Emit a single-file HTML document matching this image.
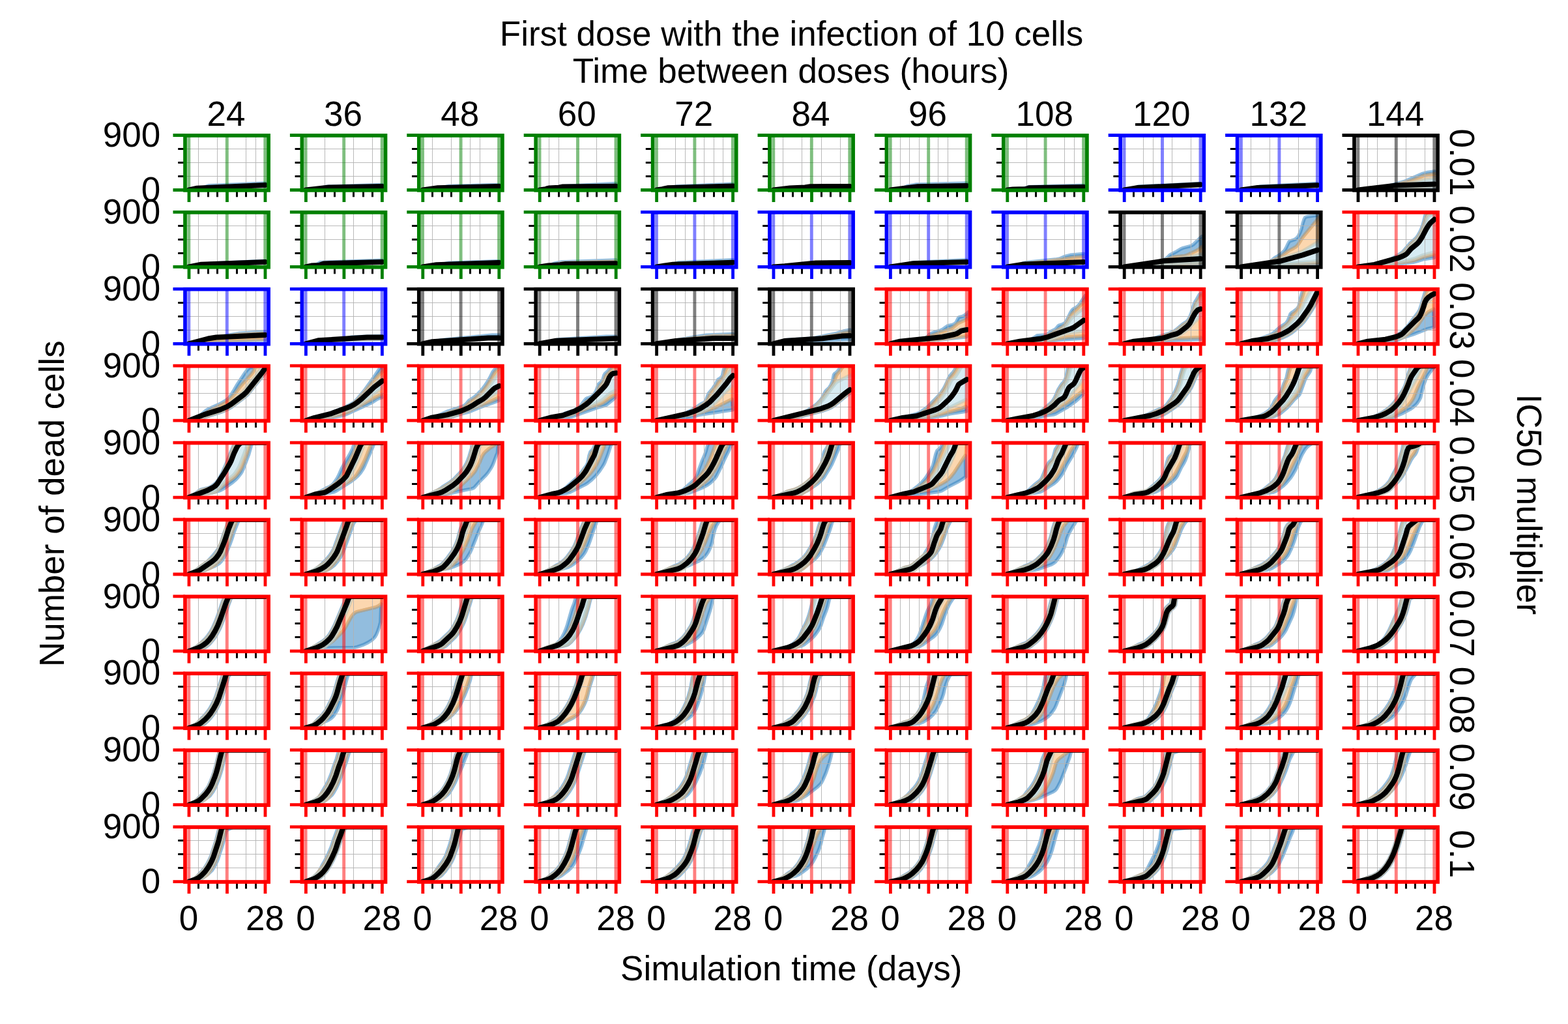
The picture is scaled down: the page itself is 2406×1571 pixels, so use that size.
<!DOCTYPE html>
<html lang="en"><head><meta charset="utf-8"><title>First dose with the infection of 10 cells</title>
<style>html,body{margin:0;padding:0;background:#fff}body{width:2406px;height:1571px;overflow:hidden}svg{display:block}text{font-family:"Liberation Sans",Arial,Helvetica,sans-serif;font-size:53px;fill:#000}.g{stroke:#b0b0b0;stroke-width:.88;fill:none}.m{stroke:#000;stroke-width:3;fill:none}.k{stroke:#000;stroke-width:8;fill:none;stroke-linejoin:round;stroke-linecap:round}.b{fill:#267cbd;stroke:#267cbd;fill-opacity:.5;stroke-opacity:.5;stroke-width:5.3;stroke-linejoin:round}.o{fill:#f9af5f;stroke:#f9af5f;fill-opacity:.5;stroke-opacity:.5;stroke-width:5.3;stroke-linejoin:round}.l{fill:#add8e6;stroke:#add8e6;fill-opacity:.5;stroke-opacity:.5;stroke-width:5.3;stroke-linejoin:round}.s{fill:none;stroke-width:5.7}.t{fill:none;stroke-width:4.8}.v{fill:none;stroke-opacity:.5;stroke-width:4.9}</style></head><body>
<svg xmlns="http://www.w3.org/2000/svg" width="2406" height="1571" viewBox="0 0 2406 1571">
<rect width="2406" height="1571" fill="#fff"/>
<defs>
<clipPath id="c0_0"><rect x="284" y="207.9" width="128.1" height="84"/></clipPath>
<clipPath id="c0_1"><rect x="463.4" y="207.9" width="128.1" height="84"/></clipPath>
<clipPath id="c0_2"><rect x="642.8" y="207.9" width="128.1" height="84"/></clipPath>
<clipPath id="c0_3"><rect x="822.2" y="207.9" width="128.1" height="84"/></clipPath>
<clipPath id="c0_4"><rect x="1001.6" y="207.9" width="128.1" height="84"/></clipPath>
<clipPath id="c0_5"><rect x="1181" y="207.9" width="128.1" height="84"/></clipPath>
<clipPath id="c0_6"><rect x="1360.4" y="207.9" width="128.1" height="84"/></clipPath>
<clipPath id="c0_7"><rect x="1539.8" y="207.9" width="128.1" height="84"/></clipPath>
<clipPath id="c0_8"><rect x="1719.2" y="207.9" width="128.1" height="84"/></clipPath>
<clipPath id="c0_9"><rect x="1898.6" y="207.9" width="128.1" height="84"/></clipPath>
<clipPath id="c0_10"><rect x="2078" y="207.9" width="128.1" height="84"/></clipPath>
<clipPath id="c1_0"><rect x="284" y="325.8" width="128.1" height="84"/></clipPath>
<clipPath id="c1_1"><rect x="463.4" y="325.8" width="128.1" height="84"/></clipPath>
<clipPath id="c1_2"><rect x="642.8" y="325.8" width="128.1" height="84"/></clipPath>
<clipPath id="c1_3"><rect x="822.2" y="325.8" width="128.1" height="84"/></clipPath>
<clipPath id="c1_4"><rect x="1001.6" y="325.8" width="128.1" height="84"/></clipPath>
<clipPath id="c1_5"><rect x="1181" y="325.8" width="128.1" height="84"/></clipPath>
<clipPath id="c1_6"><rect x="1360.4" y="325.8" width="128.1" height="84"/></clipPath>
<clipPath id="c1_7"><rect x="1539.8" y="325.8" width="128.1" height="84"/></clipPath>
<clipPath id="c1_8"><rect x="1719.2" y="325.8" width="128.1" height="84"/></clipPath>
<clipPath id="c1_9"><rect x="1898.6" y="325.8" width="128.1" height="84"/></clipPath>
<clipPath id="c1_10"><rect x="2078" y="325.8" width="128.1" height="84"/></clipPath>
<clipPath id="c2_0"><rect x="284" y="443.7" width="128.1" height="84"/></clipPath>
<clipPath id="c2_1"><rect x="463.4" y="443.7" width="128.1" height="84"/></clipPath>
<clipPath id="c2_2"><rect x="642.8" y="443.7" width="128.1" height="84"/></clipPath>
<clipPath id="c2_3"><rect x="822.2" y="443.7" width="128.1" height="84"/></clipPath>
<clipPath id="c2_4"><rect x="1001.6" y="443.7" width="128.1" height="84"/></clipPath>
<clipPath id="c2_5"><rect x="1181" y="443.7" width="128.1" height="84"/></clipPath>
<clipPath id="c2_6"><rect x="1360.4" y="443.7" width="128.1" height="84"/></clipPath>
<clipPath id="c2_7"><rect x="1539.8" y="443.7" width="128.1" height="84"/></clipPath>
<clipPath id="c2_8"><rect x="1719.2" y="443.7" width="128.1" height="84"/></clipPath>
<clipPath id="c2_9"><rect x="1898.6" y="443.7" width="128.1" height="84"/></clipPath>
<clipPath id="c2_10"><rect x="2078" y="443.7" width="128.1" height="84"/></clipPath>
<clipPath id="c3_0"><rect x="284" y="561.6" width="128.1" height="84"/></clipPath>
<clipPath id="c3_1"><rect x="463.4" y="561.6" width="128.1" height="84"/></clipPath>
<clipPath id="c3_2"><rect x="642.8" y="561.6" width="128.1" height="84"/></clipPath>
<clipPath id="c3_3"><rect x="822.2" y="561.6" width="128.1" height="84"/></clipPath>
<clipPath id="c3_4"><rect x="1001.6" y="561.6" width="128.1" height="84"/></clipPath>
<clipPath id="c3_5"><rect x="1181" y="561.6" width="128.1" height="84"/></clipPath>
<clipPath id="c3_6"><rect x="1360.4" y="561.6" width="128.1" height="84"/></clipPath>
<clipPath id="c3_7"><rect x="1539.8" y="561.6" width="128.1" height="84"/></clipPath>
<clipPath id="c3_8"><rect x="1719.2" y="561.6" width="128.1" height="84"/></clipPath>
<clipPath id="c3_9"><rect x="1898.6" y="561.6" width="128.1" height="84"/></clipPath>
<clipPath id="c3_10"><rect x="2078" y="561.6" width="128.1" height="84"/></clipPath>
<clipPath id="c4_0"><rect x="284" y="679.5" width="128.1" height="84"/></clipPath>
<clipPath id="c4_1"><rect x="463.4" y="679.5" width="128.1" height="84"/></clipPath>
<clipPath id="c4_2"><rect x="642.8" y="679.5" width="128.1" height="84"/></clipPath>
<clipPath id="c4_3"><rect x="822.2" y="679.5" width="128.1" height="84"/></clipPath>
<clipPath id="c4_4"><rect x="1001.6" y="679.5" width="128.1" height="84"/></clipPath>
<clipPath id="c4_5"><rect x="1181" y="679.5" width="128.1" height="84"/></clipPath>
<clipPath id="c4_6"><rect x="1360.4" y="679.5" width="128.1" height="84"/></clipPath>
<clipPath id="c4_7"><rect x="1539.8" y="679.5" width="128.1" height="84"/></clipPath>
<clipPath id="c4_8"><rect x="1719.2" y="679.5" width="128.1" height="84"/></clipPath>
<clipPath id="c4_9"><rect x="1898.6" y="679.5" width="128.1" height="84"/></clipPath>
<clipPath id="c4_10"><rect x="2078" y="679.5" width="128.1" height="84"/></clipPath>
<clipPath id="c5_0"><rect x="284" y="797.4" width="128.1" height="84"/></clipPath>
<clipPath id="c5_1"><rect x="463.4" y="797.4" width="128.1" height="84"/></clipPath>
<clipPath id="c5_2"><rect x="642.8" y="797.4" width="128.1" height="84"/></clipPath>
<clipPath id="c5_3"><rect x="822.2" y="797.4" width="128.1" height="84"/></clipPath>
<clipPath id="c5_4"><rect x="1001.6" y="797.4" width="128.1" height="84"/></clipPath>
<clipPath id="c5_5"><rect x="1181" y="797.4" width="128.1" height="84"/></clipPath>
<clipPath id="c5_6"><rect x="1360.4" y="797.4" width="128.1" height="84"/></clipPath>
<clipPath id="c5_7"><rect x="1539.8" y="797.4" width="128.1" height="84"/></clipPath>
<clipPath id="c5_8"><rect x="1719.2" y="797.4" width="128.1" height="84"/></clipPath>
<clipPath id="c5_9"><rect x="1898.6" y="797.4" width="128.1" height="84"/></clipPath>
<clipPath id="c5_10"><rect x="2078" y="797.4" width="128.1" height="84"/></clipPath>
<clipPath id="c6_0"><rect x="284" y="915.3" width="128.1" height="84"/></clipPath>
<clipPath id="c6_1"><rect x="463.4" y="915.3" width="128.1" height="84"/></clipPath>
<clipPath id="c6_2"><rect x="642.8" y="915.3" width="128.1" height="84"/></clipPath>
<clipPath id="c6_3"><rect x="822.2" y="915.3" width="128.1" height="84"/></clipPath>
<clipPath id="c6_4"><rect x="1001.6" y="915.3" width="128.1" height="84"/></clipPath>
<clipPath id="c6_5"><rect x="1181" y="915.3" width="128.1" height="84"/></clipPath>
<clipPath id="c6_6"><rect x="1360.4" y="915.3" width="128.1" height="84"/></clipPath>
<clipPath id="c6_7"><rect x="1539.8" y="915.3" width="128.1" height="84"/></clipPath>
<clipPath id="c6_8"><rect x="1719.2" y="915.3" width="128.1" height="84"/></clipPath>
<clipPath id="c6_9"><rect x="1898.6" y="915.3" width="128.1" height="84"/></clipPath>
<clipPath id="c6_10"><rect x="2078" y="915.3" width="128.1" height="84"/></clipPath>
<clipPath id="c7_0"><rect x="284" y="1033.2" width="128.1" height="84"/></clipPath>
<clipPath id="c7_1"><rect x="463.4" y="1033.2" width="128.1" height="84"/></clipPath>
<clipPath id="c7_2"><rect x="642.8" y="1033.2" width="128.1" height="84"/></clipPath>
<clipPath id="c7_3"><rect x="822.2" y="1033.2" width="128.1" height="84"/></clipPath>
<clipPath id="c7_4"><rect x="1001.6" y="1033.2" width="128.1" height="84"/></clipPath>
<clipPath id="c7_5"><rect x="1181" y="1033.2" width="128.1" height="84"/></clipPath>
<clipPath id="c7_6"><rect x="1360.4" y="1033.2" width="128.1" height="84"/></clipPath>
<clipPath id="c7_7"><rect x="1539.8" y="1033.2" width="128.1" height="84"/></clipPath>
<clipPath id="c7_8"><rect x="1719.2" y="1033.2" width="128.1" height="84"/></clipPath>
<clipPath id="c7_9"><rect x="1898.6" y="1033.2" width="128.1" height="84"/></clipPath>
<clipPath id="c7_10"><rect x="2078" y="1033.2" width="128.1" height="84"/></clipPath>
<clipPath id="c8_0"><rect x="284" y="1151.1" width="128.1" height="84"/></clipPath>
<clipPath id="c8_1"><rect x="463.4" y="1151.1" width="128.1" height="84"/></clipPath>
<clipPath id="c8_2"><rect x="642.8" y="1151.1" width="128.1" height="84"/></clipPath>
<clipPath id="c8_3"><rect x="822.2" y="1151.1" width="128.1" height="84"/></clipPath>
<clipPath id="c8_4"><rect x="1001.6" y="1151.1" width="128.1" height="84"/></clipPath>
<clipPath id="c8_5"><rect x="1181" y="1151.1" width="128.1" height="84"/></clipPath>
<clipPath id="c8_6"><rect x="1360.4" y="1151.1" width="128.1" height="84"/></clipPath>
<clipPath id="c8_7"><rect x="1539.8" y="1151.1" width="128.1" height="84"/></clipPath>
<clipPath id="c8_8"><rect x="1719.2" y="1151.1" width="128.1" height="84"/></clipPath>
<clipPath id="c8_9"><rect x="1898.6" y="1151.1" width="128.1" height="84"/></clipPath>
<clipPath id="c8_10"><rect x="2078" y="1151.1" width="128.1" height="84"/></clipPath>
<clipPath id="c9_0"><rect x="284" y="1269" width="128.1" height="84"/></clipPath>
<clipPath id="c9_1"><rect x="463.4" y="1269" width="128.1" height="84"/></clipPath>
<clipPath id="c9_2"><rect x="642.8" y="1269" width="128.1" height="84"/></clipPath>
<clipPath id="c9_3"><rect x="822.2" y="1269" width="128.1" height="84"/></clipPath>
<clipPath id="c9_4"><rect x="1001.6" y="1269" width="128.1" height="84"/></clipPath>
<clipPath id="c9_5"><rect x="1181" y="1269" width="128.1" height="84"/></clipPath>
<clipPath id="c9_6"><rect x="1360.4" y="1269" width="128.1" height="84"/></clipPath>
<clipPath id="c9_7"><rect x="1539.8" y="1269" width="128.1" height="84"/></clipPath>
<clipPath id="c9_8"><rect x="1719.2" y="1269" width="128.1" height="84"/></clipPath>
<clipPath id="c9_9"><rect x="1898.6" y="1269" width="128.1" height="84"/></clipPath>
<clipPath id="c9_10"><rect x="2078" y="1269" width="128.1" height="84"/></clipPath>
</defs>
<g>
<g clip-path="url(#c0_0)">
<path class="b" d="M290 291.4 303.2 290.7 309.7 288.8 320 284.7 407.1 280.8 407 284.1 302.5 288.7 290 291.5Z"/>
</g>
<path class="g" d="M304.5 207.5V291.5M333.5 207.5V291.5M377.5 207.5V291.5M392.5 207.5V291.5"/>
<path class="g" d="M284 270.5H412.1M284 249.5H412.1M284 228.5H412.1"/>
<path class="v" d="M289.8 207.5V291.5M348.3 207.5V291.5M406.8 207.5V291.5" stroke="#008000"/>
<path class="k" clip-path="url(#c0_0)" d="M290 291.5 302.5 288.7 407 284.1"/>
<path class="m" d="M304.5 291.5V302.3M319.5 291.5V302.3M333.5 291.5V302.3M363.5 291.5V302.3M377.5 291.5V302.3M392.5 291.5V302.3M284 270.5H273.2M284 249.5H273.2M284 228.5H273.2"/>
<path class="t" d="M290 291.5V310M348.5 291.5V310M407 291.5V310M284 291.5H265.5M284 207.5H265.5" stroke="#008000"/>
<rect class="s" x="284" y="207.9" width="128.1" height="84" stroke="#008000"/>
</g>
<g>
<g clip-path="url(#c0_1)">
<path class="b" d="M469.4 291.4 482.5 290.9 501.3 286.1 586.4 283.4 586.4 285.9 504.9 287.5 469.4 291.5Z"/>
</g>
<path class="g" d="M498.5 207.5V291.5M542.5 207.5V291.5M571.5 207.5V291.5"/>
<path class="g" d="M463.4 270.5H591.5M463.4 249.5H591.5M463.4 228.5H591.5"/>
<path class="v" d="M469.1 207.5V291.5M527.7 207.5V291.5M586.2 207.5V291.5" stroke="#008000"/>
<path class="k" clip-path="url(#c0_1)" d="M469.4 291.5 504.9 287.5 586.4 285.9"/>
<path class="m" d="M484.5 291.5V302.3M498.5 291.5V302.3M513.5 291.5V302.3M542.5 291.5V302.3M557.5 291.5V302.3M571.5 291.5V302.3M463.4 270.5H452.6M463.4 249.5H452.6M463.4 228.5H452.6"/>
<path class="t" d="M469.4 291.5V310M527.9 291.5V310M586.4 291.5V310M463.4 291.5H444.9M463.4 207.5H444.9" stroke="#008000"/>
<rect class="s" x="463.4" y="207.9" width="128.1" height="84" stroke="#008000"/>
</g>
<g>
<g clip-path="url(#c0_2)">
<path class="b" d="M648.8 291.4 662 291 688.9 285.3 765.8 283.4 765.8 285.9 671.8 288.2 648.8 291.5Z"/>
</g>
<path class="g" d="M663.5 207.5V291.5M692.5 207.5V291.5M721.5 207.5V291.5M736.5 207.5V291.5"/>
<path class="g" d="M642.8 270.5H770.9M642.8 249.5H770.9M642.8 228.5H770.9"/>
<path class="v" d="M648.5 207.5V291.5M707.1 207.5V291.5M765.6 207.5V291.5" stroke="#008000"/>
<path class="k" clip-path="url(#c0_2)" d="M648.8 291.5 671.8 288.2 765.8 285.9"/>
<path class="m" d="M663.5 291.5V302.3M678.5 291.5V302.3M692.5 291.5V302.3M721.5 291.5V302.3M736.5 291.5V302.3M751.5 291.5V302.3M642.8 270.5H632M642.8 249.5H632M642.8 228.5H632"/>
<path class="t" d="M648.8 291.5V310M707.3 291.5V310M765.8 291.5V310M642.8 291.5H624.3M642.8 207.5H624.3" stroke="#008000"/>
<rect class="s" x="642.8" y="207.9" width="128.1" height="84" stroke="#008000"/>
</g>
<g>
<g clip-path="url(#c0_3)">
<path class="b" d="M828.2 291.4 841.4 291 862.2 285.7 945.2 281.5 945.2 285.8 863.7 286.4 857.5 287.7 842.9 288.5 840.8 288.9 836.6 290.3 828.2 291.5Z"/>
</g>
<path class="g" d="M842.5 207.5V291.5M857.5 207.5V291.5M915.5 207.5V291.5"/>
<path class="g" d="M822.2 270.5H950.3M822.2 249.5H950.3M822.2 228.5H950.3"/>
<path class="v" d="M828 207.5V291.5M886.5 207.5V291.5M945 207.5V291.5" stroke="#008000"/>
<path class="k" clip-path="url(#c0_3)" d="M828.2 291.5 836.6 290.3 840.8 288.9 842.9 288.5 857.5 287.7 863.7 286.4 945.2 285.8"/>
<path class="m" d="M842.5 291.5V302.3M857.5 291.5V302.3M872.5 291.5V302.3M901.5 291.5V302.3M915.5 291.5V302.3M930.5 291.5V302.3M822.2 270.5H811.4M822.2 249.5H811.4M822.2 228.5H811.4"/>
<path class="t" d="M828.2 291.5V310M886.7 291.5V310M945.2 291.5V310M822.2 291.5H803.7M822.2 207.5H803.7" stroke="#008000"/>
<rect class="s" x="822.2" y="207.9" width="128.1" height="84" stroke="#008000"/>
</g>
<g>
<g clip-path="url(#c0_4)">
<path class="b" d="M1007.6 291.4 1020.8 290.7 1037.5 285.9 1124.7 282.1 1124.6 285.6 1024.3 288.3 1016 290.2 1007.6 291.5Z"/>
</g>
<path class="g" d="M1036.5 207.5V291.5M1051.5 207.5V291.5M1080.5 207.5V291.5M1095.5 207.5V291.5M1109.5 207.5V291.5"/>
<path class="g" d="M1001.6 270.5H1129.7M1001.6 249.5H1129.7M1001.6 228.5H1129.7"/>
<path class="v" d="M1007.4 207.5V291.5M1065.9 207.5V291.5M1124.4 207.5V291.5" stroke="#008000"/>
<path class="k" clip-path="url(#c0_4)" d="M1007.6 291.5 1016 290.2 1024.3 288.3 1124.6 285.6"/>
<path class="m" d="M1022.5 291.5V302.3M1036.5 291.5V302.3M1051.5 291.5V302.3M1080.5 291.5V302.3M1095.5 291.5V302.3M1109.5 291.5V302.3M1001.6 270.5H990.8M1001.6 249.5H990.8M1001.6 228.5H990.8"/>
<path class="t" d="M1007.6 291.5V310M1066.1 291.5V310M1124.6 291.5V310M1001.6 291.5H983.1M1001.6 207.5H983.1" stroke="#008000"/>
<rect class="s" x="1001.6" y="207.9" width="128.1" height="84" stroke="#008000"/>
</g>
<g>
<g clip-path="url(#c0_5)">
</g>
<path class="g" d="M1201.5 207.5V291.5M1230.5 207.5V291.5M1260.5 207.5V291.5M1289.5 207.5V291.5"/>
<path class="g" d="M1181 270.5H1309.1M1181 249.5H1309.1M1181 228.5H1309.1"/>
<path class="v" d="M1186.8 207.5V291.5M1245.3 207.5V291.5M1303.8 207.5V291.5" stroke="#008000"/>
<path class="k" clip-path="url(#c0_5)" d="M1187 291.5 1212.1 288.4 1235.1 287.4 1243.4 286.3 1304 285.9"/>
<path class="m" d="M1201.5 291.5V302.3M1216.5 291.5V302.3M1230.5 291.5V302.3M1260.5 291.5V302.3M1274.5 291.5V302.3M1289.5 291.5V302.3M1181 270.5H1170.2M1181 249.5H1170.2M1181 228.5H1170.2"/>
<path class="t" d="M1187 291.5V310M1245.5 291.5V310M1304 291.5V310M1181 291.5H1162.5M1181 207.5H1162.5" stroke="#008000"/>
<rect class="s" x="1181" y="207.9" width="128.1" height="84" stroke="#008000"/>
</g>
<g>
<g clip-path="url(#c0_6)">
<path class="b" d="M1366.4 291.4 1379.7 290.4 1386.3 288.2 1392.4 285.4 1406.4 282.9 1483.4 280.8 1483.4 285 1408.2 286.3 1366.4 291.5Z"/>
</g>
<path class="g" d="M1381.5 207.5V291.5M1395.5 207.5V291.5M1410.5 207.5V291.5M1439.5 207.5V291.5M1454.5 207.5V291.5"/>
<path class="g" d="M1360.4 270.5H1488.5M1360.4 249.5H1488.5M1360.4 228.5H1488.5"/>
<path class="v" d="M1366.2 207.5V291.5M1424.7 207.5V291.5M1483.2 207.5V291.5" stroke="#008000"/>
<path class="k" clip-path="url(#c0_6)" d="M1366.4 291.5 1408.2 286.3 1483.4 285"/>
<path class="m" d="M1381.5 291.5V302.3M1395.5 291.5V302.3M1410.5 291.5V302.3M1439.5 291.5V302.3M1454.5 291.5V302.3M1468.5 291.5V302.3M1360.4 270.5H1349.6M1360.4 249.5H1349.6M1360.4 228.5H1349.6"/>
<path class="t" d="M1366.4 291.5V310M1424.9 291.5V310M1483.4 291.5V310M1360.4 291.5H1341.9M1360.4 207.5H1341.9" stroke="#008000"/>
<rect class="s" x="1360.4" y="207.9" width="128.1" height="84" stroke="#008000"/>
</g>
<g>
<g clip-path="url(#c0_7)">
<path class="b" d="M1545.8 291.4 1558.8 292 1565.2 290.9 1577.8 286.7 1662.8 284.1 1662.8 287 1579.2 288.3 1575.1 289.8 1573 290 1554.2 290.4 1545.8 291.5Z"/>
</g>
<path class="g" d="M1575.5 207.5V291.5M1633.5 207.5V291.5M1648.5 207.5V291.5"/>
<path class="g" d="M1539.8 270.5H1667.9M1539.8 249.5H1667.9M1539.8 228.5H1667.9"/>
<path class="v" d="M1545.5 207.5V291.5M1604.1 207.5V291.5M1662.6 207.5V291.5" stroke="#008000"/>
<path class="k" clip-path="url(#c0_7)" d="M1545.8 291.5 1554.2 290.4 1573 290 1575.1 289.8 1579.2 288.3 1662.8 287"/>
<path class="m" d="M1560.5 291.5V302.3M1575.5 291.5V302.3M1589.5 291.5V302.3M1618.5 291.5V302.3M1633.5 291.5V302.3M1648.5 291.5V302.3M1539.8 270.5H1529M1539.8 249.5H1529M1539.8 228.5H1529"/>
<path class="t" d="M1545.8 291.5V310M1604.3 291.5V310M1662.8 291.5V310M1539.8 291.5H1521.3M1539.8 207.5H1521.3" stroke="#008000"/>
<rect class="s" x="1539.8" y="207.9" width="128.1" height="84" stroke="#008000"/>
</g>
<g>
<g clip-path="url(#c0_8)">
<path class="b" d="M1725.2 291.4 1738.8 289.4 1745 286.6 1746.8 286 1842.3 281.5 1842.2 283.2 1746.1 288 1725.2 291.5Z"/>
</g>
<path class="g" d="M1754.5 207.5V291.5M1769.5 207.5V291.5M1798.5 207.5V291.5M1827.5 207.5V291.5"/>
<path class="g" d="M1719.2 270.5H1847.3M1719.2 249.5H1847.3M1719.2 228.5H1847.3"/>
<path class="v" d="M1725 207.5V291.5M1783.5 207.5V291.5M1842 207.5V291.5" stroke="#0000ff"/>
<path class="k" clip-path="url(#c0_8)" d="M1725.2 291.5 1746.1 288 1842.2 283.2"/>
<path class="m" d="M1739.5 291.5V302.3M1754.5 291.5V302.3M1769.5 291.5V302.3M1798.5 291.5V302.3M1812.5 291.5V302.3M1827.5 291.5V302.3M1719.2 270.5H1708.4M1719.2 249.5H1708.4M1719.2 228.5H1708.4"/>
<path class="t" d="M1725.2 291.5V310M1783.7 291.5V310M1842.2 291.5V310M1719.2 291.5H1700.7M1719.2 207.5H1700.7" stroke="#0000ff"/>
<rect class="s" x="1719.2" y="207.9" width="128.1" height="84" stroke="#0000ff"/>
</g>
<g>
<g clip-path="url(#c0_9)">
<path class="b" d="M1904.6 291.4 1917.8 289.8 1934.3 285.9 2021.6 281.5 2021.6 284.2 1929.7 288 1904.6 291.5Z"/>
</g>
<path class="g" d="M1919.5 207.5V291.5M1948.5 207.5V291.5M1992.5 207.5V291.5"/>
<path class="g" d="M1898.6 270.5H2026.7M1898.6 249.5H2026.7M1898.6 228.5H2026.7"/>
<path class="v" d="M1904.4 207.5V291.5M1962.9 207.5V291.5M2021.4 207.5V291.5" stroke="#0000ff"/>
<path class="k" clip-path="url(#c0_9)" d="M1904.6 291.5 1929.7 288 2021.6 284.2"/>
<path class="m" d="M1919.5 291.5V302.3M1933.5 291.5V302.3M1948.5 291.5V302.3M1977.5 291.5V302.3M1992.5 291.5V302.3M2006.5 291.5V302.3M1898.6 270.5H1887.8M1898.6 249.5H1887.8M1898.6 228.5H1887.8"/>
<path class="t" d="M1904.6 291.5V310M1963.1 291.5V310M2021.6 291.5V310M1898.6 291.5H1880.1M1898.6 207.5H1880.1" stroke="#0000ff"/>
<rect class="s" x="1898.6" y="207.9" width="128.1" height="84" stroke="#0000ff"/>
</g>
<g>
<g clip-path="url(#c0_10)">
<path class="b" d="M2084 291.4 2096.9 292 2124.3 287 2155.9 278 2183.1 266.2 2188.9 264.7 2201.4 262.9 2201.4 266.7 2185.1 269.3 2170.5 275.3 2143.1 283.3 2096.9 292.2 2084 291.4Z"/>
<path class="b" d="M2084 291.4 2096.5 288.7 2200.9 285.6 2200.9 286.3 2096.5 288.7 2084 291.4Z"/>
<path class="o" d="M2084 291.4 2096.9 292.2 2143.1 283.3 2170.5 275.3 2185.1 269.3 2201.4 266.7 2201.4 273.5 2186.8 275.7 2149.3 284.4 2096.9 292.2 2084 291.4Z"/>
<path class="o" d="M2084 291.4 2096.5 288.5 2200.9 284.8 2200.9 285.6 2096.5 288.7 2084 291.4Z"/>
<path class="l" d="M2084 291.4 2096.9 292.2 2149.3 284.4 2186.8 275.7 2201.4 273.5 2200.9 284.8 2096.5 288.5 2084 291.4Z"/>
</g>
<path class="g" d="M2098.5 207.5V291.5M2113.5 207.5V291.5M2157.5 207.5V291.5M2186.5 207.5V291.5"/>
<path class="g" d="M2078 270.5H2206.1M2078 249.5H2206.1M2078 228.5H2206.1"/>
<path class="v" d="M2083.8 207.5V291.5M2142.3 207.5V291.5M2200.8 207.5V291.5" stroke="#000000"/>
<path class="k" clip-path="url(#c0_10)" d="M2084 291.4 2140.4 284.6 2201 282.5"/>
<path class="m" d="M2098.5 291.5V302.3M2113.5 291.5V302.3M2127.5 291.5V302.3M2157.5 291.5V302.3M2171.5 291.5V302.3M2186.5 291.5V302.3M2078 270.5H2067.2M2078 249.5H2067.2M2078 228.5H2067.2"/>
<path class="t" d="M2084 291.5V310M2142.5 291.5V310M2201 291.5V310M2078 291.5H2059.5M2078 207.5H2059.5" stroke="#000000"/>
<rect class="s" x="2078" y="207.9" width="128.1" height="84" stroke="#000000"/>
</g>
<g>
<g clip-path="url(#c1_0)">
<path class="b" d="M290 409.4 303.3 407.8 321.7 404.2 407.1 400.1 407 401.9 308.8 405.8 290 409.4Z"/>
</g>
<path class="g" d="M304.5 325.4V409.4M333.5 325.4V409.4M377.5 325.4V409.4M392.5 325.4V409.4"/>
<path class="g" d="M284 367.5H412.1M284 346.5H412.1"/>
<path class="v" d="M289.8 325.4V409.4M348.3 325.4V409.4M406.8 325.4V409.4" stroke="#008000"/>
<path class="k" clip-path="url(#c1_0)" d="M290 409.4 308.8 405.8 407 401.9"/>
<path class="m" d="M304.5 409.4V420.2M319.5 409.4V420.2M333.5 409.4V420.2M363.5 409.4V420.2M377.5 409.4V420.2M392.5 409.4V420.2M284 388.5H273.2M284 367.5H273.2M284 346.5H273.2"/>
<path class="t" d="M290 409.4V427.9M348.5 409.4V427.9M407 409.4V427.9M284 409.4H265.5M284 325.4H265.5" stroke="#008000"/>
<rect class="s" x="284" y="325.8" width="128.1" height="84" stroke="#008000"/>
</g>
<g>
<g clip-path="url(#c1_1)">
<path class="b" d="M469.4 409.4 480.6 408.1 483.1 407.6 489.6 403.3 491.3 402.4 586.4 399.1 586.4 401.9 496.6 404.4 490.3 406.7 488.2 407 477.8 407.6 469.4 409.4Z"/>
</g>
<path class="g" d="M498.5 325.4V409.4M542.5 325.4V409.4M571.5 325.4V409.4"/>
<path class="g" d="M463.4 367.5H591.5M463.4 346.5H591.5"/>
<path class="v" d="M469.1 325.4V409.4M527.7 325.4V409.4M586.2 325.4V409.4" stroke="#008000"/>
<path class="k" clip-path="url(#c1_1)" d="M469.4 409.4 477.8 407.6 488.2 407 490.3 406.7 496.6 404.4 586.4 401.9"/>
<path class="m" d="M484.5 409.4V420.2M498.5 409.4V420.2M513.5 409.4V420.2M542.5 409.4V420.2M557.5 409.4V420.2M571.5 409.4V420.2M463.4 388.5H452.6M463.4 367.5H452.6M463.4 346.5H452.6"/>
<path class="t" d="M469.4 409.4V427.9M527.9 409.4V427.9M586.4 409.4V427.9M463.4 409.4H444.9M463.4 325.4H444.9" stroke="#008000"/>
<rect class="s" x="463.4" y="325.8" width="128.1" height="84" stroke="#008000"/>
</g>
<g>
<g clip-path="url(#c1_2)">
<path class="b" d="M648.8 409.4 662 409 688.9 403.2 765.9 400.7 765.8 403 669.7 406.2 648.8 409.4Z"/>
</g>
<path class="g" d="M663.5 325.4V409.4M692.5 325.4V409.4M721.5 325.4V409.4M736.5 325.4V409.4"/>
<path class="g" d="M642.8 367.5H770.9M642.8 346.5H770.9"/>
<path class="v" d="M648.5 325.4V409.4M707.1 325.4V409.4M765.6 325.4V409.4" stroke="#008000"/>
<path class="k" clip-path="url(#c1_2)" d="M648.8 409.4 669.7 406.2 765.8 403"/>
<path class="m" d="M663.5 409.4V420.2M678.5 409.4V420.2M692.5 409.4V420.2M721.5 409.4V420.2M736.5 409.4V420.2M751.5 409.4V420.2M642.8 388.5H632M642.8 367.5H632M642.8 346.5H632"/>
<path class="t" d="M648.8 409.4V427.9M707.3 409.4V427.9M765.8 409.4V427.9M642.8 409.4H624.3M642.8 325.4H624.3" stroke="#008000"/>
<rect class="s" x="642.8" y="325.8" width="128.1" height="84" stroke="#008000"/>
</g>
<g>
<g clip-path="url(#c1_3)">
<path class="b" d="M828.2 409.4 839.3 408.8 841.7 408.5 844.1 407.4 850.1 404 862 401.8 945.2 398.8 945.2 401 864.2 403.3 841.4 408.6 828.2 409.4Z"/>
<path class="o" d="M828.2 409.4 841.4 408.6 864.2 403.3 945.2 401 945.2 404.2 867.9 405 859.6 406.2 840.8 407.5 828.2 409.4Z"/>
</g>
<path class="g" d="M842.5 325.4V409.4M857.5 325.4V409.4M915.5 325.4V409.4"/>
<path class="g" d="M822.2 367.5H950.3M822.2 346.5H950.3"/>
<path class="v" d="M828 325.4V409.4M886.5 325.4V409.4M945 325.4V409.4" stroke="#008000"/>
<path class="k" clip-path="url(#c1_3)" d="M828.2 409.4 840.8 407.5 859.6 406.2 867.9 405 945.2 404.2"/>
<path class="m" d="M842.5 409.4V420.2M857.5 409.4V420.2M872.5 409.4V420.2M901.5 409.4V420.2M915.5 409.4V420.2M930.5 409.4V420.2M822.2 388.5H811.4M822.2 367.5H811.4M822.2 346.5H811.4"/>
<path class="t" d="M828.2 409.4V427.9M886.7 409.4V427.9M945.2 409.4V427.9M822.2 409.4H803.7M822.2 325.4H803.7" stroke="#008000"/>
<rect class="s" x="822.2" y="325.8" width="128.1" height="84" stroke="#008000"/>
</g>
<g>
<g clip-path="url(#c1_4)">
<path class="b" d="M1007.6 409.4 1020.8 408.6 1041.6 402.6 1124.7 398.6 1124.6 402.7 1032.7 405.7 1007.6 409.4Z"/>
</g>
<path class="g" d="M1036.5 325.4V409.4M1051.5 325.4V409.4M1080.5 325.4V409.4M1095.5 325.4V409.4M1109.5 325.4V409.4"/>
<path class="g" d="M1001.6 367.5H1129.7M1001.6 346.5H1129.7"/>
<path class="v" d="M1007.4 325.4V409.4M1065.9 325.4V409.4M1124.4 325.4V409.4" stroke="#0000ff"/>
<path class="k" clip-path="url(#c1_4)" d="M1007.6 409.4 1032.7 405.7 1124.6 402.7"/>
<path class="m" d="M1022.5 409.4V420.2M1036.5 409.4V420.2M1051.5 409.4V420.2M1080.5 409.4V420.2M1095.5 409.4V420.2M1109.5 409.4V420.2M1001.6 388.5H990.8M1001.6 367.5H990.8M1001.6 346.5H990.8"/>
<path class="t" d="M1007.6 409.4V427.9M1066.1 409.4V427.9M1124.6 409.4V427.9M1001.6 409.4H983.1M1001.6 325.4H983.1" stroke="#0000ff"/>
<rect class="s" x="1001.6" y="325.8" width="128.1" height="84" stroke="#0000ff"/>
</g>
<g>
<g clip-path="url(#c1_5)">
</g>
<path class="g" d="M1201.5 325.4V409.4M1230.5 325.4V409.4M1260.5 325.4V409.4M1289.5 325.4V409.4"/>
<path class="g" d="M1181 367.5H1309.1M1181 346.5H1309.1"/>
<path class="v" d="M1186.8 325.4V409.4M1245.3 325.4V409.4M1303.8 325.4V409.4" stroke="#0000ff"/>
<path class="k" clip-path="url(#c1_5)" d="M1187 409.4 1203.7 408.2 1251.8 403.5 1304 403.1"/>
<path class="m" d="M1201.5 409.4V420.2M1216.5 409.4V420.2M1230.5 409.4V420.2M1260.5 409.4V420.2M1274.5 409.4V420.2M1289.5 409.4V420.2M1181 388.5H1170.2M1181 367.5H1170.2M1181 346.5H1170.2"/>
<path class="t" d="M1187 409.4V427.9M1245.5 409.4V427.9M1304 409.4V427.9M1181 409.4H1162.5M1181 325.4H1162.5" stroke="#0000ff"/>
<rect class="s" x="1181" y="325.8" width="128.1" height="84" stroke="#0000ff"/>
</g>
<g>
<g clip-path="url(#c1_6)">
<path class="b" d="M1366.4 409.4 1379.7 408.5 1400.4 402.6 1483.4 398.6 1483.4 401.9 1401.9 404.3 1366.4 409.4Z"/>
</g>
<path class="g" d="M1381.5 325.4V409.4M1395.5 325.4V409.4M1410.5 325.4V409.4M1439.5 325.4V409.4M1454.5 325.4V409.4"/>
<path class="g" d="M1360.4 367.5H1488.5M1360.4 346.5H1488.5"/>
<path class="v" d="M1366.2 325.4V409.4M1424.7 325.4V409.4M1483.2 325.4V409.4" stroke="#0000ff"/>
<path class="k" clip-path="url(#c1_6)" d="M1366.4 409.4 1401.9 404.3 1483.4 401.9"/>
<path class="m" d="M1381.5 409.4V420.2M1395.5 409.4V420.2M1410.5 409.4V420.2M1439.5 409.4V420.2M1454.5 409.4V420.2M1468.5 409.4V420.2M1360.4 388.5H1349.6M1360.4 367.5H1349.6M1360.4 346.5H1349.6"/>
<path class="t" d="M1366.4 409.4V427.9M1424.9 409.4V427.9M1483.4 409.4V427.9M1360.4 409.4H1341.9M1360.4 325.4H1341.9" stroke="#0000ff"/>
<rect class="s" x="1360.4" y="325.8" width="128.1" height="84" stroke="#0000ff"/>
</g>
<g>
<g clip-path="url(#c1_7)">
<path class="b" d="M1545.8 409.4 1556.9 408.6 1559.3 408.3 1569.7 403.7 1573.4 402.7 1619.3 398 1625.8 396.8 1628.2 396 1634.4 393.2 1642.4 391.2 1662.9 389.5 1663 393.8 1646.3 395.2 1629.8 398 1571.6 404.6 1559.1 408.7 1545.8 409.4Z"/>
<path class="o" d="M1545.8 409.4 1559.1 408.7 1571.6 404.6 1629.8 398 1646.3 395.2 1663 393.8 1662.8 401.9 1570.9 405.4 1545.8 409.4Z"/>
</g>
<path class="g" d="M1575.5 325.4V409.4M1633.5 325.4V409.4M1648.5 325.4V409.4"/>
<path class="g" d="M1539.8 367.5H1667.9M1539.8 346.5H1667.9"/>
<path class="v" d="M1545.5 325.4V409.4M1604.1 325.4V409.4M1662.6 325.4V409.4" stroke="#0000ff"/>
<path class="k" clip-path="url(#c1_7)" d="M1545.8 409.4 1570.9 405.4 1662.8 401.9"/>
<path class="m" d="M1560.5 409.4V420.2M1575.5 409.4V420.2M1589.5 409.4V420.2M1618.5 409.4V420.2M1633.5 409.4V420.2M1648.5 409.4V420.2M1539.8 388.5H1529M1539.8 367.5H1529M1539.8 346.5H1529"/>
<path class="t" d="M1545.8 409.4V427.9M1604.3 409.4V427.9M1662.8 409.4V427.9M1539.8 409.4H1521.3M1539.8 325.4H1521.3" stroke="#0000ff"/>
<rect class="s" x="1539.8" y="325.8" width="128.1" height="84" stroke="#0000ff"/>
</g>
<g>
<g clip-path="url(#c1_8)">
<path class="b" d="M1725.2 409.4 1738.2 409.8 1773.9 402.8 1782.5 400.1 1787 398.2 1789.5 396.6 1793.9 392.3 1795.6 390.8 1805.9 385.6 1812.1 381.8 1815.8 380.3 1826.4 377.6 1828.8 376.6 1831.3 375 1844.1 362.7 1843.8 378.8 1839.6 382.2 1835.1 384.9 1824.5 390 1819.9 391.9 1817.6 392.4 1801.1 394.2 1792.9 397 1767.6 404.1 1738.1 409.9 1725.2 409.4Z"/>
<path class="b" d="M1725.2 409.4 1737.7 406.9 1842.1 403.6 1842.1 404.5 1737.7 406.9 1725.2 409.4Z"/>
<path class="o" d="M1725.2 409.4 1738.1 409.9 1767.6 404.1 1792.9 397 1801.1 394.2 1817.6 392.4 1819.9 391.9 1824.5 390 1835.1 384.9 1839.6 382.2 1843.8 378.8 1842.9 389.9 1830.3 393.1 1738.1 410 1725.2 409.4Z"/>
<path class="o" d="M1725.2 409.4 1737.7 406.8 1842 402.1 1842.1 403.6 1737.7 406.9 1725.2 409.4Z"/>
<path class="l" d="M1725.2 409.4 1738.1 410 1830.3 393.1 1842.9 389.9 1842 402.1 1737.7 406.8 1725.2 409.4Z"/>
</g>
<path class="g" d="M1754.5 325.4V409.4M1769.5 325.4V409.4M1798.5 325.4V409.4M1827.5 325.4V409.4"/>
<path class="g" d="M1719.2 367.5H1847.3M1719.2 346.5H1847.3"/>
<path class="v" d="M1725 325.4V409.4M1783.5 325.4V409.4M1842 325.4V409.4" stroke="#000000"/>
<path class="k" clip-path="url(#c1_8)" d="M1725.2 409.4 1785.8 400.3 1842.2 397"/>
<path class="m" d="M1739.5 409.4V420.2M1754.5 409.4V420.2M1769.5 409.4V420.2M1798.5 409.4V420.2M1812.5 409.4V420.2M1827.5 409.4V420.2M1719.2 388.5H1708.4M1719.2 367.5H1708.4M1719.2 346.5H1708.4"/>
<path class="t" d="M1725.2 409.4V427.9M1783.7 409.4V427.9M1842.2 409.4V427.9M1719.2 409.4H1700.7M1719.2 325.4H1700.7" stroke="#000000"/>
<rect class="s" x="1719.2" y="325.8" width="128.1" height="84" stroke="#000000"/>
</g>
<g>
<g clip-path="url(#c1_9)">
<path class="b" d="M1904.6 409.4 1917.5 410.1 1932.4 407.6 1938.9 405.8 1945.4 403.1 1950 400.6 1956.3 395.2 1962.4 391.7 1964.7 390.2 1967 388.4 1969.2 386.2 1971.6 383.4 1973.8 379.5 1975.9 374.9 1977.8 371.3 1979.2 370 1984.9 368.1 1987.4 367 1990.1 365 1992.6 361.5 1994.8 357 1997 351 1999.1 342.3 2001.1 336.3 2002.7 333.4 2005.6 332.4 2021.9 330.2 2023.7 333.7 2019.5 339.3 1998.7 364.4 1992.4 374.3 1990.1 377.2 1987.6 379.2 1985.3 380.6 1977.1 385 1966.7 392.7 1960.1 396.5 1938.9 406.1 1932.3 407.9 1917.5 410.2 1904.6 409.4Z"/>
<path class="b" d="M1904.6 409.4 1917.1 406.9 2021.5 403.6 2021.6 405.9 1917.1 406.9 1904.6 409.4Z"/>
<path class="o" d="M1904.6 409.4 1917.5 410.2 1932.3 407.9 1938.9 406.1 1960.1 396.5 1966.7 392.7 1977.1 385 1985.3 380.6 1987.6 379.2 1990.1 377.2 1992.4 374.3 1998.7 364.4 2019.5 339.3 2023.7 333.7 2023 370.7 2006.3 381.1 1999.8 384.9 1991.2 388.5 1970.2 395.1 1947.3 403.8 1934.4 407.7 1917.5 410.3 1904.6 409.4Z"/>
<path class="o" d="M1904.6 409.4 1917.1 406.7 1960.8 405.4 2021.4 400.6 2021.5 403.6 1917.1 406.9 1904.6 409.4Z"/>
<path class="l" d="M1904.6 409.4 1917.5 410.3 1934.4 407.7 1947.3 403.8 1970.2 395.1 1991.2 388.5 1999.8 384.9 2006.3 381.1 2023 370.7 2021.4 400.6 1960.8 405.4 1917.1 406.7 1904.6 409.4Z"/>
</g>
<path class="g" d="M1919.5 325.4V409.4M1948.5 325.4V409.4M1992.5 325.4V409.4"/>
<path class="g" d="M1898.6 367.5H2026.7M1898.6 346.5H2026.7"/>
<path class="v" d="M1904.4 325.4V409.4M1962.9 325.4V409.4M2021.4 325.4V409.4" stroke="#000000"/>
<path class="k" clip-path="url(#c1_9)" d="M1904.6 409.4 1965.2 400.5 1998.6 391.4 2021.6 383.6"/>
<path class="m" d="M1919.5 409.4V420.2M1933.5 409.4V420.2M1948.5 409.4V420.2M1977.5 409.4V420.2M1992.5 409.4V420.2M2006.5 409.4V420.2M1898.6 388.5H1887.8M1898.6 367.5H1887.8M1898.6 346.5H1887.8"/>
<path class="t" d="M1904.6 409.4V427.9M1963.1 409.4V427.9M2021.6 409.4V427.9M1898.6 409.4H1880.1M1898.6 325.4H1880.1" stroke="#000000"/>
<rect class="s" x="1898.6" y="325.8" width="128.1" height="84" stroke="#000000"/>
</g>
<g>
<g clip-path="url(#c1_10)">
<path class="b" d="M2084 409.4 2096.9 410 2109.7 407.6 2122.6 403.3 2131.1 399.6 2148.2 389.5 2152.7 386 2163.2 373.8 2171.6 366.3 2173.9 363.7 2176.1 360.4 2178.3 356.6 2180.5 352 2182.6 346.4 2184.8 339.2 2186.8 330.5 2188.2 328.3 2211.6 325.4 2237.6 325.4 2191.4 328.6 2190.2 329.2 2188.8 330.8 2184.7 345.3 2182.6 351.3 2180.4 356.1 2178.2 360.2 2176 363.6 2173.7 366.4 2171.5 368.7 2165.3 374 2154.8 386.1 2152.6 388.2 2148.2 391.5 2141.7 395.5 2131 400.5 2109.7 407.9 2096.9 410.1 2084 409.4Z"/>
<path class="b" d="M2084 409.4 2096.5 406.7 2127.7 405.9 2164.9 400.6 2171 399.2 2183.5 394.4 2200.5 390.7 2200.6 395.3 2183.6 398 2175.1 400.8 2169.2 402.3 2136 406 2096.5 406.9 2084 409.4Z"/>
<path class="o" d="M2084 409.4 2096.9 410.1 2109.7 407.9 2131 400.5 2141.7 395.5 2148.2 391.5 2152.6 388.2 2154.8 386.1 2165.3 374 2171.5 368.7 2173.7 366.4 2176 363.6 2178.2 360.2 2180.4 356.1 2182.6 351.3 2184.7 345.3 2188.8 330.8 2190.2 329.2 2191.4 328.6 2237.6 325.4 2201.5 328.7 2197.3 329.4 2193.8 330.3 2192.2 331.3 2190.8 332.5 2188.9 337.7 2186.8 345 2184.7 350.7 2182.5 355.7 2180.3 359.8 2178.1 363.4 2175.9 366.4 2173.7 369 2167.4 375 2154.7 388.4 2148.2 393.7 2143.7 396.3 2137.2 399.2 2109.7 408.1 2096.9 410.2 2084 409.4Z"/>
<path class="o" d="M2084 409.4 2096.5 406.6 2125.5 405.5 2162.8 398.8 2170.9 396.6 2183.4 391.5 2200.4 387 2200.5 390.7 2183.5 394.4 2171 399.2 2164.9 400.6 2127.7 405.9 2096.5 406.7 2084 409.4Z"/>
<path class="l" d="M2084 409.4 2096.9 410.2 2109.7 408.1 2137.2 399.2 2143.7 396.3 2148.2 393.7 2154.7 388.4 2167.4 375 2173.7 369 2175.9 366.4 2178.1 363.4 2180.3 359.8 2182.5 355.7 2184.7 350.7 2186.8 345 2188.9 337.7 2190.8 332.5 2192.2 331.3 2193.8 330.3 2197.3 329.4 2201.5 328.7 2200.4 387 2183.4 391.5 2170.9 396.6 2162.8 398.8 2125.5 405.5 2096.5 406.6 2084 409.4Z"/>
</g>
<path class="g" d="M2098.5 325.4V409.4M2113.5 325.4V409.4M2157.5 325.4V409.4M2186.5 325.4V409.4"/>
<path class="g" d="M2078 367.5H2206.1M2078 346.5H2206.1"/>
<path class="v" d="M2083.8 325.4V409.4M2142.3 325.4V409.4M2200.8 325.4V409.4" stroke="#ff0000"/>
<path class="k" clip-path="url(#c1_10)" d="M2084 409.4 2109.1 405.9 2146.7 395.4 2152.9 392.8 2157.1 390.5 2159.2 388.7 2163.4 383.7 2165.5 381.4 2173.8 374.6 2175.9 372.6 2178 370.1 2182.2 363.5 2188.5 351.3 2192.6 344.9 2194.7 342.3 2201 336.6"/>
<path class="m" d="M2098.5 409.4V420.2M2113.5 409.4V420.2M2127.5 409.4V420.2M2157.5 409.4V420.2M2171.5 409.4V420.2M2186.5 409.4V420.2M2078 388.5H2067.2M2078 367.5H2067.2M2078 346.5H2067.2"/>
<path class="t" d="M2084 409.4V427.9M2142.5 409.4V427.9M2201 409.4V427.9M2078 409.4H2059.5M2078 325.4H2059.5" stroke="#ff0000"/>
<rect class="s" x="2078" y="325.8" width="128.1" height="84" stroke="#ff0000"/>
</g>
<g>
<g clip-path="url(#c2_0)">
<path class="b" d="M290 527.3 303.3 526.1 342.8 515.7 367.6 511.1 407.1 509 407.1 511.1 363.5 513.2 303.3 526.2 290 527.3Z"/>
<path class="b" d="M290 527.3 302.4 524 406.9 520.3 406.9 521.4 302.5 524.5 290 527.3Z"/>
<path class="o" d="M290 527.3 303.3 526.2 363.5 513.2 407.1 511.1 407 513.9 331.8 517.5 319.3 519.5 290 527.3Z"/>
<path class="o" d="M290 527.3 319.3 519.5 331.8 517.5 407 513.9 406.9 520.3 302.4 524 290 527.3Z"/>
</g>
<path class="g" d="M304.5 443.3V527.3M333.5 443.3V527.3M377.5 443.3V527.3M392.5 443.3V527.3"/>
<path class="g" d="M284 506.5H412.1M284 485.5H412.1M284 464.5H412.1"/>
<path class="v" d="M289.8 443.3V527.3M348.3 443.3V527.3M406.8 443.3V527.3" stroke="#0000ff"/>
<path class="k" clip-path="url(#c2_0)" d="M290 527.3 319.3 519.5 331.8 517.5 407 513.9"/>
<path class="m" d="M304.5 527.3V538.1M319.5 527.3V538.1M333.5 527.3V538.1M363.5 527.3V538.1M377.5 527.3V538.1M392.5 527.3V538.1M284 506.5H273.2M284 485.5H273.2M284 464.5H273.2"/>
<path class="t" d="M290 527.3V545.8M348.5 527.3V545.8M407 527.3V545.8M284 527.3H265.5M284 443.3H265.5" stroke="#0000ff"/>
<rect class="s" x="284" y="443.7" width="128.1" height="84" stroke="#0000ff"/>
</g>
<g>
<g clip-path="url(#c2_1)">
<path class="b" d="M469.4 527.3 482.7 525.9 490.8 523.9 528.4 519.8 538.9 517 586.5 515.3 586.4 517.5 563.4 517.5 488.2 522.3 469.4 527.3Z"/>
<path class="b" d="M469.4 527.3 481.8 524.3 521.3 522.2 531.8 520.8 586.3 519.6 586.3 520.3 534 521.4 521.4 522.7 481.9 524.4 469.4 527.3Z"/>
<path class="o" d="M469.4 527.3 488.2 522.3 563.4 517.5 586.4 517.5 586.3 519.6 531.8 520.8 521.3 522.2 481.8 524.3 469.4 527.3Z"/>
</g>
<path class="g" d="M498.5 443.3V527.3M542.5 443.3V527.3M571.5 443.3V527.3"/>
<path class="g" d="M463.4 506.5H591.5M463.4 485.5H591.5M463.4 464.5H591.5"/>
<path class="v" d="M469.1 443.3V527.3M527.7 443.3V527.3M586.2 443.3V527.3" stroke="#0000ff"/>
<path class="k" clip-path="url(#c2_1)" d="M469.4 527.3 488.2 522.3 563.4 517.5 586.4 517.5"/>
<path class="m" d="M484.5 527.3V538.1M498.5 527.3V538.1M513.5 527.3V538.1M542.5 527.3V538.1M557.5 527.3V538.1M571.5 527.3V538.1M463.4 506.5H452.6M463.4 485.5H452.6M463.4 464.5H452.6"/>
<path class="t" d="M469.4 527.3V545.8M527.9 527.3V545.8M586.4 527.3V545.8M463.4 527.3H444.9M463.4 443.3H444.9" stroke="#0000ff"/>
<rect class="s" x="463.4" y="443.7" width="128.1" height="84" stroke="#0000ff"/>
</g>
<g>
<g clip-path="url(#c2_2)">
<path class="b" d="M648.8 527.3 662.2 525.8 676.6 521.6 755.4 513.9 765.8 513.8 765.8 518.5 749.1 518.5 663.5 524.2 648.8 527.3Z"/>
</g>
<path class="g" d="M663.5 443.3V527.3M692.5 443.3V527.3M721.5 443.3V527.3M736.5 443.3V527.3"/>
<path class="g" d="M642.8 506.5H770.9M642.8 485.5H770.9M642.8 464.5H770.9"/>
<path class="v" d="M648.5 443.3V527.3M707.1 443.3V527.3M765.6 443.3V527.3" stroke="#000000"/>
<path class="k" clip-path="url(#c2_2)" d="M648.8 527.3 663.5 524.2 749.1 518.5 765.8 518.5"/>
<path class="m" d="M663.5 527.3V538.1M678.5 527.3V538.1M692.5 527.3V538.1M721.5 527.3V538.1M736.5 527.3V538.1M751.5 527.3V538.1M642.8 506.5H632M642.8 485.5H632M642.8 464.5H632"/>
<path class="t" d="M648.8 527.3V545.8M707.3 527.3V545.8M765.8 527.3V545.8M642.8 527.3H624.3M642.8 443.3H624.3" stroke="#000000"/>
<rect class="s" x="642.8" y="443.7" width="128.1" height="84" stroke="#000000"/>
</g>
<g>
<g clip-path="url(#c2_3)">
<path class="b" d="M828.2 527.3 841.7 525.2 851.9 521.8 857.8 520.7 930.6 516.1 945.2 516.1 945.2 519.3 853.3 522.8 828.2 527.3Z"/>
</g>
<path class="g" d="M842.5 443.3V527.3M857.5 443.3V527.3M915.5 443.3V527.3"/>
<path class="g" d="M822.2 506.5H950.3M822.2 485.5H950.3M822.2 464.5H950.3"/>
<path class="v" d="M828 443.3V527.3M886.5 443.3V527.3M945 443.3V527.3" stroke="#000000"/>
<path class="k" clip-path="url(#c2_3)" d="M828.2 527.3 853.3 522.8 945.2 519.3"/>
<path class="m" d="M842.5 527.3V538.1M857.5 527.3V538.1M872.5 527.3V538.1M901.5 527.3V538.1M915.5 527.3V538.1M930.5 527.3V538.1M822.2 506.5H811.4M822.2 485.5H811.4M822.2 464.5H811.4"/>
<path class="t" d="M828.2 527.3V545.8M886.7 527.3V545.8M945.2 527.3V545.8M822.2 527.3H803.7M822.2 443.3H803.7" stroke="#000000"/>
<rect class="s" x="822.2" y="443.7" width="128.1" height="84" stroke="#000000"/>
</g>
<g>
<g clip-path="url(#c2_4)">
<path class="b" d="M1007.6 527.3 1020.9 526.2 1043.6 520.5 1083.1 514.1 1124.7 512.3 1124.7 514.6 1093.4 515.4 1039.4 521.6 1020.9 526.2 1007.6 527.3Z"/>
<path class="o" d="M1007.6 527.3 1020.9 526.2 1039.4 521.6 1093.4 515.4 1124.7 514.6 1124.6 518.9 1095.4 518.9 1036.9 523 1007.6 527.3Z"/>
</g>
<path class="g" d="M1036.5 443.3V527.3M1051.5 443.3V527.3M1080.5 443.3V527.3M1095.5 443.3V527.3M1109.5 443.3V527.3"/>
<path class="g" d="M1001.6 506.5H1129.7M1001.6 485.5H1129.7M1001.6 464.5H1129.7"/>
<path class="v" d="M1007.4 443.3V527.3M1065.9 443.3V527.3M1124.4 443.3V527.3" stroke="#000000"/>
<path class="k" clip-path="url(#c2_4)" d="M1007.6 527.3 1036.9 523 1095.4 518.9 1124.6 518.9"/>
<path class="m" d="M1022.5 527.3V538.1M1036.5 527.3V538.1M1051.5 527.3V538.1M1080.5 527.3V538.1M1095.5 527.3V538.1M1109.5 527.3V538.1M1001.6 506.5H990.8M1001.6 485.5H990.8M1001.6 464.5H990.8"/>
<path class="t" d="M1007.6 527.3V545.8M1066.1 527.3V545.8M1124.6 527.3V545.8M1001.6 527.3H983.1M1001.6 443.3H983.1" stroke="#000000"/>
<rect class="s" x="1001.6" y="443.7" width="128.1" height="84" stroke="#000000"/>
</g>
<g>
<g clip-path="url(#c2_5)">
<path class="b" d="M1187 527.3 1200.7 523.1 1204.5 521.6 1247.9 518.9 1283.8 511.3 1294.2 507.9 1304.4 506.2 1304.2 510 1294 510.9 1283.7 513.6 1247.9 519.9 1204.4 522.6 1200.5 524 1187 527.3Z"/>
<path class="b" d="M1187 527.3 1203.7 523 1262.2 519.2 1291.5 515.6 1304 515 1303.9 520.9 1199.5 524.6 1187 527.3Z"/>
<path class="o" d="M1187 527.3 1200.5 524 1204.4 522.6 1247.9 519.9 1283.7 513.6 1294 510.9 1304.2 510 1304.4 513 1252.1 520.5 1204.3 523.4 1200.5 524.6 1187 527.3Z"/>
<path class="l" d="M1187 527.3 1200.5 524.6 1204.3 523.4 1252.1 520.5 1304.4 513 1304 515 1291.5 515.6 1262.2 519.2 1203.7 523 1187 527.3Z"/>
</g>
<path class="g" d="M1201.5 443.3V527.3M1230.5 443.3V527.3M1260.5 443.3V527.3M1289.5 443.3V527.3"/>
<path class="g" d="M1181 506.5H1309.1M1181 485.5H1309.1M1181 464.5H1309.1"/>
<path class="v" d="M1186.8 443.3V527.3M1245.3 443.3V527.3M1303.8 443.3V527.3" stroke="#000000"/>
<path class="k" clip-path="url(#c2_5)" d="M1187 527.3 1203.7 523 1262.2 519.2 1291.5 515.6 1304 515"/>
<path class="m" d="M1201.5 527.3V538.1M1216.5 527.3V538.1M1230.5 527.3V538.1M1260.5 527.3V538.1M1274.5 527.3V538.1M1289.5 527.3V538.1M1181 506.5H1170.2M1181 485.5H1170.2M1181 464.5H1170.2"/>
<path class="t" d="M1187 527.3V545.8M1245.5 527.3V545.8M1304 527.3V545.8M1181 527.3H1162.5M1181 443.3H1162.5" stroke="#000000"/>
<rect class="s" x="1181" y="443.7" width="128.1" height="84" stroke="#000000"/>
</g>
<g>
<g clip-path="url(#c2_6)">
<path class="b" d="M1366.4 527.3 1379.4 527.4 1415.2 520.1 1419.8 518.6 1422.5 517 1426.5 512.6 1434.1 509.4 1442.5 507 1444.8 506.1 1447.2 504.7 1453.3 500.3 1455 499.6 1461.1 498.3 1463.7 497.4 1466.7 495.1 1470.8 487.2 1471.9 486.6 1475.7 485.7 1478.3 484.8 1480.8 483.1 1485.2 479.1 1484.5 489.3 1470.2 495.8 1461.9 502.7 1459.5 504 1457.2 505 1413.3 520.8 1404.6 523.3 1379.4 527.8 1366.4 527.3Z"/>
<path class="b" d="M1366.4 527.3 1378.9 524.4 1430.9 521.9 1483.1 515.3 1483.1 516.8 1433 522.2 1378.9 524.5 1366.4 527.3Z"/>
<path class="o" d="M1366.4 527.3 1379.4 527.8 1404.6 523.3 1413.3 520.8 1457.2 505 1459.5 504 1461.9 502.7 1470.2 495.8 1484.5 489.3 1483.8 503.2 1475.5 504.6 1469.7 506.1 1459.2 510.9 1446.4 514.8 1379.4 527.8 1366.4 527.3Z"/>
<path class="o" d="M1366.4 527.3 1381.1 523.7 1445.8 517 1464.6 513 1468.7 511.6 1475 507.6 1483.4 505.9 1483.1 515.3 1430.9 521.9 1378.9 524.4 1366.4 527.3Z"/>
<path class="l" d="M1366.4 527.3 1379.4 527.8 1446.4 514.8 1459.2 510.9 1469.7 506.1 1475.5 504.6 1483.8 503.2 1483.4 505.9 1475 507.6 1468.7 511.6 1464.6 513 1445.8 517 1381.1 523.7 1366.4 527.3Z"/>
</g>
<path class="g" d="M1381.5 443.3V527.3M1395.5 443.3V527.3M1410.5 443.3V527.3M1439.5 443.3V527.3M1454.5 443.3V527.3"/>
<path class="g" d="M1360.4 506.5H1488.5M1360.4 485.5H1488.5M1360.4 464.5H1488.5"/>
<path class="v" d="M1366.2 443.3V527.3M1424.7 443.3V527.3M1483.2 443.3V527.3" stroke="#ff0000"/>
<path class="k" clip-path="url(#c2_6)" d="M1366.4 527.3 1381.1 523.7 1445.8 517 1464.6 513 1468.7 511.6 1475 507.6 1483.4 505.9"/>
<path class="m" d="M1381.5 527.3V538.1M1395.5 527.3V538.1M1410.5 527.3V538.1M1439.5 527.3V538.1M1454.5 527.3V538.1M1468.5 527.3V538.1M1360.4 506.5H1349.6M1360.4 485.5H1349.6M1360.4 464.5H1349.6"/>
<path class="t" d="M1366.4 527.3V545.8M1424.9 527.3V545.8M1483.4 527.3V545.8M1360.4 527.3H1341.9M1360.4 443.3H1341.9" stroke="#ff0000"/>
<rect class="s" x="1360.4" y="443.7" width="128.1" height="84" stroke="#ff0000"/>
</g>
<g>
<g clip-path="url(#c2_7)">
<path class="b" d="M1545.8 527.3 1558.9 527 1575.9 522.9 1580.2 521.5 1582.6 520.5 1590.8 515.1 1592.3 514.6 1602.4 514 1605.1 513.7 1608 512.3 1612 508.7 1618.3 505.7 1620.9 503.6 1623 500.7 1624.6 499.3 1630.3 497.4 1632.8 496.3 1635.7 493.9 1642.1 480.6 1644.1 477 1645.8 474.8 1647.5 473.6 1651.7 471.4 1654.2 469.4 1656.6 466.5 1665 453.7 1664.7 461.5 1643.9 482.6 1642 484.9 1638 493.1 1635.7 497 1633.2 499.4 1628.7 502.8 1609.7 513.9 1605.3 515.9 1598.8 518.1 1558.9 527.2 1545.8 527.3Z"/>
<path class="b" d="M1545.8 527.3 1558.3 524.5 1606.1 522.7 1637.4 517.2 1662.6 515.3 1662.6 519.1 1625 521.4 1606.2 523.9 1558.3 524.7 1545.8 527.3Z"/>
<path class="o" d="M1545.8 527.3 1558.9 527.2 1598.8 518.1 1605.3 515.9 1609.7 513.9 1628.7 502.8 1633.2 499.4 1635.7 497 1638 493.1 1642 484.9 1643.9 482.6 1664.7 461.5 1664.2 472.6 1654 479.4 1645.8 486.6 1641.9 491 1637.8 497.2 1635.5 500.2 1631 504.3 1624.5 508.9 1616 513.7 1607.3 517.5 1600.8 519.5 1558.8 527.5 1545.8 527.3Z"/>
<path class="o" d="M1545.8 527.3 1558.3 524.3 1604 522.2 1609.9 521.1 1636.9 511.6 1662.5 507.8 1662.6 515.3 1637.4 517.2 1606.1 522.7 1558.3 524.5 1545.8 527.3Z"/>
<path class="l" d="M1545.8 527.3 1558.8 527.5 1600.8 519.5 1607.3 517.5 1616 513.7 1624.5 508.9 1631 504.3 1635.5 500.2 1637.8 497.2 1641.9 491 1645.8 486.6 1654 479.4 1664.2 472.6 1662.5 507.8 1636.9 511.6 1609.9 521.1 1604 522.2 1558.3 524.3 1545.8 527.3Z"/>
</g>
<path class="g" d="M1575.5 443.3V527.3M1633.5 443.3V527.3M1648.5 443.3V527.3"/>
<path class="g" d="M1539.8 506.5H1667.9M1539.8 485.5H1667.9M1539.8 464.5H1667.9"/>
<path class="v" d="M1545.5 443.3V527.3M1604.1 443.3V527.3M1662.6 443.3V527.3" stroke="#ff0000"/>
<path class="k" clip-path="url(#c2_7)" d="M1545.8 527.3 1564.6 523.6 1595.9 519.8 1606.4 517.4 1644 504 1648.1 502.1 1662.8 491.5"/>
<path class="m" d="M1560.5 527.3V538.1M1575.5 527.3V538.1M1589.5 527.3V538.1M1618.5 527.3V538.1M1633.5 527.3V538.1M1648.5 527.3V538.1M1539.8 506.5H1529M1539.8 485.5H1529M1539.8 464.5H1529"/>
<path class="t" d="M1545.8 527.3V545.8M1604.3 527.3V545.8M1662.8 527.3V545.8M1539.8 527.3H1521.3M1539.8 443.3H1521.3" stroke="#ff0000"/>
<rect class="s" x="1539.8" y="443.7" width="128.1" height="84" stroke="#ff0000"/>
</g>
<g>
<g clip-path="url(#c2_8)">
<path class="b" d="M1725.2 527.3 1738.3 527.2 1763.6 521.3 1795.1 510.9 1799.5 509 1801.8 507.9 1804.1 506.3 1814.5 497.5 1818.6 494.8 1821 493 1823.5 490.4 1825.8 486 1828 480.5 1832.2 466.3 1834.1 462.5 1836.1 459.4 1840.2 452.1 1841.6 450.8 1843.3 450.1 1844.1 452.5 1842.2 454.5 1836.1 463.7 1834.2 467.2 1830.1 480.5 1827.9 485.8 1825.6 490.3 1823.2 493.2 1820.8 495.2 1814.6 499.3 1806.2 506.3 1801.7 509.4 1797.3 511.5 1771.8 520.2 1738.2 527.3 1725.2 527.3Z"/>
<path class="b" d="M1725.2 527.3 1737.6 524.3 1785.5 521.6 1802.3 519.1 1842.2 517.6 1842.2 520.6 1737.7 524.5 1725.2 527.3Z"/>
<path class="o" d="M1725.2 527.3 1738.2 527.3 1771.8 520.2 1797.3 511.5 1801.7 509.4 1806.2 506.3 1814.6 499.3 1820.8 495.2 1823.2 493.2 1825.6 490.3 1827.9 485.8 1830.1 480.5 1834.2 467.2 1836.1 463.7 1842.2 454.5 1844.1 452.5 1844.2 457.7 1842.1 460 1838.2 465.1 1836.2 468.3 1834.3 473.6 1832.2 480.5 1830 485.8 1827.7 490.1 1825.4 493.2 1823.1 495.6 1806.1 508.3 1801.6 511 1793 514.7 1780.2 518.7 1738.2 527.5 1725.2 527.3Z"/>
<path class="o" d="M1725.2 527.3 1737.6 524 1785.5 520.4 1799.7 517.6 1805.7 515.7 1811.6 512.7 1817.6 509 1821.6 505.6 1840.3 486.6 1842.2 517.6 1802.3 519.1 1785.5 521.6 1737.6 524.3 1725.2 527.3Z"/>
<path class="l" d="M1725.2 527.3 1738.2 527.5 1780.2 518.7 1793 514.7 1801.6 511 1806.1 508.3 1823.1 495.6 1825.4 493.2 1827.7 490.1 1830 485.8 1832.2 480.5 1834.3 473.6 1836.2 468.3 1838.2 465.1 1842.1 460 1844.2 457.7 1840.3 486.6 1821.6 505.6 1817.6 509 1811.6 512.7 1805.7 515.7 1799.7 517.6 1785.5 520.4 1737.6 524 1725.2 527.3Z"/>
</g>
<path class="g" d="M1754.5 443.3V527.3M1769.5 443.3V527.3M1798.5 443.3V527.3M1827.5 443.3V527.3"/>
<path class="g" d="M1719.2 506.5H1847.3M1719.2 485.5H1847.3M1719.2 464.5H1847.3"/>
<path class="v" d="M1725 443.3V527.3M1783.5 443.3V527.3M1842 443.3V527.3" stroke="#ff0000"/>
<path class="k" clip-path="url(#c2_8)" d="M1725.2 527.3 1739.8 523.7 1781.6 519.1 1785.8 518.2 1796.2 514.7 1804.6 512.4 1806.7 511.6 1810.9 509.2 1821.3 500.8 1823.4 498.7 1825.5 496.2 1827.6 492.4 1829.7 487.8 1833.8 480.5 1835.9 477.8 1838 475.6 1840.1 474.6 1842.2 474.1"/>
<path class="m" d="M1739.5 527.3V538.1M1754.5 527.3V538.1M1769.5 527.3V538.1M1798.5 527.3V538.1M1812.5 527.3V538.1M1827.5 527.3V538.1M1719.2 506.5H1708.4M1719.2 485.5H1708.4M1719.2 464.5H1708.4"/>
<path class="t" d="M1725.2 527.3V545.8M1783.7 527.3V545.8M1842.2 527.3V545.8M1719.2 527.3H1700.7M1719.2 443.3H1700.7" stroke="#ff0000"/>
<rect class="s" x="1719.2" y="443.7" width="128.1" height="84" stroke="#ff0000"/>
</g>
<g>
<g clip-path="url(#c2_9)">
<path class="b" d="M1904.6 527.3 1918 525.2 1947.4 514.4 1951.9 512.3 1954.2 510.8 1964.7 501.2 1970.8 497.6 1973.4 495.6 1975.9 492.1 1980 481.6 1981.6 480 1985.5 477.4 1990.1 473.7 1992.8 470 1994.9 460 1997 451.6 1998.9 446.1 2004.7 443.3 2021.6 443.3 2021.6 443.3 2005.2 443.3 2001 446.3 1999.1 453.6 1992.7 471.6 1990.3 475.9 1987.9 478.5 1984 481.8 1982.2 484.9 1980.1 489.6 1977.9 494 1975.4 496.8 1973.1 498.8 1968.9 501.9 1958.4 510.9 1956.1 512.4 1953.8 513.6 1947.3 516.4 1918 525.7 1904.6 527.3Z"/>
<path class="b" d="M1904.6 527.3 1922 526.4 1926.1 526.4 1942.9 524.3 1956 521 1966.8 517.2 1975.6 512.9 1980 510.3 1986.7 505.2 1995.3 497.4 1999.7 492.6 2004.1 486.7 2012.6 473.8 2016.9 466.1 2025.3 449.6 2026.6 450.3 2018.3 466.8 2013.9 474.6 2005.4 487.6 2000.9 493.6 1996.4 498.5 1987.6 506.4 1980.8 511.6 1976.3 514.3 1967.3 518.6 1956.4 522.5 1943.2 525.8 1932.3 527.1 1922 526.4 1904.6 527.3Z"/>
<path class="o" d="M1904.6 527.3 1918 525.7 1947.3 516.4 1953.8 513.6 1956.1 512.4 1958.4 510.9 1968.9 501.9 1973.1 498.8 1975.4 496.8 1977.9 494 1980.1 489.6 1982.2 484.9 1984 481.8 1987.9 478.5 1990.3 475.9 1992.7 471.6 1999.1 453.6 2001 446.3 2005.2 443.3 2021.6 443.3 2021.6 443.3 2012 443.3 2012 445.8 2011 445.8 2003.1 460.2 2001 464.3 1999 469.6 1996.8 474.1 1994.5 477.5 1986 488.4 1977.5 497.9 1971.1 504 1960.4 512.3 1955.9 514.8 1949.3 517.4 1917.9 526 1904.6 527.3Z"/>
<path class="o" d="M1904.6 527.3 1917.8 526.5 1944.8 522.4 1959.8 518.2 1968.4 514.9 1977 510.4 1981.4 507.5 1992.1 498.4 1996.4 494.1 2000.7 488.9 2011.3 473 2015.6 465.4 2023.9 448.9 2025.3 449.6 2016.9 466.1 2012.6 473.8 2004.1 486.7 1999.7 492.6 1995.3 497.4 1986.7 505.2 1980 510.3 1975.6 512.9 1966.8 517.2 1956 521 1942.9 524.3 1926.1 526.4 1922 526.4 1904.6 527.3Z"/>
<path class="l" d="M1904.6 527.3 1917.9 526 1949.3 517.4 1955.9 514.8 1960.4 512.3 1971.1 504 1977.5 497.9 1986 488.4 1994.5 477.5 1996.8 474.1 1999 469.6 2001 464.3 2003.1 460.2 2011 445.8 2012 445.8 2012 443.3 2021.6 443.3 2023.9 448.9 2015.6 465.4 2011.3 473 2000.7 488.9 1996.4 494.1 1992.1 498.4 1981.4 507.5 1977 510.4 1968.4 514.9 1959.8 518.2 1944.8 522.4 1917.8 526.5 1904.6 527.3Z"/>
</g>
<path class="g" d="M1919.5 443.3V527.3M1948.5 443.3V527.3M1992.5 443.3V527.3"/>
<path class="g" d="M1898.6 506.5H2026.7M1898.6 485.5H2026.7M1898.6 464.5H2026.7"/>
<path class="v" d="M1904.4 443.3V527.3M1962.9 443.3V527.3M2021.4 443.3V527.3" stroke="#ff0000"/>
<path class="k" clip-path="url(#c2_9)" d="M1904.6 527.3 1921.3 523 1944.3 519.8 1958.9 515.7 1967.3 512.5 1975.6 508.1 1979.8 505.4 1990.3 496.5 1996.5 489.9 2007 475 2011.2 468.1 2021.6 447.6"/>
<path class="m" d="M1919.5 527.3V538.1M1933.5 527.3V538.1M1948.5 527.3V538.1M1977.5 527.3V538.1M1992.5 527.3V538.1M2006.5 527.3V538.1M1898.6 506.5H1887.8M1898.6 485.5H1887.8M1898.6 464.5H1887.8"/>
<path class="t" d="M1904.6 527.3V545.8M1963.1 527.3V545.8M2021.6 527.3V545.8M1898.6 527.3H1880.1M1898.6 443.3H1880.1" stroke="#ff0000"/>
<rect class="s" x="1898.6" y="443.7" width="128.1" height="84" stroke="#ff0000"/>
</g>
<g>
<g clip-path="url(#c2_10)">
<path class="b" d="M2084 527.3 2097 527.6 2120.2 523.2 2128.7 520.8 2137.4 517.2 2146 512.5 2150.4 509.5 2154.8 505.7 2161.2 498.8 2176.1 479.1 2178.4 474.9 2180.5 468.6 2186.7 447.8 2189.5 443.3 2201 443.3 2201 443.3 2191.6 443.3 2188.8 447.9 2186.8 453.3 2184.7 460.7 2180.5 474.4 2178.2 479.1 2176 482.5 2163.3 499.2 2156.9 506 2152.5 509.9 2148 512.8 2139.4 517.4 2130.8 520.9 2120.1 523.9 2096.9 527.8 2084 527.3Z"/>
<path class="b" d="M2084 527.3 2096.4 523.9 2142.1 520 2150.1 518.6 2153.8 517 2161.8 511.7 2167.9 506.8 2174 500.7 2175.9 498.4 2182.1 489.3 2186.4 483.7 2188.7 481.2 2191 479.1 2199.7 474.1 2200.4 501.8 2189.7 504.8 2168.7 513 2152 518.3 2145.6 521.3 2141.9 522.7 2140.1 522.9 2096.5 524.5 2084 527.3Z"/>
<path class="o" d="M2084 527.3 2096.9 527.8 2120.1 523.9 2130.8 520.9 2139.4 517.4 2148 512.8 2152.5 509.9 2156.9 506 2163.3 499.2 2176 482.5 2178.2 479.1 2180.5 474.4 2184.7 460.7 2186.8 453.3 2188.8 447.9 2191.6 443.3 2201 443.3 2201 450.7 2196.8 452.7 2192.6 455.5 2190.6 457.4 2188.5 459.9 2186.4 463.9 2184.3 471 2182.2 477.1 2180.1 482.4 2178 486.1 2175.9 488.5 2171.8 492.2 2152.9 511.1 2150.9 512.8 2146.7 514.9 2140.4 517.2 2125.8 520.7 2098.6 523.7 2084 527.3Z"/>
<path class="o" d="M2084 527.3 2096.3 523.7 2137.9 519.8 2149.9 517.4 2151.6 516.6 2155.4 513.5 2165.7 503.9 2169.7 499.6 2173.8 494.5 2175.7 491.5 2186.1 470.4 2188.3 466.5 2190.6 463.4 2193 461.2 2199.4 456.1 2199.7 474.1 2191 479.1 2188.7 481.2 2186.4 483.7 2182.1 489.3 2175.9 498.4 2174 500.7 2167.9 506.8 2161.8 511.7 2153.8 517 2150.1 518.6 2142.1 520 2096.4 523.9 2084 527.3Z"/>
<path class="l" d="M2084 527.3 2098.6 523.7 2125.8 520.7 2140.4 517.2 2146.7 514.9 2150.9 512.8 2152.9 511.1 2171.8 492.2 2175.9 488.5 2178 486.1 2180.1 482.4 2182.2 477.1 2184.3 471 2186.4 463.9 2188.5 459.9 2190.6 457.4 2192.6 455.5 2196.8 452.7 2201 450.7 2199.4 456.1 2193 461.2 2190.6 463.4 2188.3 466.5 2186.1 470.4 2175.7 491.5 2173.8 494.5 2169.7 499.6 2165.7 503.9 2155.4 513.5 2151.6 516.6 2149.9 517.4 2137.9 519.8 2096.3 523.7 2084 527.3Z"/>
</g>
<path class="g" d="M2098.5 443.3V527.3M2113.5 443.3V527.3M2157.5 443.3V527.3M2186.5 443.3V527.3"/>
<path class="g" d="M2078 506.5H2206.1M2078 485.5H2206.1M2078 464.5H2206.1"/>
<path class="v" d="M2083.8 443.3V527.3M2142.3 443.3V527.3M2200.8 443.3V527.3" stroke="#ff0000"/>
<path class="k" clip-path="url(#c2_10)" d="M2084 527.3 2098.6 523.7 2125.8 520.7 2140.4 517.2 2146.7 514.9 2150.9 512.8 2152.9 511.1 2171.8 492.2 2175.9 488.5 2178 486.1 2180.1 482.4 2182.2 477.1 2184.3 471 2186.4 463.9 2188.5 459.9 2190.6 457.4 2192.6 455.5 2196.8 452.7 2201 450.7"/>
<path class="m" d="M2098.5 527.3V538.1M2113.5 527.3V538.1M2127.5 527.3V538.1M2157.5 527.3V538.1M2171.5 527.3V538.1M2186.5 527.3V538.1M2078 506.5H2067.2M2078 485.5H2067.2M2078 464.5H2067.2"/>
<path class="t" d="M2084 527.3V545.8M2142.5 527.3V545.8M2201 527.3V545.8M2078 527.3H2059.5M2078 443.3H2059.5" stroke="#ff0000"/>
<rect class="s" x="2078" y="443.7" width="128.1" height="84" stroke="#ff0000"/>
</g>
<g>
<g clip-path="url(#c3_0)">
<path class="b" d="M290 645.2 301.8 640.6 308.3 636.3 316.6 629.2 320.3 627.1 337.2 619.7 345.7 614.9 348 613.3 350.4 611.4 352.7 608.7 359.1 598.4 363.3 591 375.7 572.2 379.7 567.3 383.2 564 409.3 561.2 407 561.2 393.5 561.2 390.5 566 388.4 570.6 386.1 573.7 369.4 592.2 361 603.5 354.6 610.6 350.1 614.6 345.7 617.6 301.7 641.2 290 645.2Z"/>
<path class="b" d="M290 645.2 305.8 642.1 341.3 630.5 349.9 626.6 356.5 622.6 375.6 608.1 380 604 405.3 572.6 409.5 566.7 410.4 567.3 406.1 573.2 380.8 604.7 376.3 608.9 357.1 623.4 350.4 627.5 339.5 632.3 310.2 641.4 290 645.2Z"/>
<path class="o" d="M290 645.2 301.7 641.2 345.7 617.6 350.1 614.6 354.6 610.6 361 603.5 369.4 592.2 386.1 573.7 388.4 570.6 390.5 566 393.5 561.2 407 561.2 407 561.2 404.5 561.2 400.7 565 392.4 576.7 386.1 584.2 375.6 598 369.2 604.8 356.4 616.1 349.9 620.8 343.4 624.4 303.7 641.4 290 645.2Z"/>
<path class="o" d="M290 645.2 301.3 642.9 317.8 636.9 338.8 630.4 349.5 625.8 356 621.8 375 607.5 379.4 603.3 404.6 572 408.8 566.1 409.5 566.7 405.3 572.6 380 604 375.6 608.1 356.5 622.6 349.9 626.6 341.3 630.5 305.8 642.1 290 645.2Z"/>
<path class="l" d="M290 645.2 303.7 641.4 343.4 624.4 349.9 620.8 356.4 616.1 369.2 604.8 375.6 598 386.1 584.2 392.4 576.7 400.7 565 404.5 561.2 407 561.2 408.8 566.1 404.6 572 379.4 603.3 375 607.5 356 621.8 349.5 625.8 338.8 630.4 317.8 636.9 301.3 642.9 290 645.2Z"/>
</g>
<path class="g" d="M304.5 561.2V645.2M333.5 561.2V645.2M377.5 561.2V645.2M392.5 561.2V645.2"/>
<path class="g" d="M284 624.5H412.1M284 603.5H412.1M284 582.5H412.1"/>
<path class="v" d="M289.8 561.2V645.2M348.3 561.2V645.2M406.8 561.2V645.2" stroke="#ff0000"/>
<path class="k" clip-path="url(#c3_0)" d="M290 645.2 313 636.1 338.1 628.4 348.5 623.9 354.8 620 373.6 605.8 377.8 601.9 402.8 570.7 407 564.9"/>
<path class="m" d="M304.5 645.2V656M319.5 645.2V656M333.5 645.2V656M363.5 645.2V656M377.5 645.2V656M392.5 645.2V656M284 624.5H273.2M284 603.5H273.2M284 582.5H273.2"/>
<path class="t" d="M290 645.2V663.7M348.5 645.2V663.7M407 645.2V663.7M284 645.2H265.5M284 561.2H265.5" stroke="#ff0000"/>
<rect class="s" x="284" y="561.6" width="128.1" height="84" stroke="#ff0000"/>
</g>
<g>
<g clip-path="url(#c3_1)">
<path class="b" d="M469.4 645.2 482.9 642.6 524.8 626.7 537.5 620.6 542 617.9 544.3 616.2 546.6 613.9 559.3 598.7 576.1 575 582.3 565.4 585.8 561.2 586.4 561.2 588.1 569.1 584 572.7 580 576.7 548.6 613.7 544.2 617.8 539.8 621 533.3 624.8 522.6 629.8 482.7 643.6 469.4 645.2Z"/>
<path class="b" d="M469.4 645.2 481.8 641.7 510.8 638.8 527.1 634.9 535.1 631.7 585.2 604.9 585.7 610 581.4 611.2 578.9 612.2 570.5 617.9 533.1 634.9 527.2 637.2 510.9 640.5 481.9 642.2 469.4 645.2Z"/>
<path class="o" d="M469.4 645.2 482.7 643.6 522.6 629.8 533.3 624.8 539.8 621 544.2 617.8 548.6 613.7 580 576.7 584 572.7 588.1 569.1 588.1 578.2 573.6 590.5 546.4 618.3 541.9 621.7 535.4 625.5 524.7 630.3 482.7 643.9 469.4 645.2Z"/>
<path class="o" d="M469.4 645.2 481.7 641.3 508.5 637.5 535.3 629 543.4 625.4 566 610.7 584.7 595.4 585.2 604.9 535.1 631.7 527.1 634.9 510.8 638.8 481.8 641.7 469.4 645.2Z"/>
<path class="l" d="M469.4 645.2 482.7 643.9 524.7 630.3 535.4 625.5 541.9 621.7 546.4 618.3 573.6 590.5 588.1 578.2 584.7 595.4 566 610.7 543.4 625.4 535.3 629 508.5 637.5 481.7 641.3 469.4 645.2Z"/>
</g>
<path class="g" d="M498.5 561.2V645.2M542.5 561.2V645.2M571.5 561.2V645.2"/>
<path class="g" d="M463.4 624.5H591.5M463.4 603.5H591.5M463.4 582.5H591.5"/>
<path class="v" d="M469.1 561.2V645.2M527.7 561.2V645.2M586.2 561.2V645.2" stroke="#ff0000"/>
<path class="k" clip-path="url(#c3_1)" d="M469.4 645.2 481.9 641.1 507 634.9 536.3 624.3 542.5 621.2 548.8 616.9 555.1 611.8 573.9 594.1 586.4 584.5"/>
<path class="m" d="M484.5 645.2V656M498.5 645.2V656M513.5 645.2V656M542.5 645.2V656M557.5 645.2V656M571.5 645.2V656M463.4 624.5H452.6M463.4 603.5H452.6M463.4 582.5H452.6"/>
<path class="t" d="M469.4 645.2V663.7M527.9 645.2V663.7M586.4 645.2V663.7M463.4 645.2H444.9M463.4 561.2H444.9" stroke="#ff0000"/>
<rect class="s" x="463.4" y="561.6" width="128.1" height="84" stroke="#ff0000"/>
</g>
<g>
<g clip-path="url(#c3_2)">
<path class="b" d="M648.8 645.2 662.5 641.9 687.4 630.7 708.2 623.9 710.5 623 713 621.7 715.5 619.4 719.6 614.5 727.7 609.2 732.1 605.3 738.6 598.5 742.9 593.2 747.1 587 751.4 579.9 755.6 571.3 757.4 568.7 759.3 566.6 761.1 565.1 762.7 564.2 777.2 561.2 769.9 561.2 763.4 566.8 759.5 571.2 757.6 574 753.5 581.7 747.1 592.1 742.7 597.7 734.2 607 729.8 611 721.5 616.5 719.6 618.1 715.3 622.6 712.8 624.3 708.2 626.4 691.4 631.9 662.2 643.4 648.8 645.2Z"/>
<path class="b" d="M648.8 645.2 661.2 641.9 690.2 639.5 694 638.7 750.1 617 764.6 610.1 764.9 614.8 752.2 619.5 735.6 625.2 719 632.2 708.8 634.8 694.1 639.4 690.3 640.1 661.3 642.1 648.8 645.2Z"/>
<path class="o" d="M648.8 645.2 662.2 643.4 691.4 631.9 708.2 626.4 712.8 624.3 715.3 622.6 719.6 618.1 721.5 616.5 729.8 611 734.2 607 742.7 597.7 747.1 592.1 753.5 581.7 757.6 574 759.5 571.2 763.4 566.8 769.9 561.2 767.7 570.5 763.6 574.8 759.6 579.9 749.1 595.3 744.8 600.8 738.4 607.8 729.9 615.8 721.3 622.1 714.8 626.1 708.2 629 662.1 643.9 648.8 645.2Z"/>
<path class="o" d="M648.8 645.2 661.2 641.8 690.1 638.9 694 638 731.2 622.6 737.2 619.3 764.3 601.2 764.6 610.1 750.1 617 694 638.7 690.2 639.5 661.2 641.9 648.8 645.2Z"/>
<path class="l" d="M648.8 645.2 662.1 643.9 708.2 629 714.8 626.1 721.3 622.1 729.9 615.8 738.4 607.8 744.8 600.8 749.1 595.3 759.6 579.9 763.6 574.8 767.7 570.5 764.3 601.2 737.2 619.3 731.2 622.6 694 638 690.1 638.9 661.2 641.8 648.8 645.2Z"/>
</g>
<path class="g" d="M663.5 561.2V645.2M692.5 561.2V645.2M721.5 561.2V645.2M736.5 561.2V645.2"/>
<path class="g" d="M642.8 624.5H770.9M642.8 603.5H770.9M642.8 582.5H770.9"/>
<path class="v" d="M648.5 561.2V645.2M707.1 561.2V645.2M765.6 561.2V645.2" stroke="#ff0000"/>
<path class="k" clip-path="url(#c3_2)" d="M648.8 645.2 661.4 641 686.4 636.4 707.3 630.7 717.7 626.2 724 622.8 734.4 616.2 740.7 612.6 744.9 609.4 753.2 601.2 757.4 596.9 759.5 595.3 765.8 592.1"/>
<path class="m" d="M663.5 645.2V656M678.5 645.2V656M692.5 645.2V656M721.5 645.2V656M736.5 645.2V656M751.5 645.2V656M642.8 624.5H632M642.8 603.5H632M642.8 582.5H632"/>
<path class="t" d="M648.8 645.2V663.7M707.3 645.2V663.7M765.8 645.2V663.7M642.8 645.2H624.3M642.8 561.2H624.3" stroke="#ff0000"/>
<rect class="s" x="642.8" y="561.6" width="128.1" height="84" stroke="#ff0000"/>
</g>
<g>
<g clip-path="url(#c3_3)">
<path class="b" d="M828.2 645.2 841.5 643.9 856.4 639 860.8 637.1 866.8 634 879.3 630 883.7 628.1 886 626.8 888.4 625.2 890.9 622.6 897.1 614.1 898.9 612 900.4 611.1 904.4 609.8 906.9 608.7 909.4 606.9 911.7 604.4 914.2 600.9 918.3 589.6 919.8 588 922 586.3 924.7 582.9 926.8 575.9 928.5 572.9 932.5 569.5 936.6 564.5 942.4 561.2 945.2 561.2 946.6 561.2 940.8 564.4 938.8 567 930.7 575.3 928.8 578.4 926.7 584 924.4 587.9 922.2 590.4 920.4 592.8 916.2 602.9 913.9 606.2 911.5 608.8 909.2 610.7 902.7 614.4 896.8 618.8 894.9 620.6 890.7 625.4 888.3 627.5 886 629 881.6 631.3 862.5 638.9 841.4 644.7 828.2 645.2Z"/>
<path class="b" d="M828.2 645.2 840.5 641.2 873.7 636.8 879.6 635.4 906.7 624.2 921.3 619.9 925 618.2 937.5 609.4 943.8 605.7 943.4 610.6 939.2 614.3 931.3 620.8 927.6 622.4 917.3 625.2 877.6 639.3 871.7 640.7 840.7 642.3 828.2 645.2Z"/>
<path class="o" d="M828.2 645.2 841.4 644.7 862.5 638.9 881.6 631.3 886 629 888.3 627.5 890.7 625.4 894.9 620.6 896.8 618.8 902.7 614.4 909.2 610.7 911.5 608.8 913.9 606.2 916.2 602.9 920.4 592.8 922.2 590.4 924.4 587.9 926.7 584 928.8 578.4 930.7 575.3 938.8 567 940.8 564.4 946.6 561.2 946.5 566.4 942.5 568.7 940.7 570.2 932.7 578.7 930.8 581.7 928.7 586.1 926.5 590.1 922.3 596.1 918.2 603 915.9 606.4 913.7 608.9 909.3 613 890.2 627.9 885.8 630.4 873.1 636.3 858.2 641.4 841.3 645.2 828.2 645.2Z"/>
<path class="o" d="M828.2 645.2 840.5 641 871.5 636.3 877.6 634.9 881.4 633.4 891.8 627.7 921 615.7 922.9 614.7 926.7 611.7 933 605.8 935.2 604 937.6 602.5 944.1 599.5 943.8 605.7 937.5 609.4 925 618.2 921.3 619.9 906.7 624.2 879.6 635.4 873.7 636.8 840.5 641.2 828.2 645.2Z"/>
<path class="l" d="M828.2 645.2 841.3 645.2 858.2 641.4 873.1 636.3 885.8 630.4 890.2 627.9 909.3 613 913.7 608.9 915.9 606.4 918.2 603 922.3 596.1 926.5 590.1 928.7 586.1 930.8 581.7 932.7 578.7 940.7 570.2 942.5 568.7 946.5 566.4 944.1 599.5 937.6 602.5 935.2 604 933 605.8 926.7 611.7 922.9 614.7 921 615.7 891.8 627.7 881.4 633.4 877.6 634.9 871.5 636.3 840.5 641 828.2 645.2Z"/>
</g>
<path class="g" d="M842.5 561.2V645.2M857.5 561.2V645.2M915.5 561.2V645.2"/>
<path class="g" d="M822.2 624.5H950.3M822.2 603.5H950.3M822.2 582.5H950.3"/>
<path class="v" d="M828 561.2V645.2M886.5 561.2V645.2M945 561.2V645.2" stroke="#ff0000"/>
<path class="k" clip-path="url(#c3_3)" d="M828.2 645.2 844.9 640.5 863.7 637.3 882.5 630.4 890.9 626.1 899.2 620.5 903.4 617.2 922.2 598.8 928.5 592 930.5 589.2 932.6 584.8 934.7 579.4 936.8 576.1 938.9 573.9 941 573 945.2 572.4"/>
<path class="m" d="M842.5 645.2V656M857.5 645.2V656M872.5 645.2V656M901.5 645.2V656M915.5 645.2V656M930.5 645.2V656M822.2 624.5H811.4M822.2 603.5H811.4M822.2 582.5H811.4"/>
<path class="t" d="M828.2 645.2V663.7M886.7 645.2V663.7M945.2 645.2V663.7M822.2 645.2H803.7M822.2 561.2H803.7" stroke="#ff0000"/>
<rect class="s" x="822.2" y="561.6" width="128.1" height="84" stroke="#ff0000"/>
</g>
<g>
<g clip-path="url(#c3_4)">
<path class="b" d="M1007.6 645.2 1020.9 644 1048.3 635.2 1056.8 631.5 1067.5 625.3 1073.8 620.9 1075.6 619.8 1080.3 617.8 1083.1 614.6 1085.3 608.3 1087.2 603.8 1093.3 596.4 1097.6 590 1101.7 582.3 1105.4 580 1108.3 576.6 1110.4 566.9 1112 563.9 1123.3 561.2 1124.6 561.2 1124.6 561.2 1117.5 561.2 1114.4 565.8 1112.5 570.4 1110.3 577.6 1107.8 581.7 1103.6 584.9 1101.8 587.4 1099.7 591.2 1097.4 594.4 1093.2 599.2 1091.3 601.6 1089.4 605.2 1087.3 610 1085 614 1082.7 616.9 1078.2 620.8 1071.6 625.3 1058.9 631.9 1041.9 638.7 1020.8 644.5 1007.6 645.2Z"/>
<path class="b" d="M1007.6 645.2 1019.9 641.4 1065.6 635.9 1096.5 625.9 1123.3 612.4 1124.3 628.8 1074 636.3 1069.4 637.4 1059.1 641.3 1055.5 641.9 1020.1 642.6 1007.6 645.2Z"/>
<path class="o" d="M1007.6 645.2 1020.8 644.5 1041.9 638.7 1058.9 631.9 1071.6 625.3 1078.2 620.8 1082.7 616.9 1085 614 1087.3 610 1089.4 605.2 1091.3 601.6 1093.2 599.2 1097.4 594.4 1099.7 591.2 1101.8 587.4 1103.6 584.9 1107.8 581.7 1110.3 577.6 1112.5 570.4 1114.4 565.8 1117.5 561.2 1124.6 561.2 1124.6 565.2 1123.1 565.2 1122.3 565.5 1112.2 581.7 1095.4 603.7 1087 616.5 1084.7 619 1080.2 622.6 1073.7 626.7 1060.9 632.9 1043.9 639.2 1020.7 644.9 1007.6 645.2Z"/>
<path class="o" d="M1007.6 645.2 1019.8 641.1 1063.5 634.9 1073.6 632.2 1083.7 628 1087.7 625.8 1093.7 621.4 1099.8 616.1 1114.4 599.9 1122.9 592.4 1123.3 612.4 1096.5 625.9 1065.6 635.9 1019.9 641.4 1007.6 645.2Z"/>
<path class="l" d="M1007.6 645.2 1020.7 644.9 1043.9 639.2 1060.9 632.9 1073.7 626.7 1080.2 622.6 1084.7 619 1087 616.5 1095.4 603.7 1112.2 581.7 1122.3 565.5 1123.1 565.2 1124.6 565.2 1122.9 592.4 1114.4 599.9 1099.8 616.1 1093.7 621.4 1087.7 625.8 1083.7 628 1073.6 632.2 1063.5 634.9 1019.8 641.1 1007.6 645.2Z"/>
</g>
<path class="g" d="M1036.5 561.2V645.2M1051.5 561.2V645.2M1080.5 561.2V645.2M1095.5 561.2V645.2M1109.5 561.2V645.2"/>
<path class="g" d="M1001.6 624.5H1129.7M1001.6 603.5H1129.7M1001.6 582.5H1129.7"/>
<path class="v" d="M1007.4 561.2V645.2M1065.9 561.2V645.2M1124.4 561.2V645.2" stroke="#ff0000"/>
<path class="k" clip-path="url(#c3_4)" d="M1007.6 645.2 1053.6 634.9 1066.1 630.7 1074.5 626.8 1082.8 621.7 1089.1 616.9 1099.5 606.3 1114.2 588.9 1120.4 580.3 1124.6 576.2"/>
<path class="m" d="M1022.5 645.2V656M1036.5 645.2V656M1051.5 645.2V656M1080.5 645.2V656M1095.5 645.2V656M1109.5 645.2V656M1001.6 624.5H990.8M1001.6 603.5H990.8M1001.6 582.5H990.8"/>
<path class="t" d="M1007.6 645.2V663.7M1066.1 645.2V663.7M1124.6 645.2V663.7M1001.6 645.2H983.1M1001.6 561.2H983.1" stroke="#ff0000"/>
<rect class="s" x="1001.6" y="561.6" width="128.1" height="84" stroke="#ff0000"/>
</g>
<g>
<g clip-path="url(#c3_5)">
<path class="b" d="M1187 645.2 1200.3 643.7 1231.9 633 1238.4 629.9 1249.1 623 1253.5 619.5 1258 614.9 1260.2 612.1 1262.4 608.8 1266.5 600.5 1268.2 598.6 1270.3 596.8 1272.7 594.2 1275 590.4 1277.3 585.1 1279.4 575 1280.8 573 1282.6 572 1285.1 569.7 1289.1 564.3 1295.5 561.2 1304 561.2 1304 561.2 1295.2 561.2 1291.5 565 1289.5 568.4 1285.2 573.3 1283.4 575.9 1279.3 587.1 1277 591.1 1274.7 594.1 1270.6 599.1 1260.1 614.2 1253.6 621.3 1249.2 625.3 1246.9 626.8 1242.5 629.3 1233.9 633 1200.3 644 1187 645.2Z"/>
<path class="b" d="M1187 645.2 1202.3 644.7 1261.1 629.7 1271.8 625.8 1276.3 623.6 1278.6 622.2 1299.6 605.1 1305.8 600.7 1306.4 601.5 1300.2 606 1279.2 623.1 1276.8 624.6 1272.2 626.8 1261.4 630.7 1209 644.2 1206.8 644.5 1187 645.2Z"/>
<path class="o" d="M1187 645.2 1200.3 644 1233.9 633 1242.5 629.3 1246.9 626.8 1249.2 625.3 1253.6 621.3 1260.1 614.2 1270.6 599.1 1274.7 594.1 1277 591.1 1279.3 587.1 1283.4 575.9 1285.2 573.3 1289.5 568.4 1291.5 565 1295.2 561.2 1304 561.2 1305.1 575.6 1284.6 585.6 1282.9 587 1281 589.2 1264.3 611.4 1253.6 623 1249.2 626.9 1244.6 629.6 1236 633.4 1200.2 644.3 1187 645.2Z"/>
<path class="o" d="M1187 645.2 1195.7 644.9 1260.7 628.6 1271.3 624.7 1275.7 622.6 1277.9 621.2 1298.8 604.2 1305.1 599.7 1305.8 600.7 1299.6 605.1 1278.6 622.2 1276.3 623.6 1271.8 625.8 1261.1 629.7 1202.3 644.7 1187 645.2Z"/>
<path class="l" d="M1187 645.2 1200.2 644.3 1236 633.4 1244.6 629.6 1249.2 626.9 1253.6 623 1264.3 611.4 1281 589.2 1282.9 587 1284.6 585.6 1305.1 575.6 1305.1 599.7 1298.8 604.2 1277.9 621.2 1275.7 622.6 1271.3 624.7 1260.7 628.6 1195.7 644.9 1187 645.2Z"/>
</g>
<path class="g" d="M1201.5 561.2V645.2M1230.5 561.2V645.2M1260.5 561.2V645.2M1289.5 561.2V645.2"/>
<path class="g" d="M1181 624.5H1309.1M1181 603.5H1309.1M1181 582.5H1309.1"/>
<path class="v" d="M1186.8 561.2V645.2M1245.3 561.2V645.2M1303.8 561.2V645.2" stroke="#ff0000"/>
<path class="k" clip-path="url(#c3_5)" d="M1187 645.2 1260.1 626.8 1270.6 623 1274.8 620.9 1278.9 618.1 1295.6 604.2 1304 598.1"/>
<path class="m" d="M1201.5 645.2V656M1216.5 645.2V656M1230.5 645.2V656M1260.5 645.2V656M1274.5 645.2V656M1289.5 645.2V656M1181 624.5H1170.2M1181 603.5H1170.2M1181 582.5H1170.2"/>
<path class="t" d="M1187 645.2V663.7M1245.5 645.2V663.7M1304 645.2V663.7M1181 645.2H1162.5M1181 561.2H1162.5" stroke="#ff0000"/>
<rect class="s" x="1181" y="561.6" width="128.1" height="84" stroke="#ff0000"/>
</g>
<g>
<g clip-path="url(#c3_6)">
<path class="b" d="M1366.4 645.2 1379.9 642.6 1390.1 639.2 1404.9 635.4 1409.3 633.7 1413.8 631.2 1420.3 626.7 1424.7 622.9 1439.4 607.8 1443.8 602.5 1448.1 595.9 1450.2 592 1452.4 587.5 1454.5 582.3 1456.5 578 1458.3 575.5 1462.5 571 1464.9 567.5 1467.6 561.2 1483.4 561.2 1483.4 561.2 1469.5 561.2 1469.5 563.8 1468.8 563.5 1466.9 567.6 1464.7 571.2 1460.4 577.2 1456.3 582 1454.4 585 1450.3 595.1 1448.1 599.1 1445.8 602.2 1431.1 620 1426.7 624.4 1420.2 629.5 1413.7 633.9 1409.2 636.1 1404.7 637.6 1390 640.4 1379.8 643.3 1366.4 645.2Z"/>
<path class="b" d="M1366.4 645.2 1378.9 642.1 1426.7 639.2 1445.1 635.2 1474.1 627.1 1482.3 623.7 1482.8 631.1 1457.8 635 1445.2 638 1428.8 640.6 1378.9 642.4 1366.4 645.2Z"/>
<path class="o" d="M1366.4 645.2 1379.8 643.3 1390 640.4 1404.7 637.6 1409.2 636.1 1413.7 633.9 1420.2 629.5 1426.7 624.4 1431.1 620 1445.8 602.2 1448.1 599.1 1450.3 595.1 1454.4 585 1456.3 582 1460.4 577.2 1464.7 571.2 1466.9 567.6 1468.8 563.5 1469.5 563.8 1469.5 561.2 1483.4 561.2 1483.4 561.2 1476.2 561.2 1473.2 565.5 1471.1 569.8 1466.7 576.5 1464.4 579.2 1460.4 582.9 1458.6 585.6 1454.4 594.4 1448 605.4 1443.7 611.7 1437.3 619 1430.8 625.1 1426.4 628.3 1415.7 634.9 1409.1 637.8 1404.6 639 1389.9 641.5 1379.7 643.9 1366.4 645.2Z"/>
<path class="o" d="M1366.4 645.2 1378.8 641.8 1424.5 637.9 1430.4 636.6 1448.9 629.5 1482.2 613.2 1482.3 623.7 1474.1 627.1 1445.1 635.2 1426.7 639.2 1378.9 642.1 1366.4 645.2Z"/>
<path class="l" d="M1366.4 645.2 1379.7 643.9 1389.9 641.5 1404.6 639 1409.1 637.8 1415.7 634.9 1426.4 628.3 1430.8 625.1 1437.3 619 1443.7 611.7 1448 605.4 1454.4 594.4 1458.6 585.6 1460.4 582.9 1464.4 579.2 1466.7 576.5 1471.1 569.8 1473.2 565.5 1476.2 561.2 1483.4 561.2 1482.2 613.2 1448.9 629.5 1430.4 636.6 1424.5 637.9 1378.8 641.8 1366.4 645.2Z"/>
</g>
<path class="g" d="M1381.5 561.2V645.2M1395.5 561.2V645.2M1410.5 561.2V645.2M1439.5 561.2V645.2M1454.5 561.2V645.2"/>
<path class="g" d="M1360.4 624.5H1488.5M1360.4 603.5H1488.5M1360.4 582.5H1488.5"/>
<path class="v" d="M1366.2 561.2V645.2M1424.7 561.2V645.2M1483.2 561.2V645.2" stroke="#ff0000"/>
<path class="k" clip-path="url(#c3_6)" d="M1366.4 645.2 1383.1 641.3 1406.1 638.2 1435.3 628.6 1439.5 626.8 1441.6 625.7 1445.8 622.4 1456.2 612.6 1460.4 607.8 1464.6 602.1 1466.7 598.7 1470.8 590.1 1472.9 588.4 1483.4 582.3"/>
<path class="m" d="M1381.5 645.2V656M1395.5 645.2V656M1410.5 645.2V656M1439.5 645.2V656M1454.5 645.2V656M1468.5 645.2V656M1360.4 624.5H1349.6M1360.4 603.5H1349.6M1360.4 582.5H1349.6"/>
<path class="t" d="M1366.4 645.2V663.7M1424.9 645.2V663.7M1483.4 645.2V663.7M1360.4 645.2H1341.9M1360.4 561.2H1341.9" stroke="#ff0000"/>
<rect class="s" x="1360.4" y="561.6" width="128.1" height="84" stroke="#ff0000"/>
</g>
<g>
<g clip-path="url(#c3_7)">
<path class="b" d="M1545.8 645.2 1559 644.5 1584.3 637.7 1588.7 636.1 1593.2 633.7 1599.7 629 1610.3 620 1614.7 615.5 1617 612.4 1619.3 608 1623.4 598.2 1627.4 591.6 1629.3 589.1 1631.4 586.9 1633.8 583.5 1636.1 577.5 1638.2 565.7 1640.8 561.2 1662.8 561.2 1662.8 561.2 1642.9 561.2 1640.3 565.7 1638.2 575.7 1636 583 1633.6 586.9 1629.4 592 1625.4 598.1 1623.5 602 1621.4 607.3 1619.2 612.2 1616.8 615.5 1614.6 618 1612.4 620.2 1595.3 634 1590.8 636.6 1586.3 638.2 1558.9 644.8 1545.8 645.2Z"/>
<path class="b" d="M1545.8 645.2 1558.1 641.2 1601.7 635.3 1609.7 633.3 1617.8 630.1 1638.3 617.6 1661.2 599.8 1660.9 606.1 1656.7 610.2 1650.7 615.5 1638.4 624.4 1620 635 1616.3 636.1 1603.8 637.9 1595.5 640 1558.3 642.2 1545.8 645.2Z"/>
<path class="o" d="M1545.8 645.2 1558.9 644.8 1586.3 638.2 1590.8 636.6 1595.3 634 1612.4 620.2 1614.6 618 1616.8 615.5 1619.2 612.2 1621.4 607.3 1623.5 602 1625.4 598.1 1629.4 592 1633.6 586.9 1636 583 1638.2 575.7 1640.3 565.7 1642.9 561.2 1662.8 561.2 1662.8 561.2 1644.9 561.2 1642.4 566 1640.3 575.3 1638.1 583.1 1635.8 587.2 1631.5 592.6 1627.5 598.6 1625.5 602.2 1621.3 611.9 1619 615.4 1616.7 618.1 1612.3 622.4 1597.5 634.3 1592.9 637.1 1590.6 638 1586.2 639.4 1558.9 645.2 1545.8 645.2Z"/>
<path class="o" d="M1545.8 645.2 1558.1 640.9 1595.4 635.4 1603.6 633.4 1607.4 632 1619.6 625 1636 612.9 1640 609.3 1660.7 583.7 1661.2 599.8 1638.3 617.6 1617.8 630.1 1609.7 633.3 1601.7 635.3 1558.1 641.2 1545.8 645.2Z"/>
<path class="l" d="M1545.8 645.2 1558.9 645.2 1586.2 639.4 1590.6 638 1592.9 637.1 1597.5 634.3 1612.3 622.4 1616.7 618.1 1619 615.4 1621.3 611.9 1625.5 602.2 1627.5 598.6 1631.5 592.6 1635.8 587.2 1638.1 583.1 1640.3 575.3 1642.4 566 1644.9 561.2 1662.8 561.2 1660.7 583.7 1640 609.3 1636 612.9 1619.6 625 1607.4 632 1603.6 633.4 1595.4 635.4 1558.1 640.9 1545.8 645.2Z"/>
</g>
<path class="g" d="M1575.5 561.2V645.2M1633.5 561.2V645.2M1648.5 561.2V645.2"/>
<path class="g" d="M1539.8 624.5H1667.9M1539.8 603.5H1667.9M1539.8 582.5H1667.9"/>
<path class="v" d="M1545.5 561.2V645.2M1604.1 561.2V645.2M1662.6 561.2V645.2" stroke="#ff0000"/>
<path class="k" clip-path="url(#c3_7)" d="M1545.8 645.2 1585.5 637.6 1595.9 634.3 1604.3 630.7 1610.6 627.1 1616.8 622.4 1618.9 620.6 1623.1 616.1 1625.2 614.2 1627.3 612.9 1631.4 610.7 1633.5 608.8 1635.6 604.9 1637.7 599.8 1639.8 595.4 1641.9 593 1646.1 590.2 1648.1 588.3 1650.2 584.8 1656.5 570.9 1658.6 567.2 1660.7 565.5 1662.8 564.1"/>
<path class="m" d="M1560.5 645.2V656M1575.5 645.2V656M1589.5 645.2V656M1618.5 645.2V656M1633.5 645.2V656M1648.5 645.2V656M1539.8 624.5H1529M1539.8 603.5H1529M1539.8 582.5H1529"/>
<path class="t" d="M1545.8 645.2V663.7M1604.3 645.2V663.7M1662.8 645.2V663.7M1539.8 645.2H1521.3M1539.8 561.2H1521.3" stroke="#ff0000"/>
<rect class="s" x="1539.8" y="561.6" width="128.1" height="84" stroke="#ff0000"/>
</g>
<g>
<g clip-path="url(#c3_8)">
<path class="b" d="M1725.2 645.2 1738.5 643.7 1759.6 636.4 1776.3 628.7 1782.6 626.5 1785.1 625.3 1787.6 623.4 1789.9 621 1796.4 612 1800.7 604.8 1805 595.8 1807.1 590.1 1809.2 583.1 1811.3 574.5 1813.4 567.8 1815.1 563.3 1815.6 563.8 1815.6 561.2 1842.2 561.2 1842.2 561.2 1818 561.2 1818 563.7 1817.2 563.5 1815.4 567.9 1813.4 574.2 1811.3 582.7 1809.2 590.1 1807 595.9 1802.8 605 1798.5 612.3 1792 621.3 1789.7 623.9 1787.3 625.9 1784.8 627.2 1778.4 629.5 1759.5 637.8 1738.4 644.2 1725.2 645.2Z"/>
<path class="b" d="M1725.2 645.2 1746.8 645 1765.9 641.6 1776.8 638.1 1785.6 634.4 1790.1 631.7 1805 621.7 1807.3 619.8 1809.7 617.6 1812.1 614.8 1824.8 597.1 1827.1 593.1 1835.4 574.4 1837.2 571.7 1838.9 569.7 1840.6 568.2 1842.1 567.2 1844 566.4 1844.6 567.7 1842.9 568.5 1841.5 569.4 1840 570.8 1838.4 572.6 1836.7 575.2 1828.5 593.8 1826.1 597.9 1813.2 615.7 1810.8 618.6 1808.3 621 1805.9 622.9 1790.9 633 1786.2 635.7 1777.4 639.5 1766.2 643 1753.2 645.3 1725.2 645.2Z"/>
<path class="o" d="M1725.2 645.2 1738.4 644.2 1759.5 637.8 1778.4 629.5 1784.8 627.2 1787.3 625.9 1789.7 623.9 1792 621.3 1798.5 612.3 1802.8 605 1807 595.9 1809.2 590.1 1811.3 582.7 1813.4 574.2 1815.4 567.9 1817.2 563.5 1818 563.7 1818 561.2 1842.2 561.2 1842.2 561.2 1820.2 561.2 1820.2 563.7 1819.3 563.7 1817.5 567.9 1815.5 574.1 1811.3 590 1809.1 595.9 1807 600.9 1804.9 605.3 1800.6 612.6 1794.1 621.9 1791.9 624.5 1789.4 626.7 1787 628.1 1761.6 638.4 1738.3 644.6 1725.2 645.2Z"/>
<path class="o" d="M1725.2 645.2 1738.3 645 1765.5 640.1 1776.3 636.7 1784.9 633 1789.3 630.5 1804.1 620.5 1806.3 618.7 1808.6 616.6 1810.9 613.9 1823.5 596.3 1825.8 592.4 1834.1 573.7 1836 570.8 1837.8 568.7 1839.6 567 1841.4 565.9 1843.3 565 1844 566.4 1842.1 567.2 1840.6 568.2 1838.9 569.7 1837.2 571.7 1835.4 574.4 1827.1 593.1 1824.8 597.1 1812.1 614.8 1809.7 617.6 1807.3 619.8 1805 621.7 1790.1 631.7 1785.6 634.4 1776.8 638.1 1765.9 641.6 1746.8 645 1725.2 645.2Z"/>
<path class="l" d="M1725.2 645.2 1738.3 644.6 1761.6 638.4 1787 628.1 1789.4 626.7 1791.9 624.5 1794.1 621.9 1800.6 612.6 1804.9 605.3 1807 600.9 1809.1 595.9 1811.3 590 1815.5 574.1 1817.5 567.9 1819.3 563.7 1820.2 563.7 1820.2 561.2 1842.2 561.2 1843.3 565 1841.4 565.9 1839.6 567 1837.8 568.7 1836 570.8 1834.1 573.7 1825.8 592.4 1823.5 596.3 1810.9 613.9 1808.6 616.6 1806.3 618.7 1804.1 620.5 1789.3 630.5 1784.9 633 1776.3 636.7 1765.5 640.1 1738.3 645 1725.2 645.2Z"/>
</g>
<path class="g" d="M1754.5 561.2V645.2M1769.5 561.2V645.2M1798.5 561.2V645.2M1827.5 561.2V645.2"/>
<path class="g" d="M1719.2 624.5H1847.3M1719.2 603.5H1847.3M1719.2 582.5H1847.3"/>
<path class="v" d="M1725 561.2V645.2M1783.5 561.2V645.2M1842 561.2V645.2" stroke="#ff0000"/>
<path class="k" clip-path="url(#c3_8)" d="M1725.2 645.2 1764.9 637.5 1775.3 634.2 1783.7 630.6 1790 626.8 1802.5 618.3 1806.7 614.7 1808.8 612.3 1821.3 594.9 1823.4 591.3 1831.8 572.4 1833.8 569.2 1835.9 566.8 1838 564.9 1840.1 563.6 1842.2 562.6"/>
<path class="m" d="M1739.5 645.2V656M1754.5 645.2V656M1769.5 645.2V656M1798.5 645.2V656M1812.5 645.2V656M1827.5 645.2V656M1719.2 624.5H1708.4M1719.2 603.5H1708.4M1719.2 582.5H1708.4"/>
<path class="t" d="M1725.2 645.2V663.7M1783.7 645.2V663.7M1842.2 645.2V663.7M1719.2 645.2H1700.7M1719.2 561.2H1700.7" stroke="#ff0000"/>
<rect class="s" x="1719.2" y="561.6" width="128.1" height="84" stroke="#ff0000"/>
</g>
<g>
<g clip-path="url(#c3_9)">
<path class="b" d="M1904.6 645.2 1917.9 643.7 1930.7 639.1 1939.3 634.9 1943.8 632.1 1946 630.3 1948.4 628.1 1950.7 624.9 1955 616.4 1956.9 613.1 1963.2 605.3 1965.5 601.4 1967.7 595.5 1969.8 589 1974 579.6 1976.1 568.9 1977.9 563.7 1992.6 561.2 2021.6 561.2 2021.6 561.2 1984.4 561.2 1980.1 564.3 1978.2 570.4 1976.1 579.4 1971.8 589 1967.6 601.9 1965.4 606.2 1963.1 609.4 1959 614.6 1957 617.6 1952.8 625.6 1950.5 629 1948.1 631.2 1943.6 634.3 1939.2 636.6 1930.6 640.2 1917.8 644.1 1904.6 645.2Z"/>
<path class="b" d="M1904.6 645.2 1917 641.9 1948.1 639.3 1951.9 638.6 1955.5 636.9 1967.8 628.8 1973.9 623.7 1977.9 619.8 1988.2 607.3 1992.1 601.6 1994.1 597.7 1998.2 587.3 2000.3 581.2 2002.6 576.4 2006.8 570.3 2008.7 566.9 2011 560.5 2014.6 558.7 2021.6 561.2 2021.6 561.2 2016 559 2012.9 561.4 2010.8 568.9 2008.9 572.3 2004.7 578.3 2002.5 582.7 1996.1 600.6 1994.2 605.1 1992.4 607.4 1986.3 612.9 1984.1 615.3 1977.8 622.8 1973.8 626.8 1965.8 633.5 1961.9 635.9 1953.9 639.4 1950.2 640.2 1917 642.2 1904.6 645.2Z"/>
<path class="o" d="M1904.6 645.2 1917.8 644.1 1930.6 640.2 1939.2 636.6 1943.6 634.3 1948.1 631.2 1950.5 629 1952.8 625.6 1957 617.6 1959 614.6 1963.1 609.4 1965.4 606.2 1967.6 601.9 1971.8 589 1976.1 579.4 1978.2 570.4 1980.1 564.3 1984.4 561.2 2021.6 561.2 2021.6 561.2 1993 561.2 1990.7 570.3 1988.5 576.6 1986.3 581.3 1983.9 584.4 1979.8 588.9 1977.8 591.5 1957 626.2 1954.7 629.4 1952.2 631.6 1949.9 633.2 1945.4 635.6 1938.9 638.2 1917.8 644.5 1904.6 645.2Z"/>
<path class="o" d="M1904.6 645.2 1917 641.7 1946 638.7 1951.7 637.6 1953.5 636.7 1963.5 629.2 1971.7 621.7 1977.8 615 1983.9 606.9 1988 600.7 1990 597.1 1992 592.5 1998.3 574.4 2000.5 570.2 2002.6 567 2004.7 562.4 2007 559.5 2021.6 561.2 2021.6 561.2 2014.6 558.7 2011 560.5 2008.7 566.9 2006.8 570.3 2002.6 576.4 2000.3 581.2 1998.2 587.3 1994.1 597.7 1992.1 601.6 1988.2 607.3 1977.9 619.8 1973.9 623.7 1967.8 628.8 1955.5 636.9 1951.9 638.6 1948.1 639.3 1917 641.9 1904.6 645.2Z"/>
<path class="l" d="M1904.6 645.2 1917.8 644.5 1938.9 638.2 1945.4 635.6 1949.9 633.2 1952.2 631.6 1954.7 629.4 1957 626.2 1977.8 591.5 1979.8 588.9 1983.9 584.4 1986.3 581.3 1988.5 576.6 1990.7 570.3 1993 561.2 2021.6 561.2 2021.6 561.2 2007 559.5 2004.7 562.4 2002.6 567 2000.5 570.2 1998.3 574.4 1992 592.5 1990 597.1 1988 600.7 1983.9 606.9 1977.8 615 1971.7 621.7 1963.5 629.2 1953.5 636.7 1951.7 637.6 1946 638.7 1917 641.7 1904.6 645.2Z"/>
</g>
<path class="g" d="M1919.5 561.2V645.2M1948.5 561.2V645.2M1992.5 561.2V645.2"/>
<path class="g" d="M1898.6 624.5H2026.7M1898.6 603.5H2026.7M1898.6 582.5H2026.7"/>
<path class="v" d="M1904.4 561.2V645.2M1962.9 561.2V645.2M2021.4 561.2V645.2" stroke="#ff0000"/>
<path class="k" clip-path="url(#c3_9)" d="M1904.6 645.2 1935.9 639.8 1940.1 638.6 1944.3 636.7 1950.6 632.6 1954.7 629.1 1969.4 613.2 1973.5 607.7 1979.8 597.5 1984 589.5 1986.1 584.9 1990.3 573.7 1992.4 567 1994.4 562.4 1996.5 561.2 2021.6 561.2"/>
<path class="m" d="M1919.5 645.2V656M1933.5 645.2V656M1948.5 645.2V656M1977.5 645.2V656M1992.5 645.2V656M2006.5 645.2V656M1898.6 624.5H1887.8M1898.6 603.5H1887.8M1898.6 582.5H1887.8"/>
<path class="t" d="M1904.6 645.2V663.7M1963.1 645.2V663.7M2021.6 645.2V663.7M1898.6 645.2H1880.1M1898.6 561.2H1880.1" stroke="#ff0000"/>
<rect class="s" x="1898.6" y="561.6" width="128.1" height="84" stroke="#ff0000"/>
</g>
<g>
<g clip-path="url(#c3_10)">
<path class="b" d="M2084 645.1 2097.4 643.6 2110.2 638.5 2120.9 632.9 2127.4 628.5 2133.9 623 2138.3 618.3 2146.7 607.4 2151 600.8 2153.2 597.1 2155.4 592.6 2157.6 586.5 2159.7 577.6 2161.7 571 2163.7 565.7 2166.5 561.2 2201 561.2 2201 561.2 2169.6 561.2 2165.7 564.5 2163.8 569.4 2161.8 575.4 2157.5 591.1 2155.3 596.2 2153.2 600.1 2148.9 606.9 2138.2 620.5 2133.8 624.9 2127.3 630.2 2120.8 634.4 2110.1 639.5 2097.3 644 2084 645.1Z"/>
<path class="b" d="M2084 645.1 2096.4 642 2133.7 639.4 2135.5 639.1 2139.1 637.5 2155.5 626.5 2159.5 623.2 2163.4 618.9 2167.4 613.2 2169.3 609.7 2173.5 598.9 2177.7 589.6 2188.1 569.1 2190.2 563.9 2192.4 560 2201 561.2 2199 565.4 2196.9 567.8 2192.5 573.5 2190.3 576.9 2188.1 581.1 2186 586.4 2183.8 593.1 2181.7 602.2 2179.7 610 2177.8 613.9 2175.8 616.9 2173.9 619.5 2172 621.5 2168 625 2164.1 627.7 2151.8 634.3 2137.6 640.3 2133.9 640.9 2096.5 642.3 2084 645.1Z"/>
<path class="o" d="M2084 645.1 2097.3 644 2110.1 639.5 2120.8 634.4 2127.3 630.2 2133.8 624.9 2138.2 620.5 2148.9 606.9 2153.2 600.1 2155.3 596.2 2157.5 591.1 2161.8 575.4 2163.8 569.4 2165.7 564.5 2169.6 561.2 2201 561.2 2201 561.2 2168.5 561.2 2168.5 563.7 2167.6 563.5 2163.8 573.5 2161.8 580.4 2159.7 589.2 2157.5 595 2155.3 599.3 2153.1 602.9 2148.8 609.4 2138.2 622.6 2133.8 626.8 2127.3 631.9 2120.7 635.8 2110 640.5 2097.2 644.5 2084 645.1Z"/>
<path class="o" d="M2084 645.1 2096.4 641.7 2127.5 639 2133.5 638 2135.2 637.5 2136.8 636.5 2140.6 633.2 2146.7 626.6 2150.7 620.8 2159 606.9 2173.6 580.1 2179.8 567.6 2182 562.1 2184.5 559.4 2201 561.2 2201 561.2 2192.4 560 2190.2 563.9 2188.1 569.1 2177.7 589.6 2173.5 598.9 2169.3 609.7 2167.4 613.2 2163.4 618.9 2159.5 623.2 2155.5 626.5 2139.1 637.5 2135.5 639.1 2133.7 639.4 2096.4 642 2084 645.1Z"/>
<path class="l" d="M2084 645.1 2097.2 644.5 2110 640.5 2120.7 635.8 2127.3 631.9 2133.8 626.8 2138.2 622.6 2148.8 609.4 2153.1 602.9 2155.3 599.3 2157.5 595 2159.7 589.2 2161.8 580.4 2163.8 573.5 2167.6 563.5 2168.5 563.7 2168.5 561.2 2201 561.2 2201 561.2 2184.5 559.4 2182 562.1 2179.8 567.6 2173.6 580.1 2159 606.9 2150.7 620.8 2146.7 626.6 2140.6 633.2 2136.8 636.5 2135.2 637.5 2133.5 638 2127.5 639 2096.4 641.7 2084 645.1Z"/>
</g>
<path class="g" d="M2098.5 561.2V645.2M2113.5 561.2V645.2M2157.5 561.2V645.2M2186.5 561.2V645.2"/>
<path class="g" d="M2078 624.5H2206.1M2078 603.5H2206.1M2078 582.5H2206.1"/>
<path class="v" d="M2083.8 561.2V645.2M2142.3 561.2V645.2M2200.8 561.2V645.2" stroke="#ff0000"/>
<path class="k" clip-path="url(#c3_10)" d="M2084 645.1 2109.1 640.4 2119.5 637.2 2125.8 634.5 2132.1 630.9 2136.2 627.9 2140.4 624.1 2146.7 617.1 2150.9 611 2155 603.4 2159.2 594 2161.3 588.8 2163.4 582.8 2165.5 578.1 2167.6 574.7 2173.8 565.8 2175.9 563.3 2178 562.1 2180.1 561.4 2201 561.2"/>
<path class="m" d="M2098.5 645.2V656M2113.5 645.2V656M2127.5 645.2V656M2157.5 645.2V656M2171.5 645.2V656M2186.5 645.2V656M2078 624.5H2067.2M2078 603.5H2067.2M2078 582.5H2067.2"/>
<path class="t" d="M2084 645.2V663.7M2142.5 645.2V663.7M2201 645.2V663.7M2078 645.2H2059.5M2078 561.2H2059.5" stroke="#ff0000"/>
<rect class="s" x="2078" y="561.6" width="128.1" height="84" stroke="#ff0000"/>
</g>
<g>
<g clip-path="url(#c4_0)">
<path class="b" d="M290 763.1 299.9 756.9 306 752.3 307.8 751.4 311.5 750.3 317.8 748.9 320.2 748.2 322.5 747.2 324.9 745.9 329.4 742.4 331.6 740.3 333.9 737.6 336.1 734.2 340.4 726.4 346.8 711.9 353 696.2 357.2 686.2 359.8 679.1 407 679.1 407 679.1 361.9 679.1 359.3 684.2 357.2 690.1 348.9 710.4 342.5 725.3 340.4 729.5 336.1 737 333.8 740 329.3 744.3 324.7 747.4 322.4 748.6 320 749.4 309.7 751.9 306 753.7 302.1 756.5 290 763.1Z"/>
<path class="b" d="M290 763.1 302.3 759.1 322.9 756.4 328.9 755 330.7 754.4 332.4 753.4 336.3 750.2 342.6 744.1 347 740.7 357.3 733.9 361.3 730.4 365.2 726 369.2 720.2 371.2 716.5 379.4 695.1 381.5 688 383.7 678.9 387.2 676.6 407 679.1 407 679.1 387.8 678.1 385.7 683.2 381.5 697.9 373.2 719.8 371.2 723.9 369.3 727 365.3 732.2 361.3 736.3 357.3 739.8 345 748.6 339 752 335.1 753.5 325 756.1 302.3 759.2 290 763.1Z"/>
<path class="o" d="M290 763.1 302.1 756.5 306 753.7 309.7 751.9 320 749.4 322.4 748.6 324.7 747.4 329.3 744.3 333.8 740 336.1 737 340.4 729.5 342.5 725.3 348.9 710.4 357.2 690.1 359.3 684.2 361.9 679.1 407 679.1 407 679.1 365 679.1 361.3 682.4 359.3 688.7 355.1 698.5 348.9 714.2 342.5 728.5 338.2 736.3 336 739.6 333.7 742.2 331.4 744.2 326.9 747.6 324.6 748.9 322.2 749.9 319.9 750.5 311.7 752.4 307.9 753.9 301.9 757.6 290 763.1Z"/>
<path class="o" d="M290 763.1 302.2 758.8 322.8 755.5 328.8 753.9 330.5 753.2 332.2 752 336.1 748.3 342.5 741.5 346.9 737.6 355.2 731.6 359.1 728 361 725.6 365 719.4 367 715.7 369 711.3 377.3 689.3 379.5 680.5 382.1 677.3 407 679.1 407 679.1 387.2 676.6 383.7 678.9 381.5 688 379.4 695.1 371.2 716.5 369.2 720.2 365.2 726 361.3 730.4 357.3 733.9 347 740.7 342.6 744.1 336.3 750.2 332.4 753.4 330.7 754.4 328.9 755 322.9 756.4 302.3 759.1 290 763.1Z"/>
<path class="l" d="M290 763.1 301.9 757.6 307.9 753.9 311.7 752.4 319.9 750.5 322.2 749.9 324.6 748.9 326.9 747.6 331.4 744.2 333.7 742.2 336 739.6 338.2 736.3 342.5 728.5 348.9 714.2 355.1 698.5 359.3 688.7 361.3 682.4 365 679.1 407 679.1 407 679.1 382.1 677.3 379.5 680.5 377.3 689.3 369 711.3 367 715.7 365 719.4 361 725.6 359.1 728 355.2 731.6 346.9 737.6 342.5 741.5 336.1 748.3 332.2 752 330.5 753.2 328.8 753.9 322.8 755.5 302.2 758.8 290 763.1Z"/>
</g>
<path class="g" d="M304.5 679.1V763.1M333.5 679.1V763.1M377.5 679.1V763.1M392.5 679.1V763.1"/>
<path class="v" d="M289.8 679.1V763.1M348.3 679.1V763.1M406.8 679.1V763.1" stroke="#ff0000"/>
<path class="k" clip-path="url(#c4_0)" d="M290 763.1 317.2 752.8 325.5 748.7 329.7 746 331.8 744 333.9 741.4 344.3 725.4 352.7 711 354.8 706.7 358.9 695.9 363.1 687 365.2 683.5 367.3 681.2 369.4 679.6 371.5 679.1 407 679.1"/>
<path class="m" d="M304.5 763.1V773.9M319.5 763.1V773.9M333.5 763.1V773.9M363.5 763.1V773.9M377.5 763.1V773.9M392.5 763.1V773.9M284 742.5H273.2M284 721.5H273.2M284 700.5H273.2"/>
<path class="t" d="M290 763.1V781.6M348.5 763.1V781.6M407 763.1V781.6M284 763.1H265.5M284 679.1H265.5" stroke="#ff0000"/>
<rect class="s" x="284" y="679.5" width="128.1" height="84" stroke="#ff0000"/>
</g>
<g>
<g clip-path="url(#c4_1)">
<path class="b" d="M469.4 763.1 481 759.3 483.2 758.3 499.8 749.2 506.2 746.3 508.6 744.8 511 742.6 513.3 739.8 517.7 733.1 519.8 729.1 524 719.2 530.2 707.7 536.5 697.2 540.8 688.7 542.8 682.8 546 679.1 586.4 679.1 586.4 679.1 550.2 679.1 547 682.8 545 688.8 542.9 693.9 536.5 707.8 523.9 731.4 521.6 734.6 519.4 737.2 515 741.4 510.7 744.8 504.2 749.1 483 759.7 469.4 763.1Z"/>
<path class="b" d="M469.4 763.1 481.4 757.5 512.5 749.6 520.6 746.8 530.7 741.6 538.9 736.5 542.8 733.3 544.7 731.4 546.7 729.1 552.8 719.3 556.9 711.6 561 702.8 569.4 681.7 571.6 677.9 586.4 679.1 586.4 679.1 579.7 676.5 576.2 677.5 573.6 681.8 571.4 687.3 558.9 716.2 557 719.8 553 725.7 549 730.2 545 733.8 538.9 738.5 516.2 753 512.4 754.8 506.5 756.1 481.7 759.2 469.4 763.1Z"/>
<path class="o" d="M469.4 763.1 483 759.7 504.2 749.1 510.7 744.8 515 741.4 519.4 737.2 521.6 734.6 523.9 731.4 536.5 707.8 542.9 693.9 545 688.8 547 682.8 550.2 679.1 586.4 679.1 586.4 679.1 557.2 679.1 555.1 680.6 553 683.8 544.6 703.6 532.1 729.3 530 732.1 525.8 736.5 519.5 741.7 504.9 751.9 500.7 754.4 498.7 755.3 496.6 755.9 484 758.2 469.4 763.1Z"/>
<path class="o" d="M469.4 763.1 481.4 757.4 508.3 750.5 520.5 745.9 524.5 743.9 528.4 741.3 530.3 739.7 532.2 737.9 534.1 735.3 540.2 725 548.5 707.8 552.6 698 556.7 686.5 559 679 562.2 676.8 586.4 679.1 586.4 679.1 571.6 677.9 569.4 681.7 561 702.8 556.9 711.6 552.8 719.3 546.7 729.1 544.7 731.4 542.8 733.3 538.9 736.5 530.7 741.6 520.6 746.8 512.5 749.6 481.4 757.5 469.4 763.1Z"/>
<path class="l" d="M469.4 763.1 484 758.2 496.6 755.9 498.7 755.3 500.7 754.4 504.9 751.9 519.5 741.7 525.8 736.5 530 732.1 532.1 729.3 544.6 703.6 553 683.8 555.1 680.6 557.2 679.1 586.4 679.1 586.4 679.1 562.2 676.8 559 679 556.7 686.5 552.6 698 548.5 707.8 540.2 725 534.1 735.3 532.2 737.9 530.3 739.7 528.4 741.3 524.5 743.9 520.5 745.9 508.3 750.5 481.4 757.4 469.4 763.1Z"/>
</g>
<path class="g" d="M498.5 679.1V763.1M542.5 679.1V763.1M571.5 679.1V763.1"/>
<path class="v" d="M469.1 679.1V763.1M527.7 679.1V763.1M586.2 679.1V763.1" stroke="#ff0000"/>
<path class="k" clip-path="url(#c4_1)" d="M469.4 763.1 484 758.2 496.6 755.9 498.7 755.3 500.7 754.4 504.9 751.9 519.5 741.7 525.8 736.5 530 732.1 532.1 729.3 544.6 703.6 553 683.8 555.1 680.6 557.2 679.1 586.4 679.1"/>
<path class="m" d="M484.5 763.1V773.9M498.5 763.1V773.9M513.5 763.1V773.9M542.5 763.1V773.9M557.5 763.1V773.9M571.5 763.1V773.9M463.4 742.5H452.6M463.4 721.5H452.6M463.4 700.5H452.6"/>
<path class="t" d="M469.4 763.1V781.6M527.9 763.1V781.6M586.4 763.1V781.6M463.4 763.1H444.9M463.4 679.1H444.9" stroke="#ff0000"/>
<rect class="s" x="463.4" y="679.5" width="128.1" height="84" stroke="#ff0000"/>
</g>
<g>
<g clip-path="url(#c4_2)">
<path class="b" d="M648.8 763.1 672.4 751.6 675.7 749.5 678.9 747.1 690.9 739.4 696.5 734.9 706.4 724.6 710.2 719.9 713.9 714 715.8 710.4 717.7 706 719.7 700.6 723.9 686.5 726.4 680.7 729.5 676 732.9 673.6 765.8 679.1 765.8 679.1 733.7 674.9 730.6 677.1 727.7 681.4 725.3 687 721.1 701.1 719.2 706.6 717.2 711 715.3 714.8 711.4 720.8 707.6 725.6 697.5 736 691.7 740.6 677.8 749.4 672.4 751.6 648.8 763.1Z"/>
<path class="b" d="M648.8 763.1 661.2 759.4 685.9 756.4 689.8 755.6 693.6 754 705.7 746.2 722.1 730.9 726.1 726.5 728.1 724 730.1 720.8 734.1 713.1 736.2 708.8 738.3 703.6 740.5 698.7 742.8 695.3 745.1 692.9 751.7 687.4 760.3 682 764.5 679.8 763.3 694.7 761.2 699.6 757 710.9 755 715.3 753 718.9 749 724.9 745 729.7 734.6 740.2 728.4 747.3 726.7 748.8 723.3 750 713.1 751.8 681.9 758.8 661.3 760.1 648.8 763.1Z"/>
<path class="o" d="M648.8 763.1 672.4 751.6 677.8 749.4 691.7 740.6 697.5 736 707.6 725.6 711.4 720.8 715.3 714.8 717.2 711 719.2 706.6 721.1 701.1 725.3 687 727.7 681.4 730.6 677.1 733.7 674.9 765.8 679.1 765.8 679.1 734.5 676.2 731.7 678.1 729.1 682.1 726.8 687.5 722.6 701.6 720.6 707.1 718.6 711.7 716.6 715.5 712.7 721.7 708.7 726.6 698.6 737.2 692.6 741.9 678.5 750.8 674.7 752.3 666.7 754.6 664.7 755.4 648.8 763.1Z"/>
<path class="o" d="M648.8 763.1 661.1 759 683.8 755.6 689.7 754 693.4 752.1 705.5 742.3 711.6 736 717.7 728.3 721.8 722.2 725.8 714.8 727.8 710.5 729.9 704.7 734.1 691.7 736.2 685.7 738.4 680.2 740.8 677.4 765.8 679.1 764.5 679.8 760.3 682 751.7 687.4 745.1 692.9 742.8 695.3 740.5 698.7 738.3 703.6 736.2 708.8 734.1 713.1 730.1 720.8 728.1 724 726.1 726.5 722.1 730.9 705.7 746.2 693.6 754 689.8 755.6 685.9 756.4 661.2 759.4 648.8 763.1Z"/>
<path class="l" d="M648.8 763.1 664.7 755.4 666.7 754.6 674.7 752.3 678.5 750.8 692.6 741.9 698.6 737.2 708.7 726.6 712.7 721.7 716.6 715.5 718.6 711.7 720.6 707.1 722.6 701.6 726.8 687.5 729.1 682.1 731.7 678.1 734.5 676.2 765.8 679.1 765.8 679.1 740.8 677.4 738.4 680.2 736.2 685.7 734.1 691.7 729.9 704.7 727.8 710.5 725.8 714.8 721.8 722.2 717.7 728.3 711.6 736 705.5 742.3 693.4 752.1 689.7 754 683.8 755.6 661.1 759 648.8 763.1Z"/>
</g>
<path class="g" d="M663.5 679.1V763.1M692.5 679.1V763.1M721.5 679.1V763.1M736.5 679.1V763.1"/>
<path class="v" d="M648.5 679.1V763.1M707.1 679.1V763.1M765.6 679.1V763.1" stroke="#ff0000"/>
<path class="k" clip-path="url(#c4_2)" d="M648.8 763.1 673.9 756.5 678.1 755 684.3 751.7 694.8 744.9 701 739.9 711.5 729 715.7 723.9 719.8 717.3 721.9 713.3 724 708.5 726.1 702.7 730.3 688.8 732.4 683.8 734.4 680.6 736.5 679.3 765.8 679.1"/>
<path class="m" d="M663.5 763.1V773.9M678.5 763.1V773.9M692.5 763.1V773.9M721.5 763.1V773.9M736.5 763.1V773.9M751.5 763.1V773.9M642.8 742.5H632M642.8 721.5H632M642.8 700.5H632"/>
<path class="t" d="M648.8 763.1V781.6M707.3 763.1V781.6M765.8 763.1V781.6M642.8 763.1H624.3M642.8 679.1H624.3" stroke="#ff0000"/>
<rect class="s" x="642.8" y="679.5" width="128.1" height="84" stroke="#ff0000"/>
</g>
<g>
<g clip-path="url(#c4_3)">
<path class="b" d="M828.2 763.1 841.8 760.1 860.6 752.8 865.2 750.5 867.5 748.8 886.5 731.6 888.7 729.3 890.9 726.5 895.1 720.4 899.4 714.9 901.8 710.2 903.9 699.1 905.8 693.4 909.9 689.2 912.1 684.1 914.8 679.1 945.2 679.1 945.2 679.1 916.9 679.1 914.2 683.9 912.1 689.7 909.6 692.8 907.8 694.7 906 699 903.9 709.8 901.6 715.2 890.8 729.7 886.5 734.4 869.6 749.7 867.2 751.4 862.6 753.6 841.7 760.6 828.2 763.1Z"/>
<path class="b" d="M828.2 763.1 840.4 758.3 867.3 753.4 877.4 750.4 879.2 749.5 883 747 897.5 734.7 905.6 726.3 909.7 721.3 913.7 715.5 915.7 712 919.8 703.4 926 687.7 928.2 681.2 930.5 677.6 945.2 679.1 945.2 679.1 941.2 677.3 938.7 680.1 936.4 686.1 932.3 698.8 928.2 709.2 926.2 713.2 924.1 716.6 920.1 722.6 914 730.2 907.9 736.1 901.9 741 898 743.5 873.2 755.8 869.5 756.8 840.6 759.6 828.2 763.1Z"/>
<path class="o" d="M828.2 763.1 841.7 760.6 862.6 753.6 867.2 751.4 869.6 749.7 886.5 734.4 890.8 729.7 901.6 715.2 903.9 709.8 906 699 907.8 694.7 909.6 692.8 912.1 689.7 914.2 683.9 916.9 679.1 945.2 679.1 945.2 679.1 920.1 679.2 918 681.3 915.9 685.2 913.8 692.7 911.8 698.5 905.5 710.7 899.2 722.3 897.1 725.4 893 730.7 888.8 734.9 874.2 746.9 870 749.8 861.6 754.3 857.5 755.8 847 758 828.2 763.1Z"/>
<path class="o" d="M828.2 763.1 840.3 758.1 865.2 753.2 877.2 749.2 879 748.2 882.8 745.1 899.3 727.8 903.4 722.7 907.4 716.5 915.7 701.5 917.7 697.1 919.7 691.6 923.9 678.4 945.2 679.1 945.2 679.1 930.5 677.6 928.2 681.2 926 687.7 919.8 703.4 915.7 712 913.7 715.5 909.7 721.3 905.6 726.3 897.5 734.7 883 747 879.2 749.5 877.4 750.4 867.3 753.4 840.4 758.3 828.2 763.1Z"/>
<path class="l" d="M828.2 763.1 847 758 857.5 755.8 861.6 754.3 870 749.8 874.2 746.9 888.8 734.9 893 730.7 897.1 725.4 899.2 722.3 905.5 710.7 911.8 698.5 913.8 692.7 915.9 685.2 918 681.3 920.1 679.2 945.2 679.1 945.2 679.1 923.9 678.4 919.7 691.6 917.7 697.1 915.7 701.5 907.4 716.5 903.4 722.7 899.3 727.8 882.8 745.1 879 748.2 877.2 749.2 865.2 753.2 840.3 758.1 828.2 763.1Z"/>
</g>
<path class="g" d="M842.5 679.1V763.1M857.5 679.1V763.1M915.5 679.1V763.1"/>
<path class="v" d="M828 679.1V763.1M886.5 679.1V763.1M945 679.1V763.1" stroke="#ff0000"/>
<path class="k" clip-path="url(#c4_3)" d="M828.2 763.1 847 758 857.5 755.8 861.6 754.3 870 749.8 874.2 746.9 888.8 734.9 893 730.7 897.1 725.4 899.2 722.3 905.5 710.7 911.8 698.5 913.8 692.7 915.9 685.2 918 681.3 920.1 679.2 945.2 679.1"/>
<path class="m" d="M842.5 763.1V773.9M857.5 763.1V773.9M872.5 763.1V773.9M901.5 763.1V773.9M915.5 763.1V773.9M930.5 763.1V773.9M822.2 742.5H811.4M822.2 721.5H811.4M822.2 700.5H811.4"/>
<path class="t" d="M828.2 763.1V781.6M886.7 763.1V781.6M945.2 763.1V781.6M822.2 763.1H803.7M822.2 679.1H803.7" stroke="#ff0000"/>
<rect class="s" x="822.2" y="679.5" width="128.1" height="84" stroke="#ff0000"/>
</g>
<g>
<g clip-path="url(#c4_4)">
<path class="b" d="M1007.6 763.1 1020.8 762.3 1033.5 758.8 1042.2 755.3 1046.8 752.4 1063.8 737.6 1066.1 735.1 1068.5 731.6 1070.7 725.9 1072.8 719.1 1076.9 707.9 1081.1 698.3 1083.3 692.2 1085.3 684.6 1087.8 679.1 1124.6 679.1 1124.6 679.1 1102.6 679.1 1097.7 682 1095.8 688 1089.4 704.5 1085.2 713.7 1080.9 721 1076.6 727.2 1072.3 732.4 1061.6 743.7 1057.2 747.1 1048.6 752.9 1042.1 756.2 1035.6 758.5 1020.7 762.5 1007.6 763.1Z"/>
<path class="b" d="M1007.6 763.1 1019.8 758.7 1055.1 753.3 1065.3 750.7 1069.1 749.1 1073 746.8 1081.1 740.3 1085.1 736.7 1089.1 732.2 1095.2 723.8 1099.3 717.1 1103.4 709.2 1109.7 695.2 1118 678 1124.6 679.1 1122.2 682.6 1118 692.1 1111.7 704.7 1107.6 714.3 1099.4 730.6 1097.4 733.4 1093.5 737.8 1089.5 741.4 1085.6 744.2 1079.6 747.5 1059.1 755.8 1055.2 756.7 1020 759.7 1007.6 763.1Z"/>
<path class="o" d="M1007.6 763.1 1020.7 762.5 1035.6 758.5 1042.1 756.2 1048.6 752.9 1057.2 747.1 1061.6 743.7 1072.3 732.4 1076.6 727.2 1080.9 721 1085.2 713.7 1089.4 704.5 1095.8 688 1097.7 682 1102.6 679.1 1124.6 679.1 1124.6 679.1 1106.9 679.1 1104.1 683.4 1102 690.4 1097.8 700.4 1091.4 712.9 1087.1 719.8 1082.8 725.8 1076.4 733.4 1069.9 739.9 1065.6 743.3 1052.8 751.8 1044.1 756.1 1037.7 758.5 1020.7 762.7 1007.6 763.1Z"/>
<path class="o" d="M1007.6 763.1 1025 762 1041.8 759.4 1050.6 756.7 1059.3 753 1065.9 749.1 1070.4 745.9 1085.2 731.8 1087.5 729.3 1089.7 726.5 1094.1 719.6 1098.4 711.9 1102.6 703.1 1108.9 688.7 1110.8 684.8 1112.3 682.7 1120.4 679.1 1124.6 679.1 1124.6 679.1 1118 678 1109.7 695.2 1103.4 709.2 1099.3 717.1 1095.2 723.8 1089.1 732.2 1085.1 736.7 1081.1 740.3 1073 746.8 1069.1 749.1 1065.3 750.7 1055.1 753.3 1019.8 758.7 1007.6 763.1Z"/>
<path class="l" d="M1007.6 763.1 1020.7 762.7 1037.7 758.5 1044.1 756.1 1052.8 751.8 1065.6 743.3 1069.9 739.9 1076.4 733.4 1082.8 725.8 1087.1 719.8 1091.4 712.9 1097.8 700.4 1102 690.4 1104.1 683.4 1106.9 679.1 1124.6 679.1 1124.6 679.1 1120.4 679.1 1112.3 682.7 1110.8 684.8 1108.9 688.7 1102.6 703.1 1098.4 711.9 1094.1 719.6 1089.7 726.5 1087.5 729.3 1085.2 731.8 1070.4 745.9 1065.9 749.1 1059.3 753 1050.6 756.7 1041.8 759.4 1025 762 1007.6 763.1Z"/>
</g>
<path class="g" d="M1036.5 679.1V763.1M1051.5 679.1V763.1M1080.5 679.1V763.1M1095.5 679.1V763.1M1109.5 679.1V763.1"/>
<path class="v" d="M1007.4 679.1V763.1M1065.9 679.1V763.1M1124.4 679.1V763.1" stroke="#ff0000"/>
<path class="k" clip-path="url(#c4_4)" d="M1007.6 763.1 1024.3 758.7 1041 756.1 1049.4 753.5 1057.7 749.9 1064 746.3 1068.2 743.2 1082.8 729.4 1084.9 727.1 1087 724.5 1091.2 717.9 1095.4 710.3 1099.5 701.7 1105.8 687.3 1107.9 683.1 1110 680.2 1112.1 679.1 1124.6 679.1"/>
<path class="m" d="M1022.5 763.1V773.9M1036.5 763.1V773.9M1051.5 763.1V773.9M1080.5 763.1V773.9M1095.5 763.1V773.9M1109.5 763.1V773.9M1001.6 742.5H990.8M1001.6 721.5H990.8M1001.6 700.5H990.8"/>
<path class="t" d="M1007.6 763.1V781.6M1066.1 763.1V781.6M1124.6 763.1V781.6M1001.6 763.1H983.1M1001.6 679.1H983.1" stroke="#ff0000"/>
<rect class="s" x="1001.6" y="679.5" width="128.1" height="84" stroke="#ff0000"/>
</g>
<g>
<g clip-path="url(#c4_5)">
<path class="b" d="M1187 763.1 1200.4 761.2 1219.2 755.7 1223.9 753.7 1226.3 751.9 1234.8 742.6 1238.7 739.4 1245.2 734.5 1247.5 732.2 1249.8 729.2 1258.3 715.7 1260.6 710.9 1262.7 700.5 1264.7 693.2 1268.7 687 1270.7 682.7 1274.3 679.1 1304 679.1 1304 679.1 1275.3 675.8 1272.4 679.3 1270.1 686.4 1268 693.6 1266 699 1264 703.8 1260 711.9 1253.9 722.4 1250 727.7 1246.1 732.1 1238.1 739.6 1232.3 744 1224.4 748.7 1218.8 751.1 1209.2 753.5 1187 763.1Z"/>
<path class="b" d="M1187 763.1 1215.3 762.8 1219.8 761.9 1224.7 760.2 1231.6 756.8 1238.2 752.8 1245 747.6 1253.8 739.4 1258.3 734.4 1260.5 731.5 1265 724.6 1271.5 712.7 1275.9 702.8 1278.1 696.8 1282 683.8 1287.9 679.1 1304 679.1 1304 679.1 1291.5 677.5 1289 680.7 1286.9 688 1284.8 693.3 1276.6 712.3 1274.5 716 1264.3 732.5 1260.3 737 1254.3 742.3 1240.1 752.2 1236.4 753.7 1228.3 755.4 1199.3 759.1 1187 763.1Z"/>
<path class="o" d="M1187 763.1 1209.2 753.5 1218.8 751.1 1224.4 748.7 1232.3 744 1238.1 739.6 1246.1 732.1 1250 727.7 1253.9 722.4 1260 711.9 1264 703.8 1266 699 1268 693.6 1270.1 686.4 1272.4 679.3 1275.3 675.8 1304 679.1 1304 679.1 1276.4 676.8 1273.8 679.9 1271.5 686.8 1269.4 694 1267.4 699.5 1263.3 708.7 1257.2 719.9 1253.2 726.1 1249.2 731 1243.2 737.1 1235.1 743.9 1229.1 747.7 1221.2 751.9 1217.4 753.1 1203 756 1187 763.1Z"/>
<path class="o" d="M1187 763.1 1206.5 762.5 1219.3 760 1223.9 758.4 1230.6 755.1 1237.1 751.2 1243.7 746.1 1252.3 738.1 1256.7 733.1 1261.1 727.1 1267.6 716 1271.9 707.3 1274 702.1 1276.2 696.2 1280.2 683 1284.3 679.1 1304 679.1 1304 679.1 1287.9 679.1 1282 683.8 1278.1 696.8 1275.9 702.8 1271.5 712.7 1265 724.6 1260.5 731.5 1258.3 734.4 1253.8 739.4 1245 747.6 1238.2 752.8 1231.6 756.8 1224.7 760.2 1219.8 761.9 1215.3 762.8 1187 763.1Z"/>
<path class="l" d="M1187 763.1 1203 756 1217.4 753.1 1221.2 751.9 1229.1 747.7 1235.1 743.9 1243.2 737.1 1249.2 731 1253.2 726.1 1257.2 719.9 1263.3 708.7 1267.4 699.5 1269.4 694 1271.5 686.8 1273.8 679.9 1276.4 676.8 1304 679.1 1304 679.1 1284.3 679.1 1280.2 683 1276.2 696.2 1274 702.1 1271.9 707.3 1267.6 716 1261.1 727.1 1256.7 733.1 1252.3 738.1 1243.7 746.1 1237.1 751.2 1230.6 755.1 1223.9 758.4 1219.3 760 1206.5 762.5 1187 763.1Z"/>
</g>
<path class="g" d="M1201.5 679.1V763.1M1230.5 679.1V763.1M1260.5 679.1V763.1M1289.5 679.1V763.1"/>
<path class="v" d="M1186.8 679.1V763.1M1245.3 679.1V763.1M1303.8 679.1V763.1" stroke="#ff0000"/>
<path class="k" clip-path="url(#c4_5)" d="M1187 763.1 1218.3 756.4 1222.5 755 1230.9 750.7 1237.1 746.6 1245.5 739.6 1251.8 733.2 1255.9 728.1 1260.1 721.7 1266.4 710.2 1270.6 700.8 1272.7 695.1 1276.8 681.4 1278.9 679.1 1304 679.1"/>
<path class="m" d="M1201.5 763.1V773.9M1216.5 763.1V773.9M1230.5 763.1V773.9M1260.5 763.1V773.9M1274.5 763.1V773.9M1289.5 763.1V773.9M1181 742.5H1170.2M1181 721.5H1170.2M1181 700.5H1170.2"/>
<path class="t" d="M1187 763.1V781.6M1245.5 763.1V781.6M1304 763.1V781.6M1181 763.1H1162.5M1181 679.1H1162.5" stroke="#ff0000"/>
<rect class="s" x="1181" y="679.5" width="128.1" height="84" stroke="#ff0000"/>
</g>
<g>
<g clip-path="url(#c4_6)">
<path class="b" d="M1366.4 763.1 1379.8 761.1 1392.6 756.1 1399.2 752.6 1407.8 746.1 1414.3 740.2 1418.6 735.3 1420.8 732.4 1429.4 718.9 1431.6 713.7 1435.8 696.6 1437.7 691.6 1439.3 690 1441.4 688.4 1443.8 685.6 1445.7 682.2 1451 679.1 1483.4 679.1 1483.4 679.1 1450.9 679.1 1448.3 685.1 1446.2 691 1433.6 720.6 1431.4 725.1 1427.1 731.9 1422.7 737.3 1418.3 741.5 1414 744.9 1401.2 753.3 1394.6 756.5 1379.7 761.6 1366.4 763.1Z"/>
<path class="b" d="M1366.4 763.1 1378.6 758.8 1418.1 752.8 1426.2 750.9 1444.5 742.3 1450.6 738.8 1454.5 735.9 1458.4 732 1464.5 724.3 1479.1 701.7 1481.2 698.8 1481.8 731.4 1477.6 734.5 1471.6 738.4 1455 747 1444.7 753.1 1442.9 753.7 1439 754.6 1412.1 758.3 1378.9 760.1 1366.4 763.1Z"/>
<path class="o" d="M1366.4 763.1 1379.7 761.6 1394.6 756.5 1401.2 753.3 1414 744.9 1418.3 741.5 1422.7 737.3 1427.1 731.9 1431.4 725.1 1433.6 720.6 1446.2 691 1448.3 685.1 1450.9 679.1 1483.4 679.1 1483.4 679.1 1461.8 679.1 1456.4 682 1450.3 696.5 1439.8 717.5 1435.6 725.1 1431.2 731.7 1426.9 736.8 1422.5 741.2 1418.2 744.8 1411.7 749.3 1403.1 754.2 1394.5 757.9 1379.6 762.3 1366.4 763.1Z"/>
<path class="o" d="M1366.4 763.1 1378.6 758.4 1411.8 752.7 1424 749.2 1427.8 747.5 1431.7 745.1 1439.8 738.5 1443.8 734.2 1449.9 725.8 1454 719.3 1458 711.6 1462.2 702.5 1464.2 697.2 1466.2 691.1 1468.3 683.6 1470.5 678.1 1483.4 679.1 1481.2 698.8 1479.1 701.7 1464.5 724.3 1458.4 732 1454.5 735.9 1450.6 738.8 1444.5 742.3 1426.2 750.9 1418.1 752.8 1378.6 758.8 1366.4 763.1Z"/>
<path class="l" d="M1366.4 763.1 1379.6 762.3 1394.5 757.9 1403.1 754.2 1411.7 749.3 1418.2 744.8 1422.5 741.2 1426.9 736.8 1431.2 731.7 1435.6 725.1 1439.8 717.5 1450.3 696.5 1456.4 682 1461.8 679.1 1483.4 679.1 1483.4 679.1 1470.5 678.1 1468.3 683.6 1466.2 691.1 1464.2 697.2 1462.2 702.5 1458 711.6 1454 719.3 1449.9 725.8 1443.8 734.2 1439.8 738.5 1431.7 745.1 1427.8 747.5 1424 749.2 1411.8 752.7 1378.6 758.4 1366.4 763.1Z"/>
</g>
<path class="g" d="M1381.5 679.1V763.1M1395.5 679.1V763.1M1410.5 679.1V763.1M1439.5 679.1V763.1M1454.5 679.1V763.1"/>
<path class="v" d="M1366.2 679.1V763.1M1424.7 679.1V763.1M1483.2 679.1V763.1" stroke="#ff0000"/>
<path class="k" clip-path="url(#c4_6)" d="M1366.4 763.1 1387.3 757.7 1401.9 754.6 1424.9 745.4 1429.1 743.2 1431.2 741.4 1443.7 726.8 1445.8 723.8 1456.2 702.7 1458.3 698.8 1462.5 691.9 1464.6 686.6 1466.7 680.5 1468.7 679.1 1483.4 679.1"/>
<path class="m" d="M1381.5 763.1V773.9M1395.5 763.1V773.9M1410.5 763.1V773.9M1439.5 763.1V773.9M1454.5 763.1V773.9M1468.5 763.1V773.9M1360.4 742.5H1349.6M1360.4 721.5H1349.6M1360.4 700.5H1349.6"/>
<path class="t" d="M1366.4 763.1V781.6M1424.9 763.1V781.6M1483.4 763.1V781.6M1360.4 763.1H1341.9M1360.4 679.1H1341.9" stroke="#ff0000"/>
<rect class="s" x="1360.4" y="679.5" width="128.1" height="84" stroke="#ff0000"/>
</g>
<g>
<g clip-path="url(#c4_7)">
<path class="b" d="M1545.8 763.1 1559.3 761 1569.9 756.8 1574.3 754.6 1576.6 753.2 1581.1 749.5 1587.3 743.6 1593.5 738.9 1595.8 736.8 1598.3 733.6 1600.5 728.7 1602.6 723.4 1606.7 714.2 1608.7 710.5 1610.4 708.3 1612.3 706.8 1615.1 703.9 1617.3 697 1619.3 689.5 1623.2 683.3 1626.5 679.1 1662.8 679.1 1662.8 679.1 1628.3 679.1 1623.3 687.7 1621.4 690.6 1619.4 696.5 1617.2 704.3 1614.7 707.9 1612.5 709.9 1610.7 712 1608.7 715.3 1604.7 723.5 1600.4 733.9 1598 737.5 1595.6 739.9 1589.3 744.7 1583.1 750.4 1578.7 754.1 1576.3 755.5 1569.8 758.4 1559.1 761.8 1545.8 763.1Z"/>
<path class="b" d="M1545.8 763.1 1558 758.7 1587 754.1 1595.1 752 1598.9 750.3 1609 743.3 1613 739.9 1617 735.8 1621 731 1625 724.5 1637.5 702.1 1641.7 693.3 1643.9 689.6 1650.2 680.9 1652.2 677.8 1662.8 679.1 1662.8 679.1 1656.4 677.6 1654.2 681 1652 686.5 1645.9 698.8 1637.5 712.5 1631.3 725.2 1629.3 728.4 1625.2 734 1621.3 738.5 1617.4 741.8 1598.9 753.5 1595.3 755 1589.3 756.1 1558.2 759.4 1545.8 763.1Z"/>
<path class="o" d="M1545.8 763.1 1559.1 761.8 1569.8 758.4 1576.3 755.5 1578.7 754.1 1583.1 750.4 1589.3 744.7 1595.6 739.9 1598 737.5 1600.4 733.9 1604.7 723.5 1608.7 715.3 1610.7 712 1612.5 709.9 1614.7 707.9 1617.2 704.3 1619.4 696.5 1621.4 690.6 1623.3 687.7 1628.3 679.1 1662.8 679.1 1662.8 679.1 1630.3 679.1 1625.4 688.8 1623.4 691.7 1621.5 697 1619.3 705.3 1616.8 709.1 1612.7 713.2 1610.8 716.3 1606.7 724.5 1602.5 734.3 1600.2 738.3 1597.8 740.8 1595.5 742.7 1591.3 745.7 1580.7 754.8 1578.4 756.2 1576.1 757.2 1569.6 759.6 1559 762.4 1545.8 763.1Z"/>
<path class="o" d="M1545.8 763.1 1561.2 762.5 1575.9 759 1584.6 755.9 1591.2 752.8 1595.6 750.1 1600.1 746.5 1608.7 738.1 1613 733.1 1617.4 727 1619.5 723.3 1621.7 719.1 1623.9 713.8 1626 707.9 1627.9 703.8 1632.1 696.7 1638.2 682.4 1643.7 679.1 1662.8 679.1 1662.8 679.1 1652.2 677.8 1650.2 680.9 1643.9 689.6 1641.7 693.3 1637.5 702.1 1625 724.5 1621 731 1617 735.8 1613 739.9 1609 743.3 1598.9 750.3 1595.1 752 1587 754.1 1558 758.7 1545.8 763.1Z"/>
<path class="l" d="M1545.8 763.1 1559 762.4 1569.6 759.6 1576.1 757.2 1578.4 756.2 1580.7 754.8 1591.3 745.7 1595.5 742.7 1597.8 740.8 1600.2 738.3 1602.5 734.3 1606.7 724.5 1610.8 716.3 1612.7 713.2 1616.8 709.1 1619.3 705.3 1621.5 697 1623.4 691.7 1625.4 688.8 1630.3 679.1 1662.8 679.1 1662.8 679.1 1643.7 679.1 1638.2 682.4 1632.1 696.7 1627.9 703.8 1626 707.9 1623.9 713.8 1621.7 719.1 1619.5 723.3 1617.4 727 1613 733.1 1608.7 738.1 1600.1 746.5 1595.6 750.1 1591.2 752.8 1584.6 755.9 1575.9 759 1561.2 762.5 1545.8 763.1Z"/>
</g>
<path class="g" d="M1575.5 679.1V763.1M1633.5 679.1V763.1M1648.5 679.1V763.1"/>
<path class="v" d="M1545.5 679.1V763.1M1604.1 679.1V763.1M1662.6 679.1V763.1" stroke="#ff0000"/>
<path class="k" clip-path="url(#c4_7)" d="M1545.8 763.1 1575.1 756.1 1583.4 753.1 1591.8 748.9 1595.9 746 1604.3 738.2 1608.5 733.7 1612.7 728.4 1616.8 721.8 1618.9 717.8 1621 712.7 1623.1 706.7 1625.2 702.3 1629.4 695.3 1635.6 680.7 1637.7 679.1 1662.8 679.1"/>
<path class="m" d="M1560.5 763.1V773.9M1575.5 763.1V773.9M1589.5 763.1V773.9M1618.5 763.1V773.9M1633.5 763.1V773.9M1648.5 763.1V773.9M1539.8 742.5H1529M1539.8 721.5H1529M1539.8 700.5H1529"/>
<path class="t" d="M1545.8 763.1V781.6M1604.3 763.1V781.6M1662.8 763.1V781.6M1539.8 763.1H1521.3M1539.8 679.1H1521.3" stroke="#ff0000"/>
<rect class="s" x="1539.8" y="679.5" width="128.1" height="84" stroke="#ff0000"/>
</g>
<g>
<g clip-path="url(#c4_8)">
<path class="b" d="M1725.2 763.1 1738.5 761.8 1749.1 758.4 1755.7 755.6 1760.2 752.8 1775.1 739.8 1779.5 735.3 1781.7 732.5 1783.9 729.2 1786.1 724.9 1788.3 718.5 1790.4 709.6 1792.4 703 1794.1 700.3 1795.9 698.9 1798.4 696.5 1800.8 691.9 1802.9 685.5 1805.5 679.1 1842.2 679.1 1842.2 679.1 1807.4 679.1 1802.9 691.8 1800.6 697.1 1798.1 700 1796.1 701.6 1794.4 703.9 1792.5 709.3 1788.3 725 1786 729.7 1783.8 733.2 1781.6 736.1 1777.2 740.8 1764.5 752.1 1760 755.3 1757.7 756.6 1751.1 759.1 1738.3 762.5 1725.2 763.1Z"/>
<path class="b" d="M1725.2 763.1 1737.4 758.9 1762.3 755.2 1770.3 753.3 1774.1 751.5 1784.3 745.1 1792.4 738.6 1798.5 732.7 1802.4 727.8 1804.4 724.9 1816.9 699.8 1819 696.1 1820.9 692.1 1822.9 683.8 1825.1 678.2 1842.2 679.1 1842.2 679.1 1827.1 678.4 1825 685.5 1822.9 693.8 1820.9 700.6 1818.9 706.1 1816.9 710.1 1812.7 717.1 1806.5 730.1 1804.6 733 1802.6 735.3 1798.7 739.2 1792.6 744 1786.5 747.9 1774.3 754.2 1770.5 755.6 1766.6 756.4 1737.5 759.5 1725.2 763.1Z"/>
<path class="o" d="M1725.2 763.1 1738.3 762.5 1751.1 759.1 1757.7 756.6 1760 755.3 1764.5 752.1 1777.2 740.8 1781.6 736.1 1783.8 733.2 1786 729.7 1788.3 725 1792.5 709.3 1794.4 703.9 1796.1 701.6 1798.1 700 1800.6 697.1 1802.9 691.8 1807.4 679.1 1842.2 679.1 1842.2 679.1 1811.7 676.3 1808.3 678.3 1805.9 684.2 1803.7 690.9 1801.7 696.5 1799.7 701.2 1797.7 704.9 1789.3 719 1787.1 723.5 1785 728.8 1783.1 732.7 1781.3 735.3 1779.3 737.6 1771.3 745.1 1767.4 747.9 1759.5 752.3 1755.9 753.4 1739.1 756.1 1725.2 763.1Z"/>
<path class="o" d="M1725.2 763.1 1742.6 761.9 1757.3 759.8 1759.6 759.2 1764.3 757.2 1773.1 751.9 1777.6 748.3 1784.1 741.9 1786.4 739.3 1788.7 736 1791 731.4 1793.1 726.1 1795.1 722.1 1803.4 708.1 1805.6 704 1807.8 698.9 1809.9 692.9 1812 686.3 1813.7 681.9 1814.3 682.2 1814.3 679.1 1842.2 679.1 1842.2 679.1 1825.1 678.2 1822.9 683.8 1820.9 692.1 1819 696.1 1816.9 699.8 1804.4 724.9 1802.4 727.8 1798.5 732.7 1792.4 738.6 1784.3 745.1 1774.1 751.5 1770.3 753.3 1762.3 755.2 1737.4 758.9 1725.2 763.1Z"/>
<path class="l" d="M1725.2 763.1 1739.1 756.1 1755.9 753.4 1759.5 752.3 1767.4 747.9 1771.3 745.1 1779.3 737.6 1781.3 735.3 1783.1 732.7 1785 728.8 1787.1 723.5 1789.3 719 1797.7 704.9 1799.7 701.2 1801.7 696.5 1803.7 690.9 1805.9 684.2 1808.3 678.3 1811.7 676.3 1842.2 679.1 1842.2 679.1 1814.3 679.1 1814.3 682.2 1813.7 681.9 1812 686.3 1809.9 692.9 1807.8 698.9 1805.6 704 1803.4 708.1 1795.1 722.1 1793.1 726.1 1791 731.4 1788.7 736 1786.4 739.3 1784.1 741.9 1777.6 748.3 1773.1 751.9 1764.3 757.2 1759.6 759.2 1757.3 759.8 1742.6 761.9 1725.2 763.1Z"/>
</g>
<path class="g" d="M1754.5 679.1V763.1M1769.5 679.1V763.1M1798.5 679.1V763.1M1827.5 679.1V763.1"/>
<path class="v" d="M1725 679.1V763.1M1783.5 679.1V763.1M1842 679.1V763.1" stroke="#ff0000"/>
<path class="k" clip-path="url(#c4_8)" d="M1725.2 763.1 1741.9 758.6 1756.5 756.5 1760.7 755.2 1767 751.8 1771.2 749.2 1775.3 745.8 1781.6 739.7 1783.7 737.2 1785.8 734.3 1787.9 730.1 1790 724.7 1792.1 720.5 1800.4 706.4 1802.5 702.6 1804.6 697.7 1806.7 691.8 1808.8 685.2 1810.9 680 1813 679.1 1842.2 679.1"/>
<path class="m" d="M1739.5 763.1V773.9M1754.5 763.1V773.9M1769.5 763.1V773.9M1798.5 763.1V773.9M1812.5 763.1V773.9M1827.5 763.1V773.9M1719.2 742.5H1708.4M1719.2 721.5H1708.4M1719.2 700.5H1708.4"/>
<path class="t" d="M1725.2 763.1V781.6M1783.7 763.1V781.6M1842.2 763.1V781.6M1719.2 763.1H1700.7M1719.2 679.1H1700.7" stroke="#ff0000"/>
<rect class="s" x="1719.2" y="679.5" width="128.1" height="84" stroke="#ff0000"/>
</g>
<g>
<g clip-path="url(#c4_9)">
<path class="b" d="M1904.6 763.1 1918 761 1930.8 755.8 1935.2 753.5 1939.6 750.5 1950.2 741.7 1954.7 737.2 1957 734.1 1959.2 730.1 1963.5 720.4 1971.9 697.8 1976 683.6 1978.7 679.1 2021.6 679.1 2021.6 679.1 1983 679.1 1978 682 1974 695.5 1971.9 702.1 1965.6 718.8 1961.3 728.9 1959.1 733.3 1956.9 736.7 1954.6 739.4 1952.4 741.6 1941.7 750.6 1937.3 753.7 1930.7 757 1917.9 761.5 1904.6 763.1Z"/>
<path class="b" d="M1904.6 763.1 1916.9 758.9 1943.8 755.2 1953.9 752.8 1955.6 752 1959.4 749.6 1965.4 744.3 1967.3 742.2 1971.3 736.3 1975.4 729.2 1987.9 704.3 1992 694.8 1998.2 678.3 2021.6 679.1 2021.6 679.1 2015.5 677.3 2011.6 681.3 2007.4 684.3 2005 686.5 2002.7 689.4 1998.4 696.7 1996.2 701.2 1987.9 720.7 1983.8 728 1979.8 733.9 1973.7 741.1 1969.7 744.9 1963.6 749.7 1957.7 753.6 1954.1 755.1 1948 756.2 1916.9 759.4 1904.6 763.1Z"/>
<path class="o" d="M1904.6 763.1 1917.9 761.5 1930.7 757 1937.3 753.7 1941.7 750.6 1952.4 741.6 1954.6 739.4 1956.9 736.7 1959.1 733.3 1961.3 728.9 1965.6 718.8 1971.9 702.1 1974 695.5 1978 682 1983 679.1 2021.6 679.1 2021.6 679.1 1980.4 679.1 1980.4 681.7 1979.9 681 1978.2 686.1 1974 700.3 1965.6 722.8 1961.3 732.3 1959 736.2 1956.8 739.1 1954.5 741.5 1941.7 752.4 1937.2 755.3 1930.6 758.1 1917.8 762 1904.6 763.1Z"/>
<path class="o" d="M1904.6 763.1 1919.9 762.6 1934.7 759.1 1941.3 756.9 1950 752.7 1954.4 750 1958.8 746.6 1963.4 742.2 1965.7 739.1 1967.9 735.4 1970.1 731.3 1972.3 726.2 1978.5 708.7 1980.4 704.8 1984.6 699 1986.8 694.7 1991 684.6 1993.7 679.1 2021.6 679.1 2021.6 679.1 1998.2 678.3 1992 694.8 1987.9 704.3 1975.4 729.2 1971.3 736.3 1967.3 742.2 1965.4 744.3 1959.4 749.6 1955.6 752 1953.9 752.8 1943.8 755.2 1916.9 758.9 1904.6 763.1Z"/>
<path class="l" d="M1904.6 763.1 1917.8 762 1930.6 758.1 1937.2 755.3 1941.7 752.4 1954.5 741.5 1956.8 739.1 1959 736.2 1961.3 732.3 1965.6 722.8 1974 700.3 1978.2 686.1 1979.9 681 1980.4 681.7 1980.4 679.1 2021.6 679.1 2021.6 679.1 1993.7 679.1 1991 684.6 1986.8 694.7 1984.6 699 1980.4 704.8 1978.5 708.7 1972.3 726.2 1970.1 731.3 1967.9 735.4 1965.7 739.1 1963.4 742.2 1958.8 746.6 1954.4 750 1950 752.7 1941.3 756.9 1934.7 759.1 1919.9 762.6 1904.6 763.1Z"/>
</g>
<path class="g" d="M1919.5 679.1V763.1M1948.5 679.1V763.1M1992.5 679.1V763.1"/>
<path class="v" d="M1904.4 679.1V763.1M1962.9 679.1V763.1M2021.4 679.1V763.1" stroke="#ff0000"/>
<path class="k" clip-path="url(#c4_9)" d="M1904.6 763.1 1933.9 756.1 1942.2 753.1 1950.6 748.8 1954.7 746 1958.9 742.4 1961 740.2 1963.1 737.3 1965.2 733.9 1967.3 729.9 1969.4 725.1 1975.6 707.6 1977.7 703.2 1981.9 697.4 1984 693.4 1988.2 683.3 1990.3 679.1 2021.6 679.1"/>
<path class="m" d="M1919.5 763.1V773.9M1933.5 763.1V773.9M1948.5 763.1V773.9M1977.5 763.1V773.9M1992.5 763.1V773.9M2006.5 763.1V773.9M1898.6 742.5H1887.8M1898.6 721.5H1887.8M1898.6 700.5H1887.8"/>
<path class="t" d="M1904.6 763.1V781.6M1963.1 763.1V781.6M2021.6 763.1V781.6M1898.6 763.1H1880.1M1898.6 679.1H1880.1" stroke="#ff0000"/>
<rect class="s" x="1898.6" y="679.5" width="128.1" height="84" stroke="#ff0000"/>
</g>
<g>
<g clip-path="url(#c4_10)">
<path class="b" d="M2084 763 2097.5 760.5 2110.2 755.1 2118.9 750.3 2123.3 747.1 2127.7 743.1 2129.9 740.6 2132.2 737.6 2142.8 717.6 2145 712.5 2151.3 691.1 2153.3 681.1 2154.2 681.5 2154.2 679.1 2201 679.1 2201 679.1 2155.7 679.1 2153.4 688.6 2147.1 710.6 2144.9 716.4 2142.8 720.8 2134.3 736.8 2132.1 740.2 2127.6 745.1 2123.2 748.9 2118.8 751.8 2110.1 756.2 2097.4 761 2084 763Z"/>
<path class="b" d="M2084 763 2096.2 758.8 2119 755.3 2127 753.2 2128.8 752.5 2130.6 751.5 2134.4 748.4 2142.7 740.2 2146.7 735.5 2150.7 729.9 2152.7 726.7 2158.9 714.4 2163.1 705.3 2165.4 701.5 2169.5 695.9 2171.5 692.6 2173.4 688.6 2175.6 680.5 2178.1 677.4 2201 679.1 2201 679.1 2177.5 678.5 2175.5 687.7 2173.5 693.7 2171.6 697.1 2167.5 702.2 2165.3 705.5 2161 714.1 2152.8 729.5 2148.8 735 2144.7 739.7 2134.5 749.4 2130.7 752.4 2128.9 753.3 2127.1 753.9 2119 755.8 2096.3 758.9 2084 763Z"/>
<path class="o" d="M2084 763 2097.4 761 2110.1 756.2 2118.8 751.8 2123.2 748.9 2127.6 745.1 2132.1 740.2 2134.3 736.8 2142.8 720.8 2144.9 716.4 2147.1 710.6 2153.4 688.6 2155.7 679.1 2201 679.1 2201 679.1 2157.9 679.1 2155.5 685.1 2153.4 693.7 2149.2 708.3 2147.1 714.9 2144.9 719.8 2136.5 735.9 2134.2 739.7 2132 742.5 2127.6 747.1 2123.1 750.7 2118.7 753.3 2112.2 756.3 2097.3 761.5 2084 763Z"/>
<path class="o" d="M2084 763 2101.5 762.7 2116.3 759.1 2122.9 756.8 2127.3 754.8 2129.7 753.5 2132.1 751.9 2134.4 749.8 2141 742.5 2145.3 736.7 2149.7 729.6 2151.8 725.5 2154 720.7 2156.2 715 2158.3 708.3 2162.4 692.8 2164.1 689.2 2170.7 687.6 2175.1 686 2177.6 684.9 2186.2 679.1 2201 679.1 2201 679.1 2178.1 677.4 2175.6 680.5 2173.4 688.6 2171.5 692.6 2169.5 695.9 2165.4 701.5 2163.1 705.3 2158.9 714.4 2152.7 726.7 2150.7 729.9 2146.7 735.5 2142.7 740.2 2134.4 748.4 2130.6 751.5 2128.8 752.5 2127 753.2 2119 755.3 2096.2 758.8 2084 763Z"/>
<path class="l" d="M2084 763 2097.3 761.5 2112.2 756.3 2118.7 753.3 2123.1 750.7 2127.6 747.1 2132 742.5 2134.2 739.7 2136.5 735.9 2144.9 719.8 2147.1 714.9 2149.2 708.3 2153.4 693.7 2155.5 685.1 2157.9 679.1 2201 679.1 2201 679.1 2186.2 679.1 2177.6 684.9 2175.1 686 2170.7 687.6 2164.1 689.2 2162.4 692.8 2158.3 708.3 2156.2 715 2154 720.7 2151.8 725.5 2149.7 729.6 2145.3 736.7 2141 742.5 2134.4 749.8 2132.1 751.9 2129.7 753.5 2127.3 754.8 2122.9 756.8 2116.3 759.1 2101.5 762.7 2084 763Z"/>
</g>
<path class="g" d="M2098.5 679.1V763.1M2113.5 679.1V763.1M2157.5 679.1V763.1M2186.5 679.1V763.1"/>
<path class="v" d="M2083.8 679.1V763.1M2142.3 679.1V763.1M2200.8 679.1V763.1" stroke="#ff0000"/>
<path class="k" clip-path="url(#c4_10)" d="M2084 763 2115.3 755.8 2123.7 752.8 2127.9 750.6 2130 749.2 2132.1 747.3 2138.3 740.3 2142.5 734.7 2146.7 728 2148.8 724 2150.9 719.4 2152.9 713.9 2155 707.4 2159.2 691.7 2161.3 687.2 2163.4 685.9 2169.7 684.3 2175.9 681.9 2180.1 679.1 2201 679.1"/>
<path class="m" d="M2098.5 763.1V773.9M2113.5 763.1V773.9M2127.5 763.1V773.9M2157.5 763.1V773.9M2171.5 763.1V773.9M2186.5 763.1V773.9M2078 742.5H2067.2M2078 721.5H2067.2M2078 700.5H2067.2"/>
<path class="t" d="M2084 763.1V781.6M2142.5 763.1V781.6M2201 763.1V781.6M2078 763.1H2059.5M2078 679.1H2059.5" stroke="#ff0000"/>
<rect class="s" x="2078" y="679.5" width="128.1" height="84" stroke="#ff0000"/>
</g>
<g>
<g clip-path="url(#c5_0)">
<path class="b" d="M290 881 302 875.7 308.4 870.8 317 862.8 327.5 851.5 331.8 846.1 336.2 839.4 338.5 834.7 342.6 820.8 346.8 809.7 348.9 803.3 351.5 797 407 797 407 797 353.1 795.3 350.9 800 346.7 810.6 342.5 823.8 340.4 829.4 334.3 844.4 330.5 850.6 328.6 853 324.9 856.7 306.6 869.8 304.9 871.4 301.5 874.1 290 881Z"/>
<path class="b" d="M290 881 303.6 879 308.5 877.6 323 871.3 329.6 866.9 334.4 862.8 336.9 860.1 339.4 856.9 341.7 853.4 344.1 849.2 350.6 833.3 352.8 827.3 356.9 814.3 361 804.2 364.3 797 407 797 407 797 367.2 797 363.5 805.2 359.5 815.2 355.4 828.2 353.2 834.2 346.5 850.4 344 854.8 341.6 858.5 339 861.8 336.2 864.6 333.2 866.5 330.4 868 308.5 877.6 303.6 879 290 881Z"/>
<path class="o" d="M290 881 301.5 874.1 304.9 871.4 306.6 869.8 324.9 856.7 328.6 853 330.5 850.6 334.3 844.4 340.4 829.4 342.5 823.8 346.7 810.6 350.9 800 353.1 795.3 407 797 407 797 354 795.7 351.9 800.4 347.7 810.9 343.5 824.2 341.4 829.8 335.3 844.8 331.4 851.2 329.4 853.7 325.6 857.5 309.1 869.2 303.3 872.8 301.5 874.1 290 881Z"/>
<path class="o" d="M290 881 303.6 879 308.5 877.6 311 876.6 328 864.8 332.6 860.9 335 858.4 337.3 855.4 339.5 852 341.8 848.1 348.2 832.3 350.3 826.5 354.5 813.4 358.6 803.2 361.4 797 407 797 407 797 364.3 797 361 804.2 356.9 814.3 352.8 827.3 350.6 833.3 344.1 849.2 341.7 853.4 339.4 856.9 336.9 860.1 334.4 862.8 329.6 866.9 323 871.3 308.5 877.6 303.6 879 290 881Z"/>
<path class="l" d="M290 881 301.5 874.1 303.3 872.8 309.1 869.2 325.6 857.5 329.4 853.7 331.4 851.2 335.3 844.8 341.4 829.8 343.5 824.2 347.7 810.9 351.9 800.4 354 795.7 407 797 407 797 361.4 797 358.6 803.2 354.5 813.4 350.3 826.5 348.2 832.3 341.8 848.1 339.5 852 337.3 855.4 335 858.4 332.6 860.9 328 864.8 311 876.6 308.5 877.6 303.6 879 290 881Z"/>
</g>
<path class="g" d="M304.5 797V881M333.5 797V881M377.5 797V881M392.5 797V881"/>
<path class="g" d="M284 860.5H412.1M284 839.5H412.1M284 818.5H412.1"/>
<path class="v" d="M289.8 797V881M348.3 797V881M406.8 797V881" stroke="#ff0000"/>
<path class="k" clip-path="url(#c5_0)" d="M290 881 302.5 876.5 306.7 874.5 325.5 861.5 329.7 858 331.8 855.7 333.9 853 336 849.9 338.1 846.2 344.3 830.9 346.4 825.2 350.6 812 354.8 801.6 356.9 797 407 797"/>
<path class="m" d="M304.5 881V891.8M319.5 881V891.8M333.5 881V891.8M363.5 881V891.8M377.5 881V891.8M392.5 881V891.8M284 860.5H273.2M284 839.5H273.2M284 818.5H273.2"/>
<path class="t" d="M290 881V899.5M348.5 881V899.5M407 881V899.5M284 881H265.5M284 797H265.5" stroke="#ff0000"/>
<rect class="s" x="284" y="797.4" width="128.1" height="84" stroke="#ff0000"/>
</g>
<g>
<g clip-path="url(#c5_1)">
<path class="b" d="M469.4 881 483 873.8 490.1 868.6 493.4 865.7 496.4 862.4 500 859 505.8 852.1 509.5 846.4 511.4 843 513.3 838.4 525.7 804.5 528 797.6 530.6 793.4 586.4 797 586.4 797 531.8 794.2 529.4 798.2 527.1 805 514.7 838.9 512.7 843.6 508.9 850.3 505.1 855.5 499.2 861.9 495.6 865 491.9 867.3 483 873.8 469.4 881Z"/>
<path class="b" d="M469.4 881 485.1 879.5 492.2 878 499.7 875.6 502.4 874.4 504.9 872.5 509.6 868 516.3 860 518.7 856.7 520.9 852.9 523.3 848.5 525.5 843.1 538.2 808.7 540.1 802.9 544 797 586.4 797 586.4 797 546.8 797 542.1 803.8 540.3 809.4 527.7 843.9 525.3 849.5 522.9 854.1 520.5 857.9 518.2 861.3 513.5 866.9 508 871.1 502.4 874.4 499.7 875.6 492.2 878 485.1 879.5 469.4 881Z"/>
<path class="o" d="M469.4 881 483 873.8 491.9 867.3 495.6 865 499.2 861.9 505.1 855.5 508.9 850.3 512.7 843.6 514.7 838.9 527.1 805 529.4 798.2 531.8 794.2 586.4 797 586.4 797 533.1 795 530.8 798.8 528.6 805.4 516.1 839.5 514.1 844.3 510.2 851.1 506.2 856.4 500.3 863 496.5 866.2 492.6 868.6 486.7 871.5 483 873.8 469.4 881Z"/>
<path class="o" d="M469.4 881 485.1 879.5 487.4 879.1 489.7 878.3 496.3 875.1 500.8 872.2 505.4 868.4 509.8 863.7 514.2 858.3 516.4 855.2 518.6 851.6 520.8 847.4 523 842.1 535.6 807.8 537.6 801.8 540.7 797 586.4 797 586.4 797 544 797 540.1 802.9 538.2 808.7 525.5 843.1 523.3 848.5 520.9 852.9 518.7 856.7 516.3 860 509.6 868 504.9 872.5 502.4 874.4 499.7 875.6 492.2 878 485.1 879.5 469.4 881Z"/>
<path class="l" d="M469.4 881 483 873.8 486.7 871.5 492.6 868.6 496.5 866.2 500.3 863 506.2 856.4 510.2 851.1 514.1 844.3 516.1 839.5 528.6 805.4 530.8 798.8 533.1 795 586.4 797 586.4 797 540.7 797 537.6 801.8 535.6 807.8 523 842.1 520.8 847.4 518.6 851.6 516.4 855.2 514.2 858.3 509.8 863.7 505.4 868.4 500.8 872.2 496.3 875.1 489.7 878.3 487.4 879.1 485.1 879.5 469.4 881Z"/>
</g>
<path class="g" d="M498.5 797V881M542.5 797V881M571.5 797V881"/>
<path class="g" d="M463.4 860.5H591.5M463.4 839.5H591.5M463.4 818.5H591.5"/>
<path class="v" d="M469.1 797V881M527.7 797V881M586.2 797V881" stroke="#ff0000"/>
<path class="k" clip-path="url(#c5_1)" d="M469.4 881 484 876.6 492.4 873 498.7 869.2 502.8 865.7 507 861.3 511.2 856.1 515.4 849.7 517.5 845.8 519.5 840.8 532.1 806.6 534.2 800.3 536.3 797 586.4 797"/>
<path class="m" d="M484.5 881V891.8M498.5 881V891.8M513.5 881V891.8M542.5 881V891.8M557.5 881V891.8M571.5 881V891.8M463.4 860.5H452.6M463.4 839.5H452.6M463.4 818.5H452.6"/>
<path class="t" d="M469.4 881V899.5M527.9 881V899.5M586.4 881V899.5M463.4 881H444.9M463.4 797H444.9" stroke="#ff0000"/>
<rect class="s" x="463.4" y="797.4" width="128.1" height="84" stroke="#ff0000"/>
</g>
<g>
<g clip-path="url(#c5_2)">
<path class="b" d="M648.8 881 664.5 873.5 671.8 869.2 675.4 867.3 677.1 866.2 680.7 862.5 686.7 855.4 692.7 847 696.7 840.4 698.6 836.4 700.6 831.6 702.6 825.7 704.7 817 706.9 810.2 709 805.4 711.1 799.4 713.3 794.8 765.8 797 765.8 797 714.4 795.4 712.2 799.8 710.1 805.9 708 810.6 705.8 817.3 703.7 826.1 701.7 832 699.7 836.9 697.8 841 693.8 847.7 687.7 856.2 681.6 863.3 677.8 867.1 676.1 868.3 672.3 870.3 666.4 872.6 648.8 881Z"/>
<path class="b" d="M648.8 881 661 876.6 679.6 873.4 687.6 871.2 689.4 870.4 691.2 869.4 695.1 866.2 701.1 859.9 705.1 854.4 711.2 843.7 715.3 835.1 719.5 825 723.7 813 725.8 808.4 732.4 797 734.9 794.9 765.8 797 765.8 797 742.4 796.2 740.3 802.5 734.1 816.4 723.7 842.6 721.7 847 719.6 850.7 715.6 857.1 713.7 859.4 711.9 861.1 708 863.9 704.1 866.1 695.9 869.6 687.9 872.2 661 876.7 648.8 881Z"/>
<path class="o" d="M648.8 881 666.4 872.6 672.3 870.3 676.1 868.3 677.8 867.1 681.6 863.3 687.7 856.2 693.8 847.7 697.8 841 699.7 836.9 701.7 832 703.7 826.1 705.8 817.3 708 810.6 710.1 805.9 712.2 799.8 714.4 795.4 765.8 797 765.8 797 715.4 795.8 713.2 800.2 711.1 806.3 709 811 706.8 817.6 704.8 826.3 702.7 832.4 700.7 837.4 698.7 841.5 694.6 848.3 688.5 856.8 682.4 864 678.5 867.9 676.7 869.2 670.8 872.1 660.7 875.5 648.8 881Z"/>
<path class="o" d="M648.8 881 660.9 876 677.4 872.6 685.4 869.9 689.1 868.1 690.8 866.6 692.7 864.4 700.9 852.4 705 845.1 709 836.1 711.1 830.6 721.7 796.3 725.3 794.5 765.8 797 765.8 797 734.9 794.9 732.4 797 725.8 808.4 723.7 813 719.5 825 715.3 835.1 711.2 843.7 705.1 854.4 701.1 859.9 695.1 866.2 691.2 869.4 689.4 870.4 687.6 871.2 679.6 873.4 661 876.6 648.8 881Z"/>
<path class="l" d="M648.8 881 660.7 875.5 670.8 872.1 676.7 869.2 678.5 867.9 682.4 864 688.5 856.8 694.6 848.3 698.7 841.5 700.7 837.4 702.7 832.4 704.8 826.3 706.8 817.6 709 811 711.1 806.3 713.2 800.2 715.4 795.8 765.8 797 765.8 797 725.3 794.5 721.7 796.3 711.1 830.6 709 836.1 705 845.1 700.9 852.4 692.7 864.4 690.8 866.6 689.1 868.1 685.4 869.9 677.4 872.6 660.9 876 648.8 881Z"/>
</g>
<path class="g" d="M663.5 797V881M692.5 797V881M721.5 797V881M736.5 797V881"/>
<path class="g" d="M642.8 860.5H770.9M642.8 839.5H770.9M642.8 818.5H770.9"/>
<path class="v" d="M648.5 797V881M707.1 797V881M765.6 797V881" stroke="#ff0000"/>
<path class="k" clip-path="url(#c5_2)" d="M648.8 881 665.5 876.8 673.9 873.6 678.1 871.4 680.2 870 684.3 865.8 690.6 858.4 696.9 849.7 701 842.7 703.1 838.4 705.2 833.3 707.3 827.1 709.4 818.3 711.5 811.9 713.6 807.2 715.7 801.2 717.7 797 765.8 797"/>
<path class="m" d="M663.5 881V891.8M678.5 881V891.8M692.5 881V891.8M721.5 881V891.8M736.5 881V891.8M751.5 881V891.8M642.8 860.5H632M642.8 839.5H632M642.8 818.5H632"/>
<path class="t" d="M648.8 881V899.5M707.3 881V899.5M765.8 881V899.5M642.8 881H624.3M642.8 797H624.3" stroke="#ff0000"/>
<rect class="s" x="642.8" y="797.4" width="128.1" height="84" stroke="#ff0000"/>
</g>
<g>
<g clip-path="url(#c5_3)">
<path class="b" d="M828.2 881 847.7 871 853.1 867.5 856.8 865.7 860.4 863.3 866.1 858.6 869.8 854.6 875.7 846.5 879.7 840.2 881.6 836.6 883.5 832 891.9 809.5 898.2 795 945.2 797 945.2 797 899.3 795.5 893 810 884.6 832.4 882.7 837.1 878.7 844.1 872.7 852.9 868.8 857.5 865 861.2 859.2 865.6 855.5 867.7 847.7 871 828.2 881Z"/>
<path class="b" d="M828.2 881 840.3 876 860.9 871.6 869 869 872.8 867.1 876.6 864.1 882.7 858.2 886.7 853.5 890.7 847.2 894.8 839.6 907.2 808.7 911.6 796.9 914.6 794.8 945.2 797 945.2 797 917.8 795.8 915.6 800.2 911.4 811.8 905.1 830.6 903.1 835.9 899 845.3 897 848.7 895 851.5 891.1 856.2 887.1 860 881 864.7 875 868.7 871.2 870.5 863.2 872.7 840.4 876.6 828.2 881Z"/>
<path class="o" d="M828.2 881 847.7 871 855.5 867.7 859.2 865.6 865 861.2 868.8 857.5 872.7 852.9 878.7 844.1 882.7 837.1 884.6 832.4 893 810 899.3 795.5 945.2 797 945.2 797 900.6 796 894.3 810.5 885.9 832.9 883.9 837.7 881.9 841.4 877.9 847.9 871.8 856.2 867.9 860.4 861.9 865.4 858 867.9 854.1 869.8 842 874.2 828.2 881Z"/>
<path class="o" d="M828.2 881 843.7 880 846 879.7 856.8 875.8 861.2 873.6 865.7 870.7 872.3 865.1 876.8 860.4 883.3 851.5 887.6 844.6 889.8 840.4 892 835.3 900.3 813 907.2 797 945.2 797 945.2 797 914.6 794.8 911.6 796.9 907.2 808.7 894.8 839.6 890.7 847.2 886.7 853.5 882.7 858.2 876.6 864.1 872.8 867.1 869 869 860.9 871.6 840.3 876 828.2 881Z"/>
<path class="l" d="M828.2 881 842 874.2 854.1 869.8 858 867.9 861.9 865.4 867.9 860.4 871.8 856.2 877.9 847.9 881.9 841.4 883.9 837.7 885.9 832.9 894.3 810.5 900.6 796 945.2 797 945.2 797 907.2 797 900.3 813 892 835.3 889.8 840.4 887.6 844.6 883.3 851.5 876.8 860.4 872.3 865.1 865.7 870.7 861.2 873.6 856.8 875.8 846 879.7 843.7 880 828.2 881Z"/>
</g>
<path class="g" d="M842.5 797V881M857.5 797V881M915.5 797V881"/>
<path class="g" d="M822.2 860.5H950.3M822.2 839.5H950.3M822.2 818.5H950.3"/>
<path class="v" d="M828 797V881M886.5 797V881M945 797V881" stroke="#ff0000"/>
<path class="k" clip-path="url(#c5_3)" d="M828.2 881 849.1 875.1 857.5 871.7 861.6 869.4 865.8 866.3 870 862.7 874.2 858.2 880.4 849.6 884.6 843 886.7 839 888.8 834.1 897.1 811.7 903.4 797.3 905.5 797 945.2 797"/>
<path class="m" d="M842.5 881V891.8M857.5 881V891.8M872.5 881V891.8M901.5 881V891.8M915.5 881V891.8M930.5 881V891.8M822.2 860.5H811.4M822.2 839.5H811.4M822.2 818.5H811.4"/>
<path class="t" d="M828.2 881V899.5M886.7 881V899.5M945.2 881V899.5M822.2 881H803.7M822.2 797H803.7" stroke="#ff0000"/>
<rect class="s" x="822.2" y="797.4" width="128.1" height="84" stroke="#ff0000"/>
</g>
<g>
<g clip-path="url(#c5_4)">
<path class="b" d="M1007.6 881 1035.3 868 1040.4 866.1 1045.8 862.6 1051.5 858.1 1055.2 854.2 1059 849.5 1062.7 843.2 1064.6 839.3 1072.8 816.9 1077 802.5 1079.6 795.7 1083.2 792.2 1124.6 797 1124.6 797 1084.1 793.4 1080.9 796.4 1078.4 803 1074.2 817.3 1066 839.8 1064.1 843.9 1060.2 850.3 1056.4 855.2 1052.5 859.2 1046.7 863.9 1041 867.4 1037.5 868.9 1029.6 870.8 1027.6 871.6 1007.6 881Z"/>
<path class="b" d="M1007.6 881 1019.6 875.6 1044.4 869.6 1054.6 866 1060.5 862.8 1064.4 860.1 1066.3 858.3 1070.2 853.5 1074.3 847.5 1076.3 844.1 1082.5 831.1 1086.6 820.4 1090.9 810.9 1093 806.7 1097.4 800.1 1099.8 797.4 1102.4 795.4 1104.9 794.5 1124.6 797 1124.6 797 1111.3 794.5 1108.8 795.2 1106.1 797.1 1103.7 799.6 1101.5 802.8 1099.2 806.8 1097 812.4 1094.9 820 1092.8 831.3 1090.8 838 1088.7 843.1 1086.8 846.9 1084.8 849.9 1082.9 852.5 1080.9 854.6 1077.1 857.8 1073.2 860.3 1058.8 866.9 1050.8 869.7 1019.7 876.2 1007.6 881Z"/>
<path class="o" d="M1007.6 881 1027.6 871.6 1029.6 870.8 1037.5 868.9 1041 867.4 1046.7 863.9 1052.5 859.2 1056.4 855.2 1060.2 850.3 1064.1 843.9 1066 839.8 1074.2 817.3 1078.4 803 1080.9 796.4 1084.1 793.4 1124.6 797 1124.6 797 1085.1 794.6 1082.2 797.1 1079.9 803.5 1075.7 817.8 1067.4 840.4 1065.4 844.6 1061.5 851.2 1057.5 856.2 1053.6 860.3 1047.6 865.1 1041.7 868.8 1038 870.3 1021.5 874.4 1007.6 881Z"/>
<path class="o" d="M1007.6 881 1025.1 880.1 1040 876.5 1044.6 874.6 1049.2 871.9 1055.7 867 1060.2 862.9 1064.6 857.9 1066.8 854.9 1069 851.5 1071.2 847.6 1073.4 842.9 1081.9 819.7 1086 805.5 1087.9 800.3 1094.2 797 1124.6 797 1124.6 797 1104.9 794.5 1102.4 795.4 1099.8 797.4 1097.4 800.1 1093 806.7 1090.9 810.9 1086.6 820.4 1082.5 831.1 1076.3 844.1 1074.3 847.5 1070.2 853.5 1066.3 858.3 1064.4 860.1 1060.5 862.8 1054.6 866 1044.4 869.6 1019.6 875.6 1007.6 881Z"/>
<path class="l" d="M1007.6 881 1021.5 874.4 1038 870.3 1041.7 868.8 1047.6 865.1 1053.6 860.3 1057.5 856.2 1061.5 851.2 1065.4 844.6 1067.4 840.4 1075.7 817.8 1079.9 803.5 1082.2 797.1 1085.1 794.6 1124.6 797 1124.6 797 1094.2 797 1087.9 800.3 1086 805.5 1081.9 819.7 1073.4 842.9 1071.2 847.6 1069 851.5 1066.8 854.9 1064.6 857.9 1060.2 862.9 1055.7 867 1049.2 871.9 1044.6 874.6 1040 876.5 1025.1 880.1 1007.6 881Z"/>
</g>
<path class="g" d="M1036.5 797V881M1051.5 797V881M1080.5 797V881M1095.5 797V881M1109.5 797V881"/>
<path class="g" d="M1001.6 860.5H1129.7M1001.6 839.5H1129.7M1001.6 818.5H1129.7"/>
<path class="v" d="M1007.4 797V881M1065.9 797V881M1124.4 797V881" stroke="#ff0000"/>
<path class="k" clip-path="url(#c5_4)" d="M1007.6 881 1038.9 873.2 1043.1 871.6 1047.3 869.1 1053.6 864.4 1057.7 860.5 1061.9 855.8 1066.1 849.7 1068.2 846 1070.3 841.6 1078.6 818.7 1082.8 804.5 1084.9 798.7 1087 797 1124.6 797"/>
<path class="m" d="M1022.5 881V891.8M1036.5 881V891.8M1051.5 881V891.8M1080.5 881V891.8M1095.5 881V891.8M1109.5 881V891.8M1001.6 860.5H990.8M1001.6 839.5H990.8M1001.6 818.5H990.8"/>
<path class="t" d="M1007.6 881V899.5M1066.1 881V899.5M1124.6 881V899.5M1001.6 881H983.1M1001.6 797H983.1" stroke="#ff0000"/>
<rect class="s" x="1001.6" y="797.4" width="128.1" height="84" stroke="#ff0000"/>
</g>
<g>
<g clip-path="url(#c5_5)">
<path class="b" d="M1187 881 1210.6 870.1 1215.9 867 1219.4 865.4 1226.9 860.2 1230.7 857.1 1234.4 853.2 1238.1 848.6 1244 838.6 1248 830.8 1252 821.2 1254 815.5 1256.1 807.8 1258.3 801.1 1261 795.9 1263.7 792.7 1304 797 1304 797 1264.9 793.8 1262.3 796.7 1259.8 801.7 1257.5 808.3 1255.4 815.9 1253.4 821.8 1249.4 831.4 1245.4 839.4 1239.4 849.4 1235.6 854.2 1231.7 858.2 1227.9 861.4 1220.1 866.7 1216.5 868.4 1210.7 870.4 1187 881Z"/>
<path class="b" d="M1187 881 1213.5 880 1218.3 879.4 1220.7 878.9 1225.6 876.6 1232.6 872.1 1237.1 868.5 1241.7 864.2 1246.3 859 1248.7 855.9 1255.3 844.8 1259.7 836.2 1261.9 831.3 1264.1 825.6 1266.3 819.2 1268.4 811.5 1270.3 805.9 1271.8 802.9 1277.6 797 1304 797 1304 797 1281.9 794.7 1278.7 796.7 1276.4 803.2 1274.3 810.3 1272.3 816.1 1264 837.3 1261.9 841.6 1257.9 849 1255.9 851.8 1252 856.2 1248 859.8 1233.7 870.3 1230 872.1 1224.1 873.5 1199.3 877 1187 881Z"/>
<path class="o" d="M1187 881 1210.7 870.4 1216.5 868.4 1220.1 866.7 1227.9 861.4 1231.7 858.2 1235.6 854.2 1239.4 849.4 1245.4 839.4 1249.4 831.4 1253.4 821.8 1255.4 815.9 1257.5 808.3 1259.8 801.7 1262.3 796.7 1264.9 793.8 1304 797 1304 797 1266 794.8 1263.5 797.5 1261.2 802.2 1259 808.7 1256.9 816.3 1254.8 822.3 1250.8 832.1 1246.7 840.1 1240.6 850.3 1238.7 852.9 1234.7 857.4 1230.8 861 1224.8 865.6 1219 869 1215.1 870.6 1202.9 874 1187 881Z"/>
<path class="o" d="M1187 881 1204.5 880.6 1206.7 880.3 1217.5 877.3 1222 875.4 1226.6 872.9 1233.2 868.2 1237.6 864.5 1242 859.9 1246.5 854.3 1252.9 843.5 1257.2 835.1 1259.4 830.2 1261.5 824.7 1263.7 818.4 1265.8 810.8 1267.7 804.9 1269.5 801.4 1273.7 797 1304 797 1304 797 1277.6 797 1271.8 802.9 1270.3 805.9 1268.4 811.5 1266.3 819.2 1264.1 825.6 1261.9 831.3 1259.7 836.2 1255.3 844.8 1248.7 855.9 1246.3 859 1241.7 864.2 1237.1 868.5 1232.6 872.1 1225.6 876.6 1220.7 878.9 1218.3 879.4 1213.5 880 1187 881Z"/>
<path class="l" d="M1187 881 1202.9 874 1215.1 870.6 1219 869 1224.8 865.6 1230.8 861 1234.7 857.4 1238.7 852.9 1240.6 850.3 1246.7 840.1 1250.8 832.1 1254.8 822.3 1256.9 816.3 1259 808.7 1261.2 802.2 1263.5 797.5 1266 794.8 1304 797 1304 797 1273.7 797 1269.5 801.4 1267.7 804.9 1265.8 810.8 1263.7 818.4 1261.5 824.7 1259.4 830.2 1257.2 835.1 1252.9 843.5 1246.5 854.3 1242 859.9 1237.6 864.5 1233.2 868.2 1226.6 872.9 1222 875.4 1217.5 877.3 1206.7 880.3 1204.5 880.6 1187 881Z"/>
</g>
<path class="g" d="M1201.5 797V881M1230.5 797V881M1260.5 797V881M1289.5 797V881"/>
<path class="g" d="M1181 860.5H1309.1M1181 839.5H1309.1M1181 818.5H1309.1"/>
<path class="v" d="M1186.8 797V881M1245.3 797V881M1303.8 797V881" stroke="#ff0000"/>
<path class="k" clip-path="url(#c5_5)" d="M1187 881 1212.1 875.1 1218.3 873 1222.5 871 1228.8 866.9 1235.1 861.8 1239.2 857.5 1243.4 852.2 1249.7 841.7 1253.9 833.5 1258 823.4 1260.1 817.3 1262.2 809.7 1264.3 803.5 1266.4 799.4 1268.5 797.1 1304 797"/>
<path class="m" d="M1201.5 881V891.8M1216.5 881V891.8M1230.5 881V891.8M1260.5 881V891.8M1274.5 881V891.8M1289.5 881V891.8M1181 860.5H1170.2M1181 839.5H1170.2M1181 818.5H1170.2"/>
<path class="t" d="M1187 881V899.5M1245.5 881V899.5M1304 881V899.5M1181 881H1162.5M1181 797H1162.5" stroke="#ff0000"/>
<rect class="s" x="1181" y="797.4" width="128.1" height="84" stroke="#ff0000"/>
</g>
<g>
<g clip-path="url(#c5_6)">
<path class="b" d="M1366.4 881 1379.8 879 1392.6 874.2 1399.1 870.9 1403.5 868 1407.9 864.3 1412.3 859.6 1414.6 856.7 1423 842.1 1425.1 838.8 1427.4 834.6 1429.5 828.3 1431.7 820.5 1433.8 810.6 1435.8 804.5 1437.6 800.1 1442.3 797 1483.4 797 1483.4 797 1448.6 792.6 1443.9 795.3 1441.4 802.6 1439.4 809.5 1437.6 812.7 1435.5 815.9 1433.2 820.3 1428.9 832.1 1426.8 839 1424.9 844.5 1423.4 846.6 1421.7 848.3 1401.2 865.6 1397.7 868 1396.1 868.7 1388.5 870.6 1386.4 871.4 1366.4 881Z"/>
<path class="b" d="M1366.4 881 1378.5 875.8 1403.3 870.1 1411.4 867.3 1417.3 864.2 1423.3 860.1 1427.3 856.7 1431.3 852.5 1435.3 847.5 1439.3 840.9 1441.3 837.1 1443.4 832.6 1447.5 821.8 1451.7 809 1453.9 804.4 1458.4 796.2 1461.5 794.6 1483.4 797 1483.4 797 1463.6 794.5 1460.5 796.1 1456 804.4 1453.8 809.1 1451.6 815 1449.6 821.6 1445.4 832.8 1443.4 837.4 1441.4 841.1 1437.4 847.4 1433.4 852.4 1427.4 858.4 1423.4 861.5 1417.4 865.3 1411.4 868.1 1403.3 870.6 1378.5 876 1366.4 881Z"/>
<path class="o" d="M1366.4 881 1386.4 871.4 1388.5 870.6 1396.1 868.7 1397.7 868 1401.2 865.6 1421.7 848.3 1423.4 846.6 1424.9 844.5 1426.8 839 1428.9 832.1 1433.2 820.3 1435.5 815.9 1437.6 812.7 1439.4 809.5 1441.4 802.6 1443.9 795.3 1448.6 792.6 1483.4 797 1483.4 797 1449 793.7 1445 795.9 1442.5 802.9 1440.5 809.9 1438.7 813.3 1436.6 816.5 1434.3 820.8 1430 832.5 1427.9 839.4 1426 845 1424.3 847.3 1422.5 849.2 1401.9 866.6 1398.3 869.1 1394.7 870.4 1382.3 873.3 1366.4 881Z"/>
<path class="o" d="M1366.4 881 1388.2 879.7 1396.9 877.6 1401.8 875.8 1404.3 874.3 1419.3 862 1427.8 854.7 1430.2 852 1432.8 848.1 1435.1 841.7 1437.2 834.8 1441.2 823.8 1443.1 820.3 1445.2 817.2 1447.6 812.6 1452.3 797 1483.4 797 1483.4 797 1461.5 794.6 1458.4 796.2 1453.9 804.4 1451.7 809 1447.5 821.8 1443.4 832.6 1441.3 837.1 1439.3 840.9 1435.3 847.5 1431.3 852.5 1427.3 856.7 1423.3 860.1 1417.3 864.2 1411.4 867.3 1403.3 870.1 1378.5 875.8 1366.4 881Z"/>
<path class="l" d="M1366.4 881 1382.3 873.3 1394.7 870.4 1398.3 869.1 1401.9 866.6 1422.5 849.2 1424.3 847.3 1426 845 1427.9 839.4 1430 832.5 1434.3 820.8 1436.6 816.5 1438.7 813.3 1440.5 809.9 1442.5 802.9 1445 795.9 1449 793.7 1483.4 797 1483.4 797 1452.3 797 1447.6 812.6 1445.2 817.2 1443.1 820.3 1441.2 823.8 1437.2 834.8 1435.1 841.7 1432.8 848.1 1430.2 852 1427.8 854.7 1419.3 862 1404.3 874.3 1401.8 875.8 1396.9 877.6 1388.2 879.7 1366.4 881Z"/>
</g>
<path class="g" d="M1381.5 797V881M1395.5 797V881M1410.5 797V881M1439.5 797V881M1454.5 797V881"/>
<path class="g" d="M1360.4 860.5H1488.5M1360.4 839.5H1488.5M1360.4 818.5H1488.5"/>
<path class="v" d="M1366.2 797V881M1424.7 797V881M1483.2 797V881" stroke="#ff0000"/>
<path class="k" clip-path="url(#c5_6)" d="M1366.4 881 1395.7 873.7 1399.8 872.1 1404 869.3 1424.9 851.7 1427 849.4 1429.1 846.4 1431.2 840.4 1433.3 833.5 1437.4 822.1 1439.5 818.2 1441.6 815 1443.7 811.1 1445.8 803.9 1447.9 797.6 1450 797 1483.4 797"/>
<path class="m" d="M1381.5 881V891.8M1395.5 881V891.8M1410.5 881V891.8M1439.5 881V891.8M1454.5 881V891.8M1468.5 881V891.8M1360.4 860.5H1349.6M1360.4 839.5H1349.6M1360.4 818.5H1349.6"/>
<path class="t" d="M1366.4 881V899.5M1424.9 881V899.5M1483.4 881V899.5M1360.4 881H1341.9M1360.4 797H1341.9" stroke="#ff0000"/>
<rect class="s" x="1360.4" y="797.4" width="128.1" height="84" stroke="#ff0000"/>
</g>
<g>
<g clip-path="url(#c5_7)">
<path class="b" d="M1545.8 881 1569.4 869.8 1571.3 868.8 1579 865.7 1586.5 861.6 1590.2 858.8 1598 851.2 1601.7 846.5 1603.6 843.7 1607.5 835.6 1611.4 825.7 1613.4 818.7 1615.5 810.2 1617.7 803.4 1620.1 797.2 1622.8 793.6 1662.8 797 1662.8 797 1623.7 794.3 1621.2 797.7 1618.9 803.8 1616.7 810.5 1614.6 819 1612.6 826 1608.6 836.1 1604.6 844.3 1602.7 847.2 1600.8 849.7 1596.9 854 1589.1 861.2 1585.3 863.8 1577.5 867.7 1565.6 871.8 1545.8 881Z"/>
<path class="b" d="M1545.8 881 1558 876.4 1582.8 872 1593 869.1 1596.8 867.5 1600.6 864.9 1604.5 861.3 1608.5 857.1 1610.5 854.5 1614.5 847.7 1618.6 839.5 1624.8 823.9 1626.9 817.9 1629.1 812.6 1631.3 808.6 1633.5 805.4 1637.9 800.1 1640.2 797.9 1642.5 796.1 1644.8 794.8 1662.8 797 1662.8 797 1654.4 795.6 1652.2 798.5 1650.1 802 1645.9 808.2 1641.7 815.6 1639.5 820 1637.3 825.5 1635.2 833 1633.2 839.3 1631.2 844.1 1629.1 848.2 1627.1 851.7 1623.1 857.5 1619.2 862.2 1617.3 863.8 1613.7 865.9 1593.1 873.2 1587.2 874.6 1558.2 877.5 1545.8 881Z"/>
<path class="o" d="M1545.8 881 1565.6 871.8 1577.5 867.7 1585.3 863.8 1589.1 861.2 1596.9 854 1600.8 849.7 1602.7 847.2 1604.6 844.3 1608.6 836.1 1612.6 826 1614.6 819 1616.7 810.5 1618.9 803.8 1621.2 797.7 1623.7 794.3 1662.8 797 1662.8 797 1624.8 795.1 1622.4 798.3 1620.2 804.2 1618 810.9 1615.9 819.4 1613.9 826.5 1611.9 831.8 1609.8 836.6 1605.8 844.9 1603.8 848 1601.9 850.6 1597.9 855 1591.8 860.7 1588 863.7 1584 866.1 1576.1 869.7 1559.7 874.7 1545.8 881Z"/>
<path class="o" d="M1545.8 881 1561.2 880.5 1576.1 876.3 1582.6 873.7 1589.2 870.2 1593.7 867.2 1600.2 861.4 1604.5 857 1608.9 851.5 1611.2 848 1613.4 843.8 1617.6 834.1 1619.8 828.4 1621.9 821 1624 812.5 1626 806.2 1627.9 801.1 1631.2 797 1662.8 797 1662.8 797 1644.8 794.8 1642.5 796.1 1640.2 797.9 1637.9 800.1 1633.5 805.4 1631.3 808.6 1629.1 812.6 1626.9 817.9 1624.8 823.9 1618.6 839.5 1614.5 847.7 1610.5 854.5 1608.5 857.1 1604.5 861.3 1600.6 864.9 1596.8 867.5 1593 869.1 1582.8 872 1558 876.4 1545.8 881Z"/>
<path class="l" d="M1545.8 881 1559.7 874.7 1576.1 869.7 1584 866.1 1588 863.7 1591.8 860.7 1597.9 855 1601.9 850.6 1603.8 848 1605.8 844.9 1609.8 836.6 1611.9 831.8 1613.9 826.5 1615.9 819.4 1618 810.9 1620.2 804.2 1622.4 798.3 1624.8 795.1 1662.8 797 1662.8 797 1631.2 797 1627.9 801.1 1626 806.2 1624 812.5 1621.9 821 1619.8 828.4 1617.6 834.1 1613.4 843.8 1611.2 848 1608.9 851.5 1604.5 857 1600.2 861.4 1593.7 867.2 1589.2 870.2 1582.6 873.7 1576.1 876.3 1561.2 880.5 1545.8 881Z"/>
</g>
<path class="g" d="M1575.5 797V881M1633.5 797V881M1648.5 797V881"/>
<path class="g" d="M1539.8 860.5H1667.9M1539.8 839.5H1667.9M1539.8 818.5H1667.9"/>
<path class="v" d="M1545.5 797V881M1604.1 797V881M1662.6 797V881" stroke="#ff0000"/>
<path class="k" clip-path="url(#c5_7)" d="M1545.8 881 1573 874.1 1581.3 870.9 1587.6 867.6 1591.8 864.8 1598 859.2 1602.2 854.9 1606.4 849.7 1608.5 846.5 1612.7 837.9 1614.7 833 1616.8 827.4 1618.9 820.2 1621 811.7 1623.1 805.2 1625.2 799.7 1627.3 797 1662.8 797"/>
<path class="m" d="M1560.5 881V891.8M1575.5 881V891.8M1589.5 881V891.8M1618.5 881V891.8M1633.5 881V891.8M1648.5 881V891.8M1539.8 860.5H1529M1539.8 839.5H1529M1539.8 818.5H1529"/>
<path class="t" d="M1545.8 881V899.5M1604.3 881V899.5M1662.8 881V899.5M1539.8 881H1521.3M1539.8 797H1521.3" stroke="#ff0000"/>
<rect class="s" x="1539.8" y="797.4" width="128.1" height="84" stroke="#ff0000"/>
</g>
<g>
<g clip-path="url(#c5_8)">
<path class="b" d="M1725.2 881 1738.8 877.9 1757.8 868.5 1764.3 864.5 1768.8 860.9 1773.2 856.2 1777.5 850.4 1779.7 847 1781.9 842.8 1784.1 837.5 1786.3 829.6 1790.4 809.5 1792.4 804.3 1794.3 800.5 1798.1 797 1842.2 797 1842.2 797 1808.3 797 1796.2 799.6 1792.5 807.8 1790.5 815.4 1788.4 826.4 1786.2 835.3 1784.1 841.5 1781.9 846.1 1779.7 849.8 1775.3 855.9 1770.9 860.8 1766.5 864.6 1762.1 867.5 1755.7 871.2 1738.7 878.6 1725.2 881Z"/>
<path class="b" d="M1725.2 881 1737.3 876.3 1760.1 872 1768.2 869.6 1771.9 867.9 1784.1 858.6 1790.1 852.9 1794.1 848.2 1798.2 842.4 1800.2 838.9 1802.2 834.7 1806.3 823.9 1810.5 811.7 1812.7 807.2 1819.3 796.2 1822.3 794.6 1842.2 797 1842.2 797 1825.9 794.9 1823.7 796.7 1819.3 801.1 1817 804.3 1814.8 808.2 1812.6 812.6 1804.2 834.9 1802.2 839.4 1800.3 842.6 1796.3 848 1790.2 854.5 1784.1 859.9 1772 868.8 1768.2 870.4 1760.1 872.6 1737.4 876.5 1725.2 881Z"/>
<path class="o" d="M1725.2 881 1738.7 878.6 1755.7 871.2 1762.1 867.5 1766.5 864.6 1770.9 860.8 1775.3 855.9 1779.7 849.8 1781.9 846.1 1784.1 841.5 1786.2 835.3 1788.4 826.4 1790.5 815.4 1792.5 807.8 1796.2 799.6 1808.3 797 1842.2 797 1842.2 797 1799.4 797 1796.5 802.2 1794.5 806.5 1792.5 812.1 1790.5 822.8 1788.4 832.5 1786.2 839.9 1784 845 1781.8 849.1 1779.6 852.4 1775.3 858.1 1770.9 862.7 1766.4 866.2 1759.9 870.4 1751.3 874.6 1738.6 879.3 1725.2 881Z"/>
<path class="o" d="M1725.2 881 1742.7 880.7 1744.8 880.5 1755.5 878 1760 876.5 1764.6 874.2 1773.3 868.6 1777.8 865.2 1780.1 863 1782.4 860.4 1784.7 857.2 1789.1 849.5 1791.3 844.9 1797.5 829.9 1799.5 825.6 1803.8 817.5 1806 811.3 1808.1 803.3 1810.7 797 1842.2 797 1842.2 797 1822.3 794.6 1819.3 796.2 1812.7 807.2 1810.5 811.7 1806.3 823.9 1802.2 834.7 1800.2 838.9 1798.2 842.4 1794.1 848.2 1790.1 852.9 1784.1 858.6 1771.9 867.9 1768.2 869.6 1760.1 872 1737.3 876.3 1725.2 881Z"/>
<path class="l" d="M1725.2 881 1738.6 879.3 1751.3 874.6 1759.9 870.4 1766.4 866.2 1770.9 862.7 1775.3 858.1 1779.6 852.4 1781.8 849.1 1784 845 1786.2 839.9 1788.4 832.5 1790.5 822.8 1792.5 812.1 1794.5 806.5 1796.5 802.2 1799.4 797 1842.2 797 1842.2 797 1810.7 797 1808.1 803.3 1806 811.3 1803.8 817.5 1799.5 825.6 1797.5 829.9 1791.3 844.9 1789.1 849.5 1784.7 857.2 1782.4 860.4 1780.1 863 1777.8 865.2 1773.3 868.6 1764.6 874.2 1760 876.5 1755.5 878 1744.8 880.5 1742.7 880.7 1725.2 881Z"/>
</g>
<path class="g" d="M1754.5 797V881M1769.5 797V881M1798.5 797V881M1827.5 797V881"/>
<path class="g" d="M1719.2 860.5H1847.3M1719.2 839.5H1847.3M1719.2 818.5H1847.3"/>
<path class="v" d="M1725 797V881M1783.5 797V881M1842 797V881" stroke="#ff0000"/>
<path class="k" clip-path="url(#c5_8)" d="M1725.2 881 1754.5 874.4 1758.6 873 1762.8 871 1773.3 864.1 1777.4 860.4 1779.5 858.1 1781.6 855.2 1785.8 847.9 1787.9 843.4 1794.1 828.4 1796.2 824 1800.4 816.1 1802.5 810.2 1804.6 802.2 1806.7 797 1842.2 797"/>
<path class="m" d="M1739.5 881V891.8M1754.5 881V891.8M1769.5 881V891.8M1798.5 881V891.8M1812.5 881V891.8M1827.5 881V891.8M1719.2 860.5H1708.4M1719.2 839.5H1708.4M1719.2 818.5H1708.4"/>
<path class="t" d="M1725.2 881V899.5M1783.7 881V899.5M1842.2 881V899.5M1719.2 881H1700.7M1719.2 797H1700.7" stroke="#ff0000"/>
<rect class="s" x="1719.2" y="797.4" width="128.1" height="84" stroke="#ff0000"/>
</g>
<g>
<g clip-path="url(#c5_9)">
<path class="b" d="M1904.6 881 1928.2 870 1930 868.9 1935.5 866.7 1941 863.3 1946.7 858.9 1954.6 850.4 1958.5 845.6 1960.3 842.8 1962.2 839.5 1968.2 824.4 1970.2 818.6 1972.4 810.3 1975.4 805.2 1979.5 801.7 1984 793.5 1989.1 791.4 2021.6 797 2021.6 797 1989.4 792.6 1984.9 794.4 1980.4 802.5 1976.3 806 1973.5 810.7 1971.4 818.9 1969.4 824.8 1963.3 840 1961.4 843.4 1957.5 848.8 1949.5 857.9 1945.7 861.4 1937.9 866.8 1934.2 868.6 1924.4 871.9 1904.6 881Z"/>
<path class="b" d="M1904.6 881 1916.8 876.6 1939.5 872.6 1947.5 870.3 1951.4 868.5 1957.4 864.6 1963.4 859.9 1967.4 856 1971.4 851 1973.4 848.1 1975.4 844.5 1979.4 835 1981.5 829.2 1985.7 815.2 1992.1 798.6 1994.4 795.4 2021.6 797 2021.6 797 1998.3 796.2 1996.2 800.7 1994.1 804.6 1991.9 810 1989.8 817.8 1985.7 830.9 1983.6 836.6 1981.6 841.5 1977.5 850.2 1975.5 853.4 1971.6 858 1967.7 861.6 1963.7 864.6 1951.5 872 1947.7 873.5 1943.8 874.3 1916.9 877.4 1904.6 881Z"/>
<path class="o" d="M1904.6 881 1924.4 871.9 1934.2 868.6 1937.9 866.8 1945.7 861.4 1949.5 857.9 1957.5 848.8 1961.4 843.4 1963.3 840 1969.4 824.8 1971.4 818.9 1973.5 810.7 1976.3 806 1980.4 802.5 1984.9 794.4 1989.4 792.6 2021.6 797 2021.6 797 1989.6 794 1985.9 795.3 1981.5 803.3 1977.4 806.8 1974.8 811.1 1972.7 819.3 1970.6 825.3 1964.5 840.6 1962.5 844.1 1958.6 849.6 1950.4 858.8 1946.5 862.5 1942.5 865.4 1936.7 869 1932.8 870.6 1918.5 874.8 1904.6 881Z"/>
<path class="o" d="M1904.6 881 1917.7 880.7 1919.9 880.4 1932.6 876.9 1937 875.3 1941.5 873.1 1948.1 868.7 1952.5 865.1 1961 855.9 1965.4 850.5 1967.6 847.2 1969.8 843.1 1976.2 827.3 1978.3 821 1980.4 813.2 1982 810.5 1986.2 806.8 1988.5 802.8 1990.2 799.4 1990.8 799.7 1990.8 797 2021.6 797 2021.6 797 1994.4 795.4 1992.1 798.6 1985.7 815.2 1981.5 829.2 1979.4 835 1975.4 844.5 1973.4 848.1 1971.4 851 1967.4 856 1963.4 859.9 1957.4 864.6 1951.4 868.5 1947.5 870.3 1939.5 872.6 1916.8 876.6 1904.6 881Z"/>
<path class="l" d="M1904.6 881 1918.5 874.8 1932.8 870.6 1936.7 869 1942.5 865.4 1946.5 862.5 1950.4 858.8 1958.6 849.6 1962.5 844.1 1964.5 840.6 1970.6 825.3 1972.7 819.3 1974.8 811.1 1977.4 806.8 1981.5 803.3 1985.9 795.3 1989.6 794 2021.6 797 2021.6 797 1990.8 797 1990.8 799.7 1990.2 799.4 1988.5 802.8 1986.2 806.8 1982 810.5 1980.4 813.2 1978.3 821 1976.2 827.3 1969.8 843.1 1967.6 847.2 1965.4 850.5 1961 855.9 1952.5 865.1 1948.1 868.7 1941.5 873.1 1937 875.3 1932.6 876.9 1919.9 880.4 1917.7 880.7 1904.6 881Z"/>
</g>
<path class="g" d="M1919.5 797V881M1948.5 797V881M1992.5 797V881"/>
<path class="g" d="M1898.6 860.5H2026.7M1898.6 839.5H2026.7M1898.6 818.5H2026.7"/>
<path class="v" d="M1904.4 797V881M1962.9 797V881M2021.4 797V881" stroke="#ff0000"/>
<path class="k" clip-path="url(#c5_9)" d="M1904.6 881 1929.7 874.9 1935.9 872.7 1940.1 870.7 1946.4 866.5 1950.6 863 1958.9 854.1 1963.1 848.8 1965.2 845.7 1967.3 841.9 1973.5 826.3 1975.6 820.2 1977.7 812.2 1979.8 808.8 1984 805.1 1988.2 797.4 1990.3 797 2021.6 797"/>
<path class="m" d="M1919.5 881V891.8M1933.5 881V891.8M1948.5 881V891.8M1977.5 881V891.8M1992.5 881V891.8M2006.5 881V891.8M1898.6 860.5H1887.8M1898.6 839.5H1887.8M1898.6 818.5H1887.8"/>
<path class="t" d="M1904.6 881V899.5M1963.1 881V899.5M2021.6 881V899.5M1898.6 881H1880.1M1898.6 797H1880.1" stroke="#ff0000"/>
<rect class="s" x="1898.6" y="797.4" width="128.1" height="84" stroke="#ff0000"/>
</g>
<g>
<g clip-path="url(#c5_10)">
<path class="b" d="M2084 881 2097.5 878.5 2110.2 873.3 2118.8 868.7 2123.2 865.7 2127.7 861.9 2132.1 856.8 2134.3 853.7 2136.5 849.5 2138.7 844.3 2140.9 837.8 2143 829 2147.1 817.9 2151.3 802.5 2153.9 797 2201 797 2201 797 2156.2 797 2153.3 801 2151.3 806.8 2149.2 815.8 2147.1 821.9 2145 827 2140.8 842.5 2138.7 848.2 2136.5 852.8 2134.2 856.3 2129.8 861.7 2125.3 865.8 2120.9 868.9 2112.2 873.4 2097.4 878.9 2084 881Z"/>
<path class="b" d="M2084 881 2096.4 877.4 2123.3 874.7 2129.2 873.6 2132.8 871.9 2142.9 864.4 2146.9 860.6 2150.9 856 2154.9 850.6 2159 843.6 2161 839.7 2169.3 819.3 2177.7 801.7 2180 796.2 2183.3 794.5 2201 797 2201 797 2186.5 795.2 2184.2 797.8 2179.8 805.1 2177.6 810 2169.3 833.3 2165.1 843.5 2163.1 847.7 2161.1 851.1 2157.2 856.8 2155.2 859 2151.4 862.2 2131 874.5 2129.3 875.1 2127.5 875.4 2096.4 877.8 2084 881Z"/>
<path class="o" d="M2084 881 2097.4 878.9 2112.2 873.4 2120.9 868.9 2125.3 865.8 2129.8 861.7 2134.2 856.3 2136.5 852.8 2138.7 848.2 2140.8 842.5 2145 827 2147.1 821.9 2149.2 815.8 2151.3 806.8 2153.3 801 2156.2 797 2201 797 2201 797 2161 797 2155.2 799.8 2153.4 804.8 2149.2 820.4 2147.1 825.5 2145.1 831.7 2143 840.5 2140.8 846.7 2138.6 851.8 2136.4 855.7 2132 861.5 2127.5 865.9 2125.2 867.6 2120.8 870.3 2112.1 874.4 2097.3 879.4 2084 881Z"/>
<path class="o" d="M2084 881 2097 881.4 2099.1 881.2 2114 877.9 2118.5 876.4 2123.1 873.9 2137.9 863.6 2142.4 859.8 2144.6 857.4 2146.9 854.6 2149.1 851.2 2151.4 846.8 2159.8 821.2 2161.9 813.2 2163.7 809.3 2175.2 800.1 2187.3 797 2201 797 2201 797 2183.3 794.5 2180 796.2 2177.7 801.7 2169.3 819.3 2161 839.7 2159 843.6 2154.9 850.6 2150.9 856 2146.9 860.6 2142.9 864.4 2132.8 871.9 2129.2 873.6 2123.3 874.7 2096.4 877.4 2084 881Z"/>
<path class="l" d="M2084 881 2097.3 879.4 2112.1 874.4 2120.8 870.3 2125.2 867.6 2127.5 865.9 2132 861.5 2136.4 855.7 2138.6 851.8 2140.8 846.7 2143 840.5 2145.1 831.7 2147.1 825.5 2149.2 820.4 2153.4 804.8 2155.2 799.8 2161 797 2201 797 2201 797 2187.3 797 2175.2 800.1 2163.7 809.3 2161.9 813.2 2159.8 821.2 2151.4 846.8 2149.1 851.2 2146.9 854.6 2144.6 857.4 2142.4 859.8 2137.9 863.6 2123.1 873.9 2118.5 876.4 2114 877.9 2099.1 881.2 2097 881.4 2084 881Z"/>
</g>
<path class="g" d="M2098.5 797V881M2113.5 797V881M2157.5 797V881M2186.5 797V881"/>
<path class="g" d="M2078 860.5H2206.1M2078 839.5H2206.1M2078 818.5H2206.1"/>
<path class="v" d="M2083.8 797V881M2142.3 797V881M2200.8 797V881" stroke="#ff0000"/>
<path class="k" clip-path="url(#c5_10)" d="M2084 881 2111.2 875.8 2117.4 873.8 2121.6 871.5 2136.2 861.4 2140.4 857.8 2142.5 855.6 2144.6 853 2146.7 849.8 2148.8 845.8 2157.1 820.4 2159.2 812.4 2161.3 807.8 2167.6 802.5 2171.8 799.4 2173.8 797.6 2175.9 797 2201 797"/>
<path class="m" d="M2098.5 881V891.8M2113.5 881V891.8M2127.5 881V891.8M2157.5 881V891.8M2171.5 881V891.8M2186.5 881V891.8M2078 860.5H2067.2M2078 839.5H2067.2M2078 818.5H2067.2"/>
<path class="t" d="M2084 881V899.5M2142.5 881V899.5M2201 881V899.5M2078 881H2059.5M2078 797H2059.5" stroke="#ff0000"/>
<rect class="s" x="2078" y="797.4" width="128.1" height="84" stroke="#ff0000"/>
</g>
<g>
<g clip-path="url(#c6_0)">
<path class="b" d="M290 998.9 301.5 992.1 306.8 988 311.7 982.9 315.1 979.7 318.9 975.1 322.8 969.4 326.7 962.2 330.7 953.2 334.8 942.2 341.1 923.6 343.3 918.3 346.1 912 351.4 909.4 407 914.9 407 914.9 351.6 910.6 347 912.7 342.2 924.1 333.9 948.3 329.8 958.5 325.8 966.6 321.8 973.1 317.9 978.3 314.2 982.3 308.5 986.4 301.5 992.1 290 998.9Z"/>
<path class="b" d="M290 998.9 303.6 997 308.4 995.8 310.6 994.7 315.1 991.9 319.6 988.3 321.9 986.1 326.4 980.7 330.8 974.3 335.1 966.3 337.3 961.8 341.5 951.1 349.9 927 353.5 917.7 353.5 914.9 407 914.9 407 914.9 355.8 914.9 351 927.4 342.7 951.5 338.4 962.3 336.2 966.8 331.8 974.9 327.4 981.4 322.8 986.9 320.4 989.2 315.8 992.9 313.3 994.1 310.8 995 303.6 997 290 998.9Z"/>
<path class="o" d="M290 998.9 301.5 992.1 308.5 986.4 314.2 982.3 317.9 978.3 321.8 973.1 325.8 966.6 329.8 958.5 333.9 948.3 342.2 924.1 347 912.7 351.6 910.6 407 914.9 407 914.9 352 911.9 348.1 913.6 343.5 924.6 337.2 943 333.1 954.1 329 963.3 325 970.8 321 976.6 317 981.4 313.2 984.9 309.2 987.6 303.3 990.8 301.5 992.1 290 998.9Z"/>
<path class="o" d="M290 998.9 301.2 997.4 303.5 996.8 310 993.6 314.4 990.9 318.8 987.4 321.1 985.2 325.4 980 329.7 973.7 334 965.8 336.2 961.3 340.4 950.7 348.7 926.5 352.6 917 353.3 917.4 353.3 914.9 407 914.9 407 914.9 353.5 914.9 353.5 917.7 349.9 927 341.5 951.1 337.3 961.8 335.1 966.3 330.8 974.3 326.4 980.7 321.9 986.1 319.6 988.3 315.1 991.9 310.6 994.7 308.4 995.8 303.6 997 290 998.9Z"/>
<path class="l" d="M290 998.9 301.5 992.1 303.3 990.8 309.2 987.6 313.2 984.9 317 981.4 321 976.6 325 970.8 329 963.3 333.1 954.1 337.2 943 343.5 924.6 348.1 913.6 352 911.9 407 914.9 407 914.9 353.3 914.9 353.3 917.4 352.6 917 348.7 926.5 340.4 950.7 336.2 961.3 334 965.8 329.7 973.7 325.4 980 321.1 985.2 318.8 987.4 314.4 990.9 310 993.6 303.5 996.8 301.2 997.4 290 998.9Z"/>
</g>
<path class="g" d="M304.5 914.9V998.9M333.5 914.9V998.9M377.5 914.9V998.9M392.5 914.9V998.9"/>
<path class="v" d="M289.8 914.9V998.9M348.3 914.9V998.9M406.8 914.9V998.9" stroke="#ff0000"/>
<path class="k" clip-path="url(#c6_0)" d="M290 998.9 302.5 994.5 308.8 991.5 313 988.8 317.2 985.6 321.3 981.2 325.5 975.6 329.7 968.7 333.9 960.3 338.1 949.8 346.4 925.7 350.6 915.4 352.7 914.9 407 914.9"/>
<path class="m" d="M304.5 998.9V1009.7M319.5 998.9V1009.7M333.5 998.9V1009.7M363.5 998.9V1009.7M377.5 998.9V1009.7M392.5 998.9V1009.7M284 977.5H273.2M284 956.5H273.2M284 935.5H273.2"/>
<path class="t" d="M290 998.9V1017.4M348.5 998.9V1017.4M407 998.9V1017.4M284 998.9H265.5M284 914.9H265.5" stroke="#ff0000"/>
<rect class="s" x="284" y="915.3" width="128.1" height="84" stroke="#ff0000"/>
</g>
<g>
<g clip-path="url(#c6_1)">
<path class="b" d="M469.4 998.9 482.9 991.4 490.3 986.5 494 984.4 497.7 981.5 501.6 977.8 503.4 975.7 505.3 973.3 509.2 966.7 513.3 958.8 527.8 924.2 529.9 918.2 532 913.2 586.4 914.9 586.4 914.9 533.1 913.7 531 918.7 528.9 924.6 514.4 959.3 510.3 967.3 506.3 974 504.4 976.5 502.4 978.7 498.5 982.4 494.7 985.4 490.8 987.6 484.9 990.3 469.4 998.9Z"/>
<path class="b" d="M469.4 998.9 481.6 994.8 495.9 992.3 499.6 991.1 503.4 988.9 511.6 982.8 521.8 972.9 525.9 968.4 529.8 963.1 538.1 947.8 540.4 944.3 542.8 941.5 545.4 939.6 547.9 938.5 575.2 931.9 579.1 930.5 580.8 929.7 584.8 926.6 583.8 954.5 581.8 962.2 579.7 968.2 577.7 973.1 575.8 976.5 574 978.7 572.1 980.6 570.2 982.2 564.2 986 558.2 988.9 548.1 992.5 544.3 993.3 492.3 994.2 481.7 995.1 469.4 998.9Z"/>
<path class="o" d="M469.4 998.9 484.9 990.3 490.8 987.6 494.7 985.4 498.5 982.4 502.4 978.7 504.4 976.5 506.3 974 510.3 967.3 514.4 959.3 528.9 924.6 531 918.7 533.1 913.7 586.4 914.9 586.4 914.9 534.1 914.1 532 919.1 529.9 925 515.3 959.8 511.2 967.8 507.2 974.6 505.2 977.2 503.2 979.4 499.2 983.2 495.3 986.2 489.3 989.5 479.2 993.7 469.4 998.9Z"/>
<path class="o" d="M469.4 998.9 485.1 997.1 492.2 995.7 494.5 994.7 499.1 992 503.7 988.5 508.3 984.2 510.6 981.6 512.9 978.5 517.3 971.1 521.6 962.7 536.4 927.4 538.5 921.6 541.3 914.9 586.4 914.9 584.8 926.6 580.8 929.7 579.1 930.5 575.2 931.9 547.9 938.5 545.4 939.6 542.8 941.5 540.4 944.3 538.1 947.8 529.8 963.1 525.9 968.4 521.8 972.9 511.6 982.8 503.4 988.9 499.6 991.1 495.9 992.3 481.6 994.8 469.4 998.9Z"/>
<path class="l" d="M469.4 998.9 479.2 993.7 489.3 989.5 495.3 986.2 499.2 983.2 503.2 979.4 505.2 977.2 507.2 974.6 511.2 967.8 515.3 959.8 529.9 925 532 919.1 534.1 914.1 586.4 914.9 586.4 914.9 541.3 914.9 538.5 921.6 536.4 927.4 521.6 962.7 517.3 971.1 512.9 978.5 510.6 981.6 508.3 984.2 503.7 988.5 499.1 992 494.5 994.7 492.2 995.7 485.1 997.1 469.4 998.9Z"/>
</g>
<path class="g" d="M498.5 914.9V998.9M542.5 914.9V998.9M571.5 914.9V998.9"/>
<path class="v" d="M469.1 914.9V998.9M527.7 914.9V998.9M586.2 914.9V998.9" stroke="#ff0000"/>
<path class="k" clip-path="url(#c6_1)" d="M469.4 998.9 484 994.3 492.4 990.6 496.6 988.2 500.7 985 504.9 981 507 978.7 509.1 975.9 513.3 968.9 517.5 960.8 532.1 925.8 534.2 919.9 536.3 915.1 586.4 914.9"/>
<path class="m" d="M484.5 998.9V1009.7M498.5 998.9V1009.7M513.5 998.9V1009.7M542.5 998.9V1009.7M557.5 998.9V1009.7M571.5 998.9V1009.7M463.4 977.5H452.6M463.4 956.5H452.6M463.4 935.5H452.6"/>
<path class="t" d="M469.4 998.9V1017.4M527.9 998.9V1017.4M586.4 998.9V1017.4M463.4 998.9H444.9M463.4 914.9H444.9" stroke="#ff0000"/>
<rect class="s" x="463.4" y="915.3" width="128.1" height="84" stroke="#ff0000"/>
</g>
<g>
<g clip-path="url(#c6_2)">
<path class="b" d="M648.8 998.9 671.7 985.3 673.3 984.4 676.7 981.8 688.9 970.3 692.6 965.7 696.5 959.4 700.4 951.6 702.4 946.8 704.4 941 712.7 913.5 765.8 914.9 765.8 914.9 713.9 913.9 705.6 941.4 703.6 947.2 701.5 952 697.5 960 693.6 966.4 689.8 971.1 677.5 982.8 673.9 985.5 672.2 986.4 666.4 988.5 648.8 998.9Z"/>
<path class="b" d="M648.8 998.9 673.6 995.4 676.1 994.7 678.7 993.4 681.2 991.7 696.5 977.4 698.8 974.8 701.1 971.7 705.6 964.5 707.8 960.4 710 955.8 712.2 950.5 714.4 944.2 723.2 914.9 765.8 914.9 765.8 914.9 724.8 914.9 715.8 944.7 713.6 951 711.4 956.4 709.1 961.1 706.9 965.2 702.4 972.6 700 975.7 697.6 978.4 684.6 990.8 681.9 992.5 678.9 993.9 676.1 994.8 673.6 995.4 648.8 998.9Z"/>
<path class="o" d="M648.8 998.9 666.4 988.5 672.2 986.4 673.9 985.5 677.5 982.8 689.8 971.1 693.6 966.4 697.5 960 701.5 952 703.6 947.2 705.6 941.4 713.9 913.9 765.8 914.9 765.8 914.9 715.1 914.2 706.7 941.8 704.7 947.6 702.7 952.5 698.6 960.6 694.6 967.1 690.6 971.9 678.3 983.7 674.6 986.5 672.7 987.5 660.5 992 648.8 998.9Z"/>
<path class="o" d="M648.8 998.9 666.7 996.4 673.2 994.3 677.9 992.1 680.3 990.4 695.4 976.4 697.6 973.8 699.9 970.8 704.3 963.8 708.6 955.2 710.8 949.9 712.9 943.8 721.6 914.9 765.8 914.9 765.8 914.9 723.2 914.9 714.4 944.2 712.2 950.5 710 955.8 707.8 960.4 705.6 964.5 701.1 971.7 698.8 974.8 696.5 977.4 681.2 991.7 678.7 993.4 676.1 994.7 673.6 995.4 648.8 998.9Z"/>
<path class="l" d="M648.8 998.9 660.5 992 672.7 987.5 674.6 986.5 678.3 983.7 690.6 971.9 694.6 967.1 698.6 960.6 702.7 952.5 704.7 947.6 706.7 941.8 715.1 914.2 765.8 914.9 765.8 914.9 721.6 914.9 712.9 943.8 710.8 949.9 708.6 955.2 704.3 963.8 699.9 970.8 697.6 973.8 695.4 976.4 680.3 990.4 677.9 992.1 673.2 994.3 666.7 996.4 648.8 998.9Z"/>
</g>
<path class="g" d="M663.5 914.9V998.9M692.5 914.9V998.9M721.5 914.9V998.9M736.5 914.9V998.9"/>
<path class="v" d="M648.5 914.9V998.9M707.1 914.9V998.9M765.6 914.9V998.9" stroke="#ff0000"/>
<path class="k" clip-path="url(#c6_2)" d="M648.8 998.9 671.8 990.9 676 988.9 678.1 987.5 692.7 973.8 694.8 971.5 696.9 968.7 701 962 705.2 953.7 707.3 948.6 709.4 942.6 717.7 915 765.8 914.9"/>
<path class="m" d="M663.5 998.9V1009.7M678.5 998.9V1009.7M692.5 998.9V1009.7M721.5 998.9V1009.7M736.5 998.9V1009.7M751.5 998.9V1009.7M642.8 977.5H632M642.8 956.5H632M642.8 935.5H632"/>
<path class="t" d="M648.8 998.9V1017.4M707.3 998.9V1017.4M765.8 998.9V1017.4M642.8 998.9H624.3M642.8 914.9H624.3" stroke="#ff0000"/>
<rect class="s" x="642.8" y="915.3" width="128.1" height="84" stroke="#ff0000"/>
</g>
<g>
<g clip-path="url(#c6_3)">
<path class="b" d="M828.2 998.9 839.6 996.3 841.9 995.7 848.5 992 853 988.6 857.4 984.2 859.6 981.6 861.8 978.5 864 974.6 866.2 970.1 868.3 965 870.5 958.5 876.7 937 878.8 931 880.9 925.7 882.9 918.2 886.5 914.9 945.2 914.9 945.2 914.9 891.7 914.9 889.2 920.8 880.9 948.5 876.6 959.9 872.4 968.8 868 976.3 865.8 979.4 863.6 981.9 859.2 986.1 854.8 989.5 848.3 993.5 841.8 996.5 828.2 998.9Z"/>
<path class="b" d="M828.2 998.9 840.5 994.6 861.1 991.3 869.1 989.2 870.9 988.5 872.6 987.4 876.4 983.9 884.5 973.9 888.6 967.2 892.6 958.8 896.8 948.2 898.8 942 900.9 934.9 905.1 918.7 907.3 913.9 945.2 914.9 945.2 914.9 909.7 913.3 907.3 916.4 905.1 923.1 903 932.1 898.8 946 894.7 957.1 890.6 965.8 886.6 972.8 884.6 975.6 876.5 985 872.7 988.2 871 989.3 869.2 989.9 861.1 991.8 840.5 994.8 828.2 998.9Z"/>
<path class="o" d="M828.2 998.9 841.8 996.5 848.3 993.5 854.8 989.5 859.2 986.1 863.6 981.9 865.8 979.4 868 976.3 872.4 968.8 876.6 959.9 880.9 948.5 889.2 920.8 891.7 914.9 945.2 914.9 945.2 914.9 898.1 912.4 894.7 914.5 892.4 921.4 890.3 928.7 886.2 939.8 882 952.4 877.9 962.4 875.9 966.3 871.9 972.5 868 977.3 862 982.7 858.1 985.4 854.3 987.4 839.9 992.4 828.2 998.9Z"/>
<path class="o" d="M828.2 998.9 840.4 994.4 861 990.8 869 988.5 870.8 987.7 872.5 986.5 876.4 982.6 882.5 974.8 884.5 971.8 888.5 964.6 892.6 955.7 896.7 944.4 900.9 930.1 903 921.3 905.3 914.5 908.7 912.5 945.2 914.9 945.2 914.9 907.3 913.9 905.1 918.7 900.9 934.9 898.8 942 896.8 948.2 892.6 958.8 888.6 967.2 884.5 973.9 876.4 983.9 872.6 987.4 870.9 988.5 869.1 989.2 861.1 991.3 840.5 994.6 828.2 998.9Z"/>
<path class="l" d="M828.2 998.9 839.9 992.4 854.3 987.4 858.1 985.4 862 982.7 868 977.3 871.9 972.5 875.9 966.3 877.9 962.4 882 952.4 886.2 939.8 890.3 928.7 892.4 921.4 894.7 914.5 898.1 912.4 945.2 914.9 945.2 914.9 908.7 912.5 905.3 914.5 903 921.3 900.9 930.1 896.7 944.4 892.6 955.7 888.5 964.6 884.5 971.8 882.5 974.8 876.4 982.6 872.5 986.5 870.8 987.7 869 988.5 861 990.8 840.4 994.4 828.2 998.9Z"/>
</g>
<path class="g" d="M842.5 914.9V998.9M857.5 914.9V998.9M915.5 914.9V998.9"/>
<path class="v" d="M828 914.9V998.9M886.5 914.9V998.9M945 914.9V998.9" stroke="#ff0000"/>
<path class="k" clip-path="url(#c6_3)" d="M828.2 998.9 853.3 990.8 857.5 989 861.6 986.4 865.8 983.1 870 979.2 874.2 974.1 878.3 967.7 880.4 963.5 884.6 953.3 888.8 940.7 893 929.6 895.1 922.2 897.1 915.9 899.2 914.9 945.2 914.9"/>
<path class="m" d="M842.5 998.9V1009.7M857.5 998.9V1009.7M872.5 998.9V1009.7M901.5 998.9V1009.7M915.5 998.9V1009.7M930.5 998.9V1009.7M822.2 977.5H811.4M822.2 956.5H811.4M822.2 935.5H811.4"/>
<path class="t" d="M828.2 998.9V1017.4M886.7 998.9V1017.4M945.2 998.9V1017.4M822.2 998.9H803.7M822.2 914.9H803.7" stroke="#ff0000"/>
<rect class="s" x="822.2" y="915.3" width="128.1" height="84" stroke="#ff0000"/>
</g>
<g>
<g clip-path="url(#c6_4)">
<path class="b" d="M1007.6 998.9 1031.3 987.7 1037 985.8 1040.3 984.1 1043.8 981.3 1047.7 977.7 1051.4 973.1 1059.5 960.9 1061.3 957.3 1063.2 952.4 1069.5 931.9 1071.6 925.4 1073.8 919.9 1076.2 914.6 1078.9 911.5 1124.6 914.9 1124.6 914.9 1079.8 912.3 1077.3 915.2 1074.9 920.4 1072.8 925.8 1070.6 932.3 1064.4 952.8 1062.4 957.8 1060.5 961.5 1058.5 964.7 1052.4 973.8 1048.6 978.5 1042.7 983.9 1039.2 986.1 1035.6 987.6 1025.4 990.5 1007.6 998.9Z"/>
<path class="b" d="M1007.6 998.9 1019.8 994.7 1042.5 990.9 1048.5 989.3 1052.3 987.6 1056.2 985 1060 981.8 1061.9 979.7 1063.8 976.7 1067.9 969.3 1069.9 965 1074 954.3 1078.2 940.5 1082.5 928.3 1084.7 923.9 1088.9 918.1 1090.9 913.9 1124.6 914.9 1124.6 914.9 1098.8 912.4 1095 914.4 1092.8 923.3 1090.7 933.1 1080.3 965.1 1078.4 969.4 1076.5 972.1 1074.6 974.3 1068.6 979.8 1062.6 984.1 1052.5 989.5 1048.7 990.9 1044.7 991.7 1019.9 995 1007.6 998.9Z"/>
<path class="o" d="M1007.6 998.9 1025.4 990.5 1035.6 987.6 1039.2 986.1 1042.7 983.9 1048.6 978.5 1052.4 973.8 1058.5 964.7 1060.5 961.5 1062.4 957.8 1064.4 952.8 1070.6 932.3 1072.8 925.8 1074.9 920.4 1077.3 915.2 1079.8 912.3 1124.6 914.9 1124.6 914.9 1080.7 913.1 1078.3 915.9 1076.1 920.8 1073.9 926.2 1071.8 932.6 1065.5 953.1 1063.5 958.3 1061.6 962.1 1059.6 965.4 1053.4 974.5 1049.4 979.4 1043.5 984.8 1039.8 987.2 1035.9 988.7 1019.5 993.4 1007.6 998.9Z"/>
<path class="o" d="M1007.6 998.9 1020.8 998.4 1035.6 994.7 1040 993.2 1042.3 992.2 1044.6 990.9 1049.1 987.4 1053.5 983.2 1057.9 977.8 1064.3 968.4 1066.4 964.8 1068.7 960.6 1070.8 954.9 1079.2 928.1 1083.1 918.7 1086.7 914.9 1124.6 914.9 1124.6 914.9 1090.9 913.9 1088.9 918.1 1084.7 923.9 1082.5 928.3 1078.2 940.5 1074 954.3 1069.9 965 1067.9 969.3 1063.8 976.7 1061.9 979.7 1060 981.8 1056.2 985 1052.3 987.6 1048.5 989.3 1042.5 990.9 1019.8 994.7 1007.6 998.9Z"/>
<path class="l" d="M1007.6 998.9 1019.5 993.4 1035.9 988.7 1039.8 987.2 1043.5 984.8 1049.4 979.4 1053.4 974.5 1059.6 965.4 1061.6 962.1 1063.5 958.3 1065.5 953.1 1071.8 932.6 1073.9 926.2 1076.1 920.8 1078.3 915.9 1080.7 913.1 1124.6 914.9 1124.6 914.9 1086.7 914.9 1083.1 918.7 1079.2 928.1 1070.8 954.9 1068.7 960.6 1066.4 964.8 1064.3 968.4 1057.9 977.8 1053.5 983.2 1049.1 987.4 1044.6 990.9 1042.3 992.2 1040 993.2 1035.6 994.7 1020.8 998.4 1007.6 998.9Z"/>
</g>
<path class="g" d="M1036.5 914.9V998.9M1051.5 914.9V998.9M1080.5 914.9V998.9M1095.5 914.9V998.9M1109.5 914.9V998.9"/>
<path class="v" d="M1007.4 914.9V998.9M1065.9 914.9V998.9M1124.4 914.9V998.9" stroke="#ff0000"/>
<path class="k" clip-path="url(#c6_4)" d="M1007.6 998.9 1034.8 992.1 1041 989.7 1043.1 988.5 1047.3 985.3 1051.5 981.3 1055.7 976.2 1061.9 966.9 1064 963.4 1066.1 959.4 1068.2 954 1076.5 927.2 1078.6 921.9 1080.7 917.3 1082.8 914.9 1124.6 914.9"/>
<path class="m" d="M1022.5 998.9V1009.7M1036.5 998.9V1009.7M1051.5 998.9V1009.7M1080.5 998.9V1009.7M1095.5 998.9V1009.7M1109.5 998.9V1009.7M1001.6 977.5H990.8M1001.6 956.5H990.8M1001.6 935.5H990.8"/>
<path class="t" d="M1007.6 998.9V1017.4M1066.1 998.9V1017.4M1124.6 998.9V1017.4M1001.6 998.9H983.1M1001.6 914.9H983.1" stroke="#ff0000"/>
<rect class="s" x="1001.6" y="915.3" width="128.1" height="84" stroke="#ff0000"/>
</g>
<g>
<g clip-path="url(#c6_5)">
<path class="b" d="M1187 998.9 1200.5 996.6 1209.1 992.7 1213.5 990.1 1218 986.7 1222.4 982.3 1224.7 979.4 1227 975.5 1231.2 966.3 1237.5 953.8 1239.6 948.3 1241.8 941.7 1246 925.5 1247.9 917 1248.8 917.3 1248.8 914.9 1304 914.9 1304 914.9 1250.2 914.9 1250.2 917.6 1249.9 916.5 1243.9 940.6 1241.7 947.4 1239.6 953.2 1237.4 957.9 1233.3 965.8 1229.1 975.1 1226.8 979.3 1224.5 982.3 1220 986.5 1215.6 989.7 1209.1 993.4 1200.4 997 1187 998.9Z"/>
<path class="b" d="M1187 998.9 1209.2 997.8 1211.5 997.5 1216 996 1220.6 994 1225.2 991.4 1229.7 988.1 1232.1 986.2 1234.5 983.7 1245.3 969.9 1247.6 966.5 1249.8 962.7 1252.1 958.1 1256.4 947.6 1262.7 929.8 1267.4 914.9 1304 914.9 1304 914.9 1274.3 914.4 1272.2 921.2 1270.1 929.9 1268.1 936.3 1263.9 946.7 1259.8 959.2 1257.8 963.4 1255.8 967.1 1251.8 972.8 1247.8 977.4 1243.8 981.1 1233.7 989.1 1230 990.9 1224.1 992.2 1199.3 995.2 1187 998.9Z"/>
<path class="o" d="M1187 998.9 1200.4 997 1209.1 993.4 1215.6 989.7 1220 986.5 1224.5 982.3 1226.8 979.3 1229.1 975.1 1233.3 965.8 1237.4 957.9 1239.6 953.2 1241.7 947.4 1243.9 940.6 1249.9 916.5 1250.2 917.6 1250.2 914.9 1304 914.9 1304 914.9 1252.5 914.9 1250.1 922 1246 939.3 1243.8 946.3 1241.7 952.4 1239.5 957.4 1235.3 965.5 1229 979.1 1226.6 982.3 1224.3 984.6 1219.9 988.2 1215.4 990.9 1209 994.1 1200.4 997.3 1187 998.9Z"/>
<path class="o" d="M1187 998.9 1202.4 998.4 1213.1 995.2 1219.7 992.4 1224.2 989.8 1228.6 986.7 1230.9 984.8 1233.2 982.5 1243.9 968.8 1248.2 961.9 1250.4 957.3 1256.8 941.3 1261 929.2 1265.5 914.9 1304 914.9 1304 914.9 1267.4 914.9 1262.7 929.8 1256.4 947.6 1252.1 958.1 1249.8 962.7 1247.6 966.5 1245.3 969.9 1234.5 983.7 1232.1 986.2 1229.7 988.1 1225.2 991.4 1220.6 994 1216 996 1211.5 997.5 1209.2 997.8 1187 998.9Z"/>
<path class="l" d="M1187 998.9 1200.4 997.3 1209 994.1 1215.4 990.9 1219.9 988.2 1224.3 984.6 1226.6 982.3 1229 979.1 1235.3 965.5 1239.5 957.4 1241.7 952.4 1243.8 946.3 1246 939.3 1250.1 922 1252.5 914.9 1304 914.9 1304 914.9 1265.5 914.9 1261 929.2 1256.8 941.3 1250.4 957.3 1248.2 961.9 1243.9 968.8 1233.2 982.5 1230.9 984.8 1228.6 986.7 1224.2 989.8 1219.7 992.4 1213.1 995.2 1202.4 998.4 1187 998.9Z"/>
</g>
<path class="g" d="M1201.5 914.9V998.9M1230.5 914.9V998.9M1260.5 914.9V998.9M1289.5 914.9V998.9"/>
<path class="v" d="M1186.8 914.9V998.9M1245.3 914.9V998.9M1303.8 914.9V998.9" stroke="#ff0000"/>
<path class="k" clip-path="url(#c6_5)" d="M1187 998.9 1207.9 993.7 1216.3 990.6 1222.5 987.2 1226.7 984.3 1228.8 982.5 1233 978 1241.3 967 1245.5 960.4 1247.6 956.1 1253.9 940.2 1258 928.3 1262.2 914.9 1304 914.9"/>
<path class="m" d="M1201.5 998.9V1009.7M1216.5 998.9V1009.7M1230.5 998.9V1009.7M1260.5 998.9V1009.7M1274.5 998.9V1009.7M1289.5 998.9V1009.7M1181 977.5H1170.2M1181 956.5H1170.2M1181 935.5H1170.2"/>
<path class="t" d="M1187 998.9V1017.4M1245.5 998.9V1017.4M1304 998.9V1017.4M1181 998.9H1162.5M1181 914.9H1162.5" stroke="#ff0000"/>
<rect class="s" x="1181" y="915.3" width="128.1" height="84" stroke="#ff0000"/>
</g>
<g>
<g clip-path="url(#c6_6)">
<path class="b" d="M1366.4 998.9 1379.7 997.3 1390.5 993.6 1397 990.3 1399.3 988.9 1401.6 987.1 1404 984.6 1406.2 981.6 1408.4 978 1410.7 973.6 1421.1 942.2 1423.2 936.8 1425.2 932.8 1427.3 928.9 1429.5 922.9 1431.9 914.9 1483.4 914.9 1483.4 914.9 1436.2 914.9 1433.7 920.7 1431.6 928.2 1429.4 932.9 1425.3 943.2 1421.2 955.4 1414.8 973.2 1412.6 977.4 1410.3 980.6 1408.1 983.2 1405.9 985.5 1403.6 987.5 1401.3 989.1 1396.8 991.6 1390.3 994.3 1379.7 997.7 1366.4 998.9Z"/>
<path class="b" d="M1366.4 998.9 1378.7 994.9 1401.4 991.7 1409.5 989.8 1411.2 989.2 1412.9 988.1 1416.8 984.6 1429.3 972.3 1433.3 967.7 1435.2 964.9 1439.3 957.8 1441.3 953.6 1447.6 938.1 1451.8 929.3 1456.1 921.9 1460.5 915.9 1462.6 913.4 1483.4 914.9 1483.4 914.9 1466.9 913.1 1464.6 915.5 1460.4 921.2 1458.2 924.4 1456 928.5 1453.8 933.1 1449.6 944.2 1445.4 957.1 1443.4 961.8 1441.4 965.7 1439.4 969.1 1437.4 971.9 1435.5 974.2 1431.6 977.7 1415.1 989.5 1411.5 991.5 1405.7 992.7 1378.8 995.4 1366.4 998.9Z"/>
<path class="o" d="M1366.4 998.9 1379.7 997.7 1390.3 994.3 1396.8 991.6 1401.3 989.1 1403.6 987.5 1405.9 985.5 1408.1 983.2 1410.3 980.6 1412.6 977.4 1414.8 973.2 1421.2 955.4 1425.3 943.2 1429.4 932.9 1431.6 928.2 1433.7 920.7 1436.2 914.9 1483.4 914.9 1483.4 914.9 1440.2 914.9 1437.9 922.7 1435.7 928.8 1433.5 932.5 1431.6 936.7 1425.3 956.8 1423.2 962.5 1418.9 972 1416.7 975.8 1412.3 981.4 1407.9 985.9 1403.4 989.4 1398.9 992 1392.4 994.6 1379.6 998.2 1366.4 998.9Z"/>
<path class="o" d="M1366.4 998.9 1384 997.9 1396.6 994.9 1401.1 993.4 1405.7 991.1 1410.2 988.1 1412.6 986.2 1414.9 983.8 1421.4 975.4 1425.7 968.9 1430.1 961 1432.2 956.2 1434.4 950.7 1438.5 937.5 1440.5 932.6 1442.5 928.5 1446.6 921.6 1448.4 918.2 1464.7 914.9 1483.4 914.9 1483.4 914.9 1462.6 913.4 1460.5 915.9 1456.1 921.9 1451.8 929.3 1447.6 938.1 1441.3 953.6 1439.3 957.8 1435.2 964.9 1433.3 967.7 1429.3 972.3 1416.8 984.6 1412.9 988.1 1411.2 989.2 1409.5 989.8 1401.4 991.7 1378.7 994.9 1366.4 998.9Z"/>
<path class="l" d="M1366.4 998.9 1379.6 998.2 1392.4 994.6 1398.9 992 1403.4 989.4 1407.9 985.9 1412.3 981.4 1416.7 975.8 1418.9 972 1423.2 962.5 1425.3 956.8 1431.6 936.7 1433.5 932.5 1435.7 928.8 1437.9 922.7 1440.2 914.9 1483.4 914.9 1483.4 914.9 1464.7 914.9 1448.4 918.2 1446.6 921.6 1442.5 928.5 1440.5 932.6 1438.5 937.5 1434.4 950.7 1432.2 956.2 1430.1 961 1425.7 968.9 1421.4 975.4 1414.9 983.8 1412.6 986.2 1410.2 988.1 1405.7 991.1 1401.1 993.4 1396.6 994.9 1384 997.9 1366.4 998.9Z"/>
</g>
<path class="g" d="M1381.5 914.9V998.9M1395.5 914.9V998.9M1410.5 914.9V998.9M1439.5 914.9V998.9M1454.5 914.9V998.9"/>
<path class="v" d="M1366.2 914.9V998.9M1424.7 914.9V998.9M1483.2 914.9V998.9" stroke="#ff0000"/>
<path class="k" clip-path="url(#c6_6)" d="M1366.4 998.9 1397.8 991 1401.9 989.3 1406.1 986.8 1410.3 983.7 1412.4 981.5 1418.6 973.5 1422.8 967.2 1427 959.5 1429.1 954.9 1431.2 949.6 1435.3 936.4 1437.4 931.3 1439.5 926.9 1443.7 919.9 1445.8 916 1447.9 914.9 1483.4 914.9"/>
<path class="m" d="M1381.5 998.9V1009.7M1395.5 998.9V1009.7M1410.5 998.9V1009.7M1439.5 998.9V1009.7M1454.5 998.9V1009.7M1468.5 998.9V1009.7M1360.4 977.5H1349.6M1360.4 956.5H1349.6M1360.4 935.5H1349.6"/>
<path class="t" d="M1366.4 998.9V1017.4M1424.9 998.9V1017.4M1483.4 998.9V1017.4M1360.4 998.9H1341.9M1360.4 914.9H1341.9" stroke="#ff0000"/>
<rect class="s" x="1360.4" y="915.3" width="128.1" height="84" stroke="#ff0000"/>
</g>
<g>
<g clip-path="url(#c6_7)">
<path class="b" d="M1545.8 998.9 1567.6 988.6 1573 986.6 1576.5 984.5 1584.3 978.2 1590.2 972.3 1594.1 967.5 1598 961.8 1602 954.5 1606 945.3 1608 939.8 1610 932.6 1612.1 923.9 1614.4 915.3 1617.4 911.6 1662.8 914.9 1662.8 914.9 1618.3 912.4 1615.5 915.8 1611.2 932.9 1609.1 940.2 1607.1 945.7 1603.1 955 1599.1 962.4 1595.1 968.3 1591.1 973.1 1585.1 979.1 1575.3 986.7 1571.7 988.4 1563.8 990.6 1561.7 991.4 1545.8 998.9Z"/>
<path class="b" d="M1545.8 998.9 1561.2 998.2 1571.8 995.5 1576.4 993.8 1581 991.1 1589.7 984.2 1594 980 1598.3 975.1 1602.7 969.3 1607 962.2 1611.3 953.3 1613.5 948.2 1615.6 942.2 1617.7 934.6 1621.8 918.4 1625.7 914.9 1662.8 914.9 1662.8 914.9 1627.7 914.9 1622.8 918.8 1618.8 934.9 1616.6 942.5 1614.4 948.6 1612.3 953.7 1608 962.7 1603.6 969.9 1599.2 975.8 1594.8 980.7 1590.4 985 1581.6 991.9 1576.9 994.8 1574.4 995.8 1567.7 997.8 1565.5 998 1545.8 998.9Z"/>
<path class="o" d="M1545.8 998.9 1561.7 991.4 1563.8 990.6 1571.7 988.4 1575.3 986.7 1585.1 979.1 1591.1 973.1 1595.1 968.3 1599.1 962.4 1603.1 955 1607.1 945.7 1609.1 940.2 1611.2 932.9 1615.5 915.8 1618.3 912.4 1662.8 914.9 1662.8 914.9 1619.2 913.3 1616.6 916.3 1612.3 933.2 1610.3 940.5 1608.2 946.2 1604.1 955.5 1600.1 963 1596 969 1592 973.9 1585.9 980 1577.8 986.5 1574 988.8 1570.1 990.2 1557.7 993.4 1545.8 998.9Z"/>
<path class="o" d="M1545.8 998.9 1556.8 998.4 1571.6 994.7 1576 993 1580.5 990.3 1589 983.5 1593.4 979.4 1597.6 974.5 1601.9 968.8 1606.2 961.8 1610.5 953 1612.6 947.9 1614.7 942 1616.9 934.4 1620.9 918 1624.2 914.9 1662.8 914.9 1662.8 914.9 1625.7 914.9 1621.8 918.4 1617.7 934.6 1615.6 942.2 1613.5 948.2 1611.3 953.3 1607 962.2 1602.7 969.3 1598.3 975.1 1594 980 1589.7 984.2 1581 991.1 1576.4 993.8 1571.8 995.5 1561.2 998.2 1545.8 998.9Z"/>
<path class="l" d="M1545.8 998.9 1557.7 993.4 1570.1 990.2 1574 988.8 1577.8 986.5 1585.9 980 1592 973.9 1596 969 1600.1 963 1604.1 955.5 1608.2 946.2 1610.3 940.5 1612.3 933.2 1616.6 916.3 1619.2 913.3 1662.8 914.9 1662.8 914.9 1624.2 914.9 1620.9 918 1616.9 934.4 1614.7 942 1612.6 947.9 1610.5 953 1606.2 961.8 1601.9 968.8 1597.6 974.5 1593.4 979.4 1589 983.5 1580.5 990.3 1576 993 1571.6 994.7 1556.8 998.4 1545.8 998.9Z"/>
</g>
<path class="g" d="M1575.5 914.9V998.9M1633.5 914.9V998.9M1648.5 914.9V998.9"/>
<path class="v" d="M1545.5 914.9V998.9M1604.1 914.9V998.9M1662.6 914.9V998.9" stroke="#ff0000"/>
<path class="k" clip-path="url(#c6_7)" d="M1545.8 998.9 1570.9 992.6 1575.1 991 1579.2 988.5 1587.6 981.9 1593.9 975.6 1598 970.5 1602.2 964.3 1606.4 956.6 1610.6 947.1 1612.7 941.3 1614.7 933.8 1618.9 917.2 1621 914.9 1662.8 914.9"/>
<path class="m" d="M1560.5 998.9V1009.7M1575.5 998.9V1009.7M1589.5 998.9V1009.7M1618.5 998.9V1009.7M1633.5 998.9V1009.7M1648.5 998.9V1009.7M1539.8 977.5H1529M1539.8 956.5H1529M1539.8 935.5H1529"/>
<path class="t" d="M1545.8 998.9V1017.4M1604.3 998.9V1017.4M1662.8 998.9V1017.4M1539.8 998.9H1521.3M1539.8 914.9H1521.3" stroke="#ff0000"/>
<rect class="s" x="1539.8" y="915.3" width="128.1" height="84" stroke="#ff0000"/>
</g>
<g>
<g clip-path="url(#c6_8)">
<path class="b" d="M1725.2 998.9 1741 991.8 1746.7 988.8 1754.5 985.6 1758 983.5 1765.9 976.6 1771.8 970.4 1775.8 965.3 1777.7 962.6 1779.5 959.3 1781.4 953.9 1785.6 938.4 1788.2 933.3 1790.9 930.4 1793.3 928.1 1796 926.4 1798.1 914.2 1803.2 910.6 1842.2 914.9 1842.2 914.9 1803.6 911.7 1799.3 914.5 1797.1 926.7 1796 927.8 1794.1 929 1789.2 933.9 1786.8 938.8 1782.5 954.2 1780.6 959.7 1778.7 963.2 1776.8 966 1772.7 971.2 1768.7 975.5 1760.7 982.9 1756.9 985.7 1751.1 988.5 1741 991.8 1725.2 998.9Z"/>
<path class="b" d="M1725.2 998.9 1738.3 998.7 1749 995.7 1755.5 993.1 1760 990.8 1764.5 987.6 1773 979.8 1777.4 975 1781.7 969.6 1783.9 966.3 1786.1 962.1 1788.3 956.1 1792.5 940.7 1794.3 937.3 1797.9 933.7 1800.2 932.2 1803 928.3 1805 916.4 1805.4 917.5 1805.4 914.9 1842.2 914.9 1842.2 914.9 1806 914.9 1803.7 928.6 1800.7 932.7 1798.4 934.3 1794.9 937.7 1793.2 941 1789 956.3 1786.8 962.4 1784.5 966.7 1782.3 970 1777.9 975.5 1773.6 980.3 1765 988.2 1760.4 991.5 1758.1 992.7 1753.7 994.7 1742.8 998.4 1725.2 998.9Z"/>
<path class="o" d="M1725.2 998.9 1741 991.8 1751.1 988.5 1756.9 985.7 1760.7 982.9 1768.7 975.5 1772.7 971.2 1776.8 966 1778.7 963.2 1780.6 959.7 1782.5 954.2 1786.8 938.8 1789.2 933.9 1794.1 929 1796 927.8 1797.1 926.7 1799.3 914.5 1803.6 911.7 1842.2 914.9 1842.2 914.9 1803.9 912.7 1800.3 914.9 1798.2 927 1796.7 928.6 1794.8 929.9 1790.1 934.5 1787.8 939.1 1783.6 954.6 1781.6 960.2 1779.6 963.7 1777.6 966.7 1773.5 971.8 1767.5 978.3 1759.3 985.3 1755.5 987.6 1749.5 990.2 1735.2 994.6 1725.2 998.9Z"/>
<path class="o" d="M1725.2 998.9 1733.9 998.8 1744.5 996.3 1753.1 993.3 1759.6 990.2 1764 987 1772.5 979.3 1776.8 974.6 1781.1 969.1 1783.2 965.9 1785.4 961.8 1787.6 955.8 1791.8 940.5 1793.6 936.9 1797.4 933.1 1799.6 931.6 1802.2 928.1 1804.3 916.2 1805.2 916.7 1805.2 914.9 1842.2 914.9 1842.2 914.9 1805.4 914.9 1805.4 917.5 1805 916.4 1803 928.3 1800.2 932.2 1797.9 933.7 1794.3 937.3 1792.5 940.7 1788.3 956.1 1786.1 962.1 1783.9 966.3 1781.7 969.6 1777.4 975 1773 979.8 1764.5 987.6 1760 990.8 1755.5 993.1 1749 995.7 1738.3 998.7 1725.2 998.9Z"/>
<path class="l" d="M1725.2 998.9 1735.2 994.6 1749.5 990.2 1755.5 987.6 1759.3 985.3 1767.5 978.3 1773.5 971.8 1777.6 966.7 1779.6 963.7 1781.6 960.2 1783.6 954.6 1787.8 939.1 1790.1 934.5 1794.8 929.9 1796.7 928.6 1798.2 927 1800.3 914.9 1803.9 912.7 1842.2 914.9 1842.2 914.9 1805.2 914.9 1805.2 916.7 1804.3 916.2 1802.2 928.1 1799.6 931.6 1797.4 933.1 1793.6 936.9 1791.8 940.5 1787.6 955.8 1785.4 961.8 1783.2 965.9 1781.1 969.1 1776.8 974.6 1772.5 979.3 1764 987 1759.6 990.2 1753.1 993.3 1744.5 996.3 1733.9 998.8 1725.2 998.9Z"/>
</g>
<path class="g" d="M1754.5 914.9V998.9M1769.5 914.9V998.9M1798.5 914.9V998.9M1827.5 914.9V998.9"/>
<path class="v" d="M1725 914.9V998.9M1783.5 914.9V998.9M1842 914.9V998.9" stroke="#ff0000"/>
<path class="k" clip-path="url(#c6_8)" d="M1725.2 998.9 1744 994.5 1752.4 991.6 1758.6 988.6 1762.8 985.6 1771.2 977.9 1775.3 973.3 1779.5 968 1781.6 964.9 1783.7 961.1 1785.8 955.3 1790 939.9 1792.1 935.8 1796.2 931.7 1798.3 930.3 1800.4 927.6 1802.5 915.6 1804.6 914.9 1842.2 914.9"/>
<path class="m" d="M1739.5 998.9V1009.7M1754.5 998.9V1009.7M1769.5 998.9V1009.7M1798.5 998.9V1009.7M1812.5 998.9V1009.7M1827.5 998.9V1009.7M1719.2 977.5H1708.4M1719.2 956.5H1708.4M1719.2 935.5H1708.4"/>
<path class="t" d="M1725.2 998.9V1017.4M1783.7 998.9V1017.4M1842.2 998.9V1017.4M1719.2 998.9H1700.7M1719.2 914.9H1700.7" stroke="#ff0000"/>
<rect class="s" x="1719.2" y="915.3" width="128.1" height="84" stroke="#ff0000"/>
</g>
<g>
<g clip-path="url(#c6_9)">
<path class="b" d="M1904.6 998.9 1926.3 988.7 1931.8 986.6 1935.3 984.7 1941.1 980.1 1944.8 976.4 1954.9 963.7 1956.7 960.9 1958.5 957 1962.7 945.5 1964.7 940.3 1966.7 934 1968.8 925.2 1971.1 918.6 1973.8 913.9 1976.5 911.3 2021.6 914.9 2021.6 914.9 1977.3 912.2 1974.8 914.6 1972.2 919.1 1970 925.5 1967.9 934.3 1965.9 940.7 1963.8 945.9 1959.7 957.4 1957.8 961.5 1955.9 964.4 1943.8 979.3 1937.9 984.3 1934.1 986.8 1930.5 988.5 1922.5 990.7 1920.5 991.4 1904.6 998.9Z"/>
<path class="b" d="M1904.6 998.9 1916.9 994.8 1939.5 991.3 1945.6 989.8 1947.4 989.1 1951.1 986.8 1955 983.4 1961.1 976.9 1963 974.4 1967 967.8 1971.1 959.7 1985.7 922.3 1987.9 915.5 1990.7 912.9 2021.6 914.9 2021.6 914.9 1993.2 912.6 1989.8 915.3 1987.7 929.1 1985.6 937.6 1983.6 943.9 1981.5 949 1973.3 966.7 1971.3 970 1967.4 975.1 1963.4 979.3 1951.2 989.6 1947.6 991.5 1941.8 992.7 1917 995.3 1904.6 998.9Z"/>
<path class="o" d="M1904.6 998.9 1920.5 991.4 1922.5 990.7 1930.5 988.5 1934.1 986.8 1937.9 984.3 1943.8 979.3 1955.9 964.4 1957.8 961.5 1959.7 957.4 1963.8 945.9 1965.9 940.7 1967.9 934.3 1970 925.5 1972.2 919.1 1974.8 914.6 1977.3 912.2 2021.6 914.9 2021.6 914.9 1978.1 913.1 1975.7 915.3 1973.3 919.5 1971.1 925.8 1969.1 934.6 1967 941.1 1965 946.3 1960.8 957.9 1958.8 962.1 1956.9 965.1 1946.6 978 1942.7 981.9 1936.6 986.7 1932.8 988.8 1928.9 990.3 1916.5 993.4 1904.6 998.9Z"/>
<path class="o" d="M1904.6 998.9 1917.8 998.3 1930.5 995.3 1935 993.7 1939.6 991 1946.1 985.9 1948.4 983.9 1959 971 1961.2 968.1 1963.5 964.6 1965.7 959.9 1969.9 948.2 1972 942.9 1974.2 936 1976.2 927.3 1978.2 921.6 1980 918.5 1984.2 914.9 2021.6 914.9 2021.6 914.9 1990.7 912.9 1987.9 915.5 1985.7 922.3 1971.1 959.7 1967 967.8 1963 974.4 1961.1 976.9 1955 983.4 1951.1 986.8 1947.4 989.1 1945.6 989.8 1939.5 991.3 1916.9 994.8 1904.6 998.9Z"/>
<path class="l" d="M1904.6 998.9 1916.5 993.4 1928.9 990.3 1932.8 988.8 1936.6 986.7 1942.7 981.9 1946.6 978 1956.9 965.1 1958.8 962.1 1960.8 957.9 1965 946.3 1967 941.1 1969.1 934.6 1971.1 925.8 1973.3 919.5 1975.7 915.3 1978.1 913.1 2021.6 914.9 2021.6 914.9 1984.2 914.9 1980 918.5 1978.2 921.6 1976.2 927.3 1974.2 936 1972 942.9 1969.9 948.2 1965.7 959.9 1963.5 964.6 1961.2 968.1 1959 971 1948.4 983.9 1946.1 985.9 1939.6 991 1935 993.7 1930.5 995.3 1917.8 998.3 1904.6 998.9Z"/>
</g>
<path class="g" d="M1919.5 914.9V998.9M1948.5 914.9V998.9M1992.5 914.9V998.9"/>
<path class="v" d="M1904.4 914.9V998.9M1962.9 914.9V998.9M2021.4 914.9V998.9" stroke="#ff0000"/>
<path class="k" clip-path="url(#c6_9)" d="M1904.6 998.9 1929.7 992.6 1933.9 991.1 1938 988.7 1944.3 983.8 1946.4 981.9 1958.9 966.5 1961 963.3 1963.1 958.8 1967.3 947.2 1969.4 942 1971.5 935.3 1973.5 926.5 1975.6 920.5 1977.7 916.8 1979.8 914.9 2021.6 914.9"/>
<path class="m" d="M1919.5 998.9V1009.7M1933.5 998.9V1009.7M1948.5 998.9V1009.7M1977.5 998.9V1009.7M1992.5 998.9V1009.7M2006.5 998.9V1009.7M1898.6 977.5H1887.8M1898.6 956.5H1887.8M1898.6 935.5H1887.8"/>
<path class="t" d="M1904.6 998.9V1017.4M1963.1 998.9V1017.4M2021.6 998.9V1017.4M1898.6 998.9H1880.1M1898.6 914.9H1880.1" stroke="#ff0000"/>
<rect class="s" x="1898.6" y="915.3" width="128.1" height="84" stroke="#ff0000"/>
</g>
<g>
<g clip-path="url(#c6_10)">
<path class="b" d="M2084 998.9 2097.4 997.1 2106 993.7 2110.4 991.4 2114.9 988.3 2119.3 984.4 2123.7 979.5 2125.9 976.5 2130.2 969.1 2132.4 964.8 2142.8 941.1 2147.1 932 2151.5 914.9 2201 914.9 2201 914.9 2154 914.9 2151.3 919.2 2149.2 930.2 2147 935.6 2144.9 939.8 2132.3 968.1 2130.2 972.1 2125.8 979.1 2121.4 984.2 2117.1 988.4 2112.5 991.7 2105.9 994.8 2097.3 997.7 2084 998.9Z"/>
<path class="b" d="M2084 998.9 2099.4 998.2 2101.7 997.9 2112.5 994.1 2117 992 2123.6 987.7 2128 984.3 2132.4 980.1 2136.7 975.3 2141.1 969.6 2149.6 956 2151.8 952 2154 947.2 2156.2 941.5 2158.3 934.4 2162.3 918.3 2167.4 914.9 2201 914.9 2201 914.9 2172.1 914.9 2163.5 918.7 2159.5 934.7 2157.3 941.8 2155.1 947.7 2152.9 952.5 2150.7 956.6 2142.1 970.3 2137.7 976.1 2131 983.2 2126.5 987 2119.8 991.7 2115.2 994.2 2108.6 997 2104 997.7 2084 998.9Z"/>
<path class="o" d="M2084 998.9 2097.3 997.7 2105.9 994.8 2112.5 991.7 2117.1 988.4 2121.4 984.2 2125.8 979.1 2130.2 972.1 2132.3 968.1 2144.9 939.8 2147 935.6 2149.2 930.2 2151.3 919.2 2154 914.9 2201 914.9 2201 914.9 2153.7 914.9 2153.7 917.5 2153.4 916.4 2151.3 927.8 2149.1 934.3 2147 938.8 2134.4 967.1 2132.3 971.2 2128 978.5 2125.8 981.5 2121.4 986.3 2117 990.3 2114.7 991.9 2112.3 993.2 2105.7 995.8 2097.2 998.2 2084 998.9Z"/>
<path class="o" d="M2084 998.9 2095 998.5 2105.6 995.6 2114.3 992.2 2118.6 989.8 2125.1 985.2 2129.5 981.5 2135.9 974.7 2140.2 969 2148.7 955.5 2150.9 951.5 2153 946.8 2155.2 941.1 2157.3 934.1 2161.4 917.9 2165.1 914.9 2201 914.9 2201 914.9 2167.4 914.9 2162.3 918.3 2158.3 934.4 2156.2 941.5 2154 947.2 2151.8 952 2149.6 956 2141.1 969.6 2136.7 975.3 2132.4 980.1 2128 984.3 2123.6 987.7 2117 992 2112.5 994.1 2101.7 997.9 2099.4 998.2 2084 998.9Z"/>
<path class="l" d="M2084 998.9 2097.2 998.2 2105.7 995.8 2112.3 993.2 2114.7 991.9 2117 990.3 2121.4 986.3 2125.8 981.5 2128 978.5 2132.3 971.2 2134.4 967.1 2147 938.8 2149.1 934.3 2151.3 927.8 2153.4 916.4 2153.7 917.5 2153.7 914.9 2201 914.9 2201 914.9 2165.1 914.9 2161.4 917.9 2157.3 934.1 2155.2 941.1 2153 946.8 2150.9 951.5 2148.7 955.5 2140.2 969 2135.9 974.7 2129.5 981.5 2125.1 985.2 2118.6 989.8 2114.3 992.2 2105.6 995.6 2095 998.5 2084 998.9Z"/>
</g>
<path class="g" d="M2098.5 914.9V998.9M2113.5 914.9V998.9M2157.5 914.9V998.9M2186.5 914.9V998.9"/>
<path class="v" d="M2083.8 914.9V998.9M2142.3 914.9V998.9M2200.8 914.9V998.9" stroke="#ff0000"/>
<path class="k" clip-path="url(#c6_10)" d="M2084 998.9 2102.8 994 2111.2 991 2115.3 989 2121.6 985 2125.8 981.7 2130 977.8 2134.1 973.2 2138.3 967.6 2146.7 954.4 2148.8 950.5 2150.9 945.9 2152.9 940.4 2155 933.5 2159.2 917 2161.3 914.9 2201 914.9"/>
<path class="m" d="M2098.5 998.9V1009.7M2113.5 998.9V1009.7M2127.5 998.9V1009.7M2157.5 998.9V1009.7M2171.5 998.9V1009.7M2186.5 998.9V1009.7M2078 977.5H2067.2M2078 956.5H2067.2M2078 935.5H2067.2"/>
<path class="t" d="M2084 998.9V1017.4M2142.5 998.9V1017.4M2201 998.9V1017.4M2078 998.9H2059.5M2078 914.9H2059.5" stroke="#ff0000"/>
<rect class="s" x="2078" y="915.3" width="128.1" height="84" stroke="#ff0000"/>
</g>
<g>
<g clip-path="url(#c7_0)">
<path class="b" d="M290 1116.7 299.7 1111.4 303.1 1108.9 307.9 1103.5 309.6 1101.4 313.4 1097.8 317.3 1093.3 321.1 1088 325.1 1081.2 329.1 1072.9 331.1 1068 339.3 1042.6 341.5 1034.7 344 1030.2 407 1032.8 407 1032.8 345 1030.8 342.7 1035.1 340.5 1042.9 332.2 1068.4 328.2 1077.9 324.2 1085.4 320.2 1091.5 316.2 1096.5 312.3 1100.6 306.4 1105.6 303.1 1108.9 299.7 1111.4 290 1116.7Z"/>
<path class="b" d="M290 1116.7 301.2 1115.5 306.2 1114.3 308.6 1113.1 315.2 1107.9 319.6 1103.7 324 1098.7 328.4 1092.7 332.7 1085.3 337 1076.3 339.1 1071 347.6 1045 349.6 1037.7 352.4 1032.8 407 1032.8 407 1032.8 353.8 1032.8 350.7 1038.1 348.7 1045.4 340.3 1071.4 335.9 1081.6 331.6 1089.8 327.2 1096.6 322.7 1102.1 318.2 1106.8 313.8 1110.7 311.3 1112 306.2 1114.3 301.2 1115.5 290 1116.7Z"/>
<path class="o" d="M290 1116.7 299.7 1111.4 303.1 1108.9 306.4 1105.6 312.3 1100.6 316.2 1096.5 320.2 1091.5 324.2 1085.4 328.2 1077.9 332.2 1068.4 340.5 1042.9 342.7 1035.1 345 1030.8 407 1032.8 407 1032.8 346.1 1031.4 343.8 1035.5 341.6 1043.3 333.3 1068.8 329.3 1078.4 325.2 1086 321.2 1092.2 317.1 1097.3 313.2 1101.4 307.1 1106.5 299.7 1111.4 290 1116.7Z"/>
<path class="o" d="M290 1116.7 301.2 1115.5 303.5 1114.8 308 1112.2 314.5 1107.1 318.9 1103 323.2 1098.1 327.5 1092.1 331.8 1084.8 336 1075.9 338.2 1070.6 346.6 1044.7 348.6 1037.3 351.2 1032.8 407 1032.8 407 1032.8 352.4 1032.8 349.6 1037.7 347.6 1045 339.1 1071 337 1076.3 332.7 1085.3 328.4 1092.7 324 1098.7 319.6 1103.7 315.2 1107.9 308.6 1113.1 306.2 1114.3 301.2 1115.5 290 1116.7Z"/>
<path class="l" d="M290 1116.7 299.7 1111.4 307.1 1106.5 313.2 1101.4 317.1 1097.3 321.2 1092.2 325.2 1086 329.3 1078.4 333.3 1068.8 341.6 1043.3 343.8 1035.5 346.1 1031.4 407 1032.8 407 1032.8 351.2 1032.8 348.6 1037.3 346.6 1044.7 338.2 1070.6 336 1075.9 331.8 1084.8 327.5 1092.1 323.2 1098.1 318.9 1103 314.5 1107.1 308 1112.2 303.5 1114.8 301.2 1115.5 290 1116.7Z"/>
</g>
<path class="g" d="M304.5 1032.8V1116.8M333.5 1032.8V1116.8M377.5 1032.8V1116.8M392.5 1032.8V1116.8"/>
<path class="g" d="M284 1095.5H412.1M284 1074.5H412.1M284 1053.5H412.1"/>
<path class="v" d="M289.8 1032.8V1116.8M348.3 1032.8V1116.8M406.8 1032.8V1116.8" stroke="#ff0000"/>
<path class="k" clip-path="url(#c7_0)" d="M290 1116.7 300.4 1113.5 304.6 1111.6 308.8 1108.8 315.1 1103.5 319.3 1099.1 323.4 1093.9 327.6 1087.4 331.8 1079.6 336 1069.8 344.3 1044.1 346.4 1036.5 348.5 1032.8 407 1032.8"/>
<path class="m" d="M304.5 1116.8V1127.6M319.5 1116.8V1127.6M333.5 1116.8V1127.6M363.5 1116.8V1127.6M377.5 1116.8V1127.6M392.5 1116.8V1127.6M284 1095.5H273.2M284 1074.5H273.2M284 1053.5H273.2"/>
<path class="t" d="M290 1116.8V1135.3M348.5 1116.8V1135.3M407 1116.8V1135.3M284 1116.8H265.5M284 1032.8H265.5" stroke="#ff0000"/>
<rect class="s" x="284" y="1033.2" width="128.1" height="84" stroke="#ff0000"/>
</g>
<g>
<g clip-path="url(#c7_1)">
<path class="b" d="M469.4 1116.7 479.1 1111.8 480.8 1110.6 484 1107.5 487.3 1103.6 491.2 1100 495.1 1095.7 499 1090.5 502.9 1083.8 509.1 1071.5 511 1066.8 513 1060.7 517.2 1045.6 521.8 1031.7 525.8 1028.7 586.4 1032.8 586.4 1032.8 526.3 1029.8 522.8 1032.3 518.4 1046 514.2 1061 512.2 1067.2 510.2 1072 504 1084.4 500 1091.2 498 1093.9 494 1098.8 490.1 1102.8 480.8 1110.6 479.1 1111.8 469.4 1116.7Z"/>
<path class="b" d="M469.4 1116.7 478.3 1116.2 483.1 1115.3 485.6 1114.5 490.8 1112.1 493.3 1110.6 497.7 1106.5 502.2 1101.6 506.7 1095.7 508.9 1092.1 517.5 1075.3 519.7 1070 521.9 1063.2 526 1048.4 529.9 1036.1 530 1036.9 530 1032.8 586.4 1032.8 586.4 1032.8 535.9 1031.7 533.8 1036.7 531.6 1043.8 527.4 1060.2 523.3 1074.3 519.2 1085.6 517.2 1090.1 513.2 1096.7 511.3 1099.2 509.5 1101 505.6 1103.7 501.7 1105.9 495.8 1108.2 481.4 1111.7 469.4 1116.7Z"/>
<path class="o" d="M469.4 1116.7 479.1 1111.8 480.8 1110.6 490.1 1102.8 494 1098.8 498 1093.9 500 1091.2 504 1084.4 510.2 1072 512.2 1067.2 514.2 1061 518.4 1046 522.8 1032.3 526.3 1029.8 586.4 1032.8 586.4 1032.8 526.8 1030.7 523.8 1032.8 519.4 1046.3 515.2 1061.3 513.2 1067.6 511.1 1072.4 504.9 1084.9 500.9 1091.8 496.8 1097.2 492.8 1101.6 486.7 1107 482.8 1109.8 469.4 1116.7Z"/>
<path class="o" d="M469.4 1116.7 478.3 1116.2 483.1 1115.3 485.6 1114.5 490.1 1111.3 496.7 1105.5 501 1100.6 505.4 1094.8 509.7 1087.4 516.1 1074.6 518.3 1069.5 520.4 1062.8 524.6 1047.9 528.5 1035.4 529.3 1035.5 529.3 1032.8 586.4 1032.8 586.4 1032.8 530 1032.8 530 1036.9 529.9 1036.1 526 1048.4 521.9 1063.2 519.7 1070 517.5 1075.3 508.9 1092.1 506.7 1095.7 502.2 1101.6 497.7 1106.5 493.3 1110.6 490.8 1112.1 485.6 1114.5 483.1 1115.3 478.3 1116.2 469.4 1116.7Z"/>
<path class="l" d="M469.4 1116.7 482.8 1109.8 486.7 1107 492.8 1101.6 496.8 1097.2 500.9 1091.8 504.9 1084.9 511.1 1072.4 513.2 1067.6 515.2 1061.3 519.4 1046.3 523.8 1032.8 526.8 1030.7 586.4 1032.8 586.4 1032.8 529.3 1032.8 529.3 1035.5 528.5 1035.4 524.6 1047.9 520.4 1062.8 518.3 1069.5 516.1 1074.6 509.7 1087.4 505.4 1094.8 501 1100.6 496.7 1105.5 490.1 1111.3 485.6 1114.5 483.1 1115.3 478.3 1116.2 469.4 1116.7Z"/>
</g>
<path class="g" d="M498.5 1032.8V1116.8M542.5 1032.8V1116.8M571.5 1032.8V1116.8"/>
<path class="g" d="M463.4 1095.5H591.5M463.4 1074.5H591.5M463.4 1053.5H591.5"/>
<path class="v" d="M469.1 1032.8V1116.8M527.7 1032.8V1116.8M586.2 1032.8V1116.8" stroke="#ff0000"/>
<path class="k" clip-path="url(#c7_1)" d="M469.4 1116.7 479.8 1113.8 481.9 1113 486.1 1110.5 492.4 1105.3 496.6 1101.1 500.7 1096 502.8 1093.1 507 1086 513.3 1073.4 515.4 1068.4 517.5 1061.9 521.6 1047 525.8 1033.9 527.9 1032.8 586.4 1032.8"/>
<path class="m" d="M484.5 1116.8V1127.6M498.5 1116.8V1127.6M513.5 1116.8V1127.6M542.5 1116.8V1127.6M557.5 1116.8V1127.6M571.5 1116.8V1127.6M463.4 1095.5H452.6M463.4 1074.5H452.6M463.4 1053.5H452.6"/>
<path class="t" d="M469.4 1116.8V1135.3M527.9 1116.8V1135.3M586.4 1116.8V1135.3M463.4 1116.8H444.9M463.4 1032.8H444.9" stroke="#ff0000"/>
<rect class="s" x="463.4" y="1033.2" width="128.1" height="84" stroke="#ff0000"/>
</g>
<g>
<g clip-path="url(#c7_2)">
<path class="b" d="M648.8 1116.7 660.5 1110.8 665.8 1107 669.2 1104 673 1101.4 676.7 1098.1 680.5 1093.8 684.3 1088.3 688.3 1081.2 692.3 1072.3 694.3 1067.1 698.4 1054.3 700.5 1046.9 704.9 1032.9 707.9 1029.4 765.8 1032.8 765.8 1032.8 708.8 1030.2 706 1033.4 701.7 1047.3 699.6 1054.7 695.5 1067.5 691.4 1077.5 687.4 1085.5 683.4 1091.9 679.5 1096.9 675.6 1100.8 671.8 1103.8 665.9 1107.3 660.5 1110.8 648.8 1116.7Z"/>
<path class="b" d="M648.8 1116.7 660.8 1111.3 675.2 1107.5 681.1 1105.2 685 1103.1 690.9 1098.4 694.9 1094.6 698.9 1089.6 702.9 1083.3 704.9 1079.5 713.2 1060.1 717.3 1049.1 719.4 1042.9 721.6 1034.4 724.1 1031.1 765.8 1032.8 765.8 1032.8 726.4 1030.8 723.6 1033.8 721.5 1043.5 719.4 1050.2 717.4 1056.1 713.2 1066.3 707.1 1079.7 705.1 1083.2 703 1086.3 699 1091.7 695 1096 691 1099.6 685 1104 681.2 1106 675.2 1108.1 660.9 1111.6 648.8 1116.7Z"/>
<path class="o" d="M648.8 1116.7 660.5 1110.8 665.9 1107.3 671.8 1103.8 675.6 1100.8 679.5 1096.9 683.4 1091.9 687.4 1085.5 691.4 1077.5 695.5 1067.5 699.6 1054.7 701.7 1047.3 706 1033.4 708.8 1030.2 765.8 1032.8 765.8 1032.8 709.7 1031.1 707.1 1033.9 702.8 1047.6 700.7 1055 696.6 1067.9 692.5 1078 688.4 1086 684.4 1092.6 680.4 1097.7 676.4 1101.7 672.5 1104.7 666.5 1108.3 660.6 1110.9 648.8 1116.7Z"/>
<path class="o" d="M648.8 1116.7 662.2 1115.7 664.5 1115.1 671.1 1111.9 677.7 1107.5 682.2 1103.5 686.5 1098.6 688.7 1095.7 693 1088.6 697.3 1080.2 701.6 1069.7 705.8 1056.5 707.9 1049.2 711.9 1036.1 715.6 1032.8 765.8 1032.8 765.8 1032.8 724.1 1031.1 721.6 1034.4 719.4 1042.9 717.3 1049.1 713.2 1060.1 704.9 1079.5 702.9 1083.3 698.9 1089.6 694.9 1094.6 690.9 1098.4 685 1103.1 681.1 1105.2 675.2 1107.5 660.8 1111.3 648.8 1116.7Z"/>
<path class="l" d="M648.8 1116.7 660.6 1110.9 666.5 1108.3 672.5 1104.7 676.4 1101.7 680.4 1097.7 684.4 1092.6 688.4 1086 692.5 1078 696.6 1067.9 700.7 1055 702.8 1047.6 707.1 1033.9 709.7 1031.1 765.8 1032.8 765.8 1032.8 715.6 1032.8 711.9 1036.1 707.9 1049.2 705.8 1056.5 701.6 1069.7 697.3 1080.2 693 1088.6 688.7 1095.7 686.5 1098.6 682.2 1103.5 677.7 1107.5 671.1 1111.9 664.5 1115.1 662.2 1115.7 648.8 1116.7Z"/>
</g>
<path class="g" d="M663.5 1032.8V1116.8M692.5 1032.8V1116.8M721.5 1032.8V1116.8M736.5 1032.8V1116.8"/>
<path class="g" d="M642.8 1095.5H770.9M642.8 1074.5H770.9M642.8 1053.5H770.9"/>
<path class="v" d="M648.5 1032.8V1116.8M707.1 1032.8V1116.8M765.6 1032.8V1116.8" stroke="#ff0000"/>
<path class="k" clip-path="url(#c7_2)" d="M648.8 1116.7 661.4 1113.2 667.6 1110.6 673.9 1106.8 678.1 1103.6 682.2 1099.3 686.4 1094.1 690.6 1087.3 694.8 1079 698.9 1068.7 703.1 1055.7 705.2 1048.4 709.4 1035 711.5 1032.8 765.8 1032.8"/>
<path class="m" d="M663.5 1116.8V1127.6M678.5 1116.8V1127.6M692.5 1116.8V1127.6M721.5 1116.8V1127.6M736.5 1116.8V1127.6M751.5 1116.8V1127.6M642.8 1095.5H632M642.8 1074.5H632M642.8 1053.5H632"/>
<path class="t" d="M648.8 1116.8V1135.3M707.3 1116.8V1135.3M765.8 1116.8V1135.3M642.8 1116.8H624.3M642.8 1032.8H624.3" stroke="#ff0000"/>
<rect class="s" x="642.8" y="1033.2" width="128.1" height="84" stroke="#ff0000"/>
</g>
<g>
<g clip-path="url(#c7_3)">
<path class="b" d="M828.2 1116.7 840 1111.1 847.4 1106.5 849.1 1105.2 852.7 1103.1 854.4 1101.9 858 1098.4 864 1091.3 867.9 1085.5 872 1078.6 875.9 1070.6 877.9 1065.8 884.2 1049.2 886.2 1043.2 888.3 1035.3 890.7 1030.6 945.2 1032.8 945.2 1032.8 891.7 1031.1 889.5 1035.7 887.3 1043.5 885.3 1049.6 879.1 1066.2 877.1 1071.1 873 1079.2 868.9 1086.1 864.9 1092 858.9 1099.2 855.1 1102.9 851.5 1105.2 845.7 1108 840 1111.1 828.2 1116.7Z"/>
<path class="b" d="M828.2 1116.7 840.6 1113.3 856.9 1111.3 860.5 1110 879.1 1100.2 883 1097.6 884.9 1096.1 886.8 1094 890.7 1088.5 894.8 1081.4 896.8 1076.8 898.8 1071.3 900.9 1064.4 903 1055.6 907.1 1041.8 909.4 1033.3 912.3 1030.7 945.2 1032.8 945.2 1032.8 915.2 1030.3 911.5 1032.2 909.2 1040.2 905 1053.7 900.9 1070 898.9 1075.7 896.8 1080.5 892.8 1087.9 888.8 1093.7 886.9 1095.9 885 1097.7 883.1 1099.1 879.2 1101.6 860.6 1110.9 857 1112.1 840.6 1113.6 828.2 1116.7Z"/>
<path class="o" d="M828.2 1116.7 840 1111.1 845.7 1108 851.5 1105.2 855.1 1102.9 858.9 1099.2 864.9 1092 868.9 1086.1 873 1079.2 877.1 1071.1 879.1 1066.2 885.3 1049.6 887.3 1043.5 889.5 1035.7 891.7 1031.1 945.2 1032.8 945.2 1032.8 892.8 1031.7 890.6 1036.1 888.5 1043.9 886.4 1050 880.2 1066.7 878.2 1071.6 874.1 1079.8 870 1086.8 865.9 1092.8 859.8 1100 855.9 1103.8 854 1105.2 848.1 1108.2 840 1111.2 828.2 1116.7Z"/>
<path class="o" d="M828.2 1116.7 841.5 1116.1 843.7 1115.6 850.2 1113.1 854.7 1110.9 856.9 1109.6 859.2 1107.9 863.7 1103.6 870.2 1095.9 874.5 1089.6 878.7 1082.3 883 1073.7 885.1 1068.6 891.4 1051.8 893.6 1045.4 895.6 1037.9 898.2 1032.8 945.2 1032.8 945.2 1032.8 912.3 1030.7 909.4 1033.3 907.1 1041.8 903 1055.6 900.9 1064.4 898.8 1071.3 896.8 1076.8 894.8 1081.4 890.7 1088.5 886.8 1094 884.9 1096.1 883 1097.6 879.1 1100.2 860.5 1110 856.9 1111.3 840.6 1113.3 828.2 1116.7Z"/>
<path class="l" d="M828.2 1116.7 840 1111.2 848.1 1108.2 854 1105.2 855.9 1103.8 859.8 1100 865.9 1092.8 870 1086.8 874.1 1079.8 878.2 1071.6 880.2 1066.7 886.4 1050 888.5 1043.9 890.6 1036.1 892.8 1031.7 945.2 1032.8 945.2 1032.8 898.2 1032.8 895.6 1037.9 893.6 1045.4 891.4 1051.8 885.1 1068.6 883 1073.7 878.7 1082.3 874.5 1089.6 870.2 1095.9 863.7 1103.6 859.2 1107.9 856.9 1109.6 854.7 1110.9 850.2 1113.1 843.7 1115.6 841.5 1116.1 828.2 1116.7Z"/>
</g>
<path class="g" d="M842.5 1032.8V1116.8M857.5 1032.8V1116.8M915.5 1032.8V1116.8"/>
<path class="g" d="M822.2 1095.5H950.3M822.2 1074.5H950.3M822.2 1053.5H950.3"/>
<path class="v" d="M828 1032.8V1116.8M886.5 1032.8V1116.8M945 1032.8V1116.8" stroke="#ff0000"/>
<path class="k" clip-path="url(#c7_3)" d="M828.2 1116.7 840.8 1113.6 849.1 1110.5 855.4 1107.2 857.5 1105.7 861.6 1101.7 867.9 1094.2 872.1 1088.1 876.3 1081 880.4 1072.6 882.5 1067.6 888.8 1050.9 890.9 1044.6 893 1037 895.1 1032.8 945.2 1032.8"/>
<path class="m" d="M842.5 1116.8V1127.6M857.5 1116.8V1127.6M872.5 1116.8V1127.6M901.5 1116.8V1127.6M915.5 1116.8V1127.6M930.5 1116.8V1127.6M822.2 1095.5H811.4M822.2 1074.5H811.4M822.2 1053.5H811.4"/>
<path class="t" d="M828.2 1116.8V1135.3M886.7 1116.8V1135.3M945.2 1116.8V1135.3M822.2 1116.8H803.7M822.2 1032.8H803.7" stroke="#ff0000"/>
<rect class="s" x="822.2" y="1033.2" width="128.1" height="84" stroke="#ff0000"/>
</g>
<g>
<g clip-path="url(#c7_4)">
<path class="b" d="M1007.6 1116.7 1021.2 1113.5 1027.7 1110.2 1032.2 1107.4 1036.6 1103.5 1041 1098.7 1043.2 1095.9 1045.4 1092.5 1049.7 1084.2 1051.8 1079.5 1054 1074.2 1056.1 1068.1 1058.2 1061 1060.3 1052 1062.4 1039.7 1064.7 1032.8 1124.6 1032.8 1124.6 1032.8 1065.5 1032.8 1065.5 1035 1064.5 1034.9 1062.4 1047.9 1060.3 1058.3 1058.2 1066 1056.1 1072.4 1053.9 1078.1 1051.8 1083.1 1047.5 1091.6 1045.3 1095.3 1043.1 1098.3 1038.8 1103.4 1034.3 1107.5 1032 1109 1027.6 1111.5 1021.1 1114.4 1007.6 1116.7Z"/>
<path class="b" d="M1007.6 1116.7 1023.1 1116.2 1032.4 1114.9 1037.3 1113.7 1042.2 1110.8 1046.9 1107.1 1051.4 1102.7 1056.1 1097.1 1060.5 1090.4 1062.8 1086.4 1067.1 1077.1 1069.3 1071.8 1071.5 1065.3 1075.7 1048.9 1080.5 1032.8 1124.6 1032.8 1124.6 1032.8 1082.3 1032.6 1080.2 1046.5 1078.1 1056.2 1076.1 1064.1 1074 1070.9 1069.9 1082.6 1067.9 1087.4 1063.9 1094.4 1062 1097 1060.1 1099 1056.3 1101.9 1052.4 1104.1 1048.5 1105.8 1042.4 1107.6 1019.7 1112.1 1007.6 1116.7Z"/>
<path class="o" d="M1007.6 1116.7 1021.1 1114.4 1027.6 1111.5 1032 1109 1034.3 1107.5 1038.8 1103.4 1043.1 1098.3 1045.3 1095.3 1047.5 1091.6 1051.8 1083.1 1053.9 1078.1 1056.1 1072.4 1058.2 1066 1060.3 1058.3 1062.4 1047.9 1064.5 1034.9 1065.5 1035 1065.5 1032.8 1124.6 1032.8 1124.6 1032.8 1066.7 1032.8 1062.4 1055.2 1060.3 1063.7 1058.2 1070.6 1056 1076.6 1053.9 1081.8 1051.8 1086.4 1047.5 1094.6 1045.3 1097.9 1043.1 1100.7 1038.7 1105.5 1036.4 1107.6 1034.1 1109.2 1029.6 1111.6 1021 1115.1 1007.6 1116.7Z"/>
<path class="o" d="M1007.6 1116.7 1023.1 1116.2 1025.3 1115.9 1034.1 1112.7 1038.6 1110.4 1043.1 1107.3 1047.6 1103.4 1052 1098.6 1056.4 1092.6 1060.8 1085.3 1065 1076.2 1067.2 1071 1069.4 1064.7 1073.6 1048.3 1077.4 1035.4 1078 1035.9 1078 1032.8 1124.6 1032.8 1124.6 1032.8 1080.5 1032.8 1075.7 1048.9 1071.5 1065.3 1069.3 1071.8 1067.1 1077.1 1062.8 1086.4 1060.5 1090.4 1056.1 1097.1 1051.4 1102.7 1046.9 1107.1 1042.2 1110.8 1037.3 1113.7 1032.4 1114.9 1023.1 1116.2 1007.6 1116.7Z"/>
<path class="l" d="M1007.6 1116.7 1021 1115.1 1029.6 1111.6 1034.1 1109.2 1036.4 1107.6 1038.7 1105.5 1043.1 1100.7 1045.3 1097.9 1047.5 1094.6 1051.8 1086.4 1053.9 1081.8 1056 1076.6 1058.2 1070.6 1060.3 1063.7 1062.4 1055.2 1066.7 1032.8 1124.6 1032.8 1124.6 1032.8 1078 1032.8 1078 1035.9 1077.4 1035.4 1073.6 1048.3 1069.4 1064.7 1067.2 1071 1065 1076.2 1060.8 1085.3 1056.4 1092.6 1052 1098.6 1047.6 1103.4 1043.1 1107.3 1038.6 1110.4 1034.1 1112.7 1025.3 1115.9 1023.1 1116.2 1007.6 1116.7Z"/>
</g>
<path class="g" d="M1036.5 1032.8V1116.8M1051.5 1032.8V1116.8M1080.5 1032.8V1116.8M1095.5 1032.8V1116.8M1109.5 1032.8V1116.8"/>
<path class="g" d="M1001.6 1095.5H1129.7M1001.6 1074.5H1129.7M1001.6 1053.5H1129.7"/>
<path class="v" d="M1007.4 1032.8V1116.8M1065.9 1032.8V1116.8M1124.4 1032.8V1116.8" stroke="#ff0000"/>
<path class="k" clip-path="url(#c7_4)" d="M1007.6 1116.7 1024.3 1112.7 1032.7 1109.6 1036.9 1107.5 1041 1104.6 1045.2 1100.9 1049.4 1096.5 1053.6 1090.7 1057.7 1083.8 1061.9 1074.9 1064 1069.8 1066.1 1063.7 1070.3 1047.4 1074.5 1033.8 1076.5 1032.8 1124.6 1032.8"/>
<path class="m" d="M1022.5 1116.8V1127.6M1036.5 1116.8V1127.6M1051.5 1116.8V1127.6M1080.5 1116.8V1127.6M1095.5 1116.8V1127.6M1109.5 1116.8V1127.6M1001.6 1095.5H990.8M1001.6 1074.5H990.8M1001.6 1053.5H990.8"/>
<path class="t" d="M1007.6 1116.8V1135.3M1066.1 1116.8V1135.3M1124.6 1116.8V1135.3M1001.6 1116.8H983.1M1001.6 1032.8H983.1" stroke="#ff0000"/>
<rect class="s" x="1001.6" y="1033.2" width="128.1" height="84" stroke="#ff0000"/>
</g>
<g>
<g clip-path="url(#c7_5)">
<path class="b" d="M1187 1116.7 1200.8 1110.6 1206.3 1107.3 1209.7 1104.8 1213.3 1102.7 1214.9 1101.5 1222.7 1092.8 1226.7 1087.8 1230.5 1081.9 1234.5 1073.9 1238.5 1064.2 1240.4 1057.4 1242.5 1047.5 1244.7 1039.1 1247.2 1033 1249.8 1029.5 1304 1032.8 1304 1032.8 1250.7 1030.3 1248.2 1033.5 1245.9 1039.5 1243.7 1047.8 1241.6 1057.7 1239.6 1064.6 1235.6 1074.4 1231.6 1082.5 1227.6 1088.5 1223.6 1093.6 1215.7 1102.4 1214 1103.7 1212.2 1104.8 1204.5 1108.5 1200.8 1110.6 1187 1116.7Z"/>
<path class="b" d="M1187 1116.7 1202.5 1116.3 1209.5 1115.3 1212 1114.8 1214.3 1113.8 1219.1 1111 1221.6 1109 1230.5 1099.4 1234.9 1093.8 1239.3 1086.9 1243.7 1078 1248.1 1067.4 1250.3 1059.8 1252.4 1049.8 1254.4 1042.2 1256.1 1037.7 1260.4 1032.8 1304 1032.8 1304 1032.8 1262.9 1032.8 1257.7 1038.5 1256.1 1042.7 1254.1 1050.2 1252 1060.2 1249.8 1068 1245.4 1078.8 1240.9 1087.8 1236.3 1094.8 1231.8 1100.5 1222.8 1110.4 1219.8 1112.1 1214.5 1114.1 1209.5 1115.3 1202.5 1116.3 1187 1116.7Z"/>
<path class="o" d="M1187 1116.7 1200.8 1110.6 1204.5 1108.5 1212.2 1104.8 1214 1103.7 1215.7 1102.4 1223.6 1093.6 1227.6 1088.5 1231.6 1082.5 1235.6 1074.4 1239.6 1064.6 1241.6 1057.7 1243.7 1047.8 1245.9 1039.5 1248.2 1033.5 1250.7 1030.3 1304 1032.8 1304 1032.8 1251.7 1031 1249.3 1034.1 1247 1039.9 1244.9 1048.1 1242.8 1058 1240.8 1065 1236.7 1074.9 1232.6 1083.1 1228.6 1089.3 1224.6 1094.4 1216.5 1103.3 1214.6 1104.7 1208.8 1107.9 1200.8 1110.8 1187 1116.7Z"/>
<path class="o" d="M1187 1116.7 1202.5 1116.3 1209.1 1114.2 1215.7 1111 1218 1109.6 1220.4 1107.7 1229.1 1098.2 1233.4 1092.7 1237.7 1086 1242.1 1077.3 1246.4 1066.8 1248.5 1059.4 1250.6 1049.4 1252.6 1041.6 1254.5 1036.8 1257.9 1032.8 1304 1032.8 1304 1032.8 1260.4 1032.8 1256.1 1037.7 1254.4 1042.2 1252.4 1049.8 1250.3 1059.8 1248.1 1067.4 1243.7 1078 1239.3 1086.9 1234.9 1093.8 1230.5 1099.4 1221.6 1109 1219.1 1111 1214.3 1113.8 1212 1114.8 1209.5 1115.3 1202.5 1116.3 1187 1116.7Z"/>
<path class="l" d="M1187 1116.7 1200.8 1110.8 1208.8 1107.9 1214.6 1104.7 1216.5 1103.3 1224.6 1094.4 1228.6 1089.3 1232.6 1083.1 1236.7 1074.9 1240.8 1065 1242.8 1058 1244.9 1048.1 1247 1039.9 1249.3 1034.1 1251.7 1031 1304 1032.8 1304 1032.8 1257.9 1032.8 1254.5 1036.8 1252.6 1041.6 1250.6 1049.4 1248.5 1059.4 1246.4 1066.8 1242.1 1077.3 1237.7 1086 1233.4 1092.7 1229.1 1098.2 1220.4 1107.7 1218 1109.6 1215.7 1111 1209.1 1114.2 1202.5 1116.3 1187 1116.7Z"/>
</g>
<path class="g" d="M1201.5 1032.8V1116.8M1230.5 1032.8V1116.8M1260.5 1032.8V1116.8M1289.5 1032.8V1116.8"/>
<path class="g" d="M1181 1095.5H1309.1M1181 1074.5H1309.1M1181 1053.5H1309.1"/>
<path class="v" d="M1186.8 1032.8V1116.8M1245.3 1032.8V1116.8M1303.8 1032.8V1116.8" stroke="#ff0000"/>
<path class="k" clip-path="url(#c7_5)" d="M1187 1116.7 1201.6 1113.5 1207.9 1111.3 1214.2 1108.3 1216.3 1107 1218.3 1105.4 1226.7 1096.2 1230.9 1090.9 1235.1 1084.5 1239.2 1076 1243.4 1065.9 1245.5 1058.6 1247.6 1048.7 1249.7 1040.7 1251.8 1035.4 1253.9 1032.8 1304 1032.8"/>
<path class="m" d="M1201.5 1116.8V1127.6M1216.5 1116.8V1127.6M1230.5 1116.8V1127.6M1260.5 1116.8V1127.6M1274.5 1116.8V1127.6M1289.5 1116.8V1127.6M1181 1095.5H1170.2M1181 1074.5H1170.2M1181 1053.5H1170.2"/>
<path class="t" d="M1187 1116.8V1135.3M1245.5 1116.8V1135.3M1304 1116.8V1135.3M1181 1116.8H1162.5M1181 1032.8H1162.5" stroke="#ff0000"/>
<rect class="s" x="1181" y="1033.2" width="128.1" height="84" stroke="#ff0000"/>
</g>
<g>
<g clip-path="url(#c7_6)">
<path class="b" d="M1366.4 1116.7 1379.9 1114.6 1388.4 1111.1 1395 1107.6 1397.2 1106.2 1399.6 1104.3 1401.8 1102 1406.2 1096.5 1408.4 1093.4 1410.5 1089.8 1412.7 1085.4 1414.9 1080.1 1417 1072.9 1421.2 1053.2 1425.4 1042.5 1427.3 1035.1 1663.9 1032.8 1483.4 1032.8 1431.3 1031.9 1423 1064.5 1421 1070.1 1419 1075 1415 1083.6 1411 1090.3 1407.1 1095.6 1401.2 1101.7 1397.7 1104.4 1394.2 1106 1386.3 1108.3 1366.4 1116.7Z"/>
<path class="b" d="M1366.4 1116.7 1378.7 1112.7 1401.4 1109.7 1409.5 1107.8 1411.3 1107.2 1413 1106.1 1416.8 1103 1422.9 1096.5 1424.8 1094 1428.9 1087.3 1432.9 1079 1437 1068 1441.2 1053.9 1443.3 1047.7 1445.5 1042.2 1447.7 1037.9 1449.9 1034.3 1452 1031.4 1483.4 1032.8 1483.4 1032.8 1463.4 1030.4 1460.7 1032 1458.2 1035.5 1456 1039.3 1453.8 1043.9 1451.6 1049.6 1449.5 1056.9 1447.4 1065.5 1445.4 1071.3 1443.4 1076.2 1437.2 1088.8 1435.3 1092 1431.3 1096.8 1427.4 1100.6 1423.5 1103.5 1415.5 1108.1 1411.7 1109.5 1407.8 1110.3 1378.8 1113.2 1366.4 1116.7Z"/>
<path class="o" d="M1366.4 1116.7 1386.3 1108.3 1394.2 1106 1397.7 1104.4 1401.2 1101.7 1407.1 1095.6 1411 1090.3 1415 1083.6 1419 1075 1421 1070.1 1423 1064.5 1431.3 1031.9 1483.4 1032.8 1483.4 1032.8 1432.3 1032.1 1424 1064.8 1422 1070.5 1420 1075.4 1415.9 1084.1 1411.9 1090.9 1407.9 1096.3 1401.9 1102.5 1398.3 1105.3 1396.5 1106.2 1392.6 1107.7 1380.4 1110.9 1366.4 1116.7Z"/>
<path class="o" d="M1366.4 1116.7 1381.7 1116.7 1394.5 1113.5 1399 1111.9 1401.4 1110.7 1403.8 1109 1408.3 1105 1412.7 1100.3 1417.1 1094.3 1421.4 1087 1425.7 1077.9 1427.8 1072.7 1430 1066.5 1438.6 1032.8 1483.4 1032.8 1483.4 1032.8 1452 1031.4 1449.9 1034.3 1447.7 1037.9 1445.5 1042.2 1443.3 1047.7 1441.2 1053.9 1437 1068 1432.9 1079 1428.9 1087.3 1424.8 1094 1422.9 1096.5 1416.8 1103 1413 1106.1 1411.3 1107.2 1409.5 1107.8 1401.4 1109.7 1378.7 1112.7 1366.4 1116.7Z"/>
<path class="l" d="M1366.4 1116.7 1380.4 1110.9 1392.6 1107.7 1396.5 1106.2 1398.3 1105.3 1401.9 1102.5 1407.9 1096.3 1411.9 1090.9 1415.9 1084.1 1420 1075.4 1422 1070.5 1424 1064.8 1432.3 1032.1 1483.4 1032.8 1483.4 1032.8 1438.6 1032.8 1430 1066.5 1427.8 1072.7 1425.7 1077.9 1421.4 1087 1417.1 1094.3 1412.7 1100.3 1408.3 1105 1403.8 1109 1401.4 1110.7 1399 1111.9 1394.5 1113.5 1381.7 1116.7 1366.4 1116.7Z"/>
</g>
<path class="g" d="M1381.5 1032.8V1116.8M1395.5 1032.8V1116.8M1410.5 1032.8V1116.8M1439.5 1032.8V1116.8M1454.5 1032.8V1116.8"/>
<path class="g" d="M1360.4 1095.5H1488.5M1360.4 1074.5H1488.5M1360.4 1053.5H1488.5"/>
<path class="v" d="M1366.2 1032.8V1116.8M1424.7 1032.8V1116.8M1483.2 1032.8V1116.8" stroke="#ff0000"/>
<path class="k" clip-path="url(#c7_6)" d="M1366.4 1116.7 1391.5 1111.2 1397.8 1109 1399.8 1108 1401.9 1106.6 1406.1 1102.8 1410.3 1098.3 1414.5 1092.6 1418.6 1085.5 1422.8 1076.7 1424.9 1071.6 1427 1065.7 1435.3 1032.9 1483.4 1032.8"/>
<path class="m" d="M1381.5 1116.8V1127.6M1395.5 1116.8V1127.6M1410.5 1116.8V1127.6M1439.5 1116.8V1127.6M1454.5 1116.8V1127.6M1468.5 1116.8V1127.6M1360.4 1095.5H1349.6M1360.4 1074.5H1349.6M1360.4 1053.5H1349.6"/>
<path class="t" d="M1366.4 1116.8V1135.3M1424.9 1116.8V1135.3M1483.4 1116.8V1135.3M1360.4 1116.8H1341.9M1360.4 1032.8H1341.9" stroke="#ff0000"/>
<rect class="s" x="1360.4" y="1033.2" width="128.1" height="84" stroke="#ff0000"/>
</g>
<g>
<g clip-path="url(#c7_7)">
<path class="b" d="M1545.8 1116.7 1559.3 1114.5 1565.8 1111.7 1570.2 1109.3 1572.5 1107.9 1574.8 1105.9 1577.1 1103.4 1581.4 1097.7 1583.6 1094.5 1587.9 1086.8 1592.1 1078.2 1596.4 1068.2 1598.5 1062.5 1600.6 1055.3 1604.9 1032.8 1662.8 1032.8 1662.8 1032.8 1615.8 1029.4 1612.7 1032.6 1608.4 1044.8 1604.2 1053.1 1595.9 1075.6 1591.9 1084.4 1590 1087.8 1586.2 1092.9 1582.3 1096.9 1576.5 1101.8 1572.9 1104.1 1567.3 1106.4 1545.8 1116.7Z"/>
<path class="b" d="M1545.8 1116.7 1558.1 1112.7 1578.7 1109.8 1586.6 1107.8 1588.3 1107 1590 1105.6 1593.9 1101.3 1598 1096 1600 1092.9 1604 1085.1 1606.1 1080.6 1614.4 1059.1 1616.5 1054 1620.8 1045.7 1623.1 1042.4 1625.3 1039.7 1634.2 1031 1637.2 1030.2 1662.8 1032.8 1662.8 1032.8 1637.2 1032.2 1635.2 1041.7 1633.1 1049.4 1620.7 1081.5 1618.7 1086 1616.7 1089.3 1612.7 1094.9 1608.8 1098.9 1602.9 1103.3 1596.9 1106.6 1586.8 1110.5 1580.9 1112 1558.3 1113.6 1545.8 1116.7Z"/>
<path class="o" d="M1545.8 1116.7 1567.3 1106.4 1572.9 1104.1 1576.5 1101.8 1582.3 1096.9 1586.2 1092.9 1590 1087.8 1591.9 1084.4 1595.9 1075.6 1604.2 1053.1 1608.4 1044.8 1612.7 1032.6 1615.8 1029.4 1662.8 1032.8 1662.8 1032.8 1616.8 1030.5 1614.1 1033.3 1609.8 1045.4 1605.6 1053.7 1597.3 1076.2 1593.2 1085.1 1591.2 1088.6 1587.3 1093.9 1583.4 1098 1577.4 1103 1573.6 1105.4 1569.8 1107.1 1559.7 1110.3 1545.8 1116.7Z"/>
<path class="o" d="M1545.8 1116.7 1559 1116.3 1569.7 1113.4 1574.1 1111.7 1578.7 1109.3 1583.1 1106.1 1587.4 1102.3 1591.8 1097.7 1596.2 1091.7 1598.4 1087.8 1602.7 1078.4 1611 1056 1615.2 1047.7 1619.3 1036 1623.5 1032.8 1662.8 1032.8 1662.8 1032.8 1637.2 1030.2 1634.2 1031 1625.3 1039.7 1623.1 1042.4 1620.8 1045.7 1616.5 1054 1614.4 1059.1 1606.1 1080.6 1604 1085.1 1600 1092.9 1598 1096 1593.9 1101.3 1590 1105.6 1588.3 1107 1586.6 1107.8 1578.7 1109.8 1558.1 1112.7 1545.8 1116.7Z"/>
<path class="l" d="M1545.8 1116.7 1559.7 1110.3 1569.8 1107.1 1573.6 1105.4 1577.4 1103 1583.4 1098 1587.3 1093.9 1591.2 1088.6 1593.2 1085.1 1597.3 1076.2 1605.6 1053.7 1609.8 1045.4 1614.1 1033.3 1616.8 1030.5 1662.8 1032.8 1662.8 1032.8 1623.5 1032.8 1619.3 1036 1615.2 1047.7 1611 1056 1602.7 1078.4 1598.4 1087.8 1596.2 1091.7 1591.8 1097.7 1587.4 1102.3 1583.1 1106.1 1578.7 1109.3 1574.1 1111.7 1569.7 1113.4 1559 1116.3 1545.8 1116.7Z"/>
</g>
<path class="g" d="M1575.5 1032.8V1116.8M1633.5 1032.8V1116.8M1648.5 1032.8V1116.8"/>
<path class="g" d="M1539.8 1095.5H1667.9M1539.8 1074.5H1667.9M1539.8 1053.5H1667.9"/>
<path class="v" d="M1545.5 1032.8V1116.8M1604.1 1032.8V1116.8M1662.6 1032.8V1116.8" stroke="#ff0000"/>
<path class="k" clip-path="url(#c7_7)" d="M1545.8 1116.7 1566.7 1111.4 1573 1109.2 1577.2 1106.9 1581.3 1103.9 1585.5 1100.3 1589.7 1095.9 1593.9 1090.2 1595.9 1086.5 1600.1 1077.4 1608.5 1054.9 1612.7 1046.6 1616.8 1034.7 1618.9 1032.8 1662.8 1032.8"/>
<path class="m" d="M1560.5 1116.8V1127.6M1575.5 1116.8V1127.6M1589.5 1116.8V1127.6M1618.5 1116.8V1127.6M1633.5 1116.8V1127.6M1648.5 1116.8V1127.6M1539.8 1095.5H1529M1539.8 1074.5H1529M1539.8 1053.5H1529"/>
<path class="t" d="M1545.8 1116.8V1135.3M1604.3 1116.8V1135.3M1662.8 1116.8V1135.3M1539.8 1116.8H1521.3M1539.8 1032.8H1521.3" stroke="#ff0000"/>
<rect class="s" x="1539.8" y="1033.2" width="128.1" height="84" stroke="#ff0000"/>
</g>
<g>
<g clip-path="url(#c7_8)">
<path class="b" d="M1725.2 1116.7 1738.8 1113.2 1744.9 1110.5 1753.3 1107.7 1758 1105.5 1760.5 1103.6 1762.9 1100.7 1769.3 1089.9 1773.6 1080.9 1780 1063.8 1782.1 1055.8 1784.2 1038.1 1786.6 1032.8 1842.2 1032.8 1842.2 1032.8 1788.6 1032.8 1786.3 1039.1 1784.2 1054.2 1782.1 1063.3 1775.7 1081 1771.4 1090.3 1769.3 1094.3 1767.1 1097.6 1762.7 1103.8 1760.3 1106.2 1757.8 1107.8 1755.5 1108.9 1738.7 1114.4 1725.2 1116.7Z"/>
<path class="b" d="M1725.2 1116.7 1742.7 1116.7 1744.9 1116.5 1755.7 1113.4 1760.2 1111.6 1764.7 1109.1 1771.3 1104.5 1775.8 1100.8 1780.3 1096 1782.6 1093 1784.8 1089.5 1787 1085.3 1789.2 1080.4 1797.6 1057.9 1801.8 1047.9 1806.4 1032.8 1842.2 1032.8 1842.2 1032.8 1807.6 1032.8 1803 1048.3 1798.7 1058.4 1790.4 1080.9 1788.1 1085.8 1785.9 1090.1 1783.6 1093.7 1781.2 1096.8 1778.9 1099.4 1774.3 1103.7 1769.9 1107.1 1763.1 1111.5 1758.3 1113.7 1751.6 1115.9 1749.4 1116.3 1725.2 1116.7Z"/>
<path class="o" d="M1725.2 1116.7 1738.7 1114.4 1755.5 1108.9 1757.8 1107.8 1760.3 1106.2 1762.7 1103.8 1767.1 1097.6 1769.3 1094.3 1771.4 1090.3 1775.7 1081 1782.1 1063.3 1784.2 1054.2 1786.3 1039.1 1788.6 1032.8 1842.2 1032.8 1842.2 1032.8 1800.1 1032.1 1796 1045.9 1791.8 1055.5 1783.5 1078.1 1781.5 1082.6 1779.4 1086.4 1777.5 1089.5 1773.5 1094.3 1769.6 1098 1761.5 1103.8 1757.6 1106 1751.6 1108.2 1737.2 1111.9 1725.2 1116.7Z"/>
<path class="o" d="M1725.2 1116.7 1738.2 1116.7 1753.1 1112.9 1759.7 1110.5 1764.1 1108.1 1770.6 1103.5 1775 1099.9 1779.4 1095.2 1781.6 1092.4 1783.8 1088.8 1785.9 1084.8 1788.1 1080 1796.4 1057.4 1800.7 1047.5 1805.1 1032.8 1842.2 1032.8 1842.2 1032.8 1806.4 1032.8 1801.8 1047.9 1797.6 1057.9 1789.2 1080.4 1787 1085.3 1784.8 1089.5 1782.6 1093 1780.3 1096 1775.8 1100.8 1771.3 1104.5 1764.7 1109.1 1760.2 1111.6 1755.7 1113.4 1744.9 1116.5 1742.7 1116.7 1725.2 1116.7Z"/>
<path class="l" d="M1725.2 1116.7 1737.2 1111.9 1751.6 1108.2 1757.6 1106 1761.5 1103.8 1769.6 1098 1773.5 1094.3 1777.5 1089.5 1779.4 1086.4 1781.5 1082.6 1783.5 1078.1 1791.8 1055.5 1796 1045.9 1800.1 1032.1 1842.2 1032.8 1842.2 1032.8 1805.1 1032.8 1800.7 1047.5 1796.4 1057.4 1788.1 1080 1785.9 1084.8 1783.8 1088.8 1781.6 1092.4 1779.4 1095.2 1775 1099.9 1770.6 1103.5 1764.1 1108.1 1759.7 1110.5 1753.1 1112.9 1738.2 1116.7 1725.2 1116.7Z"/>
</g>
<path class="g" d="M1754.5 1032.8V1116.8M1769.5 1032.8V1116.8M1798.5 1032.8V1116.8M1827.5 1032.8V1116.8"/>
<path class="g" d="M1719.2 1095.5H1847.3M1719.2 1074.5H1847.3M1719.2 1053.5H1847.3"/>
<path class="v" d="M1725 1032.8V1116.8M1783.5 1032.8V1116.8M1842 1032.8V1116.8" stroke="#ff0000"/>
<path class="k" clip-path="url(#c7_8)" d="M1725.2 1116.7 1750.3 1111.2 1756.5 1109.1 1760.7 1107.2 1767 1103.1 1773.3 1098.1 1777.4 1093.6 1779.5 1090.9 1781.6 1087.6 1783.7 1083.7 1785.8 1079 1794.1 1056.5 1798.3 1046.7 1802.5 1032.8 1842.2 1032.8"/>
<path class="m" d="M1739.5 1116.8V1127.6M1754.5 1116.8V1127.6M1769.5 1116.8V1127.6M1798.5 1116.8V1127.6M1812.5 1116.8V1127.6M1827.5 1116.8V1127.6M1719.2 1095.5H1708.4M1719.2 1074.5H1708.4M1719.2 1053.5H1708.4"/>
<path class="t" d="M1725.2 1116.8V1135.3M1783.7 1116.8V1135.3M1842.2 1116.8V1135.3M1719.2 1116.8H1700.7M1719.2 1032.8H1700.7" stroke="#ff0000"/>
<rect class="s" x="1719.2" y="1033.2" width="128.1" height="84" stroke="#ff0000"/>
</g>
<g>
<g clip-path="url(#c7_9)">
<path class="b" d="M1904.6 1116.7 1924.2 1107.4 1929.5 1104.1 1931.1 1102.9 1934.5 1100.7 1939.9 1096.1 1943.5 1091.7 1947.4 1085.8 1951.3 1078.4 1953.3 1074 1961.5 1052.2 1967.7 1031.1 2021.6 1032.8 2021.6 1032.8 1969.4 1031.6 1963.2 1052.8 1954.9 1074.7 1952.9 1079.2 1949 1086.8 1945 1092.8 1941.2 1097.4 1937.4 1100.8 1933.7 1103.4 1930.1 1105.3 1924.2 1107.4 1904.6 1116.7Z"/>
<path class="b" d="M1904.6 1116.7 1916.9 1112.6 1939.6 1109.2 1945.6 1107.8 1947.4 1107.1 1951.1 1105 1957.1 1100.1 1963.3 1094.2 1967.3 1089.6 1971.2 1083.7 1973.2 1079.7 1977.3 1068.7 1981.5 1054.7 1985.7 1043.4 1987.8 1036.2 1990 1031.6 2021.6 1032.8 2021.6 1032.8 1994 1032 1989.8 1046.2 1985.7 1058.7 1981.5 1072.8 1979.4 1078.4 1977.4 1083 1975.4 1086.9 1973.4 1090.1 1971.5 1092.7 1967.5 1097.1 1963.6 1100.5 1959.5 1103.3 1951.5 1108.1 1947.7 1109.5 1943.9 1110.3 1917 1113.2 1904.6 1116.7Z"/>
<path class="o" d="M1904.6 1116.7 1924.2 1107.4 1930.1 1105.3 1933.7 1103.4 1937.4 1100.8 1941.2 1097.4 1945 1092.8 1949 1086.8 1952.9 1079.2 1954.9 1074.7 1963.2 1052.8 1969.4 1031.6 2021.6 1032.8 2021.6 1032.8 1970.9 1032.1 1964.6 1053.2 1956.3 1075.3 1952.3 1084 1950.3 1087.6 1946.2 1093.7 1942.3 1098.5 1940.3 1100.3 1936.4 1103.5 1932.6 1105.8 1928.7 1107.5 1918.5 1110.6 1904.6 1116.7Z"/>
<path class="o" d="M1904.6 1116.7 1916.7 1111.9 1935.3 1108.2 1945.3 1104.9 1947.1 1104 1948.9 1102.7 1952.8 1098.9 1956.8 1093.8 1960.8 1087.7 1962.8 1083.6 1973.2 1057 1977.4 1047.8 1979.4 1042.8 1981.5 1035.4 1983.8 1031.5 2021.6 1032.8 2021.6 1032.8 1990 1031.6 1987.8 1036.2 1985.7 1043.4 1981.5 1054.7 1977.3 1068.7 1973.2 1079.7 1971.2 1083.7 1967.3 1089.6 1963.3 1094.2 1957.1 1100.1 1951.1 1105 1947.4 1107.1 1945.6 1107.8 1939.6 1109.2 1916.9 1112.6 1904.6 1116.7Z"/>
<path class="l" d="M1904.6 1116.7 1918.5 1110.6 1928.7 1107.5 1932.6 1105.8 1936.4 1103.5 1940.3 1100.3 1942.3 1098.5 1946.2 1093.7 1950.3 1087.6 1952.3 1084 1956.3 1075.3 1964.6 1053.2 1970.9 1032.1 2021.6 1032.8 2021.6 1032.8 1983.8 1031.5 1981.5 1035.4 1979.4 1042.8 1977.4 1047.8 1973.2 1057 1962.8 1083.6 1960.8 1087.7 1956.8 1093.8 1952.8 1098.9 1948.9 1102.7 1947.1 1104 1945.3 1104.9 1935.3 1108.2 1916.7 1111.9 1904.6 1116.7Z"/>
</g>
<path class="g" d="M1919.5 1032.8V1116.8M1948.5 1032.8V1116.8M1992.5 1032.8V1116.8"/>
<path class="g" d="M1898.6 1095.5H2026.7M1898.6 1074.5H2026.7M1898.6 1053.5H2026.7"/>
<path class="v" d="M1904.4 1032.8V1116.8M1962.9 1032.8V1116.8M2021.4 1032.8V1116.8" stroke="#ff0000"/>
<path class="k" clip-path="url(#c7_9)" d="M1904.6 1116.7 1925.5 1111.5 1931.8 1109.3 1935.9 1107.1 1940.1 1104.1 1944.3 1100.4 1946.4 1098.1 1950.6 1092.3 1954.7 1085.3 1958.9 1076.4 1967.3 1054.1 1973.5 1032.9 2021.6 1032.8"/>
<path class="m" d="M1919.5 1116.8V1127.6M1933.5 1116.8V1127.6M1948.5 1116.8V1127.6M1977.5 1116.8V1127.6M1992.5 1116.8V1127.6M2006.5 1116.8V1127.6M1898.6 1095.5H1887.8M1898.6 1074.5H1887.8M1898.6 1053.5H1887.8"/>
<path class="t" d="M1904.6 1116.8V1135.3M1963.1 1116.8V1135.3M2021.6 1116.8V1135.3M1898.6 1116.8H1880.1M1898.6 1032.8H1880.1" stroke="#ff0000"/>
<rect class="s" x="1898.6" y="1033.2" width="128.1" height="84" stroke="#ff0000"/>
</g>
<g>
<g clip-path="url(#c7_10)">
<path class="b" d="M2084 1116.7 2097.9 1111 2101.6 1109.1 2108.5 1104.1 2111.8 1101.3 2117.4 1097.1 2121 1093.5 2126.8 1086.1 2130.7 1080.3 2134.6 1073.1 2136.6 1068.8 2138.5 1063.8 2140.5 1057.7 2142.6 1050.5 2147 1033.2 2149.9 1028.9 2201 1032.8 2201 1032.8 2151.4 1030 2148.6 1033.9 2144.3 1051 2142.3 1058.2 2140.2 1064.4 2138.3 1069.5 2136.3 1073.9 2134.3 1077.8 2130.3 1084.3 2124.3 1092.4 2120.5 1096.7 2116.7 1100 2110.9 1104 2105.1 1106.9 2101.6 1109.1 2097.9 1111 2084 1116.7Z"/>
<path class="b" d="M2084 1116.7 2099.3 1116.8 2104 1116.4 2108.9 1115.5 2111.2 1114.6 2118 1110.8 2122.6 1107.5 2127.1 1103.5 2131.7 1098.5 2138.2 1089.6 2142.6 1082.3 2144.8 1078.1 2147 1073.2 2149.2 1067.6 2151.4 1061 2153.5 1053.4 2157.5 1037.3 2161.7 1032.8 2201 1032.8 2201 1032.8 2173.7 1031.4 2171.6 1034.8 2169.7 1037.3 2167.6 1039.5 2165.2 1043.1 2163 1048.5 2156.7 1067.9 2154.7 1072.9 2152.7 1077.3 2148.6 1084.5 2144.5 1090.5 2138.5 1098.2 2136.6 1100.1 2134.7 1101.6 2128.7 1105.4 2124.9 1107.1 2118.9 1108.7 2096.2 1112.4 2084 1116.7Z"/>
<path class="o" d="M2084 1116.7 2097.9 1111 2101.6 1109.1 2105.1 1106.9 2110.9 1104 2116.7 1100 2120.5 1096.7 2124.3 1092.4 2130.3 1084.3 2134.3 1077.8 2136.3 1073.9 2138.3 1069.5 2140.2 1064.4 2142.3 1058.2 2144.3 1051 2148.6 1033.9 2151.4 1030 2201 1032.8 2201 1032.8 2152.8 1031.1 2150.3 1034.5 2146.1 1051.5 2144 1058.8 2142 1065 2139.9 1070.2 2137.9 1074.7 2135.9 1078.6 2131.8 1085.3 2125.7 1093.6 2121.7 1098 2117.8 1101.4 2111.8 1105.5 2103.9 1109.4 2098 1111.2 2084 1116.7Z"/>
<path class="o" d="M2084 1116.7 2099.3 1116.8 2103.8 1115.7 2110.4 1112.9 2117 1109.2 2121.4 1106.1 2125.9 1102.2 2130.3 1097.3 2136.7 1088.6 2141 1081.5 2143.2 1077.3 2145.4 1072.5 2147.5 1067 2149.6 1060.5 2151.8 1053 2155.8 1036.7 2159.1 1032.8 2201 1032.8 2201 1032.8 2161.7 1032.8 2157.5 1037.3 2153.5 1053.4 2151.4 1061 2149.2 1067.6 2147 1073.2 2144.8 1078.1 2142.6 1082.3 2138.2 1089.6 2131.7 1098.5 2127.1 1103.5 2122.6 1107.5 2118 1110.8 2111.2 1114.6 2108.9 1115.5 2104 1116.4 2099.3 1116.8 2084 1116.7Z"/>
<path class="l" d="M2084 1116.7 2098 1111.2 2103.9 1109.4 2111.8 1105.5 2117.8 1101.4 2121.7 1098 2125.7 1093.6 2131.8 1085.3 2135.9 1078.6 2137.9 1074.7 2139.9 1070.2 2142 1065 2144 1058.8 2146.1 1051.5 2150.3 1034.5 2152.8 1031.1 2201 1032.8 2201 1032.8 2159.1 1032.8 2155.8 1036.7 2151.8 1053 2149.6 1060.5 2147.5 1067 2145.4 1072.5 2143.2 1077.3 2141 1081.5 2136.7 1088.6 2130.3 1097.3 2125.9 1102.2 2121.4 1106.1 2117 1109.2 2110.4 1112.9 2103.8 1115.7 2099.3 1116.8 2084 1116.7Z"/>
</g>
<path class="g" d="M2098.5 1032.8V1116.8M2113.5 1032.8V1116.8M2157.5 1032.8V1116.8M2186.5 1032.8V1116.8"/>
<path class="g" d="M2078 1095.5H2206.1M2078 1074.5H2206.1M2078 1053.5H2206.1"/>
<path class="v" d="M2083.8 1032.8V1116.8M2142.3 1032.8V1116.8M2200.8 1032.8V1116.8" stroke="#ff0000"/>
<path class="k" clip-path="url(#c7_10)" d="M2084 1116.7 2100.7 1113.4 2107 1111.1 2113.3 1107.9 2117.4 1105.2 2121.6 1101.9 2125.8 1097.8 2132.1 1089.9 2136.2 1083.6 2140.4 1075.9 2142.5 1071.3 2144.6 1066 2146.7 1059.6 2148.8 1052.2 2152.9 1035.5 2155 1032.8 2201 1032.8"/>
<path class="m" d="M2098.5 1116.8V1127.6M2113.5 1116.8V1127.6M2127.5 1116.8V1127.6M2157.5 1116.8V1127.6M2171.5 1116.8V1127.6M2186.5 1116.8V1127.6M2078 1095.5H2067.2M2078 1074.5H2067.2M2078 1053.5H2067.2"/>
<path class="t" d="M2084 1116.8V1135.3M2142.5 1116.8V1135.3M2201 1116.8V1135.3M2078 1116.8H2059.5M2078 1032.8H2059.5" stroke="#ff0000"/>
<rect class="s" x="2078" y="1033.2" width="128.1" height="84" stroke="#ff0000"/>
</g>
<g>
<g clip-path="url(#c8_0)">
<path class="b" d="M290 1234.7 299.5 1228.9 302.9 1226 304.4 1224.2 310.3 1218.6 314.3 1214.1 318.2 1208.5 320.1 1205.2 322.1 1201 326.2 1190.7 328.2 1184.6 330.3 1177.5 334.5 1160.3 336.7 1152.1 339.3 1148.5 407 1150.7 407 1150.7 340 1149 337.5 1152.4 335.3 1160.5 331.2 1177.7 329.1 1184.8 327.1 1191 323 1201.4 321 1205.6 319 1209 315 1214.7 311 1219.2 305 1224.9 299.5 1228.9 290 1234.7Z"/>
<path class="b" d="M290 1234.7 301.3 1232.9 303.8 1232.3 306.4 1231.3 311.7 1228.4 314.3 1226.7 316.8 1224.8 321.2 1219.7 325.8 1213.3 328.1 1209.3 330.3 1204.6 334.6 1193.7 336.8 1187.2 338.9 1179.8 345 1155.4 349.3 1150.7 407 1150.7 407 1150.7 351.8 1150.7 346.4 1155.9 340.4 1180.2 338.2 1187.7 336 1194.2 331.7 1205.2 329.4 1210 327.1 1214.1 324.7 1217.5 322.4 1220.6 319.6 1222.9 311.7 1228.4 306.4 1231.3 303.8 1232.3 301.3 1232.9 290 1234.7Z"/>
<path class="o" d="M290 1234.7 299.5 1228.9 305 1224.9 311 1219.2 315 1214.7 319 1209 321 1205.6 323 1201.4 327.1 1191 329.1 1184.8 331.2 1177.7 335.3 1160.5 337.5 1152.4 340 1149 407 1150.7 407 1150.7 340.6 1149.5 338.2 1152.7 336.1 1160.7 331.9 1177.9 329.8 1185.1 327.8 1191.2 323.7 1201.7 321.6 1206 317.6 1212.5 313.5 1217.6 307.4 1223.8 303.5 1227 299.6 1229 290 1234.7Z"/>
<path class="o" d="M290 1234.7 301.3 1232.9 303.8 1232.3 306.4 1231.3 309 1230 315.7 1223.7 320.1 1218.7 324.5 1212.5 326.7 1208.6 328.9 1204 333.2 1193.2 335.3 1186.8 337.5 1179.4 343.6 1154.8 347.1 1150.7 407 1150.7 407 1150.7 349.3 1150.7 345 1155.4 338.9 1179.8 336.8 1187.2 334.6 1193.7 330.3 1204.6 328.1 1209.3 325.8 1213.3 321.2 1219.7 316.8 1224.8 314.3 1226.7 311.7 1228.4 306.4 1231.3 303.8 1232.3 301.3 1232.9 290 1234.7Z"/>
<path class="l" d="M290 1234.7 299.6 1229 303.5 1227 307.4 1223.8 313.5 1217.6 317.6 1212.5 321.6 1206 323.7 1201.7 327.8 1191.2 329.8 1185.1 331.9 1177.9 336.1 1160.7 338.2 1152.7 340.6 1149.5 407 1150.7 407 1150.7 347.1 1150.7 343.6 1154.8 337.5 1179.4 335.3 1186.8 333.2 1193.2 328.9 1204 326.7 1208.6 324.5 1212.5 320.1 1218.7 315.7 1223.7 309 1230 306.4 1231.3 303.8 1232.3 301.3 1232.9 290 1234.7Z"/>
</g>
<path class="g" d="M304.5 1150.7V1234.7M333.5 1150.7V1234.7M377.5 1150.7V1234.7M392.5 1150.7V1234.7"/>
<path class="g" d="M284 1171.5H412.1"/>
<path class="v" d="M289.8 1150.7V1234.7M348.3 1150.7V1234.7M406.8 1150.7V1234.7" stroke="#ff0000"/>
<path class="k" clip-path="url(#c8_0)" d="M290 1234.7 300.4 1230.9 304.6 1228.7 308.8 1225.3 315.1 1218.9 319.3 1213.6 321.3 1210.5 323.4 1206.9 325.5 1202.5 329.7 1191.9 331.8 1185.7 333.9 1178.4 338.1 1161.2 340.1 1153.4 342.2 1150.7 407 1150.7"/>
<path class="m" d="M304.5 1234.7V1245.5M319.5 1234.7V1245.5M333.5 1234.7V1245.5M363.5 1234.7V1245.5M377.5 1234.7V1245.5M392.5 1234.7V1245.5M284 1213.5H273.2M284 1192.5H273.2M284 1171.5H273.2"/>
<path class="t" d="M290 1234.7V1253.2M348.5 1234.7V1253.2M407 1234.7V1253.2M284 1234.7H265.5M284 1150.7H265.5" stroke="#ff0000"/>
<rect class="s" x="284" y="1151.1" width="128.1" height="84" stroke="#ff0000"/>
</g>
<g>
<g clip-path="url(#c8_1)">
<path class="b" d="M469.4 1234.7 483 1227.4 486.6 1225.1 489.6 1222.4 492.2 1218.6 496.6 1210.8 500.3 1204.7 504.2 1197 508.2 1187.3 512.4 1174.6 516.4 1163.8 518.5 1156.2 521.2 1148.6 525.4 1144.6 586.4 1150.7 586.4 1150.7 526.5 1146 522.8 1149.5 520.2 1156.7 518.2 1164.4 514.1 1175.2 509.9 1187.9 507.9 1193.1 503.9 1201.9 500 1208.9 496.2 1214.4 492.4 1218.8 489.6 1222.4 486.6 1225.1 483 1227.4 469.4 1234.7Z"/>
<path class="b" d="M469.4 1234.7 485.1 1233.2 489.8 1232.3 492.4 1231.5 495.1 1230.5 498 1228.9 500.9 1227 503.3 1224.5 507.9 1218.7 512.3 1211.4 516.8 1202.7 521.1 1191.9 525.3 1179.3 529.6 1167.9 531.7 1160.2 533.3 1155.2 533.6 1155.6 533.6 1150.7 586.4 1150.7 586.4 1150.7 536.9 1150.7 531.6 1168.6 527.3 1180 523.1 1192.6 520.9 1198.4 516.4 1208.2 511.9 1216.3 509.4 1219.8 503.7 1224.8 498 1228.9 495.1 1230.5 492.4 1231.5 489.8 1232.3 485.1 1233.2 469.4 1234.7Z"/>
<path class="o" d="M469.4 1234.7 483 1227.4 486.6 1225.1 489.6 1222.4 492.4 1218.8 496.2 1214.4 500 1208.9 503.9 1201.9 507.9 1193.1 509.9 1187.9 514.1 1175.2 518.2 1164.4 520.2 1156.7 522.8 1149.5 526.5 1146 586.4 1150.7 586.4 1150.7 527.8 1147.7 524.6 1150.5 522.3 1157.4 520.2 1165 516.1 1175.9 511.9 1188.6 507.8 1198.6 503.8 1206.6 499.8 1213.1 495.8 1218.1 492 1222 490.3 1223.4 483 1227.4 469.4 1234.7Z"/>
<path class="o" d="M469.4 1234.7 485.1 1233.2 487.4 1232.8 489.7 1232 494.5 1229.5 496.9 1227.6 501.5 1222.9 505.9 1217.3 510.2 1210.2 514.6 1201.7 518.9 1191.1 523 1178.4 527.3 1167.2 529.4 1159.5 531.2 1154 541.3 1150.7 586.4 1150.7 586.4 1150.7 533.6 1150.7 533.6 1155.6 533.3 1155.2 531.7 1160.2 529.6 1167.9 525.3 1179.3 521.1 1191.9 516.8 1202.7 512.3 1211.4 507.9 1218.7 503.3 1224.5 500.9 1227 498 1228.9 495.1 1230.5 492.4 1231.5 489.8 1232.3 485.1 1233.2 469.4 1234.7Z"/>
<path class="l" d="M469.4 1234.7 483 1227.4 490.3 1223.4 492 1222 495.8 1218.1 499.8 1213.1 503.8 1206.6 507.8 1198.6 511.9 1188.6 516.1 1175.9 520.2 1165 522.3 1157.4 524.6 1150.5 527.8 1147.7 586.4 1150.7 586.4 1150.7 541.3 1150.7 531.2 1154 529.4 1159.5 527.3 1167.2 523 1178.4 518.9 1191.1 514.6 1201.7 510.2 1210.2 505.9 1217.3 501.5 1222.9 496.9 1227.6 494.5 1229.5 489.7 1232 487.4 1232.8 485.1 1233.2 469.4 1234.7Z"/>
</g>
<path class="g" d="M498.5 1150.7V1234.7M542.5 1150.7V1234.7M571.5 1150.7V1234.7"/>
<path class="g" d="M463.4 1171.5H591.5"/>
<path class="v" d="M469.1 1150.7V1234.7M527.7 1150.7V1234.7M586.2 1150.7V1234.7" stroke="#ff0000"/>
<path class="k" clip-path="url(#c8_1)" d="M469.4 1234.7 484 1230.3 490.3 1227.7 492.4 1226.4 494.5 1224.8 498.7 1220.5 502.8 1215.2 507 1208.4 511.2 1200.2 515.4 1189.9 519.5 1177.2 523.7 1166.1 525.8 1158.4 527.9 1152.3 530 1150.7 586.4 1150.7"/>
<path class="m" d="M484.5 1234.7V1245.5M498.5 1234.7V1245.5M513.5 1234.7V1245.5M542.5 1234.7V1245.5M557.5 1234.7V1245.5M571.5 1234.7V1245.5M463.4 1213.5H452.6M463.4 1192.5H452.6M463.4 1171.5H452.6"/>
<path class="t" d="M469.4 1234.7V1253.2M527.9 1234.7V1253.2M586.4 1234.7V1253.2M463.4 1234.7H444.9M463.4 1150.7H444.9" stroke="#ff0000"/>
<rect class="s" x="463.4" y="1151.1" width="128.1" height="84" stroke="#ff0000"/>
</g>
<g>
<g clip-path="url(#c8_2)">
<path class="b" d="M648.8 1234.7 658.5 1229.5 662 1227 665.4 1223.9 671.2 1219.3 675.1 1215.7 678.9 1211.2 682.8 1205.2 686.8 1197.7 688.8 1193.1 690.9 1187.9 692.9 1181.6 694.9 1174.2 697 1165.6 699.2 1158.4 701.5 1153.2 704.3 1148.8 707.7 1146.9 765.8 1150.7 765.8 1150.7 708.2 1147.9 705 1149.5 702.5 1153.7 700.2 1158.8 698 1165.8 696 1174.4 693.9 1181.9 691.9 1188.2 689.8 1193.5 687.8 1198.2 685.8 1202.2 681.7 1209 677.8 1214.2 673.9 1218.4 667.9 1223.3 662 1227 658.5 1229.5 648.8 1234.7Z"/>
<path class="b" d="M648.8 1234.7 660 1233.6 664.9 1232.5 669.9 1230.6 674.9 1228.2 677.3 1226.5 681.8 1222.2 686.4 1216.8 688.7 1213.6 693.1 1206 695.3 1201.7 697.5 1196.7 699.7 1191 701.9 1184.3 704 1176.5 706.1 1168 708 1161.6 711.1 1155.2 711.5 1155.5 711.5 1150.7 765.8 1150.7 765.8 1150.7 719.5 1149.8 717.4 1155.3 713.2 1165.3 709 1176.5 698.7 1200 694.5 1208.1 690.5 1215 688.6 1217.4 686.7 1219.4 682.7 1222.8 679 1225.1 673.2 1227.2 660.9 1229.9 648.8 1234.7Z"/>
<path class="o" d="M648.8 1234.7 658.5 1229.5 662 1227 667.9 1223.3 673.9 1218.4 677.8 1214.2 681.7 1209 685.8 1202.2 687.8 1198.2 689.8 1193.5 691.9 1188.2 693.9 1181.9 696 1174.4 698 1165.8 700.2 1158.8 702.5 1153.7 705 1149.5 708.2 1147.9 765.8 1150.7 765.8 1150.7 708.5 1148.7 705.7 1150.1 703.3 1154.1 701.1 1159.1 698.9 1166.1 696.8 1174.7 694.8 1182.2 692.7 1188.5 690.7 1193.9 688.6 1198.5 684.5 1206.2 680.5 1212.4 678.5 1214.8 674.5 1219 668.4 1224 662.5 1227.8 658.5 1229.5 648.8 1234.7Z"/>
<path class="o" d="M648.8 1234.7 660 1233.6 664.9 1232.5 669.4 1229.8 675.9 1224.9 680.3 1220.7 684.7 1215.6 689.1 1208.9 693.4 1200.8 695.6 1195.9 697.7 1190.3 699.8 1183.7 701.9 1176 704 1167.5 706 1160.9 708 1156.5 709.6 1153.7 726.3 1150.7 765.8 1150.7 765.8 1150.7 711.5 1150.7 711.5 1155.5 711.1 1155.2 708 1161.6 706.1 1168 704 1176.5 701.9 1184.3 699.7 1191 697.5 1196.7 695.3 1201.7 693.1 1206 688.7 1213.6 686.4 1216.8 681.8 1222.2 677.3 1226.5 674.9 1228.2 669.9 1230.6 664.9 1232.5 660 1233.6 648.8 1234.7Z"/>
<path class="l" d="M648.8 1234.7 658.5 1229.5 662.5 1227.8 668.4 1224 674.5 1219 678.5 1214.8 680.5 1212.4 684.5 1206.2 688.6 1198.5 690.7 1193.9 692.7 1188.5 694.8 1182.2 696.8 1174.7 698.9 1166.1 701.1 1159.1 703.3 1154.1 705.7 1150.1 708.5 1148.7 765.8 1150.7 765.8 1150.7 726.3 1150.7 709.6 1153.7 708 1156.5 706 1160.9 704 1167.5 701.9 1176 699.8 1183.7 697.7 1190.3 695.6 1195.9 693.4 1200.8 689.1 1208.9 684.7 1215.6 680.3 1220.7 675.9 1224.9 669.4 1229.8 664.9 1232.5 660 1233.6 648.8 1234.7Z"/>
</g>
<path class="g" d="M663.5 1150.7V1234.7M692.5 1150.7V1234.7M721.5 1150.7V1234.7M736.5 1150.7V1234.7"/>
<path class="g" d="M642.8 1171.5H770.9"/>
<path class="v" d="M648.5 1150.7V1234.7M707.1 1150.7V1234.7M765.6 1150.7V1234.7" stroke="#ff0000"/>
<path class="k" clip-path="url(#c8_2)" d="M648.8 1234.7 659.3 1231.5 663.5 1229.7 667.6 1227.2 673.9 1222.5 678.1 1218.6 682.2 1213.7 686.4 1207.3 690.6 1199.5 692.7 1194.7 694.8 1189.3 696.9 1182.8 698.9 1175.2 701 1166.7 703.1 1159.8 705.2 1155.1 707.3 1151.6 709.4 1150.7 765.8 1150.7"/>
<path class="m" d="M663.5 1234.7V1245.5M678.5 1234.7V1245.5M692.5 1234.7V1245.5M721.5 1234.7V1245.5M736.5 1234.7V1245.5M751.5 1234.7V1245.5M642.8 1213.5H632M642.8 1192.5H632M642.8 1171.5H632"/>
<path class="t" d="M648.8 1234.7V1253.2M707.3 1234.7V1253.2M765.8 1234.7V1253.2M642.8 1234.7H624.3M642.8 1150.7H624.3" stroke="#ff0000"/>
<rect class="s" x="642.8" y="1151.1" width="128.1" height="84" stroke="#ff0000"/>
</g>
<g>
<g clip-path="url(#c8_3)">
<path class="b" d="M828.2 1234.7 840 1229.1 847.3 1224.5 850.6 1221.8 854.8 1216.6 858.6 1212.5 862.3 1207.5 866.2 1201.2 870 1193.3 872 1188.1 882.4 1154.8 885.3 1147.9 890.4 1144.5 945.2 1150.7 945.2 1150.7 891.1 1146.2 886.8 1148.9 884.2 1155.4 873.7 1188.7 871.7 1194 867.8 1202.1 863.8 1208.5 860 1213.7 856.1 1217.9 852.5 1221 849 1223.2 847.3 1224.5 840 1229.1 828.2 1234.7Z"/>
<path class="b" d="M828.2 1234.7 841.5 1234.1 848.5 1233 853.4 1231.8 855.8 1230.6 858.3 1229 860.7 1227 865.3 1222.5 869.8 1217.1 874.2 1210.6 878.6 1202.6 880.8 1197.7 883 1191.9 893.4 1158.7 896.2 1150.7 945.2 1150.7 945.2 1150.7 898 1150.7 884.7 1192.4 882.5 1198.4 880.2 1203.4 878 1207.7 873.5 1215 868.9 1221.2 864.3 1226.1 861.7 1228.1 858.8 1229.7 856 1230.9 853.4 1231.8 848.5 1233 841.5 1234.1 828.2 1234.7Z"/>
<path class="o" d="M828.2 1234.7 840 1229.1 847.3 1224.5 849 1223.2 852.5 1221 856.1 1217.9 860 1213.7 863.8 1208.5 867.8 1202.1 871.7 1194 873.7 1188.7 884.2 1155.4 886.8 1148.9 891.1 1146.2 945.2 1150.7 945.2 1150.7 891.8 1147.8 888.3 1149.9 885.9 1156 875.4 1189.2 873.4 1194.7 871.4 1199.1 869.4 1203 865.3 1209.5 861.4 1214.8 857.4 1219.1 853.6 1222.5 849.8 1224.7 841.9 1228.1 840 1229.1 828.2 1234.7Z"/>
<path class="o" d="M828.2 1234.7 841.5 1234.1 843.8 1233.8 850.4 1231.3 854.9 1229 857.2 1227.5 861.7 1223.5 866.1 1218.8 870.5 1213 874.8 1205.9 877 1201.8 879.1 1197 881.3 1191.3 891.7 1158.1 893.5 1153.3 894.2 1153.6 894.2 1150.7 945.2 1150.7 945.2 1150.7 896.2 1150.7 893.4 1158.7 883 1191.9 880.8 1197.7 878.6 1202.6 874.2 1210.6 869.8 1217.1 865.3 1222.5 860.7 1227 858.3 1229 855.8 1230.6 853.4 1231.8 848.5 1233 841.5 1234.1 828.2 1234.7Z"/>
<path class="l" d="M828.2 1234.7 840 1229.1 841.9 1228.1 849.8 1224.7 853.6 1222.5 857.4 1219.1 861.4 1214.8 865.3 1209.5 869.4 1203 871.4 1199.1 873.4 1194.7 875.4 1189.2 885.9 1156 888.3 1149.9 891.8 1147.8 945.2 1150.7 945.2 1150.7 894.2 1150.7 894.2 1153.6 893.5 1153.3 891.7 1158.1 881.3 1191.3 879.1 1197 877 1201.8 874.8 1205.9 870.5 1213 866.1 1218.8 861.7 1223.5 857.2 1227.5 854.9 1229 850.4 1231.3 843.8 1233.8 841.5 1234.1 828.2 1234.7Z"/>
</g>
<path class="g" d="M842.5 1150.7V1234.7M857.5 1150.7V1234.7M915.5 1150.7V1234.7"/>
<path class="g" d="M822.2 1171.5H950.3"/>
<path class="v" d="M828 1150.7V1234.7M886.5 1150.7V1234.7M945 1150.7V1234.7" stroke="#ff0000"/>
<path class="k" clip-path="url(#c8_3)" d="M828.2 1234.7 840.8 1231.6 849.1 1228.5 853.3 1226.4 855.4 1225 859.6 1221.3 863.7 1216.8 867.9 1211.3 872.1 1204.4 874.2 1200.4 876.3 1195.8 878.3 1190.3 888.8 1157 890.9 1151.6 893 1150.7 945.2 1150.7"/>
<path class="m" d="M842.5 1234.7V1245.5M857.5 1234.7V1245.5M872.5 1234.7V1245.5M901.5 1234.7V1245.5M915.5 1234.7V1245.5M930.5 1234.7V1245.5M822.2 1213.5H811.4M822.2 1192.5H811.4M822.2 1171.5H811.4"/>
<path class="t" d="M828.2 1234.7V1253.2M886.7 1234.7V1253.2M945.2 1234.7V1253.2M822.2 1234.7H803.7M822.2 1150.7H803.7" stroke="#ff0000"/>
<rect class="s" x="822.2" y="1151.1" width="128.1" height="84" stroke="#ff0000"/>
</g>
<g>
<g clip-path="url(#c8_4)">
<path class="b" d="M1007.6 1234.7 1021.2 1227.7 1028.5 1222.8 1033.6 1218.5 1038.2 1213.5 1041.5 1210.3 1045.1 1205.4 1049 1199.2 1050.9 1195.6 1052.7 1191.5 1054.6 1185.9 1060.8 1165.5 1063 1157.7 1065.4 1151 1067.9 1146.7 1124.6 1150.7 1124.6 1150.7 1069.6 1147.7 1067.2 1151.8 1064.9 1158.3 1062.7 1166.1 1056.5 1186.5 1054.5 1192.2 1052.6 1196.5 1048.7 1203.4 1044.8 1209.2 1041.2 1213.5 1037.6 1216.5 1032 1220.1 1028.5 1222.8 1021.2 1227.7 1007.6 1234.7Z"/>
<path class="b" d="M1007.6 1234.7 1023.2 1233.4 1032.6 1231.6 1037.5 1230 1042.1 1227.2 1046.8 1223.7 1049.2 1221.5 1051.6 1219 1056.2 1212.8 1060.6 1205.7 1062.8 1201.4 1065.1 1196.3 1067.3 1190 1073.6 1169.2 1075.7 1161.7 1077.5 1156.4 1081.2 1150.7 1124.6 1150.7 1124.6 1150.7 1088.5 1148.1 1084.5 1150.1 1082.3 1160.2 1080.3 1168.1 1078.2 1174.9 1074.1 1186.1 1067.9 1199.7 1063.8 1207.1 1059.7 1213.4 1055.8 1218.4 1054 1220.1 1052.1 1221.5 1046.2 1224.9 1042.3 1226.5 1038.3 1227.5 1019.8 1230.6 1007.6 1234.7Z"/>
<path class="o" d="M1007.6 1234.7 1021.2 1227.7 1028.5 1222.8 1032 1220.1 1037.6 1216.5 1041.2 1213.5 1044.8 1209.2 1048.7 1203.4 1052.6 1196.5 1054.5 1192.2 1056.5 1186.5 1062.7 1166.1 1064.9 1158.3 1067.2 1151.8 1069.6 1147.7 1124.6 1150.7 1124.6 1150.7 1071.6 1148.9 1069.3 1152.7 1067 1159 1064.9 1166.7 1058.7 1187.2 1056.7 1193 1054.7 1197.5 1052.7 1201.3 1048.7 1207.8 1044.7 1213.1 1040.9 1216.8 1037 1219.7 1031.1 1223.1 1023.1 1226.6 1007.6 1234.7Z"/>
<path class="o" d="M1007.6 1234.7 1023.2 1233.4 1025.5 1233 1034.2 1229.2 1040.8 1225.3 1045.3 1222 1047.6 1219.9 1049.9 1217.5 1054.3 1211.6 1058.6 1204.6 1060.8 1200.4 1063 1195.5 1065.2 1189.3 1071.5 1168.6 1073.5 1161 1075.5 1155.5 1078.5 1150.7 1124.6 1150.7 1124.6 1150.7 1081.2 1150.7 1077.5 1156.4 1075.7 1161.7 1073.6 1169.2 1067.3 1190 1065.1 1196.3 1062.8 1201.4 1060.6 1205.7 1056.2 1212.8 1051.6 1219 1049.2 1221.5 1046.8 1223.7 1042.1 1227.2 1037.5 1230 1032.6 1231.6 1023.2 1233.4 1007.6 1234.7Z"/>
<path class="l" d="M1007.6 1234.7 1023.1 1226.6 1031.1 1223.1 1037 1219.7 1040.9 1216.8 1044.7 1213.1 1048.7 1207.8 1052.7 1201.3 1054.7 1197.5 1056.7 1193 1058.7 1187.2 1064.9 1166.7 1067 1159 1069.3 1152.7 1071.6 1148.9 1124.6 1150.7 1124.6 1150.7 1078.5 1150.7 1075.5 1155.5 1073.5 1161 1071.5 1168.6 1065.2 1189.3 1063 1195.5 1060.8 1200.4 1058.6 1204.6 1054.3 1211.6 1049.9 1217.5 1047.6 1219.9 1045.3 1222 1040.8 1225.3 1034.2 1229.2 1025.5 1233 1023.2 1233.4 1007.6 1234.7Z"/>
</g>
<path class="g" d="M1036.5 1150.7V1234.7M1051.5 1150.7V1234.7M1080.5 1150.7V1234.7M1095.5 1150.7V1234.7M1109.5 1150.7V1234.7"/>
<path class="g" d="M1001.6 1171.5H1129.7"/>
<path class="v" d="M1007.4 1150.7V1234.7M1065.9 1150.7V1234.7M1124.4 1150.7V1234.7" stroke="#ff0000"/>
<path class="k" clip-path="url(#c8_4)" d="M1007.6 1234.7 1022.2 1230.6 1030.6 1227.2 1036.9 1223.8 1041 1221 1045.2 1217.5 1047.3 1215.3 1051.5 1209.7 1055.7 1202.9 1057.7 1198.9 1059.8 1194.3 1061.9 1188.2 1068.2 1167.6 1070.3 1160 1072.4 1154.1 1074.5 1150.7 1124.6 1150.7"/>
<path class="m" d="M1022.5 1234.7V1245.5M1036.5 1234.7V1245.5M1051.5 1234.7V1245.5M1080.5 1234.7V1245.5M1095.5 1234.7V1245.5M1109.5 1234.7V1245.5M1001.6 1213.5H990.8M1001.6 1192.5H990.8M1001.6 1171.5H990.8"/>
<path class="t" d="M1007.6 1234.7V1253.2M1066.1 1234.7V1253.2M1124.6 1234.7V1253.2M1001.6 1234.7H983.1M1001.6 1150.7H983.1" stroke="#ff0000"/>
<rect class="s" x="1001.6" y="1151.1" width="128.1" height="84" stroke="#ff0000"/>
</g>
<g>
<g clip-path="url(#c8_5)">
<path class="b" d="M1187 1234.7 1202.7 1227.1 1208.1 1223.7 1211.4 1221.1 1214.6 1218.2 1220.2 1213.5 1223.8 1209.6 1227.5 1204.6 1229.3 1201.3 1233.3 1192.7 1237.3 1181.7 1239.3 1175.4 1241.4 1168.2 1243.5 1159.6 1245.8 1152 1248.3 1147.5 1304 1150.7 1304 1150.7 1249.9 1148.4 1247.5 1152.7 1245.2 1160.1 1243.1 1168.7 1241.1 1175.9 1239 1182.3 1235 1193.4 1231 1202.2 1229 1205.6 1225.2 1210.8 1221.4 1214.8 1215.6 1219.7 1211.9 1222.1 1208.2 1223.8 1202.7 1227.1 1187 1234.7Z"/>
<path class="b" d="M1187 1234.7 1199.2 1230.3 1219.8 1226.9 1227.8 1224.5 1229.6 1223.8 1231.3 1222.6 1233.1 1220.8 1237.1 1215.8 1241.2 1209.9 1243.2 1206.6 1245.2 1202.7 1247.2 1198.2 1249.2 1192.7 1251.3 1185.2 1253.5 1178.7 1255.6 1173.2 1257.8 1168.5 1260.1 1165 1262.4 1162.3 1271 1154.7 1275.1 1151.5 1277.4 1149.4 1279.9 1148.3 1304 1150.7 1304 1150.7 1278.6 1149.6 1276.4 1154.6 1274.3 1163.9 1272.2 1171.3 1268.1 1183.7 1266 1188.9 1262 1198 1260 1201.4 1258.1 1203.7 1254.2 1207.5 1237.8 1220.2 1225.6 1227.3 1221.9 1228.6 1199.4 1231.2 1187 1234.7Z"/>
<path class="o" d="M1187 1234.7 1202.7 1227.1 1208.2 1223.8 1211.9 1222.1 1215.6 1219.7 1221.4 1214.8 1225.2 1210.8 1229 1205.6 1231 1202.2 1235 1193.4 1239 1182.3 1241.1 1175.9 1243.1 1168.7 1245.2 1160.1 1247.5 1152.7 1249.9 1148.4 1304 1150.7 1304 1150.7 1251.3 1149.2 1249 1153.3 1246.8 1160.5 1244.7 1169.1 1242.7 1176.4 1240.6 1182.8 1236.5 1194 1232.4 1202.9 1230.5 1206.4 1226.5 1211.8 1222.6 1216 1216.6 1221 1212.7 1223.5 1208.8 1225.4 1200.8 1228.2 1187 1234.7Z"/>
<path class="o" d="M1187 1234.7 1200.2 1234.1 1202.4 1233.7 1211.1 1230.7 1215.5 1228.5 1220 1225.7 1226.5 1220.2 1230.9 1215.5 1235.3 1209.5 1237.5 1205.5 1241.8 1196.2 1246.1 1184.7 1248.2 1178.1 1250.3 1170.6 1252.4 1162 1254.4 1155.4 1257.1 1150.7 1304 1150.7 1304 1150.7 1279.9 1148.3 1277.4 1149.4 1275.1 1151.5 1271 1154.7 1262.4 1162.3 1260.1 1165 1257.8 1168.5 1255.6 1173.2 1253.5 1178.7 1251.3 1185.2 1249.2 1192.7 1247.2 1198.2 1245.2 1202.7 1243.2 1206.6 1241.2 1209.9 1237.1 1215.8 1233.1 1220.8 1231.3 1222.6 1229.6 1223.8 1227.8 1224.5 1219.8 1226.9 1199.2 1230.3 1187 1234.7Z"/>
<path class="l" d="M1187 1234.7 1200.8 1228.2 1208.8 1225.4 1212.7 1223.5 1216.6 1221 1222.6 1216 1226.5 1211.8 1230.5 1206.4 1232.4 1202.9 1236.5 1194 1240.6 1182.8 1242.7 1176.4 1244.7 1169.1 1246.8 1160.5 1249 1153.3 1251.3 1149.2 1304 1150.7 1304 1150.7 1257.1 1150.7 1254.4 1155.4 1252.4 1162 1250.3 1170.6 1248.2 1178.1 1246.1 1184.7 1241.8 1196.2 1237.5 1205.5 1235.3 1209.5 1230.9 1215.5 1226.5 1220.2 1220 1225.7 1215.5 1228.5 1211.1 1230.7 1202.4 1233.7 1200.2 1234.1 1187 1234.7Z"/>
</g>
<path class="g" d="M1201.5 1150.7V1234.7M1230.5 1150.7V1234.7M1260.5 1150.7V1234.7M1289.5 1150.7V1234.7"/>
<path class="g" d="M1181 1171.5H1309.1"/>
<path class="v" d="M1186.8 1150.7V1234.7M1245.3 1150.7V1234.7M1303.8 1150.7V1234.7" stroke="#ff0000"/>
<path class="k" clip-path="url(#c8_5)" d="M1187 1234.7 1203.7 1230.4 1212.1 1227.2 1216.3 1224.8 1222.5 1220.1 1226.7 1216.1 1230.9 1211 1233 1208 1235.1 1204.3 1239.2 1195.1 1243.4 1183.8 1245.5 1177.3 1247.6 1169.9 1249.7 1161.3 1251.8 1154.4 1253.9 1150.7 1304 1150.7"/>
<path class="m" d="M1201.5 1234.7V1245.5M1216.5 1234.7V1245.5M1230.5 1234.7V1245.5M1260.5 1234.7V1245.5M1274.5 1234.7V1245.5M1289.5 1234.7V1245.5M1181 1213.5H1170.2M1181 1192.5H1170.2M1181 1171.5H1170.2"/>
<path class="t" d="M1187 1234.7V1253.2M1245.5 1234.7V1253.2M1304 1234.7V1253.2M1181 1234.7H1162.5M1181 1150.7H1162.5" stroke="#ff0000"/>
<rect class="s" x="1181" y="1151.1" width="128.1" height="84" stroke="#ff0000"/>
</g>
<g>
<g clip-path="url(#c8_6)">
<path class="b" d="M1366.4 1234.7 1382.1 1227.3 1387.5 1223.9 1392.4 1219.8 1396.8 1214.6 1402.4 1208.8 1406.1 1204 1409.7 1198 1413.6 1189 1421.7 1163 1423.9 1155.3 1426.7 1147.6 1432.2 1143.7 1483.4 1150.7 1483.4 1150.7 1433.1 1145.7 1428.5 1148.8 1425.9 1155.9 1423.8 1163.6 1415.5 1189.7 1411.6 1198.9 1409.7 1202.3 1407.8 1205.2 1404 1210.2 1398.2 1216.2 1394.5 1219.3 1391 1221.4 1387.5 1223.9 1382.1 1227.3 1366.4 1234.7Z"/>
<path class="b" d="M1366.4 1234.7 1381.9 1234.1 1386.5 1233.5 1393.2 1230.8 1397.7 1228.4 1402.3 1225.1 1408.9 1218.7 1413.3 1213.6 1417.8 1207.1 1420 1203.1 1422.2 1198.4 1424.3 1193 1426.5 1186.7 1432.8 1166.2 1434.8 1158.7 1436.5 1153.6 1436.9 1154.2 1436.9 1150.7 1483.4 1150.7 1483.4 1150.7 1438.9 1150.7 1436.1 1159.1 1434.1 1166.5 1427.8 1187.1 1425.6 1193.4 1423.4 1198.9 1421.2 1203.7 1418.9 1207.8 1414.4 1214.4 1409.9 1219.7 1403.2 1226.1 1398.4 1229.6 1393.7 1232 1388.9 1233.2 1381.9 1234.1 1366.4 1234.7Z"/>
<path class="o" d="M1366.4 1234.7 1382.1 1227.3 1387.5 1223.9 1391 1221.4 1394.5 1219.3 1398.2 1216.2 1404 1210.2 1407.8 1205.2 1409.7 1202.3 1411.6 1198.9 1415.5 1189.7 1423.8 1163.6 1425.9 1155.9 1428.5 1148.8 1433.1 1145.7 1483.4 1150.7 1483.4 1150.7 1433.9 1147.6 1430.4 1149.9 1427.9 1156.5 1425.8 1164.1 1419.6 1184.5 1417.5 1190.5 1415.5 1195.5 1413.5 1199.9 1411.5 1203.4 1407.6 1209.2 1403.6 1213.8 1397.7 1219.5 1393.9 1222.2 1390 1224.3 1382.1 1227.3 1366.4 1234.7Z"/>
<path class="o" d="M1366.4 1234.7 1379.6 1234.3 1388.3 1231.6 1394.8 1228.6 1399.3 1225.9 1403.7 1222.2 1410.2 1215.5 1414.6 1209.9 1416.7 1206.5 1418.9 1202.6 1421.1 1197.9 1423.2 1192.6 1425.3 1186.3 1431.6 1165.8 1433.7 1158.3 1435.5 1153 1436.4 1153.1 1436.4 1150.7 1483.4 1150.7 1483.4 1150.7 1436.9 1150.7 1436.9 1154.2 1436.5 1153.6 1434.8 1158.7 1432.8 1166.2 1426.5 1186.7 1424.3 1193 1422.2 1198.4 1420 1203.1 1417.8 1207.1 1413.3 1213.6 1408.9 1218.7 1402.3 1225.1 1397.7 1228.4 1393.2 1230.8 1386.5 1233.5 1381.9 1234.1 1366.4 1234.7Z"/>
<path class="l" d="M1366.4 1234.7 1382.1 1227.3 1390 1224.3 1393.9 1222.2 1397.7 1219.5 1403.6 1213.8 1407.6 1209.2 1411.5 1203.4 1413.5 1199.9 1415.5 1195.5 1417.5 1190.5 1419.6 1184.5 1425.8 1164.1 1427.9 1156.5 1430.4 1149.9 1433.9 1147.6 1483.4 1150.7 1483.4 1150.7 1436.4 1150.7 1436.4 1153.1 1435.5 1153 1433.7 1158.3 1431.6 1165.8 1425.3 1186.3 1423.2 1192.6 1421.1 1197.9 1418.9 1202.6 1416.7 1206.5 1414.6 1209.9 1410.2 1215.5 1403.7 1222.2 1399.3 1225.9 1394.8 1228.6 1388.3 1231.6 1379.6 1234.3 1366.4 1234.7Z"/>
</g>
<path class="g" d="M1381.5 1150.7V1234.7M1395.5 1150.7V1234.7M1410.5 1150.7V1234.7M1439.5 1150.7V1234.7M1454.5 1150.7V1234.7"/>
<path class="g" d="M1360.4 1171.5H1488.5"/>
<path class="v" d="M1366.2 1150.7V1234.7M1424.7 1150.7V1234.7M1483.2 1150.7V1234.7" stroke="#ff0000"/>
<path class="k" clip-path="url(#c8_6)" d="M1366.4 1234.7 1383.1 1230.6 1389.4 1228.3 1395.7 1225.1 1399.8 1222.1 1406.1 1216.1 1410.3 1211.2 1414.5 1205.1 1416.5 1201.4 1418.6 1196.8 1420.7 1191.6 1422.8 1185.5 1429.1 1165.1 1431.2 1157.5 1433.3 1151.6 1435.3 1150.7 1483.4 1150.7"/>
<path class="m" d="M1381.5 1234.7V1245.5M1395.5 1234.7V1245.5M1410.5 1234.7V1245.5M1439.5 1234.7V1245.5M1454.5 1234.7V1245.5M1468.5 1234.7V1245.5M1360.4 1213.5H1349.6M1360.4 1192.5H1349.6M1360.4 1171.5H1349.6"/>
<path class="t" d="M1366.4 1234.7V1253.2M1424.9 1234.7V1253.2M1483.4 1234.7V1253.2M1360.4 1234.7H1341.9M1360.4 1150.7H1341.9" stroke="#ff0000"/>
<rect class="s" x="1360.4" y="1151.1" width="128.1" height="84" stroke="#ff0000"/>
</g>
<g>
<g clip-path="url(#c8_7)">
<path class="b" d="M1545.8 1234.7 1561.5 1227.3 1567 1224 1570.3 1221.5 1571.6 1220.2 1575.8 1214.4 1579.6 1210.1 1583.3 1205.1 1587.1 1198.8 1591 1190.7 1593 1186 1594.9 1180.7 1599.1 1164.9 1601.5 1159.2 1606 1149.5 1608.8 1145.9 1662.8 1150.7 1662.8 1150.7 1610.4 1147.2 1607.9 1150.6 1603.4 1160.1 1601.2 1165.6 1596.9 1181.3 1595 1186.8 1593 1191.5 1589 1199.8 1585.1 1206.3 1581.3 1211.5 1575.4 1217.8 1572 1220.7 1570.4 1221.6 1567 1224 1561.5 1227.3 1545.8 1234.7Z"/>
<path class="b" d="M1545.8 1234.7 1558.1 1230.6 1580.8 1227.2 1586.8 1225.7 1588.6 1225 1592.3 1222.8 1596.2 1219.4 1602.3 1213 1604.2 1210.5 1608.2 1203.6 1612.3 1195.2 1616.4 1184.7 1620.6 1169.9 1623.1 1165.9 1625.6 1163.6 1638.1 1154.2 1639.9 1152.5 1642.3 1149.4 1645.2 1148.2 1662.8 1150.7 1662.8 1150.7 1645.9 1149.3 1643.6 1153.3 1641.5 1161.2 1637.3 1173.2 1627 1199.4 1622.9 1207.4 1621 1210.5 1619.2 1212.6 1615.6 1214.9 1594.9 1224.3 1584.8 1227.7 1574.7 1230 1558.2 1231.5 1545.8 1234.7Z"/>
<path class="o" d="M1545.8 1234.7 1561.5 1227.3 1567 1224 1570.4 1221.6 1572 1220.7 1575.4 1217.8 1581.3 1211.5 1585.1 1206.3 1589 1199.8 1593 1191.5 1595 1186.8 1596.9 1181.3 1601.2 1165.6 1603.4 1160.1 1607.9 1150.6 1610.4 1147.2 1662.8 1150.7 1662.8 1150.7 1612.1 1148.6 1609.7 1151.6 1605.4 1161 1603.2 1166.3 1599 1182 1597 1187.5 1594.9 1192.4 1590.9 1200.8 1586.9 1207.5 1582.9 1212.8 1576.9 1219.4 1573.2 1222.5 1569.5 1224.4 1561.5 1227.4 1545.8 1234.7Z"/>
<path class="o" d="M1545.8 1234.7 1558 1229.8 1576.5 1226.2 1586.5 1222.8 1588.3 1221.9 1590.1 1220.5 1592 1218.7 1595.9 1214 1600 1207.9 1602 1204.5 1603.9 1200 1608 1187.2 1612.2 1171.8 1616.4 1152.8 1618.9 1149.2 1662.8 1150.7 1662.8 1150.7 1645.2 1148.2 1642.3 1149.4 1639.9 1152.5 1638.1 1154.2 1625.6 1163.6 1623.1 1165.9 1620.6 1169.9 1616.4 1184.7 1612.3 1195.2 1608.2 1203.6 1604.2 1210.5 1602.3 1213 1596.2 1219.4 1592.3 1222.8 1588.6 1225 1586.8 1225.7 1580.8 1227.2 1558.1 1230.6 1545.8 1234.7Z"/>
<path class="l" d="M1545.8 1234.7 1561.5 1227.4 1569.5 1224.4 1573.2 1222.5 1576.9 1219.4 1582.9 1212.8 1586.9 1207.5 1590.9 1200.8 1594.9 1192.4 1597 1187.5 1599 1182 1603.2 1166.3 1605.4 1161 1609.7 1151.6 1612.1 1148.6 1662.8 1150.7 1662.8 1150.7 1618.9 1149.2 1616.4 1152.8 1612.2 1171.8 1608 1187.2 1603.9 1200 1602 1204.5 1600 1207.9 1595.9 1214 1592 1218.7 1590.1 1220.5 1588.3 1221.9 1586.5 1222.8 1576.5 1226.2 1558 1229.8 1545.8 1234.7Z"/>
</g>
<path class="g" d="M1575.5 1150.7V1234.7M1633.5 1150.7V1234.7M1648.5 1150.7V1234.7"/>
<path class="g" d="M1539.8 1171.5H1667.9"/>
<path class="v" d="M1545.5 1150.7V1234.7M1604.1 1150.7V1234.7M1662.6 1150.7V1234.7" stroke="#ff0000"/>
<path class="k" clip-path="url(#c8_7)" d="M1545.8 1234.7 1562.5 1230.6 1568.8 1228.4 1573 1226.5 1575.1 1225.3 1577.2 1223.7 1581.3 1219.7 1585.5 1215 1589.7 1209.4 1593.9 1202.4 1598 1193.7 1600.1 1188.7 1602.2 1182.9 1606.4 1167.3 1608.5 1162.3 1612.7 1153.3 1614.7 1150.7 1662.8 1150.7"/>
<path class="m" d="M1560.5 1234.7V1245.5M1575.5 1234.7V1245.5M1589.5 1234.7V1245.5M1618.5 1234.7V1245.5M1633.5 1234.7V1245.5M1648.5 1234.7V1245.5M1539.8 1213.5H1529M1539.8 1192.5H1529M1539.8 1171.5H1529"/>
<path class="t" d="M1545.8 1234.7V1253.2M1604.3 1234.7V1253.2M1662.8 1234.7V1253.2M1539.8 1234.7H1521.3M1539.8 1150.7H1521.3" stroke="#ff0000"/>
<rect class="s" x="1539.8" y="1151.1" width="128.1" height="84" stroke="#ff0000"/>
</g>
<g>
<g clip-path="url(#c8_8)">
<path class="b" d="M1725.2 1234.7 1745.2 1225.5 1747.3 1224.8 1753.1 1223.4 1756.4 1222.2 1759.7 1219.5 1767.7 1211.4 1771.5 1206.5 1773.4 1203.3 1777.4 1194.8 1779.4 1190 1781.4 1184.5 1789.9 1151.2 1792.9 1147.5 1842.2 1150.7 1842.2 1150.7 1793.8 1148.4 1791 1151.6 1782.5 1184.8 1780.5 1190.4 1778.5 1195.3 1774.4 1203.9 1772.5 1207.1 1770.6 1209.8 1766.6 1214.3 1758.6 1222.1 1757 1223.2 1753.5 1224.5 1741.1 1227.3 1725.2 1234.7Z"/>
<path class="b" d="M1725.2 1234.7 1749.1 1233.8 1755.8 1232.2 1758.2 1231.4 1760.9 1230.2 1763.6 1228.3 1772.4 1219.9 1776.9 1214.7 1779.2 1211.5 1781.5 1207.7 1785.8 1198.5 1788 1193.3 1790.2 1187.2 1798.4 1154.6 1804.4 1150.7 1842.2 1150.7 1842.2 1150.7 1813.2 1150.7 1799.8 1155.2 1791.6 1187.6 1789.4 1193.9 1787.2 1199.1 1782.8 1208.5 1780.5 1212.4 1778.1 1215.6 1773.5 1220.9 1764.5 1229.5 1761.7 1231.5 1758.7 1232.8 1756.2 1233.5 1753.7 1233.8 1725.2 1234.7Z"/>
<path class="o" d="M1725.2 1234.7 1741.1 1227.3 1753.5 1224.5 1757 1223.2 1758.6 1222.1 1766.6 1214.3 1770.6 1209.8 1772.5 1207.1 1774.4 1203.9 1778.5 1195.3 1780.5 1190.4 1782.5 1184.8 1791 1151.6 1793.8 1148.4 1842.2 1150.7 1842.2 1150.7 1794.5 1149.1 1792 1152 1783.6 1185.1 1781.5 1190.8 1779.5 1195.7 1775.4 1204.4 1773.4 1207.7 1771.4 1210.4 1767.4 1215 1759.3 1222.9 1757.5 1224.1 1753.8 1225.5 1735.1 1230.1 1725.2 1234.7Z"/>
<path class="o" d="M1725.2 1234.7 1740.5 1234.1 1755.3 1230.8 1757.7 1230 1760.2 1228.9 1762.6 1227.2 1771.3 1218.8 1775.7 1213.8 1777.9 1210.7 1780.2 1207 1784.5 1197.9 1786.6 1192.8 1788.8 1186.7 1797 1154.1 1801 1150.7 1842.2 1150.7 1842.2 1150.7 1804.4 1150.7 1798.4 1154.6 1790.2 1187.2 1788 1193.3 1785.8 1198.5 1781.5 1207.7 1779.2 1211.5 1776.9 1214.7 1772.4 1219.9 1763.6 1228.3 1760.9 1230.2 1758.2 1231.4 1755.8 1232.2 1749.1 1233.8 1725.2 1234.7Z"/>
<path class="l" d="M1725.2 1234.7 1735.1 1230.1 1753.8 1225.5 1757.5 1224.1 1759.3 1222.9 1767.4 1215 1771.4 1210.4 1773.4 1207.7 1775.4 1204.4 1779.5 1195.7 1781.5 1190.8 1783.6 1185.1 1792 1152 1794.5 1149.1 1842.2 1150.7 1842.2 1150.7 1801 1150.7 1797 1154.1 1788.8 1186.7 1786.6 1192.8 1784.5 1197.9 1780.2 1207 1777.9 1210.7 1775.7 1213.8 1771.3 1218.8 1762.6 1227.2 1760.2 1228.9 1757.7 1230 1755.3 1230.8 1740.5 1234.1 1725.2 1234.7Z"/>
</g>
<path class="g" d="M1754.5 1150.7V1234.7M1769.5 1150.7V1234.7M1798.5 1150.7V1234.7M1827.5 1150.7V1234.7"/>
<path class="g" d="M1719.2 1171.5H1847.3"/>
<path class="v" d="M1725 1150.7V1234.7M1783.5 1150.7V1234.7M1842 1150.7V1234.7" stroke="#ff0000"/>
<path class="k" clip-path="url(#c8_8)" d="M1725.2 1234.7 1754.5 1227.8 1758.6 1226.2 1760.7 1224.7 1769.1 1216.7 1773.3 1211.9 1775.3 1209 1777.4 1205.5 1781.6 1196.7 1783.7 1191.7 1785.8 1185.8 1794.1 1152.9 1796.2 1150.7 1842.2 1150.7"/>
<path class="m" d="M1739.5 1234.7V1245.5M1754.5 1234.7V1245.5M1769.5 1234.7V1245.5M1798.5 1234.7V1245.5M1812.5 1234.7V1245.5M1827.5 1234.7V1245.5M1719.2 1213.5H1708.4M1719.2 1192.5H1708.4M1719.2 1171.5H1708.4"/>
<path class="t" d="M1725.2 1234.7V1253.2M1783.7 1234.7V1253.2M1842.2 1234.7V1253.2M1719.2 1234.7H1700.7M1719.2 1150.7H1700.7" stroke="#ff0000"/>
<rect class="s" x="1719.2" y="1151.1" width="128.1" height="84" stroke="#ff0000"/>
</g>
<g>
<g clip-path="url(#c8_9)">
<path class="b" d="M1904.6 1234.7 1922.3 1226.9 1930.2 1223.9 1934 1221.9 1939.8 1217.5 1943.7 1213.8 1947.6 1209.1 1951.6 1203.4 1953.6 1199.9 1955.5 1196 1963.8 1173.9 1967.9 1161 1970.1 1151.5 1973 1148.1 2021.6 1150.7 2021.6 1150.7 1973.7 1148.7 1970.9 1151.8 1968.8 1161.3 1964.6 1174.2 1956.4 1196.3 1954.4 1200.4 1950.4 1206.9 1946.3 1212.2 1942.4 1216.5 1936.4 1221.4 1932.5 1223.8 1928.6 1225.6 1918.5 1228.9 1904.6 1234.7Z"/>
<path class="b" d="M1904.6 1234.7 1920 1234.5 1929.2 1233.5 1931.6 1233 1936.3 1230.9 1941.1 1227.9 1947.9 1222.3 1952.5 1217.3 1956.9 1211.5 1959.2 1208.1 1961.4 1204.1 1963.7 1199.5 1972.2 1176.8 1976.5 1163.3 1978.4 1154.6 1994.7 1150.7 2021.6 1150.7 2021.6 1150.7 1985.7 1149.9 1983.6 1156.1 1979.5 1163.9 1977.3 1169.7 1975.2 1176.4 1973.2 1182.2 1969 1192.4 1962.9 1205.4 1960.9 1208.6 1958.9 1211.3 1952.8 1218.8 1949 1222.4 1947.2 1223.5 1945.4 1224.3 1937.4 1226.7 1916.8 1230.2 1904.6 1234.7Z"/>
<path class="o" d="M1904.6 1234.7 1918.5 1228.9 1928.6 1225.6 1932.5 1223.8 1936.4 1221.4 1942.4 1216.5 1946.3 1212.2 1950.4 1206.9 1954.4 1200.4 1956.4 1196.3 1964.6 1174.2 1968.8 1161.3 1970.9 1151.8 1973.7 1148.7 2021.6 1150.7 2021.6 1150.7 1974.2 1149.3 1971.6 1152.1 1969.5 1161.5 1965.4 1174.4 1957.1 1196.6 1955 1200.7 1953 1204.3 1948.9 1210.1 1944.9 1215 1940.9 1218.8 1934.9 1223.3 1930.9 1225.4 1924.8 1227.8 1914.6 1230.6 1904.6 1234.7Z"/>
<path class="o" d="M1904.6 1234.7 1920 1234.5 1928.7 1231.9 1935.3 1229 1939.8 1226.2 1946.4 1220.7 1950.9 1216 1955.2 1210.3 1957.4 1206.9 1959.6 1203.1 1961.8 1198.7 1970.2 1176.1 1974.5 1162.8 1976.5 1153.9 1980.9 1150.7 2021.6 1150.7 2021.6 1150.7 1994.7 1150.7 1978.4 1154.6 1976.5 1163.3 1972.2 1176.8 1963.7 1199.5 1961.4 1204.1 1959.2 1208.1 1956.9 1211.5 1952.5 1217.3 1947.9 1222.3 1941.1 1227.9 1936.3 1230.9 1931.6 1233 1929.2 1233.5 1920 1234.5 1904.6 1234.7Z"/>
<path class="l" d="M1904.6 1234.7 1914.6 1230.6 1924.8 1227.8 1930.9 1225.4 1934.9 1223.3 1940.9 1218.8 1944.9 1215 1948.9 1210.1 1953 1204.3 1955 1200.7 1957.1 1196.6 1965.4 1174.4 1969.5 1161.5 1971.6 1152.1 1974.2 1149.3 2021.6 1150.7 2021.6 1150.7 1980.9 1150.7 1976.5 1153.9 1974.5 1162.8 1970.2 1176.1 1961.8 1198.7 1959.6 1203.1 1957.4 1206.9 1955.2 1210.3 1950.9 1216 1946.4 1220.7 1939.8 1226.2 1935.3 1229 1928.7 1231.9 1920 1234.5 1904.6 1234.7Z"/>
</g>
<path class="g" d="M1919.5 1150.7V1234.7M1948.5 1150.7V1234.7M1992.5 1150.7V1234.7"/>
<path class="g" d="M1898.6 1171.5H2026.7"/>
<path class="v" d="M1904.4 1150.7V1234.7M1962.9 1150.7V1234.7M2021.4 1150.7V1234.7" stroke="#ff0000"/>
<path class="k" clip-path="url(#c8_9)" d="M1904.6 1234.7 1921.3 1231 1929.7 1228.2 1933.9 1226.3 1938 1223.7 1944.3 1218.5 1948.5 1214 1952.7 1208.5 1954.7 1205.3 1956.8 1201.7 1958.9 1197.4 1967.3 1175.1 1971.5 1162 1973.5 1152.8 1975.6 1150.7 2021.6 1150.7"/>
<path class="m" d="M1919.5 1234.7V1245.5M1933.5 1234.7V1245.5M1948.5 1234.7V1245.5M1977.5 1234.7V1245.5M1992.5 1234.7V1245.5M2006.5 1234.7V1245.5M1898.6 1213.5H1887.8M1898.6 1192.5H1887.8M1898.6 1171.5H1887.8"/>
<path class="t" d="M1904.6 1234.7V1253.2M1963.1 1234.7V1253.2M2021.6 1234.7V1253.2M1898.6 1234.7H1880.1M1898.6 1150.7H1880.1" stroke="#ff0000"/>
<rect class="s" x="1898.6" y="1151.1" width="128.1" height="84" stroke="#ff0000"/>
</g>
<g>
<g clip-path="url(#c8_10)">
<path class="b" d="M2084 1234.7 2099.7 1227.4 2106.8 1222.7 2111.9 1218.4 2115 1215.2 2118.6 1212.2 2122.1 1208.7 2127.9 1201.2 2131.7 1195.5 2133.5 1192.2 2135.4 1188 2137.3 1182.6 2139.3 1175.4 2143.5 1158.1 2146 1149.9 2149.4 1145.5 2201 1150.7 2201 1150.7 2151 1147 2147.9 1150.7 2145.5 1158.6 2141.3 1175.9 2139.3 1183.2 2137.4 1188.8 2135.5 1193.1 2133.6 1196.6 2129.7 1202.5 2123.7 1210.1 2120 1213.8 2114.4 1218.2 2108.7 1221.5 2099.7 1227.4 2084 1234.7Z"/>
<path class="b" d="M2084 1234.7 2099.4 1234.2 2106.5 1233.3 2111.3 1232.2 2118 1228.6 2122.6 1225.5 2127.2 1221.8 2131.8 1217.1 2138.4 1208.7 2142.8 1202 2145.1 1197.8 2147.4 1192.7 2149.6 1186.4 2151.7 1178.6 2155.9 1161.4 2157.7 1155.1 2163.6 1150.7 2201 1150.7 2201 1150.7 2165.1 1150 2160.9 1161.5 2156.7 1174.9 2152.6 1185.8 2148.5 1194.6 2144.4 1201.9 2142.4 1204.9 2138.4 1210 2134.4 1214.3 2126.3 1221.3 2122.4 1224 2118.7 1225.7 2114.7 1226.8 2096.2 1230.3 2084 1234.7Z"/>
<path class="o" d="M2084 1234.7 2099.7 1227.4 2108.7 1221.5 2114.4 1218.2 2120 1213.8 2123.7 1210.1 2129.7 1202.5 2133.6 1196.6 2135.5 1193.1 2137.4 1188.8 2139.3 1183.2 2141.3 1175.9 2145.5 1158.6 2147.9 1150.7 2151 1147 2201 1150.7 2201 1150.7 2152.8 1148.6 2150.1 1151.7 2147.9 1159.3 2143.7 1176.5 2141.6 1183.9 2139.6 1189.7 2137.6 1194.2 2135.6 1197.8 2133.7 1201 2127.6 1209.3 2123.6 1213.8 2119.7 1217.3 2113.7 1221.5 2105.8 1225.5 2097.8 1228.4 2084 1234.7Z"/>
<path class="o" d="M2084 1234.7 2099.4 1234.2 2106 1232.1 2114.7 1228 2119.2 1225.4 2123.6 1222.1 2128 1218.1 2132.4 1213.1 2138.8 1204.4 2141 1200.9 2143.2 1196.9 2145.4 1191.9 2147.5 1185.8 2149.7 1178 2153.8 1160.9 2155.8 1154.2 2159.6 1150.7 2201 1150.7 2201 1150.7 2163.6 1150.7 2157.7 1155.1 2155.9 1161.4 2151.7 1178.6 2149.6 1186.4 2147.4 1192.7 2145.1 1197.8 2142.8 1202 2138.4 1208.7 2131.8 1217.1 2127.2 1221.8 2122.6 1225.5 2118 1228.6 2111.3 1232.2 2106.5 1233.3 2099.4 1234.2 2084 1234.7Z"/>
<path class="l" d="M2084 1234.7 2097.8 1228.4 2105.8 1225.5 2113.7 1221.5 2119.7 1217.3 2123.6 1213.8 2127.6 1209.3 2133.7 1201 2135.6 1197.8 2137.6 1194.2 2139.6 1189.7 2141.6 1183.9 2143.7 1176.5 2147.9 1159.3 2150.1 1151.7 2152.8 1148.6 2201 1150.7 2201 1150.7 2159.6 1150.7 2155.8 1154.2 2153.8 1160.9 2149.7 1178 2147.5 1185.8 2145.4 1191.9 2143.2 1196.9 2141 1200.9 2138.8 1204.4 2132.4 1213.1 2128 1218.1 2123.6 1222.1 2119.2 1225.4 2114.7 1228 2106 1232.1 2099.4 1234.2 2084 1234.7Z"/>
</g>
<path class="g" d="M2098.5 1150.7V1234.7M2113.5 1150.7V1234.7M2157.5 1150.7V1234.7M2186.5 1150.7V1234.7"/>
<path class="g" d="M2078 1171.5H2206.1"/>
<path class="v" d="M2083.8 1150.7V1234.7M2142.3 1150.7V1234.7M2200.8 1150.7V1234.7" stroke="#ff0000"/>
<path class="k" clip-path="url(#c8_10)" d="M2084 1234.7 2100.7 1230.7 2107 1228.4 2115.3 1224.1 2121.6 1219.7 2125.8 1216 2130 1211.2 2136.2 1202.7 2138.3 1199.4 2140.4 1195.5 2142.5 1190.8 2144.6 1184.9 2146.7 1177.3 2150.9 1160.1 2152.9 1153 2155 1150.7 2201 1150.7"/>
<path class="m" d="M2098.5 1234.7V1245.5M2113.5 1234.7V1245.5M2127.5 1234.7V1245.5M2157.5 1234.7V1245.5M2171.5 1234.7V1245.5M2186.5 1234.7V1245.5M2078 1213.5H2067.2M2078 1192.5H2067.2M2078 1171.5H2067.2"/>
<path class="t" d="M2084 1234.7V1253.2M2142.5 1234.7V1253.2M2201 1234.7V1253.2M2078 1234.7H2059.5M2078 1150.7H2059.5" stroke="#ff0000"/>
<rect class="s" x="2078" y="1151.1" width="128.1" height="84" stroke="#ff0000"/>
</g>
<g>
<g clip-path="url(#c9_0)">
<path class="b" d="M290 1352.6 299.6 1346.8 302.9 1344 306 1340.3 309.9 1336.3 313.8 1331.6 317.7 1325.4 321.7 1317.7 323.7 1313 329.9 1294.1 331.9 1287 336.3 1269.6 339 1266 407 1268.6 407 1268.6 339.9 1266.6 337.3 1270 333 1287.3 330.9 1294.4 324.7 1313.4 322.7 1318.2 318.7 1325.9 314.6 1332.2 310.7 1337.1 306.7 1341 299.6 1346.8 290 1352.6Z"/>
<path class="b" d="M290 1352.6 301.3 1350.9 303.8 1350.3 306.4 1349.3 311.7 1346.5 317 1342.8 319.4 1340.3 323.9 1333.9 328.3 1326.3 330.5 1321.7 332.8 1316.4 339.2 1296.9 341.3 1289.4 345.3 1273.1 350.8 1268.6 407 1268.6 407 1268.6 359 1268.6 347.3 1273.9 343.3 1290 341.2 1297.5 334.8 1317.2 332.5 1322.6 330.2 1327.3 327.9 1331.4 325.6 1335 319.8 1340.6 317 1342.8 311.7 1346.5 306.4 1349.3 303.8 1350.3 301.3 1350.9 290 1352.6Z"/>
<path class="o" d="M290 1352.6 299.6 1346.8 306.7 1341 310.7 1337.1 314.6 1332.2 318.7 1325.9 322.7 1318.2 324.7 1313.4 330.9 1294.4 333 1287.3 337.3 1270 339.9 1266.6 407 1268.6 407 1268.6 340.6 1267.2 338.1 1270.3 333.8 1287.5 331.8 1294.7 325.6 1313.7 323.5 1318.5 319.4 1326.4 315.4 1332.7 311.4 1337.7 307.3 1341.7 303.4 1344.8 299.6 1346.9 290 1352.6Z"/>
<path class="o" d="M290 1352.6 301.3 1350.9 303.8 1350.3 306.4 1349.3 308.8 1347.8 313.3 1343.7 317.7 1338.9 322.1 1332.7 326.4 1325.3 328.6 1320.8 330.8 1315.7 337.1 1296.3 339.3 1288.9 343.3 1272.4 347 1268.6 407 1268.6 407 1268.6 350.8 1268.6 345.3 1273.1 341.3 1289.4 339.2 1296.9 332.8 1316.4 330.5 1321.7 328.3 1326.3 323.9 1333.9 319.4 1340.3 317 1342.8 311.7 1346.5 306.4 1349.3 303.8 1350.3 301.3 1350.9 290 1352.6Z"/>
<path class="l" d="M290 1352.6 299.6 1346.9 303.4 1344.8 307.3 1341.7 311.4 1337.7 315.4 1332.7 319.4 1326.4 323.5 1318.5 325.6 1313.7 331.8 1294.7 333.8 1287.5 338.1 1270.3 340.6 1267.2 407 1268.6 407 1268.6 347 1268.6 343.3 1272.4 339.3 1288.9 337.1 1296.3 330.8 1315.7 328.6 1320.8 326.4 1325.3 322.1 1332.7 317.7 1338.9 313.3 1343.7 308.8 1347.8 306.4 1349.3 303.8 1350.3 301.3 1350.9 290 1352.6Z"/>
</g>
<path class="g" d="M304.5 1268.6V1352.6M333.5 1268.6V1352.6M377.5 1268.6V1352.6M392.5 1268.6V1352.6"/>
<path class="g" d="M284 1331.5H412.1M284 1310.5H412.1M284 1289.5H412.1"/>
<path class="v" d="M289.8 1268.6V1352.6M348.3 1268.6V1352.6M406.8 1268.6V1352.6" stroke="#ff0000"/>
<path class="k" clip-path="url(#c9_0)" d="M290 1352.6 300.4 1348.9 304.6 1346.7 308.8 1343.3 313 1339.2 315.1 1336.8 319.3 1330.9 323.4 1323.7 325.5 1319.4 327.6 1314.5 333.9 1295.3 336 1288 340.1 1271.1 342.2 1268.6 407 1268.6"/>
<path class="m" d="M304.5 1352.6V1363.4M319.5 1352.6V1363.4M333.5 1352.6V1363.4M363.5 1352.6V1363.4M377.5 1352.6V1363.4M392.5 1352.6V1363.4M284 1331.5H273.2M284 1310.5H273.2M284 1289.5H273.2"/>
<path class="t" d="M290 1352.6V1371.1M348.5 1352.6V1371.1M407 1352.6V1371.1M284 1352.6H265.5M284 1268.6H265.5" stroke="#ff0000"/>
<rect class="s" x="284" y="1269" width="128.1" height="84" stroke="#ff0000"/>
</g>
<g>
<g clip-path="url(#c9_1)">
<path class="b" d="M469.4 1352.6 479 1347.1 482.5 1344.4 485.8 1341.2 488.9 1337.4 491.7 1332.8 494.5 1327.1 498.2 1320.9 504.2 1308.8 508.2 1299.3 512.3 1286.6 516.5 1275.5 518.8 1268.4 521.7 1264.1 586.4 1268.6 586.4 1268.6 523.2 1265.2 520.5 1269.1 518.2 1276.1 514.1 1287.2 509.9 1299.9 505.9 1309.6 499.8 1321.8 495.9 1328.2 490.3 1335.3 488.9 1337.4 485.8 1341.2 482.5 1344.4 479 1347.1 469.4 1352.6Z"/>
<path class="b" d="M469.4 1352.6 480.7 1351.2 483.1 1350.6 487.5 1348.2 491.9 1345.1 494.1 1343.3 496.4 1341.1 500.8 1335.9 505.1 1329.6 511.5 1317.5 515.7 1308.2 517.9 1302.7 522 1290 526.2 1278.9 528.2 1272.5 531.3 1268.6 586.4 1268.6 586.4 1268.6 532.2 1268.6 528.9 1272.9 526.9 1279.2 522.8 1290.2 518.6 1302.9 516.4 1308.5 512.2 1317.9 505.7 1330 501.4 1336.4 496.9 1341.6 494.6 1343.8 492.4 1345.7 487.9 1348.8 485.5 1349.9 480.7 1351.2 469.4 1352.6Z"/>
<path class="o" d="M469.4 1352.6 479 1347.1 482.5 1344.4 485.8 1341.2 488.9 1337.4 490.3 1335.3 495.9 1328.2 499.8 1321.8 505.9 1309.6 509.9 1299.9 514.1 1287.2 518.2 1276.1 520.5 1269.1 523.2 1265.2 586.4 1268.6 586.4 1268.6 524.9 1266.4 522.4 1270 520.2 1276.8 516.1 1287.9 511.9 1300.6 507.8 1310.5 501.7 1322.8 497.7 1329.4 493.7 1334.6 489.9 1338.5 484.2 1342.9 482.5 1344.4 479 1347.1 469.4 1352.6Z"/>
<path class="o" d="M469.4 1352.6 478.3 1351.6 480.6 1351 485 1348.9 489.4 1346.2 493.7 1342.8 495.9 1340.7 500.3 1335.6 504.6 1329.3 510.9 1317.3 515.2 1308 517.3 1302.5 521.5 1289.8 525.6 1278.7 527.7 1272.3 530.5 1268.6 586.4 1268.6 586.4 1268.6 531.3 1268.6 528.2 1272.5 526.2 1278.9 522 1290 517.9 1302.7 515.7 1308.2 511.5 1317.5 505.1 1329.6 500.8 1335.9 496.4 1341.1 494.1 1343.3 491.9 1345.1 487.5 1348.2 483.1 1350.6 480.7 1351.2 469.4 1352.6Z"/>
<path class="l" d="M469.4 1352.6 479 1347.1 482.5 1344.4 484.2 1342.9 489.9 1338.5 493.7 1334.6 497.7 1329.4 501.7 1322.8 507.8 1310.5 511.9 1300.6 516.1 1287.9 520.2 1276.8 522.4 1270 524.9 1266.4 586.4 1268.6 586.4 1268.6 530.5 1268.6 527.7 1272.3 525.6 1278.7 521.5 1289.8 517.3 1302.5 515.2 1308 510.9 1317.3 504.6 1329.3 500.3 1335.6 495.9 1340.7 493.7 1342.8 489.4 1346.2 485 1348.9 480.6 1351 478.3 1351.6 469.4 1352.6Z"/>
</g>
<path class="g" d="M498.5 1268.6V1352.6M542.5 1268.6V1352.6M571.5 1268.6V1352.6"/>
<path class="g" d="M463.4 1331.5H591.5M463.4 1310.5H591.5M463.4 1289.5H591.5"/>
<path class="v" d="M469.1 1268.6V1352.6M527.7 1268.6V1352.6M586.2 1268.6V1352.6" stroke="#ff0000"/>
<path class="k" clip-path="url(#c9_1)" d="M469.4 1352.6 479.8 1349.1 484 1347.1 488.2 1344.5 492.4 1341.3 496.6 1336.9 500.7 1331.5 502.8 1328.3 509.1 1316.4 513.3 1307.2 515.4 1301.8 519.5 1289.1 523.7 1278 525.8 1271.5 527.9 1268.6 586.4 1268.6"/>
<path class="m" d="M484.5 1352.6V1363.4M498.5 1352.6V1363.4M513.5 1352.6V1363.4M542.5 1352.6V1363.4M557.5 1352.6V1363.4M571.5 1352.6V1363.4M463.4 1331.5H452.6M463.4 1310.5H452.6M463.4 1289.5H452.6"/>
<path class="t" d="M469.4 1352.6V1371.1M527.9 1352.6V1371.1M586.4 1352.6V1371.1M463.4 1352.6H444.9M463.4 1268.6H444.9" stroke="#ff0000"/>
<rect class="s" x="463.4" y="1269" width="128.1" height="84" stroke="#ff0000"/>
</g>
<g>
<g clip-path="url(#c9_2)">
<path class="b" d="M648.8 1352.6 658.5 1347.5 661.9 1345 665 1341.4 669.7 1334.6 672.9 1329.8 678.7 1321.9 682.5 1315.6 684.4 1311.5 688.4 1300.5 690.4 1294.2 692.4 1287 696.8 1268.6 700.3 1264 765.8 1268.6 765.8 1268.6 701.6 1265.3 698.5 1269.2 694.2 1287.5 692.2 1294.8 690.1 1301.1 686.1 1312.2 684.1 1316.4 682.2 1319.8 678.3 1325.7 672.3 1333.2 666.6 1339.2 665 1341.4 661.9 1345 658.5 1347.5 648.8 1352.6Z"/>
<path class="b" d="M648.8 1352.6 660 1351.6 662.5 1351.1 665 1350.3 670.3 1347.7 676.9 1341.6 681.3 1336.7 687.8 1327.9 690 1324.5 692.2 1320.5 694.4 1315.7 698.7 1304 700.8 1297.4 703 1289.8 707 1272.3 712.5 1268.6 765.8 1268.6 765.8 1268.6 720.6 1268.6 708.5 1272.8 704.4 1290.1 702.3 1297.8 700.1 1304.4 695.8 1316.3 693.6 1321.2 691.3 1325.2 689 1328.8 682.5 1337.6 677.9 1342.7 675.4 1344.6 670.3 1347.7 665 1350.3 662.5 1351.1 660 1351.6 648.8 1352.6Z"/>
<path class="o" d="M648.8 1352.6 658.5 1347.5 661.9 1345 665 1341.4 666.6 1339.2 672.3 1333.2 678.3 1325.7 682.2 1319.8 684.1 1316.4 686.1 1312.2 690.1 1301.1 692.2 1294.8 694.2 1287.5 698.5 1269.2 701.6 1265.3 765.8 1268.6 765.8 1268.6 702.9 1266.5 700.2 1269.8 696 1287.9 693.9 1295.3 691.8 1301.6 687.7 1312.9 685.7 1317.2 681.8 1323.9 675.7 1332.1 671.7 1336.6 665.6 1342.2 658.5 1347.5 648.8 1352.6Z"/>
<path class="o" d="M648.8 1352.6 660 1351.6 662.5 1351.1 664.9 1350 669.4 1346.7 675.9 1340.7 680.2 1335.8 686.7 1327.2 688.8 1323.8 691 1319.9 693.2 1315.2 697.4 1303.5 699.5 1297 701.7 1289.4 705.8 1271.8 709.5 1268.6 765.8 1268.6 765.8 1268.6 712.5 1268.6 707 1272.3 703 1289.8 700.8 1297.4 698.7 1304 694.4 1315.7 692.2 1320.5 690 1324.5 687.8 1327.9 681.3 1336.7 676.9 1341.6 670.3 1347.7 665 1350.3 662.5 1351.1 660 1351.6 648.8 1352.6Z"/>
<path class="l" d="M648.8 1352.6 658.5 1347.5 665.6 1342.2 671.7 1336.6 675.7 1332.1 681.8 1323.9 685.7 1317.2 687.7 1312.9 691.8 1301.6 693.9 1295.3 696 1287.9 700.2 1269.8 702.9 1266.5 765.8 1268.6 765.8 1268.6 709.5 1268.6 705.8 1271.8 701.7 1289.4 699.5 1297 697.4 1303.5 693.2 1315.2 691 1319.9 688.8 1323.8 686.7 1327.2 680.2 1335.8 675.9 1340.7 669.4 1346.7 664.9 1350 662.5 1351.1 660 1351.6 648.8 1352.6Z"/>
</g>
<path class="g" d="M663.5 1268.6V1352.6M692.5 1268.6V1352.6M721.5 1268.6V1352.6M736.5 1268.6V1352.6"/>
<path class="g" d="M642.8 1331.5H770.9M642.8 1310.5H770.9M642.8 1289.5H770.9"/>
<path class="v" d="M648.5 1268.6V1352.6M707.1 1268.6V1352.6M765.6 1268.6V1352.6" stroke="#ff0000"/>
<path class="k" clip-path="url(#c9_2)" d="M648.8 1352.6 659.3 1349.5 663.5 1347.6 667.6 1344.6 673.9 1338.7 678.1 1334 684.3 1325.6 688.5 1318.6 690.6 1314.1 694.8 1302.6 696.9 1296.2 698.9 1288.7 703.1 1270.9 705.2 1268.6 765.8 1268.6"/>
<path class="m" d="M663.5 1352.6V1363.4M678.5 1352.6V1363.4M692.5 1352.6V1363.4M721.5 1352.6V1363.4M736.5 1352.6V1363.4M751.5 1352.6V1363.4M642.8 1331.5H632M642.8 1310.5H632M642.8 1289.5H632"/>
<path class="t" d="M648.8 1352.6V1371.1M707.3 1352.6V1371.1M765.8 1352.6V1371.1M642.8 1352.6H624.3M642.8 1268.6H624.3" stroke="#ff0000"/>
<rect class="s" x="642.8" y="1269" width="128.1" height="84" stroke="#ff0000"/>
</g>
<g>
<g clip-path="url(#c9_3)">
<path class="b" d="M828.2 1352.6 838 1347.8 841.5 1345.4 846.6 1340.8 850.3 1337.8 854 1334 857.9 1329.3 861.8 1322.9 865.8 1315.2 867.8 1310.6 869.8 1305.4 871.8 1298.9 878.1 1275.1 880.5 1268.1 883.9 1265 945.2 1268.6 945.2 1268.6 884.6 1265.9 881.6 1268.6 879.3 1275.5 873 1299.3 871 1305.8 868.9 1311.1 866.9 1315.7 862.9 1323.5 858.9 1330 856.9 1332.5 853 1336.9 849.1 1340.3 838 1347.8 828.2 1352.6Z"/>
<path class="b" d="M828.2 1352.6 840.3 1347.8 852.5 1344.9 856.5 1343.6 860.2 1341.5 864.1 1338.4 868 1334.5 870 1332.2 871.9 1329.3 876 1321.9 878 1317.7 882.1 1307.5 884.2 1301.4 888.4 1287.5 892.6 1276.4 894.8 1269.6 897.4 1266.8 945.2 1268.6 945.2 1268.6 904.7 1266.1 901.1 1268.1 896.7 1282.7 892.5 1297.6 890.5 1303.4 888.5 1308.5 882.3 1322.4 880.3 1326.1 878.3 1329 876.4 1331.3 872.4 1335.2 862.3 1343 858.5 1345.1 854.8 1346.3 840.5 1348.6 828.2 1352.6Z"/>
<path class="o" d="M828.2 1352.6 838 1347.8 849.1 1340.3 853 1336.9 856.9 1332.5 858.9 1330 862.9 1323.5 866.9 1315.7 868.9 1311.1 871 1305.8 873 1299.3 879.3 1275.5 881.6 1268.6 884.6 1265.9 945.2 1268.6 945.2 1268.6 885.3 1266.8 882.5 1269.1 880.3 1275.8 874 1299.6 872 1306.1 869.9 1311.5 867.9 1316.1 863.8 1324.1 859.7 1330.6 857.7 1333.2 853.7 1337.7 849.8 1341.1 843.8 1345 828.2 1352.6Z"/>
<path class="o" d="M828.2 1352.6 839.4 1351.9 844.2 1350.9 848.7 1348.5 853.1 1345.5 857.6 1341.5 862 1336.6 864.2 1333.7 868.5 1326.7 872.8 1318.4 875 1313.5 877.1 1307.9 879.2 1301.1 885.5 1277.3 887.3 1271.7 893.5 1268.6 945.2 1268.6 945.2 1268.6 897.4 1266.8 894.8 1269.6 892.6 1276.4 888.4 1287.5 884.2 1301.4 882.1 1307.5 878 1317.7 876 1321.9 871.9 1329.3 870 1332.2 868 1334.5 864.1 1338.4 860.2 1341.5 856.5 1343.6 852.5 1344.9 840.3 1347.8 828.2 1352.6Z"/>
<path class="l" d="M828.2 1352.6 843.8 1345 849.8 1341.1 853.7 1337.7 857.7 1333.2 859.7 1330.6 863.8 1324.1 867.9 1316.1 869.9 1311.5 872 1306.1 874 1299.6 880.3 1275.8 882.5 1269.1 885.3 1266.8 945.2 1268.6 945.2 1268.6 893.5 1268.6 887.3 1271.7 885.5 1277.3 879.2 1301.1 877.1 1307.9 875 1313.5 872.8 1318.4 868.5 1326.7 864.2 1333.7 862 1336.6 857.6 1341.5 853.1 1345.5 848.7 1348.5 844.2 1350.9 839.4 1351.9 828.2 1352.6Z"/>
</g>
<path class="g" d="M842.5 1268.6V1352.6M857.5 1268.6V1352.6M915.5 1268.6V1352.6"/>
<path class="g" d="M822.2 1331.5H950.3M822.2 1310.5H950.3M822.2 1289.5H950.3"/>
<path class="v" d="M828 1268.6V1352.6M886.5 1268.6V1352.6M945 1268.6V1352.6" stroke="#ff0000"/>
<path class="k" clip-path="url(#c9_3)" d="M828.2 1352.6 838.7 1349.8 842.9 1348.2 847 1345.9 851.2 1343 855.4 1339.3 859.6 1334.7 861.6 1331.9 865.8 1325.2 870 1317.1 872.1 1312.3 874.2 1306.9 876.3 1300.2 882.5 1276.4 884.6 1270.3 886.7 1268.6 945.2 1268.6"/>
<path class="m" d="M842.5 1352.6V1363.4M857.5 1352.6V1363.4M872.5 1352.6V1363.4M901.5 1352.6V1363.4M915.5 1352.6V1363.4M930.5 1352.6V1363.4M822.2 1331.5H811.4M822.2 1310.5H811.4M822.2 1289.5H811.4"/>
<path class="t" d="M828.2 1352.6V1371.1M886.7 1352.6V1371.1M945.2 1352.6V1371.1M822.2 1352.6H803.7M822.2 1268.6H803.7" stroke="#ff0000"/>
<rect class="s" x="822.2" y="1269" width="128.1" height="84" stroke="#ff0000"/>
</g>
<g>
<g clip-path="url(#c9_4)">
<path class="b" d="M1007.6 1352.6 1019.4 1346.8 1024.8 1343.3 1029.9 1339 1038.7 1330.5 1044.5 1323.8 1048.3 1318.3 1050.2 1314.9 1054.1 1305.6 1056.1 1300.1 1058.1 1294 1062.3 1277.9 1064.6 1271.1 1066.8 1266.1 1124.6 1268.6 1124.6 1268.6 1068.3 1266.8 1066.1 1271.7 1063.9 1278.4 1059.7 1294.4 1057.7 1300.7 1055.7 1306.2 1051.7 1315.6 1049.7 1319.1 1047.8 1322.1 1043.9 1327.2 1035.9 1335.6 1032.2 1338.6 1026.5 1341.9 1024.8 1343.3 1019.4 1346.8 1007.6 1352.6Z"/>
<path class="b" d="M1007.6 1352.6 1020.9 1351.7 1028 1350.5 1030.3 1349.6 1037.1 1345.7 1041.7 1342 1048.3 1335.2 1052.7 1330 1057.1 1323.5 1059.4 1319.4 1063.7 1309.3 1065.8 1303.5 1068 1296.9 1072.2 1280.8 1074.2 1274.8 1076.9 1268.6 1124.6 1268.6 1124.6 1268.6 1078.6 1268.6 1075.6 1275.3 1073.6 1281.2 1069.5 1297.3 1067.3 1304 1065.1 1309.8 1060.7 1320.1 1058.4 1324.3 1053.9 1331 1049.4 1336.2 1042.8 1343.1 1038 1346.9 1035.4 1348.2 1028 1350.5 1020.9 1351.7 1007.6 1352.6Z"/>
<path class="o" d="M1007.6 1352.6 1019.4 1346.8 1024.8 1343.3 1026.5 1341.9 1032.2 1338.6 1035.9 1335.6 1043.9 1327.2 1047.8 1322.1 1049.7 1319.1 1051.7 1315.6 1055.7 1306.2 1057.7 1300.7 1059.7 1294.4 1063.9 1278.4 1066.1 1271.7 1068.3 1266.8 1124.6 1268.6 1124.6 1268.6 1069.8 1267.5 1067.7 1272.3 1065.5 1278.8 1061.3 1294.9 1059.3 1301.2 1057.2 1306.7 1053.1 1316.4 1051.2 1320 1049.2 1323.1 1045.2 1328.3 1037.1 1336.8 1033.2 1339.9 1027.2 1343.4 1021.3 1345.9 1007.6 1352.6Z"/>
<path class="o" d="M1007.6 1352.6 1020.9 1351.7 1023.2 1351.2 1029.7 1348.4 1036.3 1344.6 1040.8 1340.9 1049.4 1331.9 1053.8 1326.2 1056 1322.8 1058.2 1318.8 1062.4 1308.8 1064.6 1303 1066.7 1296.5 1070.9 1280.4 1072.9 1274.3 1075.4 1268.6 1124.6 1268.6 1124.6 1268.6 1076.9 1268.6 1074.2 1274.8 1072.2 1280.8 1068 1296.9 1065.8 1303.5 1063.7 1309.3 1059.4 1319.4 1057.1 1323.5 1052.7 1330 1048.3 1335.2 1041.7 1342 1037.1 1345.7 1030.3 1349.6 1028 1350.5 1020.9 1351.7 1007.6 1352.6Z"/>
<path class="l" d="M1007.6 1352.6 1021.3 1345.9 1027.2 1343.4 1033.2 1339.9 1037.1 1336.8 1045.2 1328.3 1049.2 1323.1 1051.2 1320 1053.1 1316.4 1057.2 1306.7 1059.3 1301.2 1061.3 1294.9 1065.5 1278.8 1067.7 1272.3 1069.8 1267.5 1124.6 1268.6 1124.6 1268.6 1075.4 1268.6 1072.9 1274.3 1070.9 1280.4 1066.7 1296.5 1064.6 1303 1062.4 1308.8 1058.2 1318.8 1056 1322.8 1053.8 1326.2 1049.4 1331.9 1040.8 1340.9 1036.3 1344.6 1029.7 1348.4 1023.2 1351.2 1020.9 1351.7 1007.6 1352.6Z"/>
</g>
<path class="g" d="M1036.5 1268.6V1352.6M1051.5 1268.6V1352.6M1080.5 1268.6V1352.6M1095.5 1268.6V1352.6M1109.5 1268.6V1352.6"/>
<path class="g" d="M1001.6 1331.5H1129.7M1001.6 1310.5H1129.7M1001.6 1289.5H1129.7"/>
<path class="v" d="M1007.4 1268.6V1352.6M1065.9 1268.6V1352.6M1124.4 1268.6V1352.6" stroke="#ff0000"/>
<path class="k" clip-path="url(#c9_4)" d="M1007.6 1352.6 1022.2 1348.5 1028.5 1345.9 1034.8 1342.3 1038.9 1338.9 1047.3 1330.1 1051.5 1324.6 1053.6 1321.4 1055.7 1317.6 1059.8 1307.8 1061.9 1302.1 1064 1295.7 1068.2 1279.6 1070.3 1273.3 1072.4 1268.6 1124.6 1268.6"/>
<path class="m" d="M1022.5 1352.6V1363.4M1036.5 1352.6V1363.4M1051.5 1352.6V1363.4M1080.5 1352.6V1363.4M1095.5 1352.6V1363.4M1109.5 1352.6V1363.4M1001.6 1331.5H990.8M1001.6 1310.5H990.8M1001.6 1289.5H990.8"/>
<path class="t" d="M1007.6 1352.6V1371.1M1066.1 1352.6V1371.1M1124.6 1352.6V1371.1M1001.6 1352.6H983.1M1001.6 1268.6H983.1" stroke="#ff0000"/>
<rect class="s" x="1001.6" y="1269" width="128.1" height="84" stroke="#ff0000"/>
</g>
<g>
<g clip-path="url(#c9_5)">
<path class="b" d="M1187 1352.6 1198.8 1347.2 1204.1 1343.7 1207.5 1340.8 1213.2 1337 1217 1333.7 1220.8 1329.7 1224.7 1324.5 1228.6 1317.9 1230.6 1314 1232.6 1309.6 1234.6 1304.1 1238.7 1290.7 1240.7 1282.9 1242.9 1272.7 1245.1 1267 1304 1268.6 1304 1268.6 1246.2 1267.4 1244 1273 1241.9 1283.2 1239.8 1291 1235.7 1304.5 1233.7 1310.1 1231.7 1314.6 1227.7 1322 1223.7 1328 1219.8 1332.6 1215.9 1336.4 1212.1 1339.4 1204.2 1343.9 1198.8 1347.2 1187 1352.6Z"/>
<path class="b" d="M1187 1352.6 1199 1347.2 1213.4 1343.6 1221.4 1340.6 1225.1 1338.3 1229 1335 1233 1330.6 1234.9 1328.1 1236.9 1324.8 1247.2 1299.8 1249.3 1294 1251.4 1287.2 1253.5 1281.7 1255.7 1277.6 1262.1 1267.2 1304 1268.6 1304 1268.6 1268.5 1266.9 1266 1270.1 1261.7 1285.4 1259.7 1294 1257.6 1300.6 1255.6 1305.8 1251.5 1314.7 1247.4 1322.3 1245.5 1325.1 1241.5 1329.7 1237.5 1333.5 1231.4 1338.1 1225.5 1341.9 1221.7 1343.6 1217.7 1344.7 1199.2 1348.1 1187 1352.6Z"/>
<path class="o" d="M1187 1352.6 1198.8 1347.2 1204.2 1343.9 1212.1 1339.4 1215.9 1336.4 1219.8 1332.6 1223.7 1328 1227.7 1322 1231.7 1314.6 1233.7 1310.1 1235.7 1304.5 1239.8 1291 1241.9 1283.2 1244 1273 1246.2 1267.4 1304 1268.6 1304 1268.6 1247.4 1267.9 1245.2 1273.4 1243.1 1283.5 1241 1291.3 1236.9 1304.9 1234.8 1310.5 1232.8 1315.1 1228.7 1322.6 1224.7 1328.8 1220.7 1333.5 1216.7 1337.3 1212.7 1340.3 1204.7 1345 1198.8 1347.3 1187 1352.6Z"/>
<path class="o" d="M1187 1352.6 1200.3 1352.1 1202.6 1351.6 1209.2 1348.6 1215.7 1344.7 1220.2 1341.3 1224.5 1337.1 1226.7 1334.7 1231.1 1328.7 1235.4 1321.6 1237.6 1317.3 1239.7 1312.5 1241.9 1306.6 1246.1 1292.8 1248.2 1284.7 1250.3 1274.8 1252.8 1268.6 1304 1268.6 1304 1268.6 1262.1 1267.2 1255.7 1277.6 1253.5 1281.7 1251.4 1287.2 1249.3 1294 1247.2 1299.8 1236.9 1324.8 1234.9 1328.1 1233 1330.6 1229 1335 1225.1 1338.3 1221.4 1340.6 1213.4 1343.6 1199 1347.2 1187 1352.6Z"/>
<path class="l" d="M1187 1352.6 1198.8 1347.3 1204.7 1345 1212.7 1340.3 1216.7 1337.3 1220.7 1333.5 1224.7 1328.8 1228.7 1322.6 1232.8 1315.1 1234.8 1310.5 1236.9 1304.9 1241 1291.3 1243.1 1283.5 1245.2 1273.4 1247.4 1267.9 1304 1268.6 1304 1268.6 1252.8 1268.6 1250.3 1274.8 1248.2 1284.7 1246.1 1292.8 1241.9 1306.6 1239.7 1312.5 1237.6 1317.3 1235.4 1321.6 1231.1 1328.7 1226.7 1334.7 1224.5 1337.1 1220.2 1341.3 1215.7 1344.7 1209.2 1348.6 1202.6 1351.6 1200.3 1352.1 1187 1352.6Z"/>
</g>
<path class="g" d="M1201.5 1268.6V1352.6M1230.5 1268.6V1352.6M1260.5 1268.6V1352.6M1289.5 1268.6V1352.6"/>
<path class="g" d="M1181 1331.5H1309.1M1181 1310.5H1309.1M1181 1289.5H1309.1"/>
<path class="v" d="M1186.8 1268.6V1352.6M1245.3 1268.6V1352.6M1303.8 1268.6V1352.6" stroke="#ff0000"/>
<path class="k" clip-path="url(#c9_5)" d="M1187 1352.6 1199.5 1349.7 1203.7 1348.2 1210 1345 1214.2 1342.4 1218.3 1339.2 1222.5 1335.2 1224.6 1332.9 1228.8 1327.2 1233 1320.3 1235.1 1316.1 1237.1 1311.4 1239.2 1305.7 1243.4 1292 1245.5 1284 1247.6 1274 1249.7 1268.8 1304 1268.6"/>
<path class="m" d="M1201.5 1352.6V1363.4M1216.5 1352.6V1363.4M1230.5 1352.6V1363.4M1260.5 1352.6V1363.4M1274.5 1352.6V1363.4M1289.5 1352.6V1363.4M1181 1331.5H1170.2M1181 1310.5H1170.2M1181 1289.5H1170.2"/>
<path class="t" d="M1187 1352.6V1371.1M1245.5 1352.6V1371.1M1304 1352.6V1371.1M1181 1352.6H1162.5M1181 1268.6H1162.5" stroke="#ff0000"/>
<rect class="s" x="1181" y="1269" width="128.1" height="84" stroke="#ff0000"/>
</g>
<g>
<g clip-path="url(#c9_6)">
<path class="b" d="M1366.4 1352.6 1380.3 1347 1393.4 1339.6 1397.2 1336.8 1403.1 1331.2 1407 1326.7 1410.9 1321 1412.8 1317.5 1416.8 1308.1 1418.9 1302.6 1420.9 1296.4 1427.2 1272.7 1429.4 1267.1 1483.4 1268.6 1483.4 1268.6 1430.4 1267.5 1428.2 1273 1421.9 1296.7 1419.9 1303 1417.8 1308.5 1413.8 1318 1411.8 1321.5 1407.8 1327.3 1403.9 1331.9 1397.9 1337.6 1394 1340.5 1386.1 1344.9 1366.4 1352.6Z"/>
<path class="b" d="M1366.4 1352.6 1381.8 1352.8 1384.1 1352.6 1386.5 1352.1 1391.1 1350 1397.7 1346.2 1402.2 1342.8 1408.8 1336.6 1413.2 1331.5 1417.6 1325 1419.9 1321 1424.2 1310.9 1426.3 1305.2 1428.5 1298.7 1434.7 1275.1 1437.2 1268.6 1483.4 1268.6 1483.4 1268.6 1438.5 1268.6 1435.8 1275.5 1429.6 1299 1427.5 1305.6 1425.3 1311.4 1420.9 1321.6 1418.7 1325.6 1414.2 1332.2 1409.7 1337.4 1405.2 1341.8 1400.7 1345.6 1393.9 1349.9 1391.6 1351 1386.6 1352.2 1381.8 1352.8 1366.4 1352.6Z"/>
<path class="o" d="M1366.4 1352.6 1386.1 1344.9 1394 1340.5 1397.9 1337.6 1403.9 1331.9 1407.8 1327.3 1411.8 1321.5 1413.8 1318 1417.8 1308.5 1419.9 1303 1421.9 1296.7 1428.2 1273 1430.4 1267.5 1483.4 1268.6 1483.4 1268.6 1431.2 1267.8 1429.1 1273.3 1422.8 1297 1420.7 1303.3 1418.7 1308.8 1414.6 1318.4 1412.6 1322 1408.6 1327.9 1404.5 1332.6 1398.5 1338.3 1394.5 1341.3 1386.4 1345.8 1382.5 1347.2 1376.5 1348.7 1366.4 1352.6Z"/>
<path class="o" d="M1366.4 1352.6 1379.5 1352.8 1386.1 1351 1390.5 1349 1397 1345.2 1401.4 1341.9 1407.9 1335.8 1412.3 1330.7 1416.6 1324.4 1418.8 1320.5 1423 1310.5 1425.2 1304.8 1427.3 1298.3 1433.5 1274.7 1435.9 1268.6 1483.4 1268.6 1483.4 1268.6 1437.2 1268.6 1434.7 1275.1 1428.5 1298.7 1426.3 1305.2 1424.2 1310.9 1419.9 1321 1417.6 1325 1413.2 1331.5 1408.8 1336.6 1402.2 1342.8 1397.7 1346.2 1391.1 1350 1386.5 1352.1 1384.1 1352.6 1381.8 1352.8 1366.4 1352.6Z"/>
<path class="l" d="M1366.4 1352.6 1376.5 1348.7 1382.5 1347.2 1386.4 1345.8 1394.5 1341.3 1398.5 1338.3 1404.5 1332.6 1408.6 1327.9 1412.6 1322 1414.6 1318.4 1418.7 1308.8 1420.7 1303.3 1422.8 1297 1429.1 1273.3 1431.2 1267.8 1483.4 1268.6 1483.4 1268.6 1435.9 1268.6 1433.5 1274.7 1427.3 1298.3 1425.2 1304.8 1423 1310.5 1418.8 1320.5 1416.6 1324.4 1412.3 1330.7 1407.9 1335.8 1401.4 1341.9 1397 1345.2 1390.5 1349 1386.1 1351 1379.5 1352.8 1366.4 1352.6Z"/>
</g>
<path class="g" d="M1381.5 1268.6V1352.6M1395.5 1268.6V1352.6M1410.5 1268.6V1352.6M1439.5 1268.6V1352.6M1454.5 1268.6V1352.6"/>
<path class="g" d="M1360.4 1331.5H1488.5M1360.4 1310.5H1488.5M1360.4 1289.5H1488.5"/>
<path class="v" d="M1366.2 1268.6V1352.6M1424.7 1268.6V1352.6M1483.2 1268.6V1352.6" stroke="#ff0000"/>
<path class="k" clip-path="url(#c9_6)" d="M1366.4 1352.6 1381.1 1349.9 1385.2 1348.6 1389.4 1346.8 1395.7 1343.1 1399.8 1340 1406.1 1334.1 1410.3 1329.2 1414.5 1323.1 1416.5 1319.4 1420.7 1309.6 1422.8 1304 1424.9 1297.6 1431.2 1274 1433.3 1268.6 1483.4 1268.6"/>
<path class="m" d="M1381.5 1352.6V1363.4M1395.5 1352.6V1363.4M1410.5 1352.6V1363.4M1439.5 1352.6V1363.4M1454.5 1352.6V1363.4M1468.5 1352.6V1363.4M1360.4 1331.5H1349.6M1360.4 1310.5H1349.6M1360.4 1289.5H1349.6"/>
<path class="t" d="M1366.4 1352.6V1371.1M1424.9 1352.6V1371.1M1483.4 1352.6V1371.1M1360.4 1352.6H1341.9M1360.4 1268.6H1341.9" stroke="#ff0000"/>
<rect class="s" x="1360.4" y="1269" width="128.1" height="84" stroke="#ff0000"/>
</g>
<g>
<g clip-path="url(#c9_7)">
<path class="b" d="M1545.8 1352.6 1557.5 1348.7 1559.7 1347.7 1566.2 1343.4 1570.7 1339.6 1573 1337.2 1575.2 1334.1 1583.7 1319.4 1590 1306.4 1594.3 1296.5 1596.4 1290.3 1598.6 1282 1600.8 1268.6 1662.8 1268.6 1662.8 1268.6 1609.7 1264.7 1606.3 1267.7 1603.8 1274.5 1601.6 1281.9 1597.5 1298.2 1595.5 1304.6 1593.5 1309.9 1591.5 1314.3 1589.5 1318.1 1585.6 1324.5 1581.7 1329.7 1575.9 1335.9 1572.2 1339.1 1561.5 1345.3 1545.8 1352.6Z"/>
<path class="b" d="M1545.8 1352.6 1558 1347.9 1572.3 1345.1 1578.4 1343.3 1580.2 1342.5 1583.9 1340.2 1587.8 1336.7 1593.8 1330 1595.8 1327.1 1599.8 1319.5 1601.9 1315.1 1603.9 1310 1608 1297.6 1612.3 1283.4 1614.5 1278.6 1616.6 1274.8 1618.7 1269.8 1621.1 1266.9 1662.8 1268.6 1662.8 1268.6 1624.8 1267.7 1622.7 1273.5 1620.6 1280.7 1614.3 1304.5 1612.3 1310.6 1610.3 1315.4 1608.2 1319.6 1606.2 1323.2 1602.2 1329 1598.2 1333.8 1594.3 1337.5 1586.3 1343 1582.4 1345 1578.7 1346.1 1558.2 1348.8 1545.8 1352.6Z"/>
<path class="o" d="M1545.8 1352.6 1561.5 1345.3 1572.2 1339.1 1575.9 1335.9 1581.7 1329.7 1585.6 1324.5 1589.5 1318.1 1591.5 1314.3 1593.5 1309.9 1595.5 1304.6 1597.5 1298.2 1601.6 1281.9 1603.8 1274.5 1606.3 1267.7 1609.7 1264.7 1662.8 1268.6 1662.8 1268.6 1610.8 1266.1 1607.9 1268.6 1605.5 1275 1603.4 1282.4 1599.2 1298.7 1597.2 1305.1 1595.2 1310.6 1593.2 1315.1 1591.1 1319 1589.1 1322.4 1585.1 1328.3 1581.1 1333.1 1575.1 1339 1571.4 1341.8 1567.6 1343.6 1559.6 1346.3 1545.8 1352.6Z"/>
<path class="o" d="M1545.8 1352.6 1559 1352.3 1561.2 1351.9 1569.9 1349 1574.4 1346.8 1576.7 1345.3 1581.2 1341.5 1585.5 1337.1 1589.8 1331.9 1594.2 1325.5 1596.3 1321.8 1598.5 1317.6 1600.6 1312.8 1602.8 1307.1 1604.9 1300.3 1609.1 1283.9 1611.1 1276.8 1613 1271.6 1618.7 1268.6 1662.8 1268.6 1662.8 1268.6 1621.1 1266.9 1618.7 1269.8 1616.6 1274.8 1614.5 1278.6 1612.3 1283.4 1608 1297.6 1603.9 1310 1601.9 1315.1 1599.8 1319.5 1595.8 1327.1 1593.8 1330 1587.8 1336.7 1583.9 1340.2 1580.2 1342.5 1578.4 1343.3 1572.3 1345.1 1558 1347.9 1545.8 1352.6Z"/>
<path class="l" d="M1545.8 1352.6 1559.6 1346.3 1567.6 1343.6 1571.4 1341.8 1575.1 1339 1581.1 1333.1 1585.1 1328.3 1589.1 1322.4 1591.1 1319 1593.2 1315.1 1595.2 1310.6 1597.2 1305.1 1599.2 1298.7 1603.4 1282.4 1605.5 1275 1607.9 1268.6 1610.8 1266.1 1662.8 1268.6 1662.8 1268.6 1618.7 1268.6 1613 1271.6 1611.1 1276.8 1609.1 1283.9 1604.9 1300.3 1602.8 1307.1 1600.6 1312.8 1598.5 1317.6 1596.3 1321.8 1594.2 1325.5 1589.8 1331.9 1585.5 1337.1 1581.2 1341.5 1576.7 1345.3 1574.4 1346.8 1569.9 1349 1561.2 1351.9 1559 1352.3 1545.8 1352.6Z"/>
</g>
<path class="g" d="M1575.5 1268.6V1352.6M1633.5 1268.6V1352.6M1648.5 1268.6V1352.6"/>
<path class="g" d="M1539.8 1331.5H1667.9M1539.8 1310.5H1667.9M1539.8 1289.5H1667.9"/>
<path class="v" d="M1545.5 1268.6V1352.6M1604.1 1268.6V1352.6M1662.6 1268.6V1352.6" stroke="#ff0000"/>
<path class="k" clip-path="url(#c9_7)" d="M1545.8 1352.6 1562.5 1348.6 1568.8 1346.4 1573 1344.4 1575.1 1343.1 1579.2 1339.5 1585.5 1332.8 1589.7 1327.3 1593.9 1320.5 1595.9 1316.4 1598 1311.7 1600.1 1306.2 1602.2 1299.5 1606.4 1283.2 1608.5 1276 1610.6 1270.2 1612.7 1268.6 1662.8 1268.6"/>
<path class="m" d="M1560.5 1352.6V1363.4M1575.5 1352.6V1363.4M1589.5 1352.6V1363.4M1618.5 1352.6V1363.4M1633.5 1352.6V1363.4M1648.5 1352.6V1363.4M1539.8 1331.5H1529M1539.8 1310.5H1529M1539.8 1289.5H1529"/>
<path class="t" d="M1545.8 1352.6V1371.1M1604.3 1352.6V1371.1M1662.8 1352.6V1371.1M1539.8 1352.6H1521.3M1539.8 1268.6H1521.3" stroke="#ff0000"/>
<rect class="s" x="1539.8" y="1269" width="128.1" height="84" stroke="#ff0000"/>
</g>
<g>
<g clip-path="url(#c9_8)">
<path class="b" d="M1725.2 1352.6 1738.7 1349.6 1745.2 1346.7 1749.6 1344.2 1754 1341 1756.4 1339 1758.8 1336 1761 1332 1771.5 1311.1 1775.7 1301.1 1777.9 1294.9 1780 1286.4 1782.2 1268.6 1842.2 1268.6 1842.2 1268.6 1793 1264.9 1789.7 1268.3 1787.3 1276.2 1781.1 1301.1 1779.1 1307.5 1777.1 1312.8 1775.1 1317.3 1773.1 1321.2 1771.3 1324.3 1767.5 1329.2 1759.5 1337.2 1756.1 1339.9 1754.5 1340.6 1748.9 1342.6 1725.2 1352.6Z"/>
<path class="b" d="M1725.2 1352.6 1744.9 1352.6 1753.5 1350.4 1758.1 1348.7 1760.6 1347.4 1763.1 1345.7 1771.9 1337.3 1776.3 1332.2 1778.6 1329.1 1780.8 1325.4 1783 1321.1 1785.2 1316.1 1787.3 1310.3 1789.5 1303.5 1795.8 1278.5 1797.6 1272.1 1804.9 1268.6 1842.2 1268.6 1842.2 1268.6 1833.6 1268.6 1798.9 1272.7 1797.1 1278.8 1790.8 1303.9 1788.6 1310.7 1786.4 1316.6 1784.2 1321.6 1782 1326.1 1779.7 1329.9 1777.4 1333.1 1772.8 1338.3 1764 1346.7 1761.3 1348.6 1756.3 1350.9 1751.7 1352.2 1749.3 1352.4 1725.2 1352.6Z"/>
<path class="o" d="M1725.2 1352.6 1748.9 1342.6 1754.5 1340.6 1756.1 1339.9 1759.5 1337.2 1767.5 1329.2 1771.3 1324.3 1773.1 1321.2 1775.1 1317.3 1777.1 1312.8 1779.1 1307.5 1781.1 1301.1 1787.3 1276.2 1789.7 1268.3 1793 1264.9 1842.2 1268.6 1842.2 1268.6 1794.2 1266.3 1791.3 1269.1 1789.1 1276.7 1782.8 1301.6 1780.8 1308.1 1778.7 1313.5 1776.7 1318.1 1774.7 1322.1 1772.8 1325.3 1768.8 1330.3 1760.7 1338.5 1757 1341.5 1755.3 1342.3 1751.4 1343.7 1739.2 1346.9 1725.2 1352.6Z"/>
<path class="o" d="M1725.2 1352.6 1738.2 1352.8 1751 1349.9 1757.6 1347.6 1760 1346.4 1762.4 1344.7 1771 1336.5 1775.3 1331.5 1777.5 1328.5 1779.7 1324.8 1781.9 1320.5 1784.1 1315.7 1786.2 1309.9 1788.3 1303.1 1794.6 1278.2 1796.5 1271.6 1801.1 1268.6 1842.2 1268.6 1842.2 1268.6 1804.9 1268.6 1797.6 1272.1 1795.8 1278.5 1789.5 1303.5 1787.3 1310.3 1785.2 1316.1 1783 1321.1 1780.8 1325.4 1778.6 1329.1 1776.3 1332.2 1771.9 1337.3 1763.1 1345.7 1760.6 1347.4 1758.1 1348.7 1753.5 1350.4 1744.9 1352.6 1725.2 1352.6Z"/>
<path class="l" d="M1725.2 1352.6 1739.2 1346.9 1751.4 1343.7 1755.3 1342.3 1757 1341.5 1760.7 1338.5 1768.8 1330.3 1772.8 1325.3 1774.7 1322.1 1776.7 1318.1 1778.7 1313.5 1780.8 1308.1 1782.8 1301.6 1789.1 1276.7 1791.3 1269.1 1794.2 1266.3 1842.2 1268.6 1842.2 1268.6 1801.1 1268.6 1796.5 1271.6 1794.6 1278.2 1788.3 1303.1 1786.2 1309.9 1784.1 1315.7 1781.9 1320.5 1779.7 1324.8 1777.5 1328.5 1775.3 1331.5 1771 1336.5 1762.4 1344.7 1760 1346.4 1757.6 1347.6 1751 1349.9 1738.2 1352.8 1725.2 1352.6Z"/>
</g>
<path class="g" d="M1754.5 1268.6V1352.6M1769.5 1268.6V1352.6M1798.5 1268.6V1352.6M1827.5 1268.6V1352.6"/>
<path class="g" d="M1719.2 1331.5H1847.3M1719.2 1310.5H1847.3M1719.2 1289.5H1847.3"/>
<path class="v" d="M1725 1268.6V1352.6M1783.5 1268.6V1352.6M1842 1268.6V1352.6" stroke="#ff0000"/>
<path class="k" clip-path="url(#c9_8)" d="M1725.2 1352.6 1750.3 1347.3 1756.5 1345.1 1758.6 1344.1 1760.7 1342.6 1769.1 1334.6 1773.3 1329.9 1775.3 1327 1777.4 1323.6 1779.5 1319.4 1781.6 1314.7 1783.7 1309.1 1785.8 1302.4 1792.1 1277.5 1794.1 1270.4 1796.2 1268.6 1842.2 1268.6"/>
<path class="m" d="M1739.5 1352.6V1363.4M1754.5 1352.6V1363.4M1769.5 1352.6V1363.4M1798.5 1352.6V1363.4M1812.5 1352.6V1363.4M1827.5 1352.6V1363.4M1719.2 1331.5H1708.4M1719.2 1310.5H1708.4M1719.2 1289.5H1708.4"/>
<path class="t" d="M1725.2 1352.6V1371.1M1783.7 1352.6V1371.1M1842.2 1352.6V1371.1M1719.2 1352.6H1700.7M1719.2 1268.6H1700.7" stroke="#ff0000"/>
<rect class="s" x="1719.2" y="1269" width="128.1" height="84" stroke="#ff0000"/>
</g>
<g>
<g clip-path="url(#c9_9)">
<path class="b" d="M1904.6 1352.6 1924.3 1343.5 1927.8 1341.4 1929.3 1340.3 1931.9 1337.4 1939.5 1330.3 1943.2 1326 1945 1323.6 1946.8 1320.7 1950.6 1312.6 1958.9 1291 1965.1 1271.2 1967.4 1266 2021.6 1268.6 2021.6 1268.6 1969 1266.8 1966.8 1271.9 1960.6 1291.6 1952.3 1313.3 1948.4 1321.6 1946.5 1324.6 1944.6 1327.2 1940.8 1331.5 1934.8 1337.2 1931.2 1340 1924.3 1343.5 1904.6 1352.6Z"/>
<path class="b" d="M1904.6 1352.6 1926.7 1351.7 1931.6 1351 1934.3 1350.4 1937.2 1349.3 1942.1 1345.5 1948.7 1339.2 1953.3 1334 1955.6 1330.8 1958 1327 1962.5 1317.6 1971 1295.3 1977.2 1275.7 1980.3 1268.6 2021.6 1268.6 2021.6 1268.6 1988.9 1266.4 1985.8 1268.7 1983.6 1275.7 1979.5 1285.2 1969 1311.9 1962.9 1324.9 1960.9 1328 1956.9 1333 1952.9 1337.3 1949.1 1340.5 1947.3 1341.5 1945.5 1342.3 1937.4 1344.6 1916.8 1348.1 1904.6 1352.6Z"/>
<path class="o" d="M1904.6 1352.6 1924.3 1343.5 1931.2 1340 1934.8 1337.2 1940.8 1331.5 1944.6 1327.2 1946.5 1324.6 1948.4 1321.6 1952.3 1313.3 1960.6 1291.6 1966.8 1271.9 1969 1266.8 2021.6 1268.6 2021.6 1268.6 1970.7 1267.5 1968.5 1272.5 1962.3 1292.2 1954 1314 1949.9 1322.5 1948 1325.6 1946 1328.3 1942.1 1332.8 1936 1338.5 1932.2 1341.5 1928.5 1343.3 1918.5 1346.4 1904.6 1352.6Z"/>
<path class="o" d="M1904.6 1352.6 1926.7 1351.7 1931.2 1350.2 1933.7 1349.2 1936.2 1347.8 1940.9 1344.1 1947.4 1337.9 1951.9 1332.9 1954.1 1329.8 1956.4 1326.1 1960.8 1316.9 1969.2 1294.7 1975.5 1275 1978.3 1268.6 2021.6 1268.6 2021.6 1268.6 1980.3 1268.6 1977.2 1275.7 1971 1295.3 1962.5 1317.6 1958 1327 1955.6 1330.8 1953.3 1334 1948.7 1339.2 1942.1 1345.5 1937.2 1349.3 1934.3 1350.4 1931.6 1351 1926.7 1351.7 1904.6 1352.6Z"/>
<path class="l" d="M1904.6 1352.6 1918.5 1346.4 1928.5 1343.3 1932.2 1341.5 1936 1338.5 1942.1 1332.8 1946 1328.3 1948 1325.6 1949.9 1322.5 1954 1314 1962.3 1292.2 1968.5 1272.5 1970.7 1267.5 2021.6 1268.6 2021.6 1268.6 1978.3 1268.6 1975.5 1275 1969.2 1294.7 1960.8 1316.9 1956.4 1326.1 1954.1 1329.8 1951.9 1332.9 1947.4 1337.9 1940.9 1344.1 1936.2 1347.8 1933.7 1349.2 1931.2 1350.2 1926.7 1351.7 1904.6 1352.6Z"/>
</g>
<path class="g" d="M1919.5 1268.6V1352.6M1948.5 1268.6V1352.6M1992.5 1268.6V1352.6"/>
<path class="g" d="M1898.6 1331.5H2026.7M1898.6 1310.5H2026.7M1898.6 1289.5H2026.7"/>
<path class="v" d="M1904.4 1268.6V1352.6M1962.9 1268.6V1352.6M2021.4 1268.6V1352.6" stroke="#ff0000"/>
<path class="k" clip-path="url(#c9_9)" d="M1904.6 1352.6 1925.5 1347.6 1931.8 1345.3 1933.9 1344.1 1938 1340.9 1944.3 1334.9 1948.5 1330.2 1950.6 1327.4 1952.7 1324 1956.8 1315.2 1965.2 1293.2 1971.5 1273.6 1973.5 1268.7 2021.6 1268.6"/>
<path class="m" d="M1919.5 1352.6V1363.4M1933.5 1352.6V1363.4M1948.5 1352.6V1363.4M1977.5 1352.6V1363.4M1992.5 1352.6V1363.4M2006.5 1352.6V1363.4M1898.6 1331.5H1887.8M1898.6 1310.5H1887.8M1898.6 1289.5H1887.8"/>
<path class="t" d="M1904.6 1352.6V1371.1M1963.1 1352.6V1371.1M2021.6 1352.6V1371.1M1898.6 1352.6H1880.1M1898.6 1268.6H1880.1" stroke="#ff0000"/>
<rect class="s" x="1898.6" y="1269" width="128.1" height="84" stroke="#ff0000"/>
</g>
<g>
<g clip-path="url(#c9_10)">
<path class="b" d="M2084 1352.5 2097.8 1346.3 2105.8 1343.6 2111.7 1340.6 2115.5 1338 2119.4 1334.4 2123.4 1330.1 2127.4 1324.4 2131.4 1317.5 2135.5 1308.6 2139.6 1297.5 2145.8 1276.7 2148.1 1267.8 2152.2 1265.6 2201 1268.6 2201 1268.6 2152.4 1266.2 2148.6 1268 2146.4 1276.8 2140.1 1297.6 2136 1308.9 2134 1313.5 2129.9 1321.5 2125.8 1327.8 2121.9 1332.7 2117.8 1336.7 2113.9 1339.9 2110 1342.2 2104 1344.9 2095.9 1347.4 2084 1352.5Z"/>
<path class="b" d="M2084 1352.5 2097.1 1352.3 2103.6 1350.5 2110.2 1347.9 2114.6 1345.5 2119.1 1342.4 2123.5 1338.5 2127.8 1333.7 2132.2 1327.5 2136.5 1320.1 2140.8 1310.8 2145 1299.3 2151.3 1278.2 2153.2 1270.2 2153.6 1271.2 2153.6 1268.6 2201 1268.6 2201 1268.6 2154.4 1268.6 2152.1 1278.4 2145.7 1299.5 2141.5 1311.1 2137.2 1320.4 2132.8 1327.9 2128.4 1334.2 2124 1339 2119.6 1343 2115 1346.2 2108.3 1349.5 2101.7 1351.9 2099.4 1352.1 2084 1352.5Z"/>
<path class="o" d="M2084 1352.5 2095.9 1347.4 2104 1344.9 2110 1342.2 2113.9 1339.9 2117.8 1336.7 2121.9 1332.7 2125.8 1327.8 2129.9 1321.5 2134 1313.5 2136 1308.9 2140.1 1297.6 2146.4 1276.8 2148.6 1268 2152.4 1266.2 2201 1268.6 2201 1268.6 2152.5 1266.8 2149.2 1268.3 2146.9 1277 2140.7 1297.8 2136.6 1309.1 2132.5 1318 2128.4 1325.1 2124.3 1330.8 2120.3 1335.3 2116.2 1338.9 2112.3 1341.7 2108.3 1343.8 2102.2 1346.2 2092 1349.1 2084 1352.5Z"/>
<path class="o" d="M2084 1352.5 2092.7 1352.4 2101.3 1350.5 2107.7 1348.1 2114.2 1344.9 2118.6 1341.8 2122.9 1337.9 2127.3 1333.2 2131.6 1327.1 2135.8 1319.7 2140.1 1310.5 2144.3 1299 2150.6 1278 2152.6 1269.9 2153.4 1270.4 2153.4 1268.6 2201 1268.6 2201 1268.6 2153.6 1268.6 2153.6 1271.2 2153.2 1270.2 2151.3 1278.2 2145 1299.3 2140.8 1310.8 2136.5 1320.1 2132.2 1327.5 2127.8 1333.7 2123.5 1338.5 2119.1 1342.4 2114.6 1345.5 2110.2 1347.9 2103.6 1350.5 2097.1 1352.3 2084 1352.5Z"/>
<path class="l" d="M2084 1352.5 2092 1349.1 2102.2 1346.2 2108.3 1343.8 2112.3 1341.7 2116.2 1338.9 2120.3 1335.3 2124.3 1330.8 2128.4 1325.1 2132.5 1318 2136.6 1309.1 2140.7 1297.8 2146.9 1277 2149.2 1268.3 2152.5 1266.8 2201 1268.6 2201 1268.6 2153.4 1268.6 2153.4 1270.4 2152.6 1269.9 2150.6 1278 2144.3 1299 2140.1 1310.5 2135.8 1319.7 2131.6 1327.1 2127.3 1333.2 2122.9 1337.9 2118.6 1341.8 2114.2 1344.9 2107.7 1348.1 2101.3 1350.5 2092.7 1352.4 2084 1352.5Z"/>
</g>
<path class="g" d="M2098.5 1268.6V1352.6M2113.5 1268.6V1352.6M2157.5 1268.6V1352.6M2186.5 1268.6V1352.6"/>
<path class="g" d="M2078 1331.5H2206.1M2078 1310.5H2206.1M2078 1289.5H2206.1"/>
<path class="v" d="M2083.8 1268.6V1352.6M2142.3 1268.6V1352.6M2200.8 1268.6V1352.6" stroke="#ff0000"/>
<path class="k" clip-path="url(#c9_10)" d="M2084 1352.5 2100.7 1348.7 2107 1346.4 2113.3 1343.3 2117.4 1340.4 2121.6 1336.6 2125.8 1332 2130 1326.1 2134.1 1318.9 2138.3 1309.8 2142.5 1298.4 2148.8 1277.5 2150.9 1269.1 2152.9 1268.6 2201 1268.6"/>
<path class="m" d="M2098.5 1352.6V1363.4M2113.5 1352.6V1363.4M2127.5 1352.6V1363.4M2157.5 1352.6V1363.4M2171.5 1352.6V1363.4M2186.5 1352.6V1363.4M2078 1331.5H2067.2M2078 1310.5H2067.2M2078 1289.5H2067.2"/>
<path class="t" d="M2084 1352.6V1371.1M2142.5 1352.6V1371.1M2201 1352.6V1371.1M2078 1352.6H2059.5M2078 1268.6H2059.5" stroke="#ff0000"/>
<rect class="s" x="2078" y="1269" width="128.1" height="84" stroke="#ff0000"/>
</g>
<text x="1214.6" y="69.9" text-anchor="middle">First dose with the infection of 10 cells</text>
<text x="1213.6" y="127" text-anchor="middle">Time between doses (hours)</text>
<text x="347.1" y="192.8" text-anchor="middle">24</text>
<text x="526.4" y="192.8" text-anchor="middle">36</text>
<text x="705.8" y="192.8" text-anchor="middle">48</text>
<text x="885.2" y="192.8" text-anchor="middle">60</text>
<text x="1064.7" y="192.8" text-anchor="middle">72</text>
<text x="1244" y="192.8" text-anchor="middle">84</text>
<text x="1423.5" y="192.8" text-anchor="middle">96</text>
<text x="1602.8" y="192.8" text-anchor="middle">108</text>
<text x="1782.2" y="192.8" text-anchor="middle">120</text>
<text x="1961.7" y="192.8" text-anchor="middle">132</text>
<text x="2141.1" y="192.8" text-anchor="middle">144</text>
<text x="246.2" y="225.1" text-anchor="end">900</text>
<text x="246.2" y="309.1" text-anchor="end">0</text>
<text x="2224.9" y="249" text-anchor="middle" transform="rotate(90 2224.9 249)">0.01</text>
<text x="246.2" y="343" text-anchor="end">900</text>
<text x="246.2" y="427" text-anchor="end">0</text>
<text x="2224.9" y="366.9" text-anchor="middle" transform="rotate(90 2224.9 366.9)">0.02</text>
<text x="246.2" y="460.9" text-anchor="end">900</text>
<text x="246.2" y="544.9" text-anchor="end">0</text>
<text x="2224.9" y="484.8" text-anchor="middle" transform="rotate(90 2224.9 484.8)">0.03</text>
<text x="246.2" y="578.8" text-anchor="end">900</text>
<text x="246.2" y="662.8" text-anchor="end">0</text>
<text x="2224.9" y="602.7" text-anchor="middle" transform="rotate(90 2224.9 602.7)">0.04</text>
<text x="246.2" y="696.7" text-anchor="end">900</text>
<text x="246.2" y="780.7" text-anchor="end">0</text>
<text x="2224.9" y="720.6" text-anchor="middle" transform="rotate(90 2224.9 720.6)">0.05</text>
<text x="246.2" y="814.6" text-anchor="end">900</text>
<text x="246.2" y="898.6" text-anchor="end">0</text>
<text x="2224.9" y="838.5" text-anchor="middle" transform="rotate(90 2224.9 838.5)">0.06</text>
<text x="246.2" y="932.5" text-anchor="end">900</text>
<text x="246.2" y="1016.5" text-anchor="end">0</text>
<text x="2224.9" y="956.4" text-anchor="middle" transform="rotate(90 2224.9 956.4)">0.07</text>
<text x="246.2" y="1050.4" text-anchor="end">900</text>
<text x="246.2" y="1134.4" text-anchor="end">0</text>
<text x="2224.9" y="1074.3" text-anchor="middle" transform="rotate(90 2224.9 1074.3)">0.08</text>
<text x="246.2" y="1168.3" text-anchor="end">900</text>
<text x="246.2" y="1252.3" text-anchor="end">0</text>
<text x="2224.9" y="1192.2" text-anchor="middle" transform="rotate(90 2224.9 1192.2)">0.09</text>
<text x="246.2" y="1286.2" text-anchor="end">900</text>
<text x="246.2" y="1370.2" text-anchor="end">0</text>
<text x="2224.9" y="1310.1" text-anchor="middle" transform="rotate(90 2224.9 1310.1)">0.1</text>
<text x="289.5" y="1426.6" text-anchor="middle">0</text>
<text x="406.5" y="1426.6" text-anchor="middle">28</text>
<text x="468.9" y="1426.6" text-anchor="middle">0</text>
<text x="585.9" y="1426.6" text-anchor="middle">28</text>
<text x="648.3" y="1426.6" text-anchor="middle">0</text>
<text x="765.3" y="1426.6" text-anchor="middle">28</text>
<text x="827.7" y="1426.6" text-anchor="middle">0</text>
<text x="944.7" y="1426.6" text-anchor="middle">28</text>
<text x="1007.1" y="1426.6" text-anchor="middle">0</text>
<text x="1124.1" y="1426.6" text-anchor="middle">28</text>
<text x="1186.5" y="1426.6" text-anchor="middle">0</text>
<text x="1303.5" y="1426.6" text-anchor="middle">28</text>
<text x="1365.9" y="1426.6" text-anchor="middle">0</text>
<text x="1482.9" y="1426.6" text-anchor="middle">28</text>
<text x="1545.3" y="1426.6" text-anchor="middle">0</text>
<text x="1662.3" y="1426.6" text-anchor="middle">28</text>
<text x="1724.7" y="1426.6" text-anchor="middle">0</text>
<text x="1841.7" y="1426.6" text-anchor="middle">28</text>
<text x="1904.1" y="1426.6" text-anchor="middle">0</text>
<text x="2021.1" y="1426.6" text-anchor="middle">28</text>
<text x="2083.5" y="1426.6" text-anchor="middle">0</text>
<text x="2200.5" y="1426.6" text-anchor="middle">28</text>
<text x="1214.2" y="1503.6" text-anchor="middle">Simulation time (days)</text>
<text x="98.3" y="772.7" text-anchor="middle" transform="rotate(-90 98.3 772.7)">Number of dead cells</text>
<text x="2328.4" y="773.8" text-anchor="middle" transform="rotate(90 2328.4 773.8)">IC50 multiplier</text>
</svg></body></html>
